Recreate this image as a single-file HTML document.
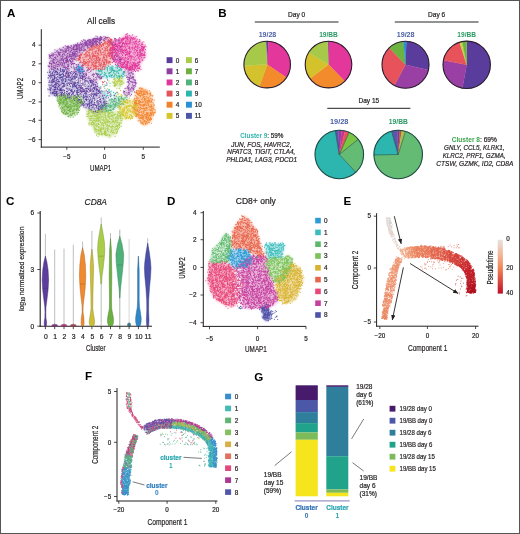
<!DOCTYPE html><html><head><meta charset="utf-8"><style>html,body{margin:0;padding:0;background:#fff;}svg{display:block;}text{font-family:"Liberation Sans", sans-serif;}svg{will-change:transform;}</style></head><body>
<svg width="520" height="534" viewBox="0 0 520 534">
<rect x="0" y="0" width="520" height="534" fill="#fff"/>
<defs><filter id="bl" x="-20%" y="-20%" width="140%" height="140%"><feGaussianBlur stdDeviation="1.3"/></filter></defs>
<text x="7.1" y="16.7" font-size="11.6" text-anchor="start" fill="#000" font-weight="bold" font-style="normal" >A</text>
<text x="218.3" y="16.7" font-size="11.6" text-anchor="start" fill="#000" font-weight="bold" font-style="normal" >B</text>
<text x="6" y="204.9" font-size="11.6" text-anchor="start" fill="#000" font-weight="bold" font-style="normal" >C</text>
<text x="166.9" y="204.9" font-size="11.6" text-anchor="start" fill="#000" font-weight="bold" font-style="normal" >D</text>
<text x="343.6" y="204.8" font-size="11.6" text-anchor="start" fill="#000" font-weight="bold" font-style="normal" >E</text>
<text x="84.9" y="380.4" font-size="11.6" text-anchor="start" fill="#000" font-weight="bold" font-style="normal" >F</text>
<text x="254.2" y="380.7" font-size="11.6" text-anchor="start" fill="#000" font-weight="bold" font-style="normal" >G</text>
<text x="87.1" y="23.7" font-size="8.5" text-anchor="start" fill="#231f20" font-weight="normal" font-style="normal" stroke="#231f20" stroke-width="0.2" textLength="27.9" lengthAdjust="spacingAndGlyphs" >All cells</text>
<line x1="41.3" y1="29.2" x2="41.3" y2="147.6" stroke="#231f20" stroke-width="1" />
<line x1="40.8" y1="147.1" x2="159.8" y2="147.1" stroke="#231f20" stroke-width="1" />
<line x1="38.5" y1="45.2" x2="41.3" y2="45.2" stroke="#231f20" stroke-width="0.8" />
<text x="35.6" y="47.400000000000006" font-size="6.3" text-anchor="end" fill="#231f20" font-weight="normal" font-style="normal" stroke="#231f20" stroke-width="0.2" >4</text>
<line x1="38.5" y1="63.8" x2="41.3" y2="63.8" stroke="#231f20" stroke-width="0.8" />
<text x="35.6" y="66.0" font-size="6.3" text-anchor="end" fill="#231f20" font-weight="normal" font-style="normal" stroke="#231f20" stroke-width="0.2" >2</text>
<line x1="38.5" y1="82.7" x2="41.3" y2="82.7" stroke="#231f20" stroke-width="0.8" />
<text x="35.6" y="84.9" font-size="6.3" text-anchor="end" fill="#231f20" font-weight="normal" font-style="normal" stroke="#231f20" stroke-width="0.2" >0</text>
<line x1="38.5" y1="101.9" x2="41.3" y2="101.9" stroke="#231f20" stroke-width="0.8" />
<text x="35.6" y="104.10000000000001" font-size="6.3" text-anchor="end" fill="#231f20" font-weight="normal" font-style="normal" stroke="#231f20" stroke-width="0.2" >−2</text>
<line x1="38.5" y1="120.3" x2="41.3" y2="120.3" stroke="#231f20" stroke-width="0.8" />
<text x="35.6" y="122.5" font-size="6.3" text-anchor="end" fill="#231f20" font-weight="normal" font-style="normal" stroke="#231f20" stroke-width="0.2" >−4</text>
<line x1="38.5" y1="139.6" x2="41.3" y2="139.6" stroke="#231f20" stroke-width="0.8" />
<text x="35.6" y="141.79999999999998" font-size="6.3" text-anchor="end" fill="#231f20" font-weight="normal" font-style="normal" stroke="#231f20" stroke-width="0.2" >−6</text>
<line x1="66.8" y1="147.1" x2="66.8" y2="149.9" stroke="#231f20" stroke-width="0.8" />
<text x="66.8" y="159.2" font-size="6.3" text-anchor="middle" fill="#231f20" font-weight="normal" font-style="normal" stroke="#231f20" stroke-width="0.2" >−5</text>
<line x1="104.6" y1="147.1" x2="104.6" y2="149.9" stroke="#231f20" stroke-width="0.8" />
<text x="104.6" y="159.2" font-size="6.3" text-anchor="middle" fill="#231f20" font-weight="normal" font-style="normal" stroke="#231f20" stroke-width="0.2" >0</text>
<line x1="143.3" y1="147.1" x2="143.3" y2="149.9" stroke="#231f20" stroke-width="0.8" />
<text x="143.3" y="159.2" font-size="6.3" text-anchor="middle" fill="#231f20" font-weight="normal" font-style="normal" stroke="#231f20" stroke-width="0.2" >5</text>
<text x="90" y="171.1" font-size="8.8" text-anchor="start" fill="#231f20" font-weight="normal" font-style="normal" stroke="#231f20" stroke-width="0.2" textLength="21.2" lengthAdjust="spacingAndGlyphs" >UMAP1</text>
<text x="0" y="0" font-size="8.8" text-anchor="middle" fill="#231f20" stroke="#231f20" stroke-width="0.2" textLength="21.1" lengthAdjust="spacingAndGlyphs" transform="translate(23.4,88.5) rotate(-90)">UMAP2</text>
<rect x="166.6" y="57.20" width="5.9" height="5.9" fill="#5a3c9c"/>
<text x="175.79999999999998" y="62.5" font-size="6.4" text-anchor="start" fill="#231f20" font-weight="normal" font-style="normal" stroke="#231f20" stroke-width="0.2" >0</text>
<rect x="166.6" y="68.34" width="5.9" height="5.9" fill="#8e3fa2"/>
<text x="175.79999999999998" y="73.64" font-size="6.4" text-anchor="start" fill="#231f20" font-weight="normal" font-style="normal" stroke="#231f20" stroke-width="0.2" >1</text>
<rect x="166.6" y="79.48" width="5.9" height="5.9" fill="#e2379a"/>
<text x="175.79999999999998" y="84.78" font-size="6.4" text-anchor="start" fill="#231f20" font-weight="normal" font-style="normal" stroke="#231f20" stroke-width="0.2" >2</text>
<rect x="166.6" y="90.62" width="5.9" height="5.9" fill="#e4525a"/>
<text x="175.79999999999998" y="95.92" font-size="6.4" text-anchor="start" fill="#231f20" font-weight="normal" font-style="normal" stroke="#231f20" stroke-width="0.2" >3</text>
<rect x="166.6" y="101.76" width="5.9" height="5.9" fill="#f38129"/>
<text x="175.79999999999998" y="107.06" font-size="6.4" text-anchor="start" fill="#231f20" font-weight="normal" font-style="normal" stroke="#231f20" stroke-width="0.2" >4</text>
<rect x="166.6" y="112.90" width="5.9" height="5.9" fill="#d4c62a"/>
<text x="175.79999999999998" y="118.2" font-size="6.4" text-anchor="start" fill="#231f20" font-weight="normal" font-style="normal" stroke="#231f20" stroke-width="0.2" >5</text>
<rect x="186" y="57.20" width="5.9" height="5.9" fill="#a8cd4b"/>
<text x="194.7" y="62.5" font-size="6.4" text-anchor="start" fill="#231f20" font-weight="normal" font-style="normal" stroke="#231f20" stroke-width="0.2" >6</text>
<rect x="186" y="68.34" width="5.9" height="5.9" fill="#6cb13f"/>
<text x="194.7" y="73.64" font-size="6.4" text-anchor="start" fill="#231f20" font-weight="normal" font-style="normal" stroke="#231f20" stroke-width="0.2" >7</text>
<rect x="186" y="79.48" width="5.9" height="5.9" fill="#4fb47a"/>
<text x="194.7" y="84.78" font-size="6.4" text-anchor="start" fill="#231f20" font-weight="normal" font-style="normal" stroke="#231f20" stroke-width="0.2" >8</text>
<rect x="186" y="90.62" width="5.9" height="5.9" fill="#2db5b0"/>
<text x="194.7" y="95.92" font-size="6.4" text-anchor="start" fill="#231f20" font-weight="normal" font-style="normal" stroke="#231f20" stroke-width="0.2" >9</text>
<rect x="186" y="101.76" width="5.9" height="5.9" fill="#2a8fd3"/>
<text x="194.7" y="107.06" font-size="6.4" text-anchor="start" fill="#231f20" font-weight="normal" font-style="normal" stroke="#231f20" stroke-width="0.2" >10</text>
<rect x="186" y="112.90" width="5.9" height="5.9" fill="#4a57a8"/>
<text x="194.7" y="118.2" font-size="6.4" text-anchor="start" fill="#231f20" font-weight="normal" font-style="normal" stroke="#231f20" stroke-width="0.2" >11</text>
<g filter="url(#bl)">
<path d="M49.0 54.0L51.0 53.5L52.8 52.5L54.4 51.2L56.0 50.0L58.2 49.1L60.4 48.2L62.5 47.1L64.8 46.2L67.1 46.2L69.6 46.4L71.9 46.2L74.0 45.3L76.1 44.2L78.0 43.3L80.0 42.6L81.9 41.7L83.8 40.8L85.8 40.2L88.0 40.0L90.1 40.0L92.1 39.6L94.0 38.6L95.9 37.6L97.9 36.9L100.0 36.7L102.3 36.9L104.7 37.0L106.8 36.9L104.9 38.5L103.6 40.2L101.9 41.7L100.2 43.5L98.4 44.8L96.3 45.6L94.1 46.2L92.1 47.1L90.0 48.0L87.8 48.7L85.7 49.7L83.8 51.2L82.2 53.0L80.5 54.4L78.8 56.1L77.0 57.8L75.5 59.8L74.7 61.9L73.9 63.8L71.9 64.9L70.1 66.2L68.4 67.7L66.2 69.1L64.1 69.0L62.0 68.6L59.9 68.4L58.0 68.8L55.7 69.2L53.5 69.5L51.2 69.7L48.9 70.0L48.5 68.0L48.4 66.0L48.7 64.0L49.3 62.0L49.7 60.0L49.4 58.0L48.9 56.0Z" fill="#8e3fa2" fill-opacity="0.38"/>
<path d="M66.0 68.0L68.4 67.7L70.4 66.8L72.3 65.5L74.1 64.2L76.0 63.1L78.1 61.9L80.4 62.8L82.5 64.0L84.1 65.8L85.8 67.4L87.7 68.6L89.9 69.2L92.1 69.8L94.1 70.7L96.1 71.9L98.1 72.9L100.1 74.0L100.5 76.0L100.7 78.2L101.7 79.1L99.8 80.1L98.1 81.5L95.6 82.7L93.6 81.7L91.8 80.4L89.9 79.3L87.9 78.2L86.1 76.8L84.3 75.3L82.4 74.3L80.1 73.8L77.9 73.9L75.9 73.6L73.9 72.7L72.1 71.8L70.2 70.4L68.1 69.2Z" fill="#8e3fa2" fill-opacity="0.21"/>
<path d="M75.7 59.8L77.3 58.0L78.7 56.0L80.1 54.1L82.3 53.2L84.4 52.2L86.2 50.6L87.8 48.6L89.5 47.1L91.6 46.2L93.9 45.7L96.0 45.0L98.1 44.1L100.2 43.3L102.3 42.6L104.4 41.5L106.0 39.5L108.2 37.4L110.6 38.6L112.7 40.0L112.9 42.4L113.5 44.7L114.0 47.0L113.7 49.2L113.7 51.5L114.0 53.8L113.9 56.1L113.1 58.0L112.1 59.9L111.3 61.9L111.5 63.3L109.8 65.0L107.9 66.5L106.0 68.0L104.1 69.0L102.2 70.0L100.0 70.7L98.0 70.2L96.0 69.6L94.0 69.4L92.1 69.7L89.9 69.2L87.8 68.4L85.9 67.2L83.9 66.1L82.3 64.9L80.8 63.6L79.5 62.1L78.2 60.5Z" fill="#e4525a" fill-opacity="0.38"/>
<path d="M66.1 47.2L68.0 46.3L70.0 45.6L72.0 45.1L73.9 44.3L75.8 43.5L77.9 43.0L80.1 43.0L82.3 42.9L84.3 42.3L86.1 41.1L87.9 39.8L89.9 39.0L91.9 38.5L93.9 38.0L95.8 37.4L97.9 37.0L100.0 37.1L102.1 37.4L104.1 37.3L106.0 36.6L108.2 35.9L110.1 39.3L108.0 39.6L106.0 40.1L104.0 40.7L101.9 41.2L99.9 41.5L97.8 42.0L96.0 43.1L94.2 44.4L92.3 45.4L90.3 45.8L88.1 46.0L85.9 46.4L83.9 47.1L81.8 47.8L79.8 48.4L77.8 48.9L75.9 49.9L74.1 51.2L72.2 52.1L69.6 52.3L68.7 50.3L67.7 48.4Z" fill="#8e3fa2" fill-opacity="0.17"/>
<path d="M145.8 52.5L146.1 54.7L146.0 57.1L144.7 59.0L143.3 60.7L141.7 62.3L140.7 64.3L139.1 66.0L137.4 67.5L135.3 68.4L133.1 69.5L130.9 70.0L128.5 69.8L126.3 68.7L124.4 67.9L122.2 67.3L119.8 67.1L117.8 66.0L116.0 64.7L114.5 62.9L112.9 61.2L112.1 59.1L111.7 56.9L111.9 54.6L111.4 52.6L111.1 50.3L110.9 47.8L111.9 45.8L113.2 43.9L114.8 42.3L116.3 40.7L118.2 39.5L120.1 38.6L122.1 37.6L124.0 36.1L126.1 35.0L128.6 34.5L130.8 35.3L133.0 36.0L135.1 37.0L137.2 37.9L138.8 39.4L140.5 40.8L142.2 42.3L144.1 43.8L145.1 45.8L145.5 48.1L145.1 50.4Z" fill="#e2379a" fill-opacity="0.42"/>
<path d="M120.0 65.9L121.9 65.0L123.9 64.5L125.9 64.7L128.0 64.9L130.0 64.9L132.0 64.6L134.0 64.4L135.8 64.3L137.8 65.6L140.1 66.5L142.5 68.5L140.2 70.2L138.1 71.4L136.1 71.0L134.1 71.1L132.0 71.2L130.0 71.2L127.9 71.1L125.7 70.2L123.5 69.3L121.6 67.9Z" fill="#e2379a" fill-opacity="0.30"/>
<path d="M96.6 70.2L98.3 69.3L100.3 68.7L102.3 68.0L104.0 67.1L106.0 66.8L108.0 66.6L110.1 66.4L112.0 66.0L114.0 65.3L116.2 65.4L118.1 66.0L120.0 67.1L121.5 68.0L122.7 69.5L124.3 70.8L125.8 71.9L125.0 74.5L124.0 77.4L122.1 78.0L120.1 78.3L118.1 78.2L116.0 77.8L113.9 77.5L111.9 77.8L110.0 78.6L108.0 78.8L106.0 78.8L104.0 78.6L101.9 78.6L99.3 77.6L97.0 76.0L97.6 73.5Z" fill="#2db5b0" fill-opacity="0.26"/>
<path d="M124.7 81.9L123.6 84.3L121.6 86.6L118.6 87.5L115.2 87.1L112.2 85.1L111.8 81.9L113.3 79.5L115.3 77.2L118.6 75.8L122.0 76.7L124.4 79.0Z" fill="#a8cd4b" fill-opacity="0.30"/>
<path d="M121.8 82.4L120.9 84.0L119.2 85.1L116.6 84.7L115.4 82.3L116.7 80.0L119.0 79.6L120.9 80.5Z" fill="#d4c62a" fill-opacity="0.17"/>
<path d="M124.1 72.2L125.8 70.9L127.8 70.0L130.3 69.7L131.7 71.3L133.4 72.6L135.0 74.0L135.1 76.0L135.1 78.0L135.4 80.0L136.2 82.0L136.4 84.1L136.2 86.1L135.5 88.0L134.6 89.8L133.0 91.6L131.9 93.7L130.9 95.6L128.4 96.2L125.8 97.1L124.4 94.9L123.7 92.6L123.8 89.9L125.7 88.3L127.1 86.3L128.2 84.0L127.7 81.7L127.4 79.3L126.9 77.1L125.1 74.7Z" fill="#8e3fa2" fill-opacity="0.26"/>
<path d="M49.0 70.1L51.3 70.2L53.5 70.1L55.7 69.4L57.9 68.7L59.9 68.4L62.0 68.6L64.1 68.8L65.6 68.6L67.7 69.8L69.7 71.0L71.9 72.4L74.0 72.5L76.2 72.4L78.3 72.5L80.4 73.2L82.1 74.9L83.8 76.4L85.8 77.4L87.9 78.2L90.0 79.1L91.9 80.1L94.0 80.9L96.3 81.8L97.6 83.8L98.4 86.2L99.2 88.4L100.4 90.3L102.0 92.0L103.5 93.8L104.5 95.8L105.3 97.8L106.1 99.8L106.7 101.8L107.0 104.0L106.0 105.9L105.3 107.8L105.7 109.3L104.0 111.0L102.2 112.4L100.0 113.3L97.7 113.1L95.3 113.1L93.0 113.1L91.1 111.8L89.2 110.5L87.2 109.8L84.9 108.4L83.0 106.6L81.8 104.3L80.3 102.8L78.7 101.6L77.0 100.6L75.2 99.4L73.0 98.7L70.6 98.3L68.2 98.4L65.9 98.4L63.7 98.1L61.5 97.2L59.3 96.5L57.0 96.3L54.7 96.1L52.4 95.7L50.1 95.5L49.4 93.2L48.6 91.0L48.5 88.7L48.9 86.2L48.9 84.1L48.9 82.1L48.5 80.0L48.3 78.0L48.3 76.0L48.3 74.0L48.1 71.9Z" fill="#5a3c9c" fill-opacity="0.32"/>
<path d="M96.8 107.6L98.5 106.5L100.6 105.8L102.6 105.2L104.4 104.2L106.1 102.8L107.9 101.2L109.8 100.0L111.8 99.0L113.8 98.1L115.7 97.2L117.9 96.6L120.0 96.5L122.1 96.9L124.1 96.7L126.0 96.0L128.2 95.6L127.7 97.8L126.9 99.9L126.1 102.2L124.4 103.5L122.6 104.6L120.5 105.5L118.8 106.5L116.9 107.7L115.2 109.2L113.3 110.4L111.1 111.0L108.7 110.8L106.4 110.9L104.2 111.2L102.4 111.5L100.8 110.0L99.0 108.9Z" fill="#4fb47a" fill-opacity="0.34"/>
<path d="M137.9 109.0L137.4 111.0L136.8 113.0L134.3 115.7L131.6 118.4L127.9 120.1L124.3 118.7L121.3 116.3L119.3 113.0L119.0 111.0L118.4 109.0L118.3 106.9L118.3 104.5L121.2 101.5L124.5 100.1L127.9 99.0L131.5 99.5L135.3 101.3L137.6 104.8L137.3 107.0Z" fill="#d4c62a" fill-opacity="0.36"/>
<path d="M153.8 105.4L154.9 107.9L155.5 110.5L154.8 112.8L154.0 115.1L153.1 117.0L152.5 119.0L150.5 122.0L148.4 124.1L145.9 125.7L142.9 125.6L140.7 123.3L138.7 120.3L137.4 118.6L136.1 116.9L135.3 114.7L134.3 112.5L133.4 110.1L132.9 107.6L133.6 105.1L134.4 102.7L134.8 100.4L134.6 98.1L134.8 96.0L135.4 93.9L137.0 90.5L139.2 88.0L142.0 87.6L144.4 88.5L147.2 89.7L150.4 92.1L151.3 94.0L152.1 96.0L152.7 98.3L153.3 100.6L153.3 103.1Z" fill="#f38129" fill-opacity="0.42"/>
<path d="M86.9 110.5L89.1 110.0L91.4 109.9L93.8 110.4L95.9 110.6L97.9 110.5L100.0 110.1L102.0 109.8L104.0 109.7L106.0 109.9L108.1 110.0L110.1 110.0L112.0 110.5L114.0 111.2L116.0 111.9L118.0 112.1L119.8 111.6L121.2 113.9L122.0 116.4L122.5 119.0L121.9 121.2L121.4 123.5L120.5 125.6L119.8 127.5L118.7 129.7L117.9 132.3L116.4 135.0L114.3 135.6L112.1 136.0L110.0 136.6L108.0 137.4L106.1 136.7L104.1 136.1L102.1 135.7L100.2 135.8L97.7 134.7L95.6 133.1L94.1 130.9L93.2 129.0L92.0 127.3L90.7 125.7L89.5 124.0L88.8 121.7L87.8 119.4L86.6 117.1L86.5 115.1L87.0 113.0Z" fill="#a8cd4b" fill-opacity="0.38"/>
<path d="M57.0 95.3L59.2 95.1L61.3 94.8L63.5 94.4L65.6 94.4L67.8 94.9L69.9 95.6L71.9 96.2L73.9 96.1L76.0 95.8L78.0 95.8L80.0 96.1L82.1 96.5L83.2 98.7L84.1 101.1L82.6 102.9L81.1 104.7L80.2 106.8L79.5 109.2L78.6 111.5L76.9 113.5L74.8 114.6L72.8 115.9L71.1 117.2L68.5 116.0L66.2 115.5L64.3 113.9L62.3 112.4L60.8 110.3L60.2 107.8L59.3 105.3L58.1 103.0L57.8 100.5L57.6 98.0Z" fill="#6cb13f" fill-opacity="0.47"/>
<path d="M83.0 68.5L83.7 71.0L83.6 73.3L82.3 74.6L80.5 74.4L78.7 73.0L77.1 70.7L76.8 67.9L77.8 66.1L78.6 65.5L79.8 65.4L81.9 66.3Z" fill="#2a8fd3" fill-opacity="0.51"/>
<path d="M118.2 95.1L116.7 98.5L114.6 99.0L112.5 99.5L110.0 99.5L107.6 99.7L105.6 98.7L103.6 97.9L101.5 94.7L103.2 91.3L105.5 91.0L107.5 90.9L110.0 91.2L112.2 90.8L114.4 91.4L116.3 92.1Z" fill="#2db5b0" fill-opacity="0.09"/>
</g>
<path d="M109.2 73.3h0M109.8 72.4h0M111.9 70.1h0M113.4 70.5h0M112.4 69.7h0M111.1 71.9h0" stroke="#4fb47a" stroke-width="1.1" stroke-linecap="round" fill="none"/>
<path d="M128.3 74.7h0M124.9 71.8h0M132.3 74.0h0M126.1 75.6h0M129.5 79.1h0M127.8 79.4h0M133.3 73.9h0M130.1 75.1h0M131.2 72.6h0M128.9 92.0h0M132.9 74.0h0M128.4 81.6h0M123.7 92.7h0M124.6 91.6h0M130.1 69.2h0M128.9 87.4h0M124.2 93.7h0M128.1 71.9h0M131.3 70.2h0M135.5 82.7h0M130.0 72.9h0M132.7 77.4h0M131.2 78.2h0M135.4 84.7h0M129.1 79.1h0M129.4 80.4h0M126.8 68.5h0M133.4 90.0h0M132.7 73.8h0M125.1 88.4h0M127.2 81.9h0M125.2 94.5h0M133.3 79.0h0M133.0 82.4h0M133.9 89.2h0M131.0 88.5h0M134.1 87.6h0M127.5 95.0h0M135.3 83.3h0M127.0 88.1h0M129.2 83.2h0M134.9 79.9h0M130.0 76.1h0M135.3 81.9h0M131.2 77.7h0M124.1 92.1h0M128.4 85.7h0M124.2 91.5h0M129.8 73.5h0M133.2 88.2h0M130.7 78.4h0M134.5 91.9h0M126.3 95.9h0M128.6 85.8h0M128.5 77.6h0M130.5 75.3h0M130.3 95.7h0M132.0 91.1h0" stroke="#8e3fa2" stroke-width="1.1" stroke-linecap="round" fill="none"/>
<path d="M104.9 108.2h0M121.6 97.6h0M103.5 106.9h0M116.0 104.8h0M115.1 106.4h0M122.4 103.4h0M118.9 99.6h0M108.4 106.1h0M123.1 98.4h0M113.5 104.8h0M115.8 104.2h0M99.4 109.9h0M115.2 104.9h0M116.7 102.3h0M111.2 106.4h0M104.4 108.2h0M122.9 98.5h0M105.8 111.0h0M101.5 107.0h0M122.0 104.1h0M125.6 102.1h0M118.6 99.5h0M117.5 105.8h0M109.8 105.8h0M107.0 110.6h0M110.6 109.7h0M119.2 96.4h0M110.6 105.6h0M102.0 111.6h0M112.3 109.2h0M114.9 96.8h0M107.3 105.5h0M119.4 99.0h0M99.0 108.9h0M125.8 95.0h0M114.1 104.8h0M107.1 105.4h0M123.6 104.3h0M116.2 103.9h0M109.1 100.4h0M113.5 108.8h0M108.7 110.1h0M110.4 107.6h0M124.7 101.3h0M105.8 107.7h0M121.5 97.2h0M115.8 104.2h0M124.6 99.0h0M115.3 103.1h0M114.8 105.0h0M120.9 101.5h0M127.1 97.3h0M126.8 99.5h0M102.3 109.4h0M119.2 103.0h0M105.4 111.1h0M106.6 110.4h0M115.4 104.3h0M123.0 99.2h0M103.0 109.2h0M120.5 104.2h0M106.2 105.6h0M101.6 108.2h0M115.7 98.7h0M101.5 108.1h0M111.6 98.9h0M116.3 100.0h0M111.7 101.1h0M114.0 100.4h0M105.5 104.1h0M114.9 107.3h0M109.7 106.2h0M112.2 104.7h0M109.7 110.5h0M106.4 105.9h0M118.9 104.9h0M113.7 100.0h0" stroke="#4fb47a" stroke-width="1.1" stroke-linecap="round" fill="none"/>
<path d="M123.9 83.0h0M114.9 79.5h0M114.7 85.6h0M117.4 77.7h0M113.7 79.2h0M119.6 78.4h0M114.0 83.3h0M114.9 85.5h0M118.1 75.5h0M112.3 81.8h0M120.1 84.8h0M120.3 86.0h0M114.7 81.5h0M118.5 80.9h0M122.1 83.3h0M117.8 77.5h0M116.2 85.0h0M122.0 80.9h0M113.9 85.7h0M122.2 78.3h0M120.9 82.3h0M117.2 83.1h0M113.9 85.7h0M122.3 81.8h0M115.0 83.6h0M119.6 79.9h0M117.6 78.5h0M121.4 78.6h0M121.1 78.0h0M120.6 82.0h0M116.8 81.6h0M116.8 88.2h0M113.9 85.7h0M120.2 77.5h0" stroke="#a8cd4b" stroke-width="1.1" stroke-linecap="round" fill="none"/>
<path d="M114.8 98.4h0M110.7 94.0h0M109.7 92.4h0M110.4 96.6h0M106.6 96.7h0M114.6 95.4h0M107.2 93.7h0" stroke="#8e3fa2" stroke-width="1.1" stroke-linecap="round" fill="none"/>
<path d="M129.4 116.4h0M133.3 108.2h0M120.3 108.6h0M124.4 109.6h0M131.8 111.6h0M122.6 111.4h0M126.6 106.3h0M126.4 117.0h0M120.3 107.8h0M132.8 101.0h0M120.7 107.3h0M125.6 119.0h0M134.4 114.9h0M131.2 115.3h0M135.1 113.2h0M128.0 110.4h0M135.9 112.2h0M131.6 115.3h0M124.4 110.6h0M132.6 103.2h0M132.1 116.6h0M137.9 113.1h0M121.3 111.6h0M126.2 113.7h0M122.4 108.9h0M134.4 99.2h0M126.5 118.0h0M125.8 115.4h0M135.5 102.1h0M128.5 111.8h0M121.1 112.5h0M134.1 104.2h0M133.4 107.0h0M123.9 108.4h0M128.1 102.5h0M124.8 108.1h0M132.4 118.4h0M129.3 100.2h0M132.7 112.4h0M133.6 104.7h0M123.3 100.3h0M129.4 98.1h0M125.9 102.6h0M130.6 119.0h0M125.3 101.4h0M119.3 105.2h0M133.5 113.7h0M132.5 118.3h0M128.3 117.6h0M118.5 105.8h0M131.0 115.2h0M125.0 113.9h0M124.9 105.0h0M124.6 101.0h0M130.1 118.0h0M136.1 103.8h0M122.2 112.8h0M127.4 100.0h0M127.1 100.6h0M131.3 106.4h0M135.8 102.6h0M131.1 118.4h0M133.2 106.3h0M130.5 111.1h0M126.7 106.7h0M123.7 115.5h0M133.0 101.3h0M124.2 108.3h0M130.0 114.6h0M133.3 108.4h0M124.0 111.1h0M137.0 104.8h0M126.5 106.7h0M122.1 109.7h0M130.8 115.0h0M131.6 106.4h0M134.4 104.3h0M122.8 113.4h0M119.0 111.6h0M124.4 101.2h0M131.3 115.6h0M127.3 102.7h0M135.2 112.5h0M129.0 101.0h0M125.8 114.7h0M120.4 115.5h0M128.5 105.6h0M124.0 116.7h0M123.6 109.7h0M134.8 104.3h0M128.4 106.4h0M133.2 116.8h0M131.5 111.8h0M130.7 101.0h0M126.5 117.5h0M129.4 106.1h0M133.1 102.0h0M127.6 113.2h0M126.5 107.8h0M128.2 117.3h0M127.1 112.8h0M126.8 113.4h0" stroke="#d4c62a" stroke-width="1.1" stroke-linecap="round" fill="none"/>
<path d="M143.8 121.6h0M145.8 110.5h0M150.2 119.0h0M144.6 120.7h0M138.0 93.3h0M142.3 113.7h0M149.3 122.7h0M152.2 99.0h0M141.7 116.2h0M144.4 100.2h0M143.1 102.0h0M136.6 101.1h0M139.8 114.7h0M151.5 110.3h0M147.1 114.0h0M136.9 100.3h0M135.7 106.0h0M143.2 123.1h0M145.7 104.6h0M139.4 110.4h0M142.3 101.1h0M143.3 119.6h0M146.5 107.5h0M138.7 107.9h0M150.5 94.2h0M151.2 104.9h0M136.2 98.7h0M150.3 94.3h0M149.7 119.9h0M147.5 117.3h0M144.6 108.4h0M143.6 93.5h0M145.4 94.2h0M140.5 95.8h0M145.6 114.7h0M136.7 103.4h0M140.3 107.6h0M139.4 88.5h0M146.1 121.5h0M147.4 122.7h0M153.3 103.9h0M136.4 111.0h0M149.7 109.0h0M144.4 93.4h0M146.8 114.8h0M151.9 95.4h0M141.5 92.2h0M149.7 100.3h0M141.0 104.9h0M144.2 105.2h0M136.3 91.3h0M149.7 100.6h0M135.4 110.6h0M135.4 100.4h0M153.0 107.7h0M145.2 118.3h0M147.5 94.0h0M144.2 96.5h0M153.8 109.1h0M143.7 117.3h0M142.5 95.8h0M139.3 100.9h0M149.7 96.8h0M141.0 93.6h0M138.9 116.6h0M138.7 95.0h0M149.1 101.9h0M150.3 112.2h0M143.3 101.6h0M154.4 100.0h0M149.0 99.4h0M141.9 115.2h0M144.3 120.7h0M153.6 113.0h0M151.6 106.4h0M138.6 103.6h0M148.6 101.3h0M147.5 114.1h0M136.8 116.5h0M143.4 124.2h0M140.2 90.3h0M145.8 103.1h0M143.8 104.2h0M150.1 113.9h0M147.6 115.1h0M144.0 90.0h0M151.3 114.0h0M137.1 113.4h0M154.4 112.2h0M150.0 120.8h0M150.3 119.7h0M151.3 106.2h0M134.7 103.1h0M138.4 111.5h0M148.1 100.6h0M155.6 112.0h0M143.5 111.8h0M138.1 93.2h0M141.0 121.9h0M150.3 110.2h0M150.8 113.4h0M153.1 108.0h0M146.5 116.6h0M153.0 102.2h0M144.5 104.3h0M146.7 115.9h0M147.0 112.7h0M144.0 94.0h0M137.8 109.6h0M147.5 93.6h0M147.7 113.1h0M135.2 102.6h0M151.2 112.0h0M136.7 115.1h0M138.3 100.2h0M139.5 112.4h0M140.6 97.0h0M145.8 116.5h0M152.6 112.9h0M138.3 94.5h0M140.8 102.8h0M141.6 92.0h0M145.8 94.1h0M136.2 102.5h0M135.6 103.9h0M147.2 115.4h0M139.9 105.1h0M142.0 104.9h0M147.5 120.6h0M144.2 91.7h0M150.7 112.0h0M137.5 92.9h0M145.6 123.3h0M141.0 123.1h0M140.9 109.0h0M142.6 108.7h0M148.5 103.9h0M140.6 101.8h0M140.7 107.0h0M151.5 101.0h0M146.9 119.2h0M138.6 91.0h0M134.2 111.3h0M143.0 111.0h0M142.8 118.3h0M137.4 111.0h0M138.8 94.4h0M150.3 106.5h0M134.5 103.3h0M147.3 92.4h0M145.6 91.2h0M143.2 119.7h0M141.5 112.6h0M151.8 108.0h0M151.1 115.2h0M140.2 118.0h0M137.5 94.3h0M150.6 110.3h0M146.4 108.9h0M152.4 99.8h0M140.8 111.9h0M147.8 102.9h0M141.2 111.5h0M146.0 107.3h0M148.1 119.1h0M145.8 92.5h0M143.6 116.5h0M141.4 118.1h0M142.1 99.2h0M138.6 112.0h0M153.0 112.8h0M139.1 115.4h0M139.6 93.4h0M144.0 109.9h0M138.4 117.0h0M136.8 109.4h0M138.5 101.9h0M136.5 96.8h0M151.3 102.2h0M139.7 102.4h0M150.8 115.9h0M135.1 109.3h0M149.2 119.1h0M144.4 110.5h0M147.6 115.1h0M144.7 112.0h0M144.4 94.0h0M145.8 108.3h0M144.2 91.5h0M133.9 99.9h0M135.7 116.1h0M146.5 105.6h0M150.8 98.5h0M136.2 92.3h0M142.5 94.8h0M135.2 95.6h0M138.6 98.1h0M139.7 91.1h0M138.5 90.9h0M147.8 112.9h0M140.5 91.9h0M139.4 120.2h0M142.9 88.9h0M142.8 117.6h0M148.8 109.7h0M146.9 123.7h0M134.2 109.4h0M147.3 94.1h0M139.5 108.0h0M141.4 102.5h0M144.9 114.2h0M146.3 102.9h0M138.8 103.5h0M141.6 108.3h0M148.6 97.9h0M147.7 102.0h0M138.0 91.1h0M134.2 112.6h0M140.8 104.7h0M145.4 123.8h0M143.3 117.1h0M146.5 117.7h0M142.1 114.2h0M143.0 116.6h0" stroke="#f38129" stroke-width="1.1" stroke-linecap="round" fill="none"/>
<path d="M86.1 88.4h0M71.0 80.3h0M71.1 74.3h0M71.6 78.6h0M78.2 80.8h0M101.8 90.7h0M71.9 85.9h0M63.5 79.1h0M78.9 76.7h0M78.5 87.7h0M80.5 87.3h0M69.9 74.7h0M73.8 73.5h0M92.4 80.9h0M88.4 95.9h0M76.6 73.2h0M74.7 81.6h0M66.3 77.0h0M65.0 75.8h0M94.1 89.6h0M86.2 83.2h0M92.1 84.0h0M85.2 80.4h0M82.4 78.7h0M88.8 92.9h0M77.8 80.9h0M74.2 83.4h0M82.6 90.7h0M88.7 89.2h0M82.5 79.9h0M94.2 89.7h0M90.3 82.1h0M91.4 85.4h0M66.0 79.0h0M70.1 75.4h0M91.0 93.0h0M89.7 91.1h0M99.5 91.9h0M83.9 84.7h0M85.2 76.8h0M65.5 73.8h0M80.4 80.8h0M70.1 83.5h0" stroke="#8e3fa2" stroke-width="1.1" stroke-linecap="round" fill="none"/>
<path d="M87.7 46.5h0M73.1 55.7h0M65.3 45.9h0M80.3 44.4h0M76.5 46.4h0M66.4 51.2h0M86.3 45.3h0M51.7 67.8h0M77.7 52.2h0M79.3 52.5h0M79.5 47.3h0M64.7 63.1h0M53.5 59.5h0M69.6 59.4h0M63.8 59.5h0M61.7 62.2h0M81.7 46.8h0M70.2 54.2h0M77.8 44.1h0M51.7 67.8h0M73.2 55.8h0M101.3 37.4h0M73.5 46.3h0M52.7 60.0h0M66.1 57.3h0M64.6 62.6h0M51.1 68.3h0M88.2 40.9h0M99.7 43.5h0M66.6 56.6h0M69.5 55.3h0M71.5 62.8h0M52.0 54.9h0M68.6 61.2h0M60.1 52.6h0M50.4 57.2h0M51.9 60.7h0M61.3 58.9h0M52.2 54.6h0M66.6 58.8h0M92.2 43.8h0M72.8 54.2h0M77.5 56.0h0M93.6 39.1h0M56.7 54.9h0M96.1 38.5h0M92.0 43.8h0M97.6 38.4h0M67.5 48.2h0M72.6 58.6h0M96.6 44.5h0M50.5 61.0h0M79.2 57.8h0M63.8 53.5h0M101.6 39.0h0M77.1 45.5h0M82.3 43.8h0M77.7 49.1h0M64.5 63.9h0M52.8 63.0h0M75.4 44.8h0M77.3 51.1h0M80.3 54.7h0M84.3 40.1h0M50.0 58.0h0M57.1 50.2h0M63.9 51.7h0M53.2 69.1h0M68.6 50.5h0M82.4 41.4h0M84.2 45.5h0M66.9 59.5h0M67.6 66.2h0M67.3 46.9h0M70.7 63.2h0M68.0 69.1h0M52.9 55.2h0M93.8 39.7h0M72.8 49.5h0M87.4 45.5h0M73.7 49.2h0M85.5 42.9h0M64.0 65.4h0M84.2 46.7h0M77.0 49.6h0M75.0 49.4h0M66.3 67.6h0M76.4 47.8h0M83.1 47.1h0M63.3 60.4h0M99.5 42.8h0M59.8 53.9h0M50.2 55.5h0M63.9 53.6h0M88.9 43.8h0M100.3 43.1h0M59.9 62.4h0M51.3 55.4h0M63.3 47.4h0M89.1 40.1h0M66.2 57.8h0M54.9 49.8h0M79.0 45.1h0M50.2 56.5h0M65.2 50.3h0M65.1 52.2h0M79.6 49.7h0M88.8 43.1h0M74.1 58.1h0M73.1 47.8h0M73.2 54.9h0M75.8 49.1h0M66.2 61.2h0M60.9 63.1h0M65.9 60.2h0M57.5 68.6h0M66.9 56.4h0M88.9 45.0h0M100.3 37.9h0M55.0 54.5h0M93.2 45.7h0M58.4 54.6h0M93.3 43.6h0M74.3 59.2h0M72.4 63.7h0M72.9 53.3h0M86.0 45.3h0M74.6 54.3h0M62.0 56.1h0M83.8 50.9h0M87.6 47.9h0M93.3 40.2h0M90.9 46.6h0M54.5 67.5h0M81.8 44.3h0M60.9 56.2h0M95.8 41.3h0M65.3 58.2h0M53.6 53.9h0M53.6 66.8h0M55.1 57.3h0M59.6 52.8h0M76.8 49.4h0M83.4 39.9h0M79.9 48.2h0M69.0 53.3h0M85.4 40.2h0M73.7 48.3h0M66.3 58.7h0M72.8 54.9h0M62.9 58.0h0M100.2 40.2h0M49.7 56.5h0M65.5 51.2h0M69.6 56.6h0M66.5 60.9h0M85.6 49.6h0M84.2 42.5h0M58.4 61.9h0M94.0 44.6h0M72.8 58.9h0M71.8 59.1h0M85.2 49.7h0M64.9 49.1h0M79.7 50.7h0M49.8 63.4h0M49.6 56.5h0M58.6 52.2h0M57.9 56.7h0M67.4 61.3h0M84.7 49.9h0M92.1 46.2h0M66.9 54.2h0M80.0 57.2h0M53.4 62.5h0M70.1 54.7h0M69.5 54.6h0M58.1 52.3h0M82.2 52.9h0M97.5 36.8h0M81.0 50.4h0M52.0 53.1h0M85.3 50.3h0M64.4 58.2h0M86.3 41.5h0M68.1 64.5h0M65.1 55.5h0M76.8 47.8h0M57.1 59.5h0M91.2 45.4h0M76.8 51.1h0M59.1 63.7h0M75.3 52.7h0M55.7 66.9h0M78.9 49.0h0M64.4 54.1h0M96.7 40.0h0M64.1 67.2h0M71.3 58.7h0M50.4 63.5h0M56.8 51.6h0M62.6 63.9h0M69.0 47.3h0M66.0 50.9h0M85.9 43.9h0M71.4 56.6h0M66.4 49.6h0M70.5 56.3h0M68.2 45.9h0M93.6 40.7h0M53.9 65.2h0M67.2 57.1h0M92.8 42.9h0M63.5 61.4h0M95.2 40.6h0M53.1 55.2h0M100.5 39.8h0M56.1 58.7h0M71.5 58.7h0M68.2 66.9h0M55.6 58.2h0M78.4 47.7h0M59.4 55.0h0M62.3 58.0h0M75.4 49.5h0M54.2 63.4h0M70.8 52.1h0M81.4 50.3h0M48.9 66.7h0M76.6 56.3h0M53.8 62.5h0M100.0 40.8h0M81.3 48.5h0M88.3 47.6h0M68.7 57.5h0M87.1 45.6h0M74.0 55.8h0M74.3 53.6h0M76.5 49.1h0M67.5 53.5h0M68.6 66.5h0M81.9 44.0h0M55.8 57.1h0M62.8 58.2h0M82.2 43.6h0M57.5 56.1h0M61.4 65.7h0M70.3 60.7h0M68.3 62.7h0M57.9 60.5h0M70.5 61.4h0M55.7 68.7h0M61.7 59.4h0M70.3 61.3h0M65.8 62.1h0M65.4 66.9h0M79.9 48.4h0M92.5 44.9h0M60.8 50.5h0M71.9 56.1h0" stroke="#8e3fa2" stroke-width="1.1" stroke-linecap="round" fill="none"/>
<path d="M110.1 83.2h0M107.0 84.1h0M109.2 89.3h0M106.8 85.4h0M100.9 86.5h0M110.3 91.7h0M105.2 94.1h0" stroke="#2db5b0" stroke-width="1.1" stroke-linecap="round" fill="none"/>
<path d="M69.7 109.1h0M74.5 106.0h0M74.7 98.4h0M77.3 112.9h0M59.4 97.4h0M75.7 98.2h0M73.6 97.1h0M72.0 101.7h0M70.5 106.1h0M75.1 105.5h0M67.1 108.8h0M68.5 106.4h0M81.6 103.1h0M61.4 100.9h0M70.5 101.6h0M74.0 109.5h0M81.2 99.6h0M66.4 102.2h0M63.5 99.7h0M64.0 93.0h0M72.0 99.9h0M58.0 96.1h0M62.4 110.3h0M72.9 101.0h0M69.1 100.1h0M80.7 103.4h0M57.1 100.6h0M80.4 102.6h0M76.0 104.1h0M71.0 106.1h0M65.2 105.9h0M74.6 106.8h0M74.2 106.8h0M77.2 106.0h0M70.3 117.0h0M73.5 98.8h0M66.5 100.6h0M67.0 98.2h0M67.9 103.1h0M61.4 103.0h0M76.5 110.6h0M73.3 111.7h0M62.9 101.5h0M70.2 112.0h0M76.5 102.3h0M64.2 107.8h0M73.2 117.1h0M72.6 105.2h0M64.9 106.4h0M63.9 103.5h0M70.9 99.7h0M66.1 104.5h0M69.3 98.5h0M61.1 103.2h0M66.0 113.5h0M66.2 99.5h0M60.7 108.1h0M59.4 102.2h0M72.6 98.8h0M77.5 99.8h0M65.7 113.6h0M79.2 110.5h0M75.1 115.8h0M63.3 113.7h0M64.4 111.3h0M76.7 109.3h0M69.4 107.7h0M63.1 103.5h0M70.3 97.6h0M70.8 111.2h0M73.8 101.8h0M63.6 100.8h0M76.2 109.5h0M77.7 107.0h0M65.0 110.3h0M60.6 98.2h0M73.0 110.1h0M64.4 100.1h0M72.8 106.5h0M71.1 108.4h0M57.9 98.0h0M74.9 100.1h0M67.4 107.3h0M73.9 110.4h0M65.6 105.8h0M70.6 109.5h0M70.3 106.3h0M77.2 108.3h0M66.3 109.3h0M74.4 98.4h0M77.9 108.5h0M59.0 106.8h0M63.8 113.4h0M59.6 102.8h0M80.0 96.4h0M76.0 99.3h0M68.4 113.2h0M74.8 112.8h0M61.1 101.0h0M75.3 95.8h0M69.2 104.8h0M76.7 104.3h0M78.2 103.6h0M65.3 100.6h0M76.8 97.1h0M69.3 98.0h0M79.2 106.3h0M66.8 105.0h0M64.6 109.3h0M69.4 109.4h0M66.0 98.4h0M64.7 95.9h0M64.4 97.5h0M82.9 102.8h0M60.0 102.3h0M71.1 100.7h0M76.8 109.3h0M74.3 113.1h0M64.8 97.7h0M61.7 95.6h0M64.2 96.5h0M67.3 107.6h0M68.0 103.5h0M75.3 104.8h0M59.3 105.2h0M77.0 98.6h0M69.7 95.1h0M73.7 96.5h0M70.8 106.4h0M61.1 99.2h0M71.7 108.7h0M66.6 112.9h0M64.0 95.6h0M77.0 101.3h0M73.9 108.6h0M72.7 111.6h0M59.2 99.1h0M68.6 116.6h0M69.6 104.8h0M70.9 111.4h0M70.9 114.8h0M60.2 103.2h0M63.6 95.4h0M60.6 98.1h0M74.1 113.3h0M60.1 102.6h0M73.2 113.0h0M71.2 105.7h0M61.7 106.8h0M64.1 101.8h0M80.8 100.6h0M74.1 98.0h0M74.9 109.2h0M66.6 111.9h0M77.9 100.6h0M69.5 111.2h0M61.1 101.1h0M68.2 107.4h0M65.4 113.6h0M62.6 107.6h0M58.1 99.8h0M62.3 104.7h0M72.4 100.3h0M68.1 116.4h0M77.1 101.1h0M74.6 103.4h0M68.0 105.6h0M77.1 114.5h0M76.2 106.4h0M80.4 100.9h0M70.2 115.2h0M63.6 94.7h0M60.7 102.6h0M66.0 114.4h0M67.6 106.8h0M82.2 102.7h0" stroke="#6cb13f" stroke-width="1.1" stroke-linecap="round" fill="none"/>
<path d="M111.4 91.0h0M114.3 99.3h0M105.6 97.6h0M103.5 97.7h0M110.7 93.8h0M108.9 89.7h0M107.8 95.4h0M115.6 93.4h0M103.6 97.9h0M107.1 91.6h0M105.7 96.0h0M108.1 95.9h0M114.9 94.1h0" stroke="#2db5b0" stroke-width="1.1" stroke-linecap="round" fill="none"/>
<path d="M83.0 71.0h0M82.3 71.6h0M79.3 67.2h0M81.4 75.5h0M78.5 70.9h0M80.0 71.4h0M78.1 66.3h0M82.2 73.7h0M76.8 66.9h0M79.7 68.9h0M79.2 67.3h0M80.1 67.2h0M78.9 69.8h0M77.2 69.2h0M80.8 71.4h0M78.1 66.1h0M79.7 71.0h0M76.4 68.7h0M78.1 68.1h0M82.5 69.4h0M80.4 67.3h0M78.6 64.4h0M79.8 67.9h0" stroke="#2a8fd3" stroke-width="1.1" stroke-linecap="round" fill="none"/>
<path d="M108.6 97.8h0M114.9 101.4h0M106.9 98.0h0M117.0 92.4h0M109.9 95.1h0" stroke="#8e3fa2" stroke-width="1.1" stroke-linecap="round" fill="none"/>
<path d="M94.4 104.3h0M66.2 91.9h0M57.1 93.7h0M54.6 81.7h0M73.6 78.9h0M54.8 78.0h0M94.7 102.9h0M70.5 73.1h0M102.4 105.8h0M83.9 97.6h0M69.0 97.2h0M68.7 82.3h0M72.7 78.1h0M89.0 101.7h0M60.4 69.1h0M86.1 81.4h0M74.8 86.0h0M87.0 88.2h0M94.9 89.7h0M95.6 105.2h0M68.1 90.8h0M87.8 97.0h0M85.2 85.1h0M72.3 92.7h0M101.0 108.5h0M62.4 86.5h0M64.3 85.1h0M99.1 106.5h0M100.2 108.2h0M83.4 91.3h0M100.8 104.1h0M67.7 95.3h0M71.5 77.4h0M60.6 69.3h0M59.0 85.0h0M66.9 88.9h0M93.8 111.9h0M99.2 107.0h0M98.3 100.2h0M81.6 87.9h0M88.3 104.2h0M66.9 91.3h0M76.1 96.7h0M62.1 83.8h0M100.8 111.6h0M66.0 72.9h0M70.6 72.6h0M67.5 98.0h0M100.5 99.4h0M55.0 77.9h0M82.1 77.8h0M63.0 71.2h0M72.3 78.9h0M59.1 92.7h0M99.7 101.6h0M91.5 105.4h0M90.9 102.3h0M74.4 72.4h0M88.4 99.0h0M73.5 77.4h0M91.9 80.8h0M52.5 82.5h0M75.0 74.3h0M98.8 104.5h0M78.3 78.9h0M62.7 76.8h0M51.0 88.5h0M80.2 87.4h0M93.8 107.0h0M93.2 93.2h0M99.0 103.4h0M76.7 88.5h0M61.6 79.7h0M69.6 75.9h0M68.6 77.0h0M84.2 96.2h0M61.7 74.5h0M104.6 105.3h0M49.8 76.0h0M66.5 80.6h0M67.6 96.1h0M64.0 90.3h0M83.6 100.5h0M88.5 89.4h0M96.7 95.7h0M91.6 80.7h0M70.4 81.4h0M93.2 81.4h0M104.9 100.1h0M72.5 93.8h0M64.2 92.4h0M59.9 88.8h0M90.2 99.1h0M60.6 71.6h0M80.6 77.2h0M71.3 90.2h0M78.3 85.8h0M84.1 76.9h0M93.7 96.4h0M60.2 79.0h0M58.0 81.1h0M54.4 78.3h0M92.3 89.8h0M70.8 84.9h0M64.4 84.2h0M100.8 107.8h0M56.3 80.9h0M94.2 98.6h0M77.9 82.4h0M92.9 100.7h0M86.7 93.4h0M55.8 71.7h0M63.3 83.0h0M71.6 89.8h0M53.5 81.1h0M54.8 70.5h0M71.1 94.7h0M53.8 82.1h0M75.3 76.3h0M60.9 92.4h0M62.3 79.9h0M89.2 84.8h0M102.8 107.8h0M49.7 76.4h0M76.7 77.4h0M63.4 72.2h0M96.3 90.7h0M66.6 70.0h0M49.4 80.9h0M62.8 87.2h0M80.1 75.8h0M53.8 69.6h0M95.3 86.8h0M90.6 82.1h0M90.5 80.2h0M97.4 83.8h0M71.2 90.3h0M59.9 85.5h0M86.8 91.8h0M91.2 86.2h0M83.6 105.1h0M63.2 76.0h0M59.0 77.5h0M64.1 86.3h0M85.3 96.6h0M85.0 89.6h0M89.9 110.5h0M95.1 104.5h0M85.9 80.9h0M76.2 76.3h0M97.0 102.0h0M58.6 86.8h0M70.4 77.4h0M102.9 98.6h0M96.6 89.9h0M60.7 89.3h0M74.2 84.7h0M90.0 99.8h0M71.5 73.2h0M87.8 91.5h0M64.1 69.8h0M82.5 75.9h0M92.4 83.7h0M62.3 70.5h0M90.1 80.8h0M94.3 87.4h0M89.7 93.3h0M89.6 80.1h0M86.9 96.2h0M79.7 97.4h0M52.2 73.5h0M53.0 74.5h0M56.8 85.7h0M89.7 101.7h0M88.8 96.8h0M91.1 83.7h0M73.5 86.2h0M58.2 89.7h0M80.8 90.4h0M98.0 97.5h0M55.5 87.9h0M58.6 79.7h0M61.0 92.0h0M75.7 83.2h0M93.2 85.5h0M65.7 87.0h0M90.6 81.0h0M57.4 83.5h0M50.9 85.4h0M89.4 106.1h0M101.1 100.7h0M61.3 90.5h0M77.2 93.3h0M60.3 75.2h0M76.5 97.5h0M85.5 78.4h0M53.3 75.7h0M52.5 72.3h0M89.6 90.2h0M55.7 96.0h0M80.9 94.7h0M80.4 90.6h0M84.3 91.2h0M78.7 95.5h0M105.7 109.1h0M93.8 83.8h0M51.7 82.6h0M85.0 91.8h0M78.0 88.6h0M60.2 90.4h0M85.7 92.0h0M68.0 74.9h0M100.1 106.3h0M83.8 95.0h0M55.2 72.7h0M89.5 85.1h0M86.8 90.3h0M89.6 100.4h0M79.3 102.5h0M51.4 80.8h0M61.2 87.9h0M77.0 94.8h0M65.9 79.4h0M56.7 92.4h0M66.0 98.6h0M103.1 105.1h0M85.1 101.1h0M68.1 88.6h0M93.1 97.0h0M51.1 87.0h0M59.3 75.7h0M61.1 96.0h0M66.4 91.8h0M83.8 90.1h0M49.2 89.1h0M66.5 73.4h0M101.8 102.9h0M58.7 83.8h0M86.0 93.4h0M95.9 89.2h0M101.9 106.8h0M74.0 76.5h0M73.1 93.8h0M57.4 96.0h0M86.5 100.6h0M74.7 100.4h0M88.9 108.9h0M56.5 78.7h0M95.9 93.2h0M97.0 86.6h0M104.5 105.3h0M69.4 76.0h0M60.8 77.4h0M77.5 93.1h0M48.8 75.4h0M49.0 89.6h0M96.5 101.7h0M80.9 78.4h0M95.6 111.3h0M89.9 90.3h0M82.4 87.3h0M96.4 105.9h0M91.2 103.6h0M96.6 107.0h0M81.6 101.2h0M83.7 95.5h0M80.4 93.5h0M89.6 94.7h0M86.3 98.4h0M86.5 99.1h0M83.1 76.6h0M100.4 100.2h0M102.2 112.0h0M77.8 91.0h0M78.6 90.5h0M75.8 74.1h0M81.2 86.2h0M71.2 96.0h0M100.4 101.8h0M98.6 109.9h0M105.0 101.5h0M102.8 96.1h0M55.5 68.3h0M54.8 89.4h0M72.0 81.6h0M69.8 94.4h0M102.9 101.6h0M52.4 93.5h0M82.1 98.9h0M50.5 77.9h0M78.5 95.9h0M98.4 91.2h0M93.1 88.0h0M49.7 72.5h0M61.7 79.9h0M63.7 74.6h0M80.0 99.0h0M97.7 100.1h0M50.0 82.3h0M94.8 94.0h0M55.5 87.1h0M93.6 91.4h0M53.8 91.0h0M83.0 89.4h0M74.8 73.2h0M61.3 76.6h0M53.5 79.5h0M86.0 89.7h0M62.4 84.7h0M91.6 105.2h0M49.8 71.7h0M62.1 76.4h0M67.7 92.1h0M58.1 69.7h0M89.5 108.0h0M70.8 82.9h0M65.0 96.1h0M82.8 103.1h0M53.9 92.2h0M106.7 103.5h0M68.0 73.2h0M77.7 94.4h0M62.7 84.4h0M64.2 71.4h0M69.0 72.6h0M94.0 89.8h0M81.8 92.3h0M64.9 76.1h0M98.2 105.8h0M52.7 81.2h0M102.0 105.0h0M59.5 81.7h0M67.8 95.7h0M71.8 73.9h0M50.8 87.9h0M62.1 90.5h0M89.8 103.1h0M62.3 69.7h0M49.1 95.9h0M82.5 77.0h0M50.7 71.7h0M56.1 94.2h0M93.2 91.4h0M106.1 103.5h0M59.2 87.3h0M59.1 91.3h0M54.9 80.3h0M104.2 103.3h0M83.9 107.0h0M90.8 97.8h0M84.9 90.0h0M84.6 93.3h0M63.6 71.3h0M100.9 93.6h0M61.0 89.5h0M89.9 99.8h0M50.0 76.3h0M103.6 98.3h0M105.0 104.4h0M56.1 82.5h0M84.6 102.0h0M98.9 104.0h0M73.8 78.9h0M59.6 74.7h0M53.9 79.4h0M90.8 95.2h0M76.6 95.5h0M60.9 95.0h0M62.7 84.0h0M99.5 92.3h0M86.0 107.6h0M103.7 101.6h0M55.8 87.2h0M57.7 79.6h0M89.4 103.2h0M63.6 86.5h0M59.1 89.7h0M63.5 83.6h0M98.2 97.9h0M66.5 77.1h0M51.4 75.6h0M60.5 90.1h0M82.4 77.2h0M82.7 91.5h0M57.4 74.0h0M47.7 72.2h0M62.6 83.6h0M74.3 85.8h0M99.3 90.5h0M100.1 102.2h0M61.5 77.4h0M84.1 75.1h0M103.9 105.3h0M57.1 83.5h0M97.7 112.4h0M74.6 90.6h0M55.9 84.7h0M70.0 80.6h0M78.2 81.4h0M93.5 87.7h0M74.9 74.5h0M72.0 77.6h0M98.5 110.8h0M64.2 70.5h0M79.7 86.1h0M71.6 79.6h0M66.6 71.7h0M83.3 105.6h0M69.5 76.0h0M102.8 95.3h0M54.3 93.7h0M67.8 84.8h0M64.6 84.8h0M88.1 92.3h0M83.1 105.6h0M94.1 111.5h0M54.7 87.1h0M52.4 86.0h0M81.8 98.0h0M54.7 84.5h0M61.5 90.4h0M53.8 92.4h0M78.4 80.6h0M54.1 89.6h0M67.3 85.6h0M102.6 108.0h0M53.5 71.1h0M85.9 96.6h0M50.8 93.3h0M48.9 82.2h0M97.7 99.0h0M101.8 109.6h0M63.3 92.4h0M78.6 99.3h0M77.3 90.0h0M53.4 71.2h0M92.4 88.7h0M59.7 78.1h0M75.4 86.5h0M57.1 79.3h0M94.2 106.3h0M84.6 79.3h0M106.8 103.6h0M97.9 101.1h0M75.5 77.9h0M74.2 87.5h0M68.6 75.9h0M58.3 86.3h0M70.3 90.4h0M79.3 99.6h0M69.0 88.4h0M52.1 69.1h0M85.3 86.6h0M66.9 72.6h0M62.8 74.3h0M71.5 94.5h0M79.9 88.7h0M96.8 92.5h0M56.8 84.1h0M100.3 108.2h0M60.0 89.1h0M77.3 88.7h0M56.5 71.4h0M62.5 92.5h0M88.5 96.1h0M57.1 80.3h0M59.0 81.6h0M69.9 97.1h0M69.3 89.2h0M54.2 87.7h0" stroke="#5a3c9c" stroke-width="1.1" stroke-linecap="round" fill="none"/>
<path d="M119.1 69.6h0M102.3 73.1h0M112.6 69.5h0M119.4 76.4h0M112.7 68.3h0M109.8 68.9h0M98.2 74.7h0M116.9 71.6h0M100.1 71.1h0M106.0 73.0h0M124.3 71.6h0M112.5 70.5h0M120.6 68.3h0M111.6 71.2h0M115.7 67.7h0M111.5 69.2h0M119.3 67.4h0M109.7 68.7h0M119.8 76.2h0M99.8 71.0h0M111.3 76.1h0M111.6 75.6h0M101.8 77.8h0M119.9 70.8h0M98.3 73.7h0M104.4 69.2h0M100.9 70.9h0M112.2 74.2h0M110.0 76.1h0M122.4 74.7h0M115.7 73.7h0M123.7 73.8h0M117.1 70.2h0M123.0 76.5h0M101.1 77.0h0M111.0 67.7h0M118.3 76.0h0M108.6 66.5h0M124.1 72.6h0M103.3 76.6h0M109.5 76.4h0M114.7 70.9h0M116.3 77.0h0M98.9 74.0h0M112.8 68.5h0M121.2 75.4h0M97.1 73.4h0M114.4 76.9h0M111.5 68.7h0M101.1 69.3h0M108.9 75.3h0M110.8 74.9h0M97.4 74.0h0M118.3 73.5h0M112.8 68.0h0M98.4 70.4h0M122.2 73.3h0M124.4 75.8h0M106.5 75.5h0M105.2 73.6h0M108.3 65.2h0M98.5 71.0h0M116.7 72.7h0M98.6 69.0h0M118.8 70.0h0M107.5 67.3h0M99.8 70.3h0M112.1 70.8h0M119.1 70.2h0M107.3 69.4h0M105.7 68.0h0M105.1 74.9h0" stroke="#2db5b0" stroke-width="1.1" stroke-linecap="round" fill="none"/>
<path d="M123.4 71.2h0M117.3 71.2h0M121.3 70.6h0M117.1 65.6h0M113.6 76.2h0M118.6 70.7h0M118.1 72.6h0M98.1 70.7h0M112.9 77.2h0M119.2 75.2h0M101.3 74.2h0M117.3 68.4h0M111.3 77.2h0M121.3 69.5h0M99.6 71.6h0M113.0 66.2h0M117.3 66.9h0M107.3 68.6h0M100.4 74.8h0M119.3 78.7h0M122.7 76.9h0M112.0 65.9h0M118.8 73.5h0M114.9 74.5h0M106.2 78.0h0M120.2 69.0h0M111.8 75.5h0M119.5 77.3h0M112.3 68.1h0M119.9 69.9h0M105.1 75.1h0M104.1 75.7h0M114.4 70.3h0M104.2 74.2h0M116.1 65.5h0M123.6 74.5h0M119.8 76.3h0M111.9 67.2h0M122.0 69.0h0M118.0 76.9h0M117.0 66.8h0M107.5 77.8h0M107.7 76.5h0M116.4 75.4h0M110.0 66.9h0M120.3 68.2h0M114.0 71.6h0M107.3 71.0h0M103.5 66.1h0M109.2 72.7h0M106.5 76.6h0M113.6 70.1h0M107.5 70.0h0M101.8 70.4h0M121.6 76.0h0M118.6 73.6h0M123.2 72.1h0M114.9 70.6h0M101.1 73.9h0M109.0 73.5h0M113.5 72.5h0M102.0 72.0h0M117.0 67.2h0M110.6 72.6h0M101.5 71.6h0M111.0 67.9h0M123.8 73.1h0M111.2 70.8h0M110.3 69.9h0M113.9 71.5h0M120.9 76.2h0M96.1 70.9h0M109.3 73.6h0M107.0 67.2h0" stroke="#2db5b0" stroke-width="1.1" stroke-linecap="round" fill="none"/>
<path d="M123.4 43.0h0M125.4 41.7h0M126.7 46.0h0M118.9 57.9h0M112.1 52.6h0M134.5 48.5h0M130.1 67.2h0M120.5 64.1h0M131.8 38.2h0M144.6 55.4h0M113.1 47.3h0M136.4 50.9h0M139.1 64.7h0M143.0 50.2h0M129.4 69.0h0M127.9 38.6h0M137.6 52.4h0M117.6 64.4h0M124.8 62.7h0M133.5 63.8h0M139.5 39.8h0M115.8 54.7h0M124.6 62.7h0M138.0 62.6h0M136.7 43.7h0M134.0 42.5h0M115.1 52.3h0M125.3 47.4h0M135.3 53.0h0M117.6 50.5h0M115.2 55.5h0M144.3 47.2h0M115.6 44.2h0M114.3 52.5h0M122.6 38.2h0M120.0 57.3h0M119.4 46.7h0M123.7 59.0h0M140.0 41.0h0M127.5 55.0h0M132.7 62.3h0M115.4 62.5h0M142.4 50.8h0M118.2 49.6h0M117.8 51.9h0M129.5 51.3h0M122.4 39.3h0M130.0 52.9h0M138.2 65.0h0M127.4 64.6h0M119.8 59.8h0M122.5 50.2h0M122.1 44.4h0M127.3 64.0h0M130.9 55.7h0M145.3 49.6h0M123.3 52.8h0M121.9 38.7h0M134.3 65.8h0M138.7 65.1h0M141.2 54.7h0M116.2 45.0h0M123.0 46.7h0M126.1 43.5h0M134.9 63.1h0M139.8 56.2h0M128.2 53.3h0M113.4 59.9h0M139.4 44.1h0M134.7 47.4h0M127.0 38.8h0M112.2 53.0h0M115.0 48.8h0M116.9 39.4h0M123.0 43.2h0M119.4 43.4h0M116.4 52.9h0M121.9 67.5h0M142.6 49.4h0M126.4 64.3h0M116.0 46.3h0M119.1 61.3h0M144.7 57.6h0M129.4 43.8h0M144.8 46.5h0M139.8 51.3h0M117.5 54.0h0M131.0 69.5h0M122.8 42.4h0M119.1 60.0h0M137.9 55.8h0M122.8 41.8h0M134.8 67.8h0M134.2 62.4h0M121.8 49.0h0M132.8 69.1h0M127.9 61.5h0M126.3 66.4h0M119.9 50.5h0M122.3 65.4h0M123.7 52.7h0M117.8 63.4h0M123.9 66.4h0M112.4 50.1h0M125.3 51.2h0M130.0 61.0h0M119.4 58.8h0M141.7 43.7h0M127.8 43.5h0M126.8 49.3h0M142.0 53.0h0M143.4 47.1h0M135.4 41.3h0M139.5 49.9h0M129.0 52.0h0M136.8 58.7h0M126.9 62.0h0M143.5 48.9h0M135.2 52.5h0M130.9 36.9h0M127.4 54.5h0M130.7 66.4h0M135.1 64.6h0M137.5 44.7h0M136.8 50.4h0M141.4 57.4h0M123.3 46.9h0M112.2 47.8h0M131.7 51.7h0M121.3 56.9h0M144.4 55.5h0M126.4 53.3h0M134.1 43.2h0M131.8 67.0h0M124.3 60.0h0M130.3 56.8h0M118.9 65.5h0M139.0 54.2h0M142.2 59.2h0M118.7 47.7h0M118.2 65.1h0M128.4 44.1h0M134.7 38.9h0M129.9 38.9h0M135.1 60.3h0M122.0 51.5h0M120.7 65.8h0M127.7 51.0h0M144.8 51.7h0M125.8 48.0h0M136.1 65.9h0M119.6 42.0h0M137.6 63.0h0M115.2 50.0h0M120.6 42.0h0M132.9 47.1h0M127.5 39.5h0M120.2 47.8h0M125.0 58.4h0M114.4 60.9h0M139.7 50.6h0M125.1 61.3h0M118.6 51.2h0M140.5 49.5h0M138.1 57.1h0M139.6 59.6h0M129.3 54.2h0M137.8 63.0h0M124.2 63.6h0M115.3 55.3h0M117.1 43.6h0M135.0 39.1h0M121.3 46.0h0M119.6 59.4h0M112.2 47.8h0M138.6 44.8h0M127.5 45.9h0M132.0 65.3h0M129.8 65.9h0M124.3 62.4h0M111.5 47.8h0M118.2 52.5h0M138.8 62.9h0M140.1 53.7h0M117.8 46.1h0M132.9 45.8h0M120.7 47.7h0M142.3 53.9h0M119.4 46.7h0M132.9 42.1h0M129.1 42.9h0M132.2 40.0h0M130.6 62.3h0M144.9 52.5h0M125.3 50.8h0M137.9 54.5h0M121.6 39.2h0M126.6 54.3h0M130.2 38.8h0M122.4 55.5h0M141.0 45.5h0M115.7 48.4h0M117.9 59.7h0M121.7 39.2h0M134.9 49.7h0M144.8 55.4h0M126.6 43.2h0M130.2 49.7h0M121.9 49.5h0M118.5 39.8h0M137.8 68.7h0M113.9 49.4h0M114.0 48.6h0M114.5 48.4h0M141.1 55.1h0M133.3 63.0h0M131.6 57.1h0M110.7 47.9h0M130.4 68.0h0M140.1 66.2h0M115.8 57.5h0M126.6 34.7h0M124.6 63.4h0M122.0 49.7h0M126.1 54.8h0M139.5 68.1h0M124.6 62.8h0M131.2 47.2h0M118.9 60.9h0M113.6 44.1h0M120.4 46.8h0M144.7 57.2h0M138.0 53.0h0M130.3 51.8h0M119.8 56.7h0M132.4 49.2h0M117.9 44.7h0M123.1 39.6h0M129.0 69.4h0M141.2 49.7h0M118.1 49.7h0M109.9 56.4h0M129.5 48.2h0M139.8 61.3h0M121.9 67.8h0M119.9 42.8h0M132.8 48.0h0M130.2 42.3h0M129.7 55.7h0M122.6 67.2h0M142.1 44.1h0M120.4 63.3h0M140.2 55.9h0M129.3 46.2h0M142.2 42.3h0M115.4 64.4h0M135.5 49.5h0M122.6 51.7h0M126.5 38.1h0M114.6 49.6h0M127.5 62.7h0M126.1 37.8h0M117.9 60.4h0M138.0 46.1h0M125.8 60.0h0M114.2 57.7h0M143.2 57.8h0M127.3 66.1h0M124.4 46.4h0M122.4 55.1h0M137.0 55.2h0M128.0 39.2h0M139.3 55.9h0M123.3 38.4h0M139.3 62.2h0M134.6 64.9h0M129.3 41.5h0M132.3 66.5h0M127.9 44.1h0M134.0 41.9h0M114.4 47.9h0M144.5 46.8h0M139.7 39.7h0M136.9 65.4h0M120.3 65.9h0M117.7 48.0h0M122.4 46.2h0M122.0 59.1h0M142.0 47.9h0M121.0 40.2h0M135.1 65.0h0M140.0 58.5h0M112.8 49.7h0M121.6 41.0h0M120.8 47.8h0M113.4 52.5h0M120.0 43.4h0M135.8 60.1h0M112.2 50.0h0M112.6 62.6h0M133.2 38.4h0M124.8 38.8h0M120.8 50.1h0M114.2 49.3h0M141.2 57.1h0M135.9 43.1h0M124.3 49.0h0M119.0 40.2h0M125.5 66.3h0M119.0 61.1h0M131.8 37.6h0M116.8 44.7h0M138.8 62.4h0M119.0 66.6h0M127.4 36.0h0M116.6 52.4h0M127.6 59.4h0M114.4 47.4h0M136.7 36.2h0M126.3 52.4h0M117.5 47.8h0M117.3 46.8h0M143.4 50.5h0M125.0 58.4h0M137.1 39.2h0M134.4 59.0h0M139.7 61.7h0M124.6 60.1h0M120.8 47.5h0M126.0 50.4h0M117.0 53.5h0M112.2 56.2h0M129.7 35.8h0M123.9 38.4h0M119.3 45.5h0M135.5 45.8h0M123.8 62.2h0M137.6 66.0h0M145.4 49.6h0" stroke="#e2379a" stroke-width="1.1" stroke-linecap="round" fill="none"/>
<path d="M101.7 78.2h0M102.6 82.8h0" stroke="#e4525a" stroke-width="1.1" stroke-linecap="round" fill="none"/>
<path d="M93.0 41.3h0M100.5 40.6h0M88.9 39.3h0M104.1 40.3h0M87.0 42.5h0M87.0 43.1h0M79.2 50.9h0M73.7 44.8h0M99.3 40.8h0M78.1 46.3h0M77.1 48.9h0M91.0 41.8h0M97.6 41.5h0M95.5 38.8h0M66.8 46.5h0M73.4 46.9h0M77.8 47.8h0M93.2 41.0h0M74.9 46.1h0M89.4 45.1h0M105.5 37.0h0M89.7 39.9h0M100.6 36.6h0M100.4 40.8h0M99.7 39.7h0M104.6 40.2h0M101.2 39.4h0M68.8 46.8h0M77.6 46.3h0M79.4 45.7h0M73.5 49.7h0M68.0 46.5h0M90.1 42.4h0M106.3 37.6h0M93.2 39.8h0M92.2 39.1h0M89.0 41.4h0M71.5 50.4h0M67.1 46.9h0M75.7 49.8h0M71.2 46.5h0M101.2 37.9h0M94.8 38.3h0M79.3 46.1h0M76.1 45.1h0M74.6 46.9h0M92.8 43.7h0M86.6 42.9h0M93.1 42.5h0M76.9 45.2h0M79.0 44.6h0M85.4 44.1h0M108.6 40.1h0M69.1 47.1h0M98.5 39.5h0" stroke="#8e3fa2" stroke-width="1.1" stroke-linecap="round" fill="none"/>
<path d="M86.3 77.8h0M57.2 91.6h0M50.2 89.5h0M98.1 109.5h0M105.9 107.0h0M98.6 93.4h0M80.5 102.3h0M92.3 82.1h0M99.6 99.7h0M94.3 108.9h0M57.4 72.4h0M67.4 71.7h0M74.8 78.1h0M80.8 88.0h0M94.2 94.4h0M64.4 86.1h0M65.7 81.4h0M98.5 111.7h0M87.0 99.4h0M72.1 88.9h0M106.1 106.2h0M52.4 80.7h0M66.6 91.6h0M105.1 107.2h0M95.7 85.3h0M61.9 83.0h0M52.2 82.8h0M54.8 85.1h0M97.1 108.5h0M68.5 93.6h0M59.4 95.5h0M54.3 72.8h0M89.6 89.7h0M54.5 76.9h0M62.3 77.9h0M65.6 84.7h0M93.0 95.1h0M67.9 77.5h0M84.8 104.9h0M74.0 76.4h0M65.8 82.6h0M67.3 68.9h0M82.4 78.5h0M54.4 91.2h0M60.2 89.7h0M58.8 73.9h0M96.9 86.8h0M94.9 89.9h0M90.7 96.4h0M70.0 98.0h0M64.9 83.4h0M50.5 74.8h0M53.1 85.6h0M56.7 93.5h0M55.0 77.1h0M50.4 90.4h0M52.7 92.4h0M73.3 84.1h0M99.9 99.3h0M71.3 77.6h0M93.4 91.2h0M97.6 86.1h0M78.9 89.2h0M56.1 71.6h0M84.5 101.5h0M75.7 85.2h0M67.5 94.5h0M52.6 75.4h0M57.7 76.5h0M74.7 83.4h0M102.9 109.3h0M79.0 72.4h0M93.2 91.3h0M91.0 90.8h0M56.4 95.2h0M60.2 77.8h0M52.8 78.1h0M100.7 107.9h0M93.6 84.5h0M82.7 88.7h0M68.5 73.5h0M91.7 82.2h0M95.5 111.1h0M65.0 75.8h0M97.2 93.5h0M70.3 86.5h0M98.4 90.5h0M70.0 88.7h0M61.4 80.8h0M65.6 81.4h0M57.0 95.8h0M69.9 92.3h0M60.7 88.5h0M72.3 72.2h0M85.4 93.0h0M80.8 105.9h0M50.8 75.7h0M75.1 83.2h0M65.7 74.6h0M64.2 93.8h0M91.2 99.4h0M72.9 85.2h0M77.1 100.7h0M97.3 111.0h0M89.6 105.2h0M68.3 79.4h0M77.9 81.9h0M79.7 94.8h0M90.8 81.9h0M56.5 94.1h0M56.8 77.5h0M68.3 75.8h0M100.7 105.6h0M79.3 75.3h0M77.7 103.3h0M101.4 107.8h0M57.1 74.2h0M51.2 81.5h0M70.1 83.9h0M97.7 89.2h0M69.2 77.7h0M56.2 87.9h0M52.4 79.5h0M69.1 94.7h0M84.1 97.3h0M47.7 89.0h0M81.7 101.3h0M71.1 78.8h0M83.3 103.6h0M48.2 78.1h0M97.8 103.9h0M82.1 84.7h0M57.1 72.8h0M74.0 83.9h0M84.6 82.0h0M77.6 92.4h0M88.1 86.8h0M62.8 73.3h0M72.9 90.7h0M86.9 80.5h0M94.0 95.3h0M81.7 101.9h0M55.0 86.9h0M63.9 93.5h0M80.0 90.8h0M90.9 105.5h0M87.8 93.3h0M96.7 105.5h0M81.1 95.0h0M92.8 99.8h0M95.8 84.8h0M95.2 94.4h0M80.3 85.2h0M76.6 86.9h0M53.5 81.3h0M83.9 91.5h0M105.0 102.9h0M81.8 85.4h0M62.0 94.1h0M56.2 71.4h0M80.2 88.3h0M71.9 76.2h0M71.6 98.2h0M104.3 99.2h0M79.1 92.0h0M94.1 88.6h0M77.1 75.8h0M51.7 84.7h0M74.2 91.4h0M70.9 74.2h0M55.7 83.4h0M63.7 93.4h0M49.5 87.0h0M97.7 90.0h0M88.8 107.3h0M78.0 100.7h0M58.5 80.4h0M55.6 89.4h0M93.5 111.6h0M77.8 84.5h0M98.1 102.2h0M94.4 93.8h0M99.7 89.1h0M65.7 84.6h0M87.5 104.4h0M84.2 85.1h0M85.1 89.4h0M91.8 102.3h0M55.9 82.3h0M59.5 72.8h0M79.1 100.3h0M74.2 95.2h0M62.1 89.4h0M71.9 88.6h0M74.1 77.5h0M73.0 92.1h0M79.1 78.1h0M57.6 79.6h0M67.5 82.9h0M84.1 76.9h0M103.4 101.6h0M76.9 87.8h0M87.0 104.1h0M65.1 84.1h0M81.6 96.5h0M56.5 92.8h0M55.4 84.2h0M69.3 93.5h0M89.6 92.8h0M55.1 93.6h0M64.5 90.5h0M82.8 104.4h0M84.3 102.0h0M106.7 101.3h0M81.1 83.1h0M49.0 85.2h0M72.9 76.5h0M49.0 84.9h0M99.3 97.4h0M74.7 75.4h0M53.4 93.2h0M67.7 97.8h0M86.0 88.2h0M73.9 92.3h0M69.4 84.5h0M93.0 91.2h0M73.4 73.1h0M52.7 93.6h0M70.1 79.2h0M62.0 82.3h0M65.8 98.3h0M69.7 73.7h0M103.8 99.4h0M71.4 71.6h0M75.9 95.4h0M54.8 95.6h0M72.6 74.1h0M93.0 100.0h0M57.1 72.0h0M73.7 87.8h0M66.8 93.6h0M71.9 91.5h0M74.9 87.0h0M69.5 79.4h0M75.2 82.2h0M76.5 92.6h0M72.3 80.1h0M83.5 98.1h0M73.3 93.3h0M68.6 83.6h0M66.3 88.9h0M54.8 78.2h0M70.8 91.3h0M99.0 87.3h0M62.1 91.0h0M91.8 101.2h0M66.7 81.0h0M67.0 76.3h0M83.2 100.4h0M60.5 68.3h0M97.9 99.5h0M85.7 88.7h0M84.8 81.9h0M74.6 85.4h0M96.0 107.3h0M80.2 73.4h0M58.0 93.6h0M103.6 101.5h0M95.9 95.5h0M92.6 107.0h0M63.6 76.3h0M83.0 99.8h0M93.8 99.9h0M93.4 88.5h0M56.3 83.8h0M54.2 94.9h0M94.2 88.0h0M89.7 104.2h0M75.1 78.7h0M87.1 97.0h0M53.9 75.6h0M69.8 80.4h0M96.5 82.3h0M91.5 110.1h0M53.0 89.7h0M77.9 83.0h0M92.0 107.8h0M94.8 88.7h0M84.6 102.6h0M80.9 91.4h0M54.3 78.7h0M57.2 74.4h0M63.3 95.1h0M96.3 88.6h0M56.3 74.2h0M55.6 93.3h0M62.0 71.5h0M94.4 102.8h0M99.9 109.2h0M53.5 85.8h0M94.8 100.0h0M54.5 90.7h0M87.9 94.6h0M86.7 99.7h0M98.6 108.6h0M83.3 95.3h0M63.3 75.3h0M74.6 82.0h0M100.2 99.0h0M52.3 73.2h0M80.8 91.4h0M98.8 108.2h0M50.8 75.0h0M57.2 94.6h0M93.7 104.4h0M81.8 88.5h0M71.5 83.4h0M60.1 90.5h0M79.3 85.6h0M101.2 104.3h0M91.1 109.3h0M103.9 101.4h0M55.0 76.0h0M70.9 76.0h0M91.2 98.9h0M72.3 73.7h0M94.6 96.8h0M84.0 81.8h0M56.5 91.4h0M81.2 91.5h0M74.5 84.3h0M92.4 104.3h0M60.8 84.3h0M93.2 105.1h0M87.1 103.4h0M65.0 74.7h0M96.9 105.5h0M77.4 94.8h0M53.1 86.4h0M72.7 84.1h0M99.5 103.8h0M87.6 105.5h0M92.0 89.6h0M89.4 106.4h0M55.7 71.0h0M62.8 73.9h0M61.1 94.4h0M61.2 93.4h0M57.5 89.0h0M75.5 82.1h0M50.8 88.8h0M60.2 70.4h0M93.0 87.9h0M93.9 90.4h0M72.9 94.0h0M63.0 69.6h0M61.8 95.6h0M103.9 102.6h0M64.9 92.1h0M55.1 71.8h0M65.5 69.0h0M92.4 98.0h0M69.0 72.1h0M61.2 88.8h0M57.5 81.3h0M69.2 80.5h0M86.7 91.8h0M55.2 91.1h0M71.6 91.4h0M54.5 78.1h0M89.0 103.0h0M59.2 85.5h0M54.3 81.2h0M72.7 82.0h0M50.9 73.8h0M98.9 106.9h0M85.5 103.7h0M98.5 112.3h0M60.3 90.5h0M58.9 84.8h0M78.0 96.3h0M55.6 93.3h0M89.4 96.5h0M93.2 88.8h0M70.9 75.5h0M86.8 97.7h0M104.5 95.3h0M100.3 92.1h0M82.3 78.4h0M89.1 86.3h0M97.9 99.8h0M97.4 110.9h0M97.3 94.9h0M63.2 89.4h0M96.7 93.9h0M57.6 72.7h0M86.1 94.8h0M98.9 110.1h0M65.1 81.8h0M57.5 87.9h0M73.8 98.9h0M54.7 74.5h0M103.8 101.8h0M59.9 75.0h0M75.6 73.2h0M52.4 92.0h0M88.5 103.7h0M58.3 81.4h0M90.8 94.3h0M86.3 85.3h0M57.7 81.0h0M83.4 91.4h0M72.7 85.5h0M61.0 74.4h0M50.9 92.2h0M55.7 86.0h0M72.9 87.3h0M62.4 84.2h0M89.5 93.0h0M73.7 78.2h0M81.7 101.3h0M67.9 77.4h0M103.0 101.3h0M63.3 89.8h0M94.3 90.1h0M90.3 109.5h0M100.8 107.8h0M101.1 102.5h0M57.2 69.0h0M54.0 75.5h0M65.7 98.2h0M75.0 87.3h0M68.0 68.8h0M77.2 74.5h0M61.5 92.9h0M82.8 79.9h0M54.2 93.3h0M98.7 110.3h0M71.4 90.1h0M85.6 99.4h0M58.1 81.9h0M63.6 85.3h0M89.3 103.1h0M96.1 112.2h0M100.0 95.7h0M77.7 91.0h0M53.3 80.0h0M92.0 95.1h0M92.2 94.5h0M96.6 95.1h0M64.2 70.7h0M100.9 101.6h0M95.0 84.6h0M67.9 82.2h0M55.3 91.9h0M85.7 93.2h0M83.9 80.0h0M57.1 89.6h0M101.4 111.4h0M103.1 106.3h0M64.8 95.0h0M81.7 104.9h0M92.2 94.5h0M70.3 91.3h0M97.1 93.6h0M82.8 75.7h0M73.7 94.4h0M66.6 77.3h0M48.2 77.6h0M98.3 91.4h0M87.2 105.9h0M51.7 76.9h0" stroke="#5a3c9c" stroke-width="1.1" stroke-linecap="round" fill="none"/>
<path d="M117.7 82.1h0M115.4 80.5h0M115.5 84.0h0M118.1 81.3h0M119.3 81.5h0M117.9 80.7h0" stroke="#d4c62a" stroke-width="1.1" stroke-linecap="round" fill="none"/>
<path d="M114.8 75.4h0M104.5 69.2h0M114.1 73.4h0M115.9 71.2h0M112.5 75.0h0M104.5 72.4h0M114.7 71.0h0M108.7 73.1h0" stroke="#4fb47a" stroke-width="1.1" stroke-linecap="round" fill="none"/>
<path d="M105.1 59.9h0M94.0 65.1h0M110.8 45.0h0M105.2 65.6h0M89.2 61.3h0M95.0 68.8h0M77.9 60.3h0M103.4 66.1h0M83.0 63.9h0M109.1 42.2h0M84.1 54.6h0M95.7 67.9h0M105.6 55.1h0M101.9 61.3h0M99.8 65.7h0M90.7 67.3h0M103.7 56.1h0M83.9 61.4h0M95.8 45.4h0M88.3 68.9h0M85.7 62.3h0M96.8 46.6h0M96.3 67.3h0M90.9 61.2h0M106.8 38.9h0M90.5 68.1h0M109.4 61.6h0M94.9 68.9h0M101.3 45.5h0M88.1 63.9h0M91.8 50.1h0M98.4 68.6h0M100.5 66.7h0M96.6 58.8h0M88.2 52.3h0M78.5 60.2h0M112.7 58.8h0M91.9 62.1h0M103.9 54.9h0M110.3 51.8h0M104.1 63.8h0M92.3 57.5h0M97.4 48.2h0M109.0 53.5h0M112.2 53.1h0M77.0 58.4h0M104.7 48.0h0M113.1 57.6h0M110.3 58.2h0M97.9 48.5h0M106.6 61.2h0M104.5 62.4h0M94.0 53.2h0M101.9 52.2h0M112.2 43.5h0M110.5 39.7h0M104.6 62.9h0M106.4 46.4h0M98.4 66.4h0M107.5 50.5h0M103.1 43.4h0M98.5 51.3h0M111.9 43.4h0M95.0 61.3h0M89.9 48.9h0M110.4 49.6h0M110.3 41.1h0M107.9 43.8h0M109.6 50.7h0M96.9 50.3h0M89.3 55.4h0M95.9 47.8h0M92.7 56.0h0M80.8 61.5h0M111.5 55.8h0M89.4 50.8h0M108.5 39.7h0M105.0 53.8h0M92.6 50.0h0M104.2 43.2h0M90.1 55.1h0M100.5 69.6h0M86.5 55.0h0M98.2 47.7h0M99.4 59.4h0M98.9 64.6h0M106.2 62.7h0M87.8 61.3h0M111.5 42.8h0M84.6 54.2h0M112.0 42.1h0M89.7 58.2h0M90.1 57.1h0M84.7 64.6h0M104.5 64.5h0M99.9 44.4h0M99.8 62.4h0M88.5 53.0h0M104.1 56.8h0M105.7 49.0h0M112.0 55.2h0M85.4 56.8h0M106.8 38.9h0M97.9 57.2h0M89.9 58.6h0M91.8 53.9h0M105.3 50.0h0M98.3 53.9h0M87.5 51.7h0M107.7 47.5h0M80.6 55.2h0M109.4 49.8h0M84.9 63.5h0M83.7 61.4h0M82.8 66.5h0M100.5 64.3h0M90.4 49.4h0M107.6 47.1h0M105.9 64.6h0M105.2 51.5h0M98.0 56.3h0M109.9 53.3h0M102.5 58.9h0M108.0 56.1h0M112.1 39.9h0M108.2 45.4h0M105.4 53.0h0M94.3 55.9h0M93.4 61.7h0M101.7 45.8h0M103.4 62.1h0M96.7 62.4h0M91.1 46.5h0M112.0 53.2h0M103.7 64.4h0M92.1 58.8h0M103.1 60.2h0M97.5 53.6h0M91.9 69.4h0M95.1 64.2h0M92.1 49.9h0M105.9 41.6h0M94.6 46.6h0M93.2 63.0h0M91.1 65.4h0M87.4 55.6h0M98.6 57.9h0M96.6 59.4h0M80.1 58.5h0M110.1 44.1h0M111.5 56.9h0M110.2 49.0h0M83.7 62.3h0M85.1 64.4h0M86.9 57.2h0M110.6 40.7h0M78.4 55.9h0M112.0 55.9h0M102.9 64.8h0M105.9 41.9h0M94.4 66.0h0M111.9 53.4h0M99.0 55.3h0M112.2 56.6h0M99.9 62.1h0M78.2 59.9h0M93.2 62.2h0M93.0 48.7h0M110.8 41.8h0M91.8 62.7h0M93.9 55.6h0M107.0 48.4h0M96.2 45.4h0M86.0 52.6h0M101.7 65.1h0M88.1 56.1h0M106.2 55.7h0M110.9 52.5h0M80.2 57.4h0M107.1 57.5h0M110.2 52.1h0M102.1 44.6h0M104.4 66.8h0M102.2 44.4h0M98.7 50.4h0M107.4 43.6h0M88.9 50.4h0M92.3 46.9h0M94.8 56.4h0M94.8 48.0h0M94.3 51.7h0M105.1 42.7h0M99.2 63.9h0M98.1 53.9h0M108.6 42.6h0M93.7 69.4h0M111.3 50.6h0M87.8 63.8h0M110.2 50.2h0M95.1 55.2h0M86.8 59.6h0M108.6 63.1h0M109.2 54.8h0M105.1 66.8h0M89.6 52.9h0M96.7 51.1h0M85.3 55.7h0M113.0 57.6h0M93.4 62.6h0M102.4 48.7h0M98.2 61.1h0M99.8 45.3h0M112.4 50.1h0M98.5 69.2h0M109.7 62.7h0M108.1 40.9h0M89.8 54.9h0M90.3 49.7h0M96.2 61.0h0M99.7 48.2h0M99.0 49.7h0M109.2 41.6h0M98.4 61.7h0M96.9 58.4h0M108.6 55.7h0M102.0 68.8h0M86.7 62.4h0M91.1 48.9h0M106.5 62.2h0M106.9 59.6h0M111.2 43.6h0M111.5 42.2h0M107.9 42.5h0M96.6 65.2h0M107.3 50.0h0M93.3 56.8h0M113.7 48.8h0M95.9 52.1h0M92.5 53.9h0M95.3 62.8h0M114.3 56.4h0M93.7 65.8h0M100.6 44.6h0M82.6 57.8h0M102.9 44.7h0M111.3 47.6h0M86.2 63.3h0M92.2 56.9h0M107.1 61.2h0M98.7 49.5h0M104.6 42.1h0M107.6 53.6h0M95.5 60.2h0M106.1 60.0h0M111.3 53.1h0M91.7 67.0h0M94.8 60.5h0M103.3 43.8h0M96.6 55.9h0M85.7 63.5h0M110.9 58.5h0M97.0 55.4h0M110.5 39.4h0M83.2 63.9h0M96.9 44.1h0M88.0 64.9h0M98.8 54.1h0M93.8 59.0h0M92.2 63.2h0M112.8 53.1h0M109.4 43.5h0" stroke="#e4525a" stroke-width="1.1" stroke-linecap="round" fill="none"/>
<path d="M85.7 43.2h0M105.2 38.1h0M93.5 38.6h0M91.5 43.1h0M95.3 41.8h0M91.9 41.6h0M75.8 45.3h0M105.7 37.2h0M87.4 40.9h0M91.9 40.6h0M104.0 40.3h0M83.7 44.5h0M107.7 37.6h0M99.3 40.1h0M99.6 42.1h0M81.0 47.5h0M86.6 45.2h0M87.9 40.3h0M101.4 42.5h0M77.0 44.4h0M72.7 52.3h0M92.2 44.2h0M96.4 38.7h0M105.2 38.2h0M105.8 39.8h0M68.9 52.1h0M97.4 44.4h0M109.2 40.4h0M84.1 43.7h0M73.5 47.6h0M94.6 38.2h0M86.9 44.3h0M107.0 37.2h0M68.7 48.7h0M84.4 43.1h0M71.0 45.2h0M71.4 45.7h0M74.6 51.1h0M83.0 45.8h0M94.2 42.5h0M79.0 45.2h0M104.5 38.7h0M85.6 44.2h0M97.1 39.3h0M90.8 39.6h0M81.5 44.4h0M73.0 52.1h0M70.4 47.7h0M92.4 39.9h0M94.0 39.5h0M91.1 45.2h0M99.7 38.1h0M96.0 36.1h0M90.6 44.0h0" stroke="#8e3fa2" stroke-width="1.1" stroke-linecap="round" fill="none"/>
<path d="M109.9 86.1h0M100.2 88.3h0M107.7 88.6h0M105.0 90.7h0" stroke="#a8cd4b" stroke-width="1.1" stroke-linecap="round" fill="none"/>
<path d="M137.6 114.5h0M134.8 98.9h0M136.2 116.3h0M153.2 108.7h0M140.5 115.6h0M143.9 104.9h0M144.8 99.7h0M152.1 99.6h0M146.4 96.8h0M141.4 88.2h0M144.8 98.7h0M144.6 110.3h0M151.1 118.6h0M136.0 103.0h0M135.4 109.3h0M151.3 114.1h0M143.7 96.7h0M146.1 100.6h0M140.7 88.8h0M141.3 117.5h0M141.1 122.2h0M136.0 114.1h0M146.4 92.9h0M143.3 112.2h0M140.4 120.9h0M147.0 107.7h0M148.9 112.8h0M143.1 108.4h0M147.7 119.7h0M154.0 113.7h0M135.4 101.9h0M138.9 114.4h0M143.1 118.8h0M140.0 93.3h0M144.8 103.9h0M153.3 115.4h0M137.6 110.6h0M148.0 98.7h0M136.7 100.3h0M144.0 97.1h0M141.7 123.8h0M145.1 102.1h0M151.2 100.9h0M137.4 98.7h0M143.2 104.5h0M144.0 115.2h0M147.2 104.0h0M142.2 117.5h0M149.4 100.9h0M146.2 121.7h0M140.0 87.6h0M143.3 112.1h0M153.2 113.6h0M151.1 114.2h0M144.1 115.9h0M136.8 98.1h0M150.7 110.3h0M137.8 103.6h0M132.9 107.5h0M138.4 114.1h0M149.5 115.2h0M146.6 118.3h0M147.7 101.6h0M139.0 117.8h0M148.7 121.1h0M143.2 94.2h0M135.0 105.1h0M141.3 95.1h0M136.8 92.5h0M135.8 100.5h0M144.3 94.2h0M137.1 98.1h0M144.4 91.1h0M149.2 93.5h0M137.0 103.8h0M146.0 122.1h0M134.7 105.3h0M146.5 121.9h0M134.7 98.3h0M151.4 119.4h0M154.0 105.5h0M134.9 101.2h0M135.1 92.6h0M138.1 120.9h0M150.7 92.9h0M151.5 109.1h0M152.8 96.3h0M136.2 104.7h0M150.6 93.8h0M141.9 88.3h0M137.3 110.2h0M142.9 91.2h0M137.0 90.5h0M152.8 95.6h0M148.9 120.8h0M140.5 117.6h0M150.2 94.3h0M141.4 99.2h0M145.0 120.2h0M137.2 97.7h0M146.3 91.6h0M146.2 117.6h0M143.1 105.2h0M136.3 115.2h0M149.1 107.0h0M140.3 95.9h0M141.3 91.4h0M154.1 104.9h0M148.8 114.0h0M146.5 113.7h0M145.9 98.4h0M148.8 116.4h0M151.6 115.0h0M134.0 107.4h0M150.1 118.4h0M153.1 108.6h0M143.1 97.5h0M140.2 109.3h0M149.8 106.5h0M148.1 114.9h0M141.4 93.9h0M139.7 95.2h0M148.4 117.4h0M140.7 105.3h0M148.4 118.2h0M151.4 123.3h0M146.8 112.9h0M141.8 89.2h0M143.2 93.0h0M138.1 107.0h0M137.5 114.9h0M142.1 106.0h0M132.9 111.0h0M136.5 90.9h0M140.4 101.5h0M145.9 96.8h0M144.7 105.7h0M155.0 112.2h0M152.2 110.4h0M145.8 116.9h0M142.7 119.9h0M152.9 106.3h0M150.4 95.2h0M153.7 113.7h0M140.4 118.0h0M138.9 101.9h0M141.7 91.5h0M139.8 118.6h0M144.9 122.0h0M147.3 118.8h0M143.4 91.1h0M141.7 115.1h0M151.8 113.0h0M143.1 92.2h0M147.0 108.6h0M151.3 113.5h0M135.5 113.0h0M135.3 108.0h0M135.9 105.0h0M145.4 101.4h0M147.0 110.0h0M142.5 115.5h0M147.0 105.3h0M148.9 106.9h0M150.9 105.0h0M139.7 93.6h0M139.0 104.9h0M150.8 100.7h0M144.5 98.3h0M155.0 109.9h0M142.6 117.9h0M139.3 92.1h0M143.5 105.6h0M136.5 92.2h0M150.5 117.8h0M147.5 97.5h0M145.0 108.9h0M145.6 124.1h0M136.2 114.6h0M149.6 115.8h0M144.1 105.1h0M149.2 101.9h0M150.8 107.6h0M139.5 100.4h0M151.2 107.8h0M148.7 105.5h0M143.5 113.6h0M148.1 122.5h0M143.7 108.2h0M136.8 93.4h0M138.9 95.0h0M133.1 108.0h0M144.8 114.8h0M151.4 118.9h0M142.7 102.2h0M145.8 89.7h0M152.6 111.8h0M134.4 101.8h0M145.5 116.7h0M152.8 108.7h0M134.9 102.9h0M144.1 99.5h0M148.4 104.7h0M140.7 91.7h0M138.8 93.3h0M146.4 113.0h0M149.7 90.9h0M143.2 106.7h0M141.9 90.9h0M144.8 121.1h0M150.8 114.7h0M149.1 116.8h0M139.4 104.0h0M146.0 99.2h0M135.0 108.9h0M132.6 107.7h0M142.5 122.2h0M142.6 123.7h0M153.0 114.7h0M146.0 101.7h0M147.6 100.6h0M143.5 94.9h0M151.2 101.9h0M142.8 98.7h0M147.3 90.7h0" stroke="#f38129" stroke-width="1.1" stroke-linecap="round" fill="none"/>
<path d="M120.7 96.4h0M125.0 95.4h0M117.1 94.2h0M117.4 92.1h0M120.9 96.0h0" stroke="#d4c62a" stroke-width="1.1" stroke-linecap="round" fill="none"/>
<path d="M105.7 103.5h0M117.9 104.0h0M101.2 105.1h0M109.7 105.1h0M107.3 111.9h0M112.5 102.3h0M102.3 107.9h0M110.8 100.1h0M117.7 103.0h0M115.5 103.8h0M111.0 110.2h0M118.8 103.2h0M123.2 98.8h0M107.9 110.0h0M109.8 107.6h0M103.8 107.6h0M111.1 99.4h0M110.3 110.4h0M113.4 101.8h0M115.6 106.1h0M119.4 106.4h0M101.5 108.1h0M112.4 99.4h0M113.5 103.6h0M109.0 104.8h0M110.5 103.8h0M120.7 98.3h0M111.9 105.6h0M114.0 109.1h0M118.0 107.6h0M113.5 108.7h0M108.3 106.0h0M105.7 105.3h0M113.1 108.9h0M121.6 103.6h0M106.0 108.1h0M113.0 101.1h0M122.2 95.8h0M116.4 102.4h0M120.5 101.3h0M106.5 111.1h0M111.3 110.6h0M119.5 100.3h0M106.3 110.0h0M112.0 105.9h0M118.5 98.4h0M104.1 109.6h0M123.4 99.9h0M114.7 105.1h0M103.2 105.1h0M116.6 96.5h0M116.0 105.9h0M107.8 106.8h0M111.0 102.3h0M110.4 106.2h0M118.6 101.1h0M120.1 101.3h0M118.6 100.4h0M121.4 96.9h0M108.5 111.1h0M119.7 102.2h0M113.3 106.9h0M115.9 105.8h0M125.2 97.6h0M107.1 108.2h0M104.0 111.1h0M121.3 99.1h0M118.2 97.3h0M111.0 107.2h0M123.1 103.9h0M105.4 107.5h0M122.2 98.8h0M114.5 107.2h0M108.3 103.8h0M102.4 108.2h0M101.4 106.4h0M115.8 98.7h0M123.4 99.1h0" stroke="#4fb47a" stroke-width="1.1" stroke-linecap="round" fill="none"/>
<path d="M104.3 86.4h0M107.6 93.1h0M105.0 92.1h0M104.8 88.3h0M109.1 90.2h0M101.2 90.9h0" stroke="#2db5b0" stroke-width="1.1" stroke-linecap="round" fill="none"/>
<path d="M127.1 115.8h0M119.7 109.7h0M135.4 114.6h0M136.0 109.4h0M121.6 101.0h0M135.8 108.9h0M129.8 108.9h0M130.0 111.3h0M132.1 108.3h0M128.2 108.8h0M127.5 106.8h0M127.7 115.3h0M123.5 110.9h0M130.0 106.3h0M127.3 101.7h0M122.1 103.4h0M133.4 113.5h0M126.6 108.0h0M124.6 117.3h0M128.3 118.3h0M123.0 109.9h0M134.2 112.3h0M131.5 116.5h0M129.5 110.2h0M129.8 117.0h0M128.6 109.0h0M127.1 105.6h0M120.7 110.0h0M127.2 110.4h0M124.0 102.3h0M122.5 114.6h0M124.1 112.7h0M126.3 118.3h0M121.1 110.3h0M131.1 112.1h0M127.1 112.1h0M137.5 105.4h0M122.6 118.8h0M121.9 113.4h0M123.5 114.4h0M137.1 105.7h0M127.7 103.4h0M126.3 102.7h0M120.9 107.3h0M137.2 108.7h0M131.8 116.1h0M124.3 107.1h0M132.9 106.9h0M130.4 111.7h0M135.2 105.5h0M121.7 114.2h0M136.6 106.9h0M124.0 111.5h0M123.6 101.5h0M125.0 107.2h0M126.1 107.8h0M125.0 116.4h0M120.9 106.2h0M127.2 109.3h0M119.9 108.5h0M120.0 103.0h0M137.2 104.9h0M123.8 115.4h0M119.0 106.6h0M130.2 104.0h0M132.2 117.7h0M126.2 111.8h0M136.5 106.2h0M129.6 105.3h0M135.1 101.5h0M131.7 105.8h0M135.6 108.7h0M133.7 111.1h0M123.1 109.6h0M135.2 112.3h0M129.7 117.6h0M137.2 105.5h0M130.2 105.2h0M124.9 102.1h0M125.7 118.0h0M134.5 106.5h0M131.5 116.8h0M126.5 118.1h0M129.8 101.9h0M123.2 115.4h0M127.5 100.2h0M119.0 107.0h0M125.2 107.1h0M122.5 103.1h0M123.6 112.3h0M125.0 102.5h0M122.4 115.3h0M127.3 117.4h0M125.7 112.4h0M131.5 106.2h0M120.2 112.6h0M122.2 112.9h0M133.9 105.8h0M136.4 107.3h0M130.3 110.8h0M127.0 107.2h0M119.1 108.0h0M132.2 109.1h0" stroke="#d4c62a" stroke-width="1.1" stroke-linecap="round" fill="none"/>
<path d="M105.9 135.5h0M106.6 120.7h0M118.3 112.4h0M119.0 115.9h0M99.9 130.8h0M93.7 123.0h0M109.7 118.8h0M91.8 112.1h0M104.9 117.5h0M117.7 117.8h0M119.3 122.8h0M101.1 125.6h0M110.0 117.1h0M100.4 112.5h0M91.2 112.1h0M90.9 119.9h0M119.2 125.4h0M99.5 114.3h0M98.8 134.3h0M114.4 114.9h0M103.1 112.9h0M114.8 122.8h0M100.0 117.2h0M119.8 125.7h0M109.6 125.3h0M90.8 116.3h0M92.9 113.7h0M90.9 115.9h0M104.3 133.8h0M96.1 129.2h0M89.0 117.9h0M99.0 117.8h0M105.0 113.4h0M97.8 114.6h0M109.2 121.3h0M102.6 128.0h0M117.4 129.0h0M104.5 133.3h0M93.3 115.9h0M92.0 124.3h0M108.8 129.3h0M95.2 115.9h0M115.4 120.4h0M96.4 118.6h0M119.6 115.8h0M111.7 112.4h0M104.7 131.1h0M103.4 118.9h0M108.9 115.7h0M118.5 119.0h0M92.2 112.2h0M117.6 130.9h0M96.2 116.9h0M116.6 118.1h0M91.8 116.9h0M109.4 117.0h0M97.0 129.9h0M112.4 125.8h0M95.7 116.1h0M115.0 129.3h0M88.3 111.4h0M120.5 114.3h0M112.6 132.4h0M113.1 132.3h0M93.8 126.0h0M104.3 133.8h0M106.0 121.3h0M108.9 117.5h0M111.1 131.8h0M92.8 113.3h0M101.0 129.5h0M101.1 113.2h0M114.5 123.2h0M88.9 113.8h0M117.9 116.0h0M93.1 120.4h0M112.3 132.9h0M93.8 126.3h0M110.0 113.0h0M119.5 127.4h0M106.4 121.1h0M119.9 111.9h0M91.9 122.2h0M98.5 120.5h0M112.5 122.2h0M109.4 113.5h0M111.3 126.8h0M96.7 114.3h0M101.4 134.7h0M103.0 114.6h0M90.8 120.3h0M113.3 120.8h0M90.6 110.0h0M109.4 135.8h0M101.6 134.7h0M105.1 127.7h0M115.7 114.3h0M108.5 114.4h0M117.9 122.9h0M100.7 129.5h0M112.3 128.2h0M118.8 124.8h0M100.0 120.5h0M97.4 111.3h0M102.7 109.9h0M95.7 121.5h0M96.0 129.8h0M108.6 112.9h0M114.0 115.5h0M121.5 123.1h0M94.0 118.2h0M98.3 117.6h0M119.0 117.1h0M95.2 131.0h0M97.7 118.4h0M107.5 127.9h0M97.7 118.9h0M111.1 121.2h0M117.4 114.8h0M93.1 124.2h0M118.4 129.3h0M98.2 126.5h0M106.7 122.8h0M105.2 128.2h0M111.5 115.8h0M91.7 118.4h0M112.9 115.2h0M97.8 111.7h0M114.2 126.9h0M111.7 114.7h0M108.3 117.0h0M115.2 130.7h0M103.0 112.7h0M117.5 114.1h0M92.4 118.2h0M98.9 112.2h0M92.4 122.5h0M96.2 124.3h0M105.4 132.5h0M109.5 134.8h0M94.4 127.8h0M110.0 113.8h0M89.8 122.5h0M116.7 125.4h0M102.4 112.9h0M87.7 116.5h0M118.8 128.5h0M98.8 132.7h0M97.4 133.2h0M96.6 125.2h0M91.9 109.9h0M92.4 115.4h0M104.7 134.3h0M117.8 125.6h0M94.2 128.6h0M105.1 114.9h0M107.5 130.8h0M108.3 122.0h0M111.7 116.2h0M95.8 114.2h0M96.0 131.2h0M88.8 115.1h0M95.2 121.7h0M101.6 128.7h0M94.5 120.4h0M107.4 120.8h0M97.7 113.7h0M107.3 125.8h0M106.9 135.6h0M97.8 117.3h0M94.2 127.1h0M102.4 133.3h0M121.3 126.4h0M111.2 118.7h0M96.5 110.9h0M99.2 121.0h0M91.2 111.4h0M98.7 132.8h0M93.6 120.7h0M98.2 130.1h0M107.8 121.7h0M116.6 133.4h0M115.3 118.3h0M109.9 113.3h0M109.7 109.8h0M94.7 124.4h0M100.4 122.8h0M117.5 126.3h0M94.7 115.2h0M103.9 123.3h0M107.7 114.0h0M113.7 129.9h0M94.8 120.5h0M100.2 131.5h0M98.9 129.4h0M119.0 123.9h0M117.3 125.6h0M93.5 113.7h0M88.9 115.1h0M112.8 121.4h0M118.0 115.2h0M121.0 118.4h0M112.1 112.0h0M121.8 120.7h0M104.5 120.0h0M108.5 116.4h0M108.4 113.6h0M94.7 116.4h0M120.5 120.1h0M104.5 121.9h0M112.8 120.3h0M95.0 129.2h0M110.5 132.2h0M96.8 131.7h0M101.3 127.5h0M103.5 125.0h0M91.2 123.5h0M112.9 119.8h0M103.7 128.8h0M108.4 131.2h0M117.7 122.4h0M116.2 132.3h0M117.8 115.7h0M105.8 121.6h0M104.9 132.1h0M87.4 114.4h0M103.3 125.6h0M102.8 122.9h0M97.8 115.7h0M96.4 120.7h0M104.8 110.2h0M90.2 118.5h0M104.9 114.3h0M106.3 128.8h0M101.5 111.8h0M122.0 120.2h0M113.3 126.5h0M99.0 130.6h0M117.7 120.0h0M116.7 126.4h0M113.9 121.4h0M86.7 116.1h0M100.5 130.8h0M94.9 132.6h0M110.1 112.4h0M115.0 119.7h0M121.1 114.1h0M109.5 122.0h0M107.3 130.4h0M93.7 122.2h0M120.2 118.1h0M101.6 133.9h0M120.8 122.9h0M98.0 136.4h0M89.7 120.1h0M116.6 129.2h0M113.8 132.8h0M110.3 112.1h0M96.5 116.7h0M100.6 128.2h0M101.2 119.2h0M95.9 116.3h0M102.9 119.8h0M96.6 115.2h0M99.3 113.3h0M108.1 113.9h0M118.0 126.2h0" stroke="#a8cd4b" stroke-width="1.1" stroke-linecap="round" fill="none"/>
<path d="M88.7 82.1h0M95.5 94.3h0M74.9 95.7h0M78.7 83.1h0M84.0 96.2h0M87.5 81.8h0M61.0 77.1h0M64.9 78.8h0M60.8 75.4h0M87.6 88.3h0M69.1 93.9h0M73.2 78.5h0M70.2 81.0h0M65.7 80.6h0M76.3 91.2h0M68.2 80.2h0M86.3 94.8h0M76.7 90.1h0M79.3 89.8h0M78.4 95.1h0M63.4 79.9h0M67.5 89.7h0M94.1 97.9h0M91.1 89.8h0M69.8 82.1h0M76.6 82.3h0M67.8 80.9h0M93.7 98.7h0M81.7 99.7h0" stroke="#4a57a8" stroke-width="1.1" stroke-linecap="round" fill="none"/>
<path d="M134.6 82.0h0M135.3 86.3h0M133.4 77.7h0M134.8 82.5h0M131.7 72.0h0M133.1 79.7h0M128.1 77.7h0M127.5 86.6h0M129.1 84.2h0M131.8 77.9h0M133.9 85.5h0M136.1 83.5h0M128.4 88.4h0M133.1 77.9h0M134.4 80.0h0M132.5 84.9h0M124.2 72.0h0M130.3 81.5h0M128.0 77.5h0M133.5 76.7h0M129.0 90.1h0M134.9 85.5h0M128.9 94.5h0M133.4 88.8h0M129.4 93.1h0M127.9 87.6h0M131.8 72.9h0M127.9 93.0h0M128.5 90.0h0M128.5 92.5h0M136.1 82.7h0M123.5 91.1h0M129.1 88.9h0M129.1 93.2h0M135.6 80.2h0M131.5 81.9h0M129.5 78.1h0M131.5 87.2h0M128.4 82.7h0M132.3 87.8h0M129.5 77.5h0M130.7 89.5h0M127.9 88.2h0M132.1 88.7h0M127.4 76.8h0M132.9 81.8h0M132.8 82.7h0M133.2 86.4h0M129.0 79.9h0M132.5 76.9h0M131.0 81.9h0M126.2 92.8h0M130.8 76.7h0M128.2 82.0h0M130.2 90.9h0M131.5 94.6h0M126.5 77.2h0M128.9 73.4h0M129.4 70.0h0" stroke="#8e3fa2" stroke-width="1.1" stroke-linecap="round" fill="none"/>
<path d="M110.8 39.6h0M113.3 59.0h0M115.7 43.5h0M112.0 44.2h0M112.0 48.7h0M113.3 46.4h0M111.0 42.6h0M112.1 41.2h0M115.5 46.6h0M111.0 50.5h0M112.3 53.8h0M111.9 43.6h0M112.9 44.5h0M115.3 59.8h0M112.7 52.2h0M112.2 47.2h0M112.6 46.3h0M114.1 40.4h0M116.0 46.8h0M114.5 57.0h0M110.3 47.8h0M115.1 38.9h0M114.2 59.9h0M114.4 39.0h0M113.5 47.0h0" stroke="#e2379a" stroke-width="1.1" stroke-linecap="round" fill="none"/>
<path d="M81.9 66.0h0M98.5 77.1h0M86.4 74.7h0M76.1 64.5h0M85.0 74.8h0M82.2 69.0h0M82.8 67.6h0M94.9 80.1h0M93.3 73.9h0M82.7 72.5h0M99.9 76.9h0M89.5 69.5h0M99.3 77.9h0M97.9 76.2h0M93.3 69.6h0M73.3 71.5h0M95.9 79.7h0M94.0 74.4h0M86.5 73.2h0M101.5 77.4h0M96.8 73.4h0M76.3 71.0h0M96.1 82.0h0M87.6 69.9h0M75.0 70.2h0M101.2 78.7h0M91.2 70.7h0M74.3 69.2h0M77.8 69.2h0M83.0 69.1h0M93.6 76.1h0M76.7 67.2h0M86.3 75.0h0M65.7 68.5h0M88.9 76.2h0M96.9 77.1h0M86.0 72.8h0M75.1 69.6h0M74.9 67.4h0M90.3 78.6h0M100.0 75.2h0M71.3 67.6h0M77.7 66.3h0M82.8 64.9h0M69.2 70.1h0M73.6 66.1h0M86.9 70.8h0M78.2 64.5h0M92.1 75.5h0M84.5 71.1h0M82.4 72.8h0M75.9 73.1h0M90.6 71.3h0M91.5 79.9h0M80.8 62.4h0M73.2 67.7h0M86.9 71.1h0M69.1 68.5h0" stroke="#8e3fa2" stroke-width="1.1" stroke-linecap="round" fill="none"/>
<path d="M108.4 92.9h0M104.8 81.4h0M107.5 79.9h0M103.9 91.2h0M102.8 84.8h0M105.7 85.2h0" stroke="#8e3fa2" stroke-width="1.1" stroke-linecap="round" fill="none"/>
<path d="M78.4 70.3h0M80.6 73.7h0M79.0 70.2h0M78.9 70.9h0M78.6 65.8h0M82.1 67.6h0M77.4 70.4h0M80.1 68.7h0M79.4 68.7h0M78.8 70.0h0M78.9 70.3h0M83.4 71.5h0M80.9 71.5h0M79.1 70.1h0M81.9 69.6h0M77.1 71.7h0M79.1 75.3h0M76.1 68.4h0M76.7 69.5h0M81.7 68.2h0M81.9 70.1h0M78.6 66.7h0" stroke="#2a8fd3" stroke-width="1.1" stroke-linecap="round" fill="none"/>
<path d="M75.1 71.4h0M97.6 75.5h0M68.0 70.7h0M84.7 76.2h0M86.9 67.5h0M89.2 78.1h0M79.6 75.0h0M79.7 70.0h0M98.7 74.5h0M85.9 73.8h0M88.5 68.3h0M84.0 73.6h0M95.7 77.5h0M81.7 66.1h0M83.3 73.8h0M74.3 68.2h0M83.5 74.6h0M93.7 82.0h0M79.4 62.7h0M79.8 71.6h0M93.5 76.6h0M82.4 65.3h0M100.0 79.0h0M88.3 70.0h0M85.9 74.6h0M74.7 63.5h0M96.7 79.1h0M83.3 74.1h0M76.1 71.7h0M102.1 76.6h0M96.7 78.9h0M86.0 75.8h0M78.5 69.1h0M80.8 73.1h0M86.7 75.1h0M89.0 72.5h0M100.0 76.9h0M79.8 69.5h0M94.3 74.6h0M88.1 77.5h0M101.4 77.8h0M81.7 69.3h0M92.6 74.5h0M93.6 79.9h0M78.7 69.9h0M83.8 71.2h0M100.7 78.5h0M97.3 75.1h0M76.7 64.9h0M67.1 67.7h0M76.4 67.3h0M95.7 73.1h0M97.3 74.8h0M96.5 74.3h0M93.9 78.9h0M80.1 73.4h0" stroke="#8e3fa2" stroke-width="1.1" stroke-linecap="round" fill="none"/>
<path d="M88.2 78.4h0M91.4 89.1h0M90.7 93.7h0M89.0 93.2h0M91.4 83.7h0M67.1 73.9h0M91.8 93.3h0M76.5 85.1h0M89.1 88.5h0M82.2 83.3h0M76.5 80.5h0M90.6 89.1h0M96.9 88.8h0M66.5 72.0h0M81.0 76.4h0M87.1 88.5h0M95.7 82.0h0M82.8 78.9h0M90.5 91.8h0M84.5 91.1h0M80.5 87.5h0M75.9 74.0h0M89.0 94.4h0M85.6 93.3h0M81.5 92.4h0M65.1 75.4h0M81.2 78.4h0M100.2 91.6h0M65.7 76.1h0M68.8 74.4h0M92.1 82.9h0M96.7 90.1h0M89.6 88.8h0M79.0 87.5h0M93.7 88.0h0M81.0 91.0h0M88.7 86.1h0M84.9 83.7h0M67.3 75.8h0M82.8 77.1h0M93.6 91.0h0M95.8 87.2h0M72.3 74.9h0M80.8 89.9h0M81.8 83.3h0" stroke="#8e3fa2" stroke-width="1.1" stroke-linecap="round" fill="none"/>
<path d="M100.8 87.9h0M107.2 91.6h0M106.3 90.1h0M106.8 82.9h0" stroke="#8e3fa2" stroke-width="1.1" stroke-linecap="round" fill="none"/>
<path d="M136.2 69.1h0M126.4 66.6h0M126.7 65.7h0M130.7 69.0h0M126.2 68.7h0M121.6 64.2h0M123.3 67.4h0M135.3 64.6h0M133.5 69.2h0M130.8 68.8h0M129.2 69.5h0M129.5 69.6h0M138.7 68.1h0M132.7 67.2h0M137.6 68.1h0M139.4 68.6h0M138.2 68.2h0M123.0 67.4h0M129.5 68.2h0M138.0 70.3h0M136.5 65.2h0M126.3 69.3h0M123.4 67.6h0M125.6 68.1h0M125.6 64.7h0M132.2 67.8h0M134.6 65.7h0M134.3 69.4h0M132.4 65.1h0M140.8 69.2h0M126.0 67.3h0M135.6 67.4h0M132.8 68.9h0M135.5 71.4h0" stroke="#e2379a" stroke-width="1.1" stroke-linecap="round" fill="none"/>
<path d="M121.8 81.7h0M120.7 80.3h0M117.2 82.5h0M115.7 80.8h0" stroke="#d4c62a" stroke-width="1.1" stroke-linecap="round" fill="none"/>
<path d="M76.3 60.7h0M56.4 62.2h0M74.3 54.0h0M72.8 61.1h0M93.6 44.7h0M76.5 48.8h0M52.0 66.7h0M103.5 39.8h0M80.6 42.9h0M77.8 54.1h0M85.2 42.3h0M57.3 61.5h0M62.3 63.7h0M68.4 47.7h0M97.0 38.4h0M53.8 61.3h0M59.8 54.4h0M66.7 61.6h0M76.7 51.4h0M75.4 56.0h0M63.2 56.7h0M64.1 54.7h0M82.9 50.1h0M51.8 58.4h0M55.1 60.2h0M67.4 59.8h0M60.7 52.4h0M51.4 63.2h0M52.3 61.5h0M58.6 52.3h0M75.1 55.4h0M95.7 43.9h0M96.7 41.8h0M93.7 44.3h0M89.5 42.4h0M92.2 42.4h0M63.7 66.9h0M59.9 55.3h0M53.4 67.4h0M69.4 56.2h0M91.4 47.3h0M66.0 48.6h0M95.9 38.5h0M90.0 44.2h0M90.4 42.5h0M54.5 57.6h0M90.4 40.7h0M63.3 50.7h0M50.4 55.7h0M99.2 38.7h0M74.5 63.3h0M63.2 51.7h0M49.1 54.8h0M60.6 64.0h0M74.2 45.4h0M65.7 60.4h0M66.8 60.4h0M81.8 47.2h0M79.2 50.1h0M48.2 65.8h0M54.3 62.6h0M96.2 40.8h0M85.8 45.4h0M86.1 43.2h0M70.0 51.8h0M81.8 49.5h0M49.6 63.8h0M51.6 69.5h0M66.9 61.7h0M62.3 65.5h0M63.1 62.5h0M73.8 58.1h0M66.3 58.2h0M49.7 66.1h0M71.8 57.6h0M62.2 64.6h0M79.5 55.4h0M89.8 41.8h0M58.4 64.4h0M55.1 65.6h0M63.7 60.0h0M73.3 49.3h0M54.2 59.5h0M67.0 50.5h0M54.6 68.8h0M98.9 38.9h0M71.9 61.7h0M68.8 65.1h0M56.5 62.7h0M60.3 49.6h0M86.3 43.2h0M82.2 46.1h0M49.7 62.7h0M72.1 48.0h0M48.6 66.2h0M91.2 45.3h0M59.1 54.7h0M69.3 54.7h0M91.4 46.8h0M57.6 66.4h0M86.8 44.2h0M97.2 41.4h0M71.6 64.4h0M77.0 55.4h0M86.7 43.2h0M86.2 43.1h0M94.3 41.7h0M66.0 51.5h0M71.0 66.2h0M96.4 43.1h0M62.6 59.7h0M74.2 54.0h0M70.7 51.0h0M55.7 63.9h0M75.8 59.7h0M53.7 58.7h0M71.4 64.7h0M61.3 60.3h0M82.1 45.0h0M77.6 43.1h0M62.4 56.8h0M101.9 37.4h0M60.0 61.1h0M68.9 49.5h0M49.6 62.3h0M60.6 60.0h0M64.8 67.4h0M63.0 67.0h0M60.2 58.0h0M71.3 48.7h0M84.7 49.2h0M66.0 52.2h0M70.4 55.9h0M49.5 55.3h0M72.6 63.4h0M52.8 56.3h0M100.6 38.5h0M73.0 56.6h0M67.9 55.8h0M59.2 65.4h0M53.9 62.9h0M74.2 54.8h0M62.4 55.2h0M72.9 53.6h0M49.4 55.0h0M58.4 64.4h0M76.4 46.4h0M67.6 55.8h0M79.6 45.3h0M76.3 45.1h0M76.5 53.9h0M51.4 64.2h0M74.4 54.0h0M73.8 51.8h0M70.1 47.6h0M67.4 59.3h0M62.5 60.1h0M57.9 52.1h0M75.6 57.1h0M68.0 66.1h0M80.2 50.8h0M67.6 46.2h0M67.6 60.6h0M49.5 70.0h0M49.2 58.0h0M90.8 41.3h0M57.0 64.2h0M53.5 59.7h0M90.7 40.8h0M62.2 52.0h0M83.7 48.6h0M75.3 56.9h0M74.6 55.0h0M56.3 66.0h0M67.5 47.8h0M96.3 42.9h0M66.8 62.8h0M67.5 61.2h0M57.9 64.4h0M73.7 64.1h0M73.6 53.3h0M62.4 54.4h0M58.6 53.6h0M88.9 44.2h0M80.8 49.0h0M62.3 49.9h0M97.4 39.3h0M95.0 41.0h0M87.8 40.8h0M75.8 51.7h0M53.3 59.7h0M76.0 51.0h0M70.3 60.9h0M53.4 61.0h0M71.5 54.9h0M59.6 60.0h0M70.6 56.5h0M72.5 60.8h0M84.0 50.7h0M69.1 60.4h0M95.0 42.2h0M52.0 65.0h0M67.1 50.4h0M53.4 67.3h0M67.1 58.2h0M53.3 62.5h0M60.2 64.5h0M74.8 56.8h0M61.8 49.9h0M79.3 56.8h0M68.0 56.3h0M57.4 69.5h0M89.9 43.6h0M73.6 63.6h0M81.3 40.8h0M98.3 42.8h0M59.7 48.7h0M95.4 43.0h0M64.5 67.0h0M73.3 48.8h0M53.3 55.2h0M72.3 53.8h0M62.0 58.2h0M77.8 49.0h0M99.9 40.4h0M49.7 66.7h0M95.2 39.5h0M67.8 64.8h0M66.3 62.8h0M61.5 50.0h0M74.1 59.3h0M55.1 52.5h0M100.1 38.3h0M70.7 58.4h0M64.6 51.7h0M75.2 54.3h0M59.0 54.0h0M85.3 41.5h0M71.3 61.9h0M51.5 66.1h0M75.8 53.3h0M59.0 66.0h0M75.0 49.6h0M63.1 63.1h0M104.0 36.6h0M70.4 60.6h0M74.7 59.1h0M96.8 45.2h0M86.7 44.2h0M87.9 45.1h0M74.4 52.9h0M72.8 54.8h0M95.0 41.6h0M72.0 58.7h0M72.2 52.8h0M101.3 39.5h0M100.3 38.2h0M87.1 43.4h0" stroke="#8e3fa2" stroke-width="1.1" stroke-linecap="round" fill="none"/>
<path d="M74.0 104.0h0M59.2 101.5h0M76.4 109.0h0M65.5 104.5h0M76.8 95.4h0M61.9 109.8h0M77.0 102.0h0M66.7 107.1h0M78.2 101.3h0M59.5 104.6h0M77.5 97.4h0M69.3 101.2h0M59.4 95.8h0M73.1 103.4h0M62.9 107.7h0M66.3 103.7h0M67.7 114.0h0M73.1 102.6h0M73.9 103.6h0M71.1 102.6h0M73.9 105.3h0M61.5 111.2h0M62.3 111.9h0M58.7 103.4h0M68.7 110.4h0M75.1 98.0h0M57.6 96.0h0M62.0 99.8h0M71.0 107.8h0M64.6 96.0h0M63.4 109.8h0M69.7 110.8h0M62.1 101.0h0M77.4 105.3h0M77.2 104.5h0M77.6 98.3h0M78.7 105.6h0M78.6 109.2h0M65.3 105.4h0M78.6 105.3h0M81.6 102.8h0M70.5 114.0h0M57.2 97.3h0M83.2 100.9h0M60.0 99.6h0M78.0 102.6h0M66.5 98.8h0M69.1 115.7h0M79.6 107.5h0M78.5 97.8h0M66.5 106.2h0M84.0 101.0h0M72.8 113.4h0M71.8 102.9h0M67.7 101.3h0M77.0 100.3h0M71.3 115.2h0M62.0 98.6h0M64.1 96.6h0M67.5 98.5h0M65.2 97.3h0M66.4 103.6h0M75.6 103.0h0M65.3 99.3h0M66.7 99.1h0M80.3 101.4h0M70.2 110.8h0M61.0 99.5h0M79.8 104.3h0M78.5 101.8h0M68.1 107.8h0M74.8 114.2h0M63.2 102.2h0M61.3 108.7h0M62.4 107.9h0M63.4 112.5h0M74.1 104.3h0M68.1 98.7h0M78.5 112.5h0M63.7 106.2h0M76.7 102.2h0M81.9 101.6h0M65.2 95.0h0M64.9 106.7h0M71.3 108.5h0M74.3 106.6h0M65.0 102.8h0M81.8 97.4h0M78.4 96.9h0M70.7 101.1h0M68.5 107.3h0M69.0 106.0h0M77.1 107.0h0M76.7 109.4h0M63.6 97.5h0M69.4 106.6h0M77.4 103.3h0M75.8 96.9h0M61.8 97.0h0M68.2 107.9h0M64.7 110.5h0M77.1 100.5h0M69.7 99.1h0M70.7 107.5h0M81.1 103.8h0M60.3 96.2h0M63.9 102.8h0M57.2 98.9h0M71.9 106.9h0M67.9 110.4h0M66.2 101.9h0M64.0 104.5h0M60.6 100.7h0M62.2 107.5h0M64.9 114.1h0M60.2 94.1h0M81.0 98.2h0M63.4 97.6h0M73.2 99.6h0M62.9 97.9h0M80.1 103.8h0M57.8 101.2h0M57.2 93.9h0M71.3 105.0h0M64.3 99.8h0M67.6 104.0h0M79.3 106.8h0M61.3 108.8h0M60.2 96.1h0M67.2 113.1h0M80.8 98.4h0M79.0 107.6h0M81.4 98.4h0M77.4 102.7h0M67.8 98.7h0M78.8 95.7h0M73.7 99.0h0M68.4 98.8h0M76.2 108.7h0M72.1 114.2h0M64.9 111.9h0M59.1 102.1h0M80.4 100.1h0M77.1 100.8h0M72.0 114.7h0M72.3 110.6h0M64.9 110.5h0M80.6 98.3h0M67.5 96.0h0M65.8 104.0h0M63.1 102.5h0M59.6 104.3h0M67.7 102.8h0M62.6 112.5h0M72.0 114.6h0M75.8 95.2h0M65.9 100.5h0M71.0 98.0h0M70.5 104.3h0M72.2 114.3h0M65.6 99.7h0M77.7 109.8h0M76.9 112.8h0M60.1 100.4h0M60.1 104.3h0M65.1 96.2h0M59.6 102.4h0M63.3 108.1h0M59.4 99.4h0M78.8 97.8h0M74.3 105.9h0M62.4 102.6h0M78.8 110.5h0M58.8 100.9h0M64.1 101.5h0M75.9 101.4h0M65.9 105.8h0M76.5 105.8h0" stroke="#6cb13f" stroke-width="1.1" stroke-linecap="round" fill="none"/>
<path d="M119.4 37.7h0M120.5 60.9h0M119.9 63.2h0M116.3 39.7h0M112.5 45.8h0M112.3 48.8h0M118.1 56.3h0M119.8 59.6h0M121.1 49.4h0M115.6 59.6h0M112.5 44.8h0M116.0 54.2h0M118.1 40.6h0M117.7 50.3h0M120.7 46.3h0M115.4 53.9h0M122.0 52.3h0M116.6 46.6h0M120.1 59.4h0M119.0 57.7h0M120.2 46.5h0M121.3 59.2h0M112.8 58.3h0M120.7 59.7h0M122.6 43.9h0M114.7 38.3h0" stroke="#8e3fa2" stroke-width="1.1" stroke-linecap="round" fill="none"/>
<path d="M113.4 95.3h0M109.7 99.3h0M102.1 92.3h0M102.4 91.2h0M104.0 93.7h0M117.6 92.7h0M113.7 92.4h0M111.3 95.0h0M108.8 91.3h0M110.9 95.9h0M107.0 95.4h0" stroke="#2db5b0" stroke-width="1.1" stroke-linecap="round" fill="none"/>
<path d="M109.5 45.7h0M107.9 50.1h0M84.0 63.3h0M106.2 62.1h0M106.9 63.2h0M88.0 48.8h0M105.9 50.5h0M96.5 62.1h0M102.0 69.1h0M110.9 62.5h0M85.5 62.1h0M110.7 48.4h0M111.7 57.0h0M90.7 58.6h0M93.0 65.7h0M93.8 49.1h0M93.6 65.2h0M83.1 65.6h0M112.4 43.7h0M114.3 50.2h0M109.7 43.9h0M100.2 51.9h0M110.3 64.2h0M89.5 47.8h0M93.0 46.9h0M88.9 65.3h0M101.6 63.8h0M110.3 58.0h0M79.3 56.4h0M111.4 40.6h0M111.7 44.1h0M88.9 55.3h0M89.8 49.8h0M104.1 41.1h0M103.9 58.4h0M113.0 47.1h0M92.0 64.3h0M95.1 66.6h0M111.2 43.4h0M99.7 49.8h0M97.3 66.5h0M79.1 59.4h0M90.0 49.7h0M108.7 46.6h0M95.5 65.4h0M85.2 61.7h0M108.4 62.1h0M98.5 57.2h0M108.7 61.7h0M81.6 54.6h0M109.4 38.1h0M107.3 62.0h0M92.9 52.8h0M92.9 64.4h0M88.0 65.3h0M100.6 50.6h0M101.6 46.5h0M107.2 54.9h0M93.0 46.7h0M108.8 37.3h0M105.4 43.9h0M98.7 59.4h0M94.1 65.9h0M96.0 63.0h0M98.9 50.1h0M110.7 39.1h0M109.3 55.4h0M103.3 45.5h0M95.0 47.0h0M107.3 44.6h0M86.2 62.9h0M95.6 47.1h0M100.7 52.8h0M99.8 50.0h0M79.7 58.6h0M109.0 44.3h0M80.9 54.3h0M97.5 46.1h0M85.9 53.6h0M98.0 53.0h0M95.3 68.4h0M84.0 60.3h0M97.3 52.8h0M78.0 59.1h0M86.8 51.5h0M97.0 56.7h0M98.6 57.5h0M107.2 37.9h0M89.8 56.9h0M108.4 53.8h0M111.9 48.1h0M96.2 63.3h0M99.8 49.5h0M106.0 59.7h0M112.4 44.6h0M101.0 46.2h0M93.7 46.8h0M109.1 62.4h0M80.3 60.3h0M96.6 57.6h0M106.5 56.7h0M99.4 62.8h0M109.1 41.5h0M105.3 48.0h0M87.3 54.6h0M90.7 56.9h0M83.6 59.3h0M95.6 51.0h0M84.6 61.7h0M95.7 66.7h0M104.9 61.3h0M93.9 45.3h0M100.7 65.8h0M88.0 66.7h0M99.5 65.0h0M100.0 68.4h0M102.9 52.7h0M97.1 60.7h0M82.0 62.2h0M104.5 68.0h0M99.8 57.8h0M97.9 53.8h0M103.8 63.1h0M100.6 64.1h0M96.2 62.4h0M93.1 55.4h0M86.4 56.2h0M81.2 55.5h0M108.9 44.9h0M80.6 53.8h0M106.4 43.1h0M91.2 59.8h0M94.1 66.8h0M93.4 54.2h0M107.9 51.3h0M103.9 47.0h0M99.4 46.3h0M85.9 54.3h0M113.7 45.6h0M89.6 61.1h0M100.0 58.7h0M96.0 58.1h0M106.0 47.7h0M103.4 62.1h0M106.9 60.4h0M94.3 56.0h0M103.9 52.5h0M110.0 41.3h0M100.9 55.1h0M102.2 69.5h0M103.0 54.5h0M84.8 63.9h0M96.9 62.7h0M89.9 62.0h0M87.4 61.6h0M86.2 65.3h0M81.7 54.2h0M86.1 52.8h0M103.7 56.7h0M109.3 52.3h0M97.7 60.2h0M100.5 51.5h0M99.9 44.6h0M103.5 44.8h0M96.1 68.7h0M88.3 62.8h0M92.4 55.7h0M94.1 49.1h0M83.7 65.5h0M101.8 46.6h0M102.7 66.9h0M99.1 46.9h0M96.3 66.8h0M98.6 62.7h0M101.5 54.5h0M111.5 47.5h0M98.1 48.1h0M105.0 59.9h0M100.4 58.9h0M112.4 48.2h0M109.2 54.3h0M104.6 54.8h0M96.2 59.7h0M92.2 60.4h0M83.0 62.5h0M95.4 56.4h0M113.0 44.6h0M101.0 53.3h0M85.5 54.0h0M104.5 50.2h0M108.1 51.1h0M104.1 69.4h0M80.3 57.7h0M104.0 43.8h0M100.7 65.4h0M92.1 48.0h0M95.2 63.4h0M92.9 55.7h0M108.5 55.6h0M104.4 64.4h0M106.3 57.7h0M79.2 59.8h0M110.3 52.0h0M98.5 45.6h0M112.8 52.0h0M96.2 58.1h0M102.6 60.6h0M89.7 68.1h0M96.9 48.0h0M108.7 41.7h0M106.9 49.7h0M107.6 41.4h0M80.1 56.5h0M96.5 68.9h0M89.6 55.0h0M100.3 47.5h0M114.0 45.7h0M79.2 56.2h0M110.5 41.5h0M99.4 60.1h0M103.3 57.5h0M110.7 53.1h0M96.8 58.9h0M104.8 59.4h0M111.1 40.3h0M98.0 68.9h0M109.3 45.1h0M90.3 49.7h0M79.8 59.7h0M88.1 67.8h0M95.0 55.0h0M84.1 57.7h0M92.7 51.8h0M86.9 50.8h0M88.8 61.0h0M84.9 61.2h0M104.6 57.6h0M109.1 55.7h0M95.0 47.3h0M106.0 48.3h0M106.7 56.1h0M103.7 58.0h0M112.1 52.0h0M91.7 59.2h0M95.7 53.4h0M89.1 62.7h0M100.0 60.4h0M88.5 69.7h0M78.9 58.7h0M84.3 59.5h0M95.6 52.0h0M102.3 66.8h0M101.6 63.1h0M94.9 58.0h0M88.4 59.4h0M97.0 57.8h0M93.6 68.0h0M110.0 61.4h0M96.3 67.0h0M103.8 51.0h0M94.0 58.9h0M109.4 56.1h0M102.1 48.8h0M94.4 62.7h0M102.4 67.4h0M99.3 60.6h0M108.4 52.5h0M79.8 58.6h0M102.2 49.4h0" stroke="#e4525a" stroke-width="1.1" stroke-linecap="round" fill="none"/>
<path d="M118.9 93.2h0M121.4 94.4h0M121.1 94.8h0M123.6 98.9h0M120.5 90.4h0M116.1 95.6h0M118.3 94.2h0" stroke="#d4c62a" stroke-width="1.1" stroke-linecap="round" fill="none"/>
<path d="M128.1 67.9h0M133.1 71.4h0M138.2 71.1h0M139.4 68.3h0M122.5 67.3h0M136.7 66.2h0M134.7 66.2h0M129.4 67.4h0M133.7 69.7h0M129.0 69.9h0M129.8 70.3h0M127.0 68.0h0M136.0 63.8h0M134.4 70.4h0M130.8 67.9h0M126.3 64.5h0M132.7 66.0h0M125.7 67.5h0M121.3 67.6h0M124.2 65.7h0M129.2 67.7h0M139.3 67.7h0M136.9 65.6h0M131.4 68.4h0M131.1 66.6h0M137.0 70.6h0M122.3 64.1h0M122.3 65.5h0M124.6 67.3h0M121.7 64.4h0M125.0 70.0h0M128.0 70.0h0M133.7 69.2h0" stroke="#e2379a" stroke-width="1.1" stroke-linecap="round" fill="none"/>
<path d="M63.3 80.8h0M66.8 83.6h0M86.8 91.0h0M91.0 86.2h0M63.6 75.8h0M83.3 96.7h0M85.4 95.1h0M73.5 82.1h0M83.1 83.8h0M76.6 90.0h0M66.9 87.3h0M91.4 96.0h0M76.4 85.5h0M91.7 101.2h0M63.1 76.9h0M90.2 87.9h0M72.8 86.6h0M90.6 90.7h0M91.6 99.8h0M89.9 85.5h0M69.1 84.4h0M62.6 77.9h0M72.0 87.4h0M73.5 86.3h0M78.4 92.4h0M62.4 81.1h0M88.6 83.5h0M65.2 78.4h0M76.0 87.0h0M76.7 87.9h0M91.5 102.4h0" stroke="#4a57a8" stroke-width="1.1" stroke-linecap="round" fill="none"/>
<path d="M118.6 79.4h0M121.4 84.3h0M122.0 84.6h0M121.7 81.3h0M115.6 85.6h0M123.3 82.7h0M118.7 79.7h0M114.8 86.5h0M119.2 79.1h0M119.8 84.7h0M114.2 82.5h0M115.8 84.2h0M117.0 84.8h0M119.2 88.7h0M113.4 82.5h0M114.7 83.2h0M120.0 83.4h0M114.9 86.3h0M115.0 78.6h0M115.0 84.5h0M115.8 83.1h0M114.6 81.2h0M120.5 76.1h0M114.0 78.9h0M121.4 81.4h0M113.4 82.5h0M119.4 88.0h0M113.5 82.4h0M119.6 80.5h0M117.7 81.3h0M121.7 81.2h0M120.2 80.9h0" stroke="#a8cd4b" stroke-width="1.1" stroke-linecap="round" fill="none"/>
<path d="M124.9 49.8h0M141.9 53.9h0M125.2 54.2h0M130.8 60.1h0M115.8 50.7h0M137.1 55.5h0M118.7 42.3h0M122.3 46.6h0M118.4 42.3h0M122.0 67.3h0M117.9 54.8h0M115.4 51.0h0M134.2 50.2h0M125.8 41.4h0M132.0 66.8h0M119.4 48.9h0M127.2 41.3h0M114.7 52.1h0M124.4 44.6h0M127.9 67.6h0M136.4 40.8h0M116.6 55.7h0M136.3 66.1h0M125.9 50.0h0M130.9 63.2h0M122.2 62.9h0M139.7 52.8h0M136.0 44.8h0M122.2 45.3h0M127.5 33.7h0M131.2 64.3h0M127.6 53.0h0M137.2 63.5h0M134.2 64.0h0M121.7 59.1h0M134.3 52.1h0M116.7 45.7h0M125.7 61.9h0M129.9 51.0h0M124.0 38.8h0M140.0 61.0h0M121.4 42.1h0M111.8 57.3h0M122.5 40.2h0M143.5 48.0h0M126.4 49.4h0M111.7 55.3h0M134.2 54.7h0M129.0 35.8h0M139.4 47.2h0M121.4 46.5h0M125.8 41.2h0M125.8 37.2h0M126.7 58.2h0M127.1 51.6h0M121.2 62.4h0M124.3 38.0h0M124.3 61.0h0M137.3 50.6h0M113.9 60.1h0M132.8 48.0h0M140.1 55.7h0M122.3 48.8h0M129.5 63.8h0M138.4 42.3h0M112.3 56.8h0M143.1 55.2h0M125.6 36.5h0M137.2 63.6h0M125.8 38.0h0M142.8 46.6h0M130.0 67.7h0M114.9 42.4h0M143.8 41.8h0M122.2 46.2h0M118.4 45.7h0M133.0 48.3h0M119.6 48.3h0M142.9 47.1h0M140.8 51.1h0M119.0 56.0h0M132.1 56.4h0M141.2 48.2h0M121.1 53.5h0M133.1 39.4h0M126.7 44.1h0M132.5 66.0h0M129.1 53.1h0M122.9 59.8h0M126.9 63.9h0M136.9 49.8h0M127.8 51.7h0M123.7 38.3h0M136.4 51.0h0M122.0 39.6h0M128.5 61.5h0M124.1 50.1h0M124.4 51.1h0M138.9 52.8h0M127.9 52.0h0M122.5 62.5h0M138.2 47.9h0M111.4 55.4h0M117.8 45.0h0M141.4 53.6h0M126.1 50.4h0M123.6 50.5h0M139.9 62.3h0M131.1 48.1h0M119.8 49.3h0M122.4 52.6h0M123.6 52.1h0M128.2 59.4h0M128.3 40.8h0M127.5 66.0h0M139.7 56.3h0M125.6 34.7h0M134.6 57.7h0M120.8 52.1h0M125.1 45.9h0M132.7 34.9h0M125.5 57.3h0M130.1 40.4h0M127.9 61.4h0M130.1 43.8h0M112.1 43.6h0M133.7 65.4h0M112.3 45.0h0M142.4 46.5h0M129.0 53.5h0M118.2 51.2h0M130.0 52.7h0M129.3 48.6h0M119.7 61.4h0M135.6 63.3h0M141.2 53.6h0M127.5 57.2h0M132.7 69.8h0M141.4 46.7h0M129.0 54.8h0M137.6 48.4h0M131.9 42.8h0M123.6 50.3h0M119.3 53.6h0M133.4 37.5h0M116.3 61.1h0M139.5 41.2h0M122.7 43.4h0M113.8 47.6h0M129.0 54.2h0M144.8 54.6h0M142.7 60.3h0M129.6 47.4h0M123.5 38.9h0M130.8 69.9h0M135.4 42.0h0M140.2 49.6h0M140.7 51.6h0M133.5 57.1h0M144.3 47.9h0M125.1 57.6h0M122.2 50.6h0M142.8 44.2h0M135.6 56.2h0M134.9 43.2h0M117.2 56.8h0M120.8 58.3h0M112.5 51.7h0M127.0 37.0h0M121.6 45.9h0M139.1 64.7h0M114.3 57.6h0M134.2 44.5h0M134.0 65.3h0M128.7 58.2h0M120.3 46.3h0M136.8 41.6h0M131.2 58.5h0M113.6 59.5h0M131.4 57.8h0M114.5 44.4h0M127.2 64.9h0M140.3 51.1h0M133.1 59.6h0M121.7 66.2h0M129.7 49.0h0M125.5 55.4h0M122.1 54.3h0M127.1 36.4h0M133.2 53.0h0M118.6 43.6h0M125.3 43.6h0M134.9 66.2h0M122.9 64.5h0M135.7 64.9h0M128.5 59.3h0M129.7 56.5h0M126.1 44.8h0M117.0 41.3h0M142.3 60.1h0M130.0 37.9h0M143.3 55.4h0M117.7 58.8h0M135.1 37.1h0M134.8 67.9h0M143.7 54.2h0M112.7 51.8h0M137.0 47.1h0M127.0 61.7h0M145.1 45.0h0M113.0 58.4h0M141.4 55.3h0M110.6 54.9h0M128.2 53.3h0M132.4 56.7h0M120.2 49.2h0M128.2 48.1h0M120.6 46.9h0M142.7 44.3h0M120.2 43.2h0M114.1 45.9h0M121.3 66.5h0M121.1 39.9h0M138.7 57.8h0M132.6 69.2h0M130.4 41.1h0M128.7 62.8h0M127.4 62.1h0M136.9 46.5h0M120.4 61.4h0M140.3 52.9h0M125.6 52.5h0M117.1 54.0h0M127.6 67.4h0M138.0 62.4h0M120.8 42.0h0M137.4 46.5h0M130.7 40.9h0M144.4 53.8h0M123.8 53.2h0M118.8 55.1h0M128.6 56.2h0M115.6 55.2h0M135.5 68.0h0M143.4 49.1h0M123.0 57.4h0M123.8 42.7h0M137.3 53.9h0M123.6 63.1h0M146.0 46.6h0M118.0 66.7h0M126.9 40.1h0M124.3 43.6h0M112.5 54.5h0M127.6 63.1h0M118.3 50.7h0M121.1 51.6h0M139.2 41.5h0M117.8 48.1h0M120.6 47.8h0M132.4 38.7h0M132.7 64.9h0M126.9 33.9h0M130.1 56.0h0M137.2 55.3h0M141.9 46.4h0M139.2 62.0h0M137.0 55.4h0M134.8 38.5h0M119.1 53.6h0M125.8 40.8h0M142.5 55.5h0M125.7 42.2h0M141.9 48.4h0M117.6 47.7h0M130.3 43.7h0M115.0 58.9h0M140.0 52.0h0M113.3 52.7h0M135.0 66.0h0M128.2 68.5h0M117.1 60.9h0M140.5 54.5h0M118.9 38.9h0M138.0 62.5h0M128.3 53.3h0M127.7 37.2h0M120.2 38.2h0M110.2 53.4h0M125.7 38.6h0M113.6 50.0h0M138.6 64.8h0M137.5 66.5h0M129.7 53.5h0M123.6 64.4h0M115.0 45.2h0M121.5 49.4h0M130.0 42.5h0M111.3 50.4h0M143.6 47.3h0M121.0 49.9h0M142.7 50.9h0M126.1 60.7h0M122.3 58.2h0M141.9 50.5h0M135.4 46.7h0M135.7 41.3h0M128.4 62.6h0M123.3 39.9h0M114.8 43.1h0M115.4 50.7h0M133.6 63.5h0M135.5 64.9h0M123.3 43.6h0M142.0 48.1h0M141.8 44.5h0M135.8 47.2h0M123.2 66.8h0M119.1 62.4h0M131.0 59.0h0M129.8 57.7h0M138.9 58.3h0M135.6 46.3h0M138.4 57.7h0M115.2 59.1h0M131.4 38.7h0M116.8 50.1h0M134.8 67.5h0M112.1 45.0h0M125.4 55.6h0M122.0 49.8h0M114.4 61.6h0M127.1 42.9h0M111.7 52.4h0M115.6 59.6h0M125.9 54.6h0M130.4 39.5h0M129.0 46.7h0M128.1 37.5h0M132.1 44.3h0M131.1 55.9h0" stroke="#e2379a" stroke-width="1.1" stroke-linecap="round" fill="none"/>
<path d="M108.9 80.7h0M104.8 81.5h0M103.9 86.9h0M108.9 82.0h0M104.8 84.8h0" stroke="#a8cd4b" stroke-width="1.1" stroke-linecap="round" fill="none"/>
<path d="M103.7 82.5h0M102.2 81.7h0M102.9 81.7h0" stroke="#e4525a" stroke-width="1.1" stroke-linecap="round" fill="none"/>
<path d="M115.4 40.4h0M112.4 52.7h0M114.6 55.4h0M112.8 44.8h0M115.9 49.8h0M110.8 48.9h0M110.8 53.8h0M110.0 53.8h0M115.7 42.9h0M112.5 48.4h0M110.0 48.8h0M111.8 54.3h0M110.4 42.6h0M110.8 43.2h0M114.7 45.7h0M116.5 49.3h0M112.8 49.5h0M116.1 45.7h0M112.9 42.2h0M111.4 39.4h0M115.8 60.1h0M115.1 39.6h0M111.4 44.8h0M109.5 41.9h0M115.0 41.5h0M115.6 41.1h0M110.5 50.1h0" stroke="#e2379a" stroke-width="1.1" stroke-linecap="round" fill="none"/>
<path d="M120.1 51.6h0M116.5 56.5h0M121.0 46.9h0M117.6 55.9h0M116.7 62.0h0M110.6 42.0h0M116.5 49.3h0M114.2 56.5h0M119.5 45.0h0M113.6 42.5h0M116.8 40.7h0M112.7 44.2h0M115.4 44.5h0M115.3 38.6h0M113.2 41.9h0M115.6 59.1h0M120.2 61.7h0M118.6 62.8h0M113.4 61.5h0M120.8 57.9h0M116.9 59.5h0M115.3 51.5h0M119.1 40.9h0M113.0 55.3h0M113.1 59.4h0M119.2 39.7h0M120.8 59.8h0M114.0 49.8h0" stroke="#8e3fa2" stroke-width="1.1" stroke-linecap="round" fill="none"/>
<path d="M107.0 121.7h0M96.3 126.0h0M115.6 117.8h0M99.2 118.1h0M99.4 112.3h0M89.0 109.4h0M112.9 122.0h0M108.7 126.6h0M103.3 126.3h0M116.6 132.0h0M93.3 112.9h0M100.4 114.7h0M108.3 128.0h0M114.9 114.0h0M93.3 118.9h0M117.4 127.2h0M106.1 134.5h0M105.8 116.1h0M91.8 124.4h0M108.0 125.3h0M101.7 124.2h0M101.3 111.1h0M105.9 131.1h0M96.5 135.3h0M109.7 126.0h0M89.2 112.6h0M117.5 131.4h0M103.9 121.0h0M102.5 133.9h0M106.1 117.9h0M112.4 115.9h0M104.4 133.1h0M101.2 116.0h0M121.2 117.7h0M99.8 117.1h0M100.9 110.5h0M104.8 122.4h0M98.4 114.2h0M101.8 124.1h0M96.1 120.8h0M95.3 125.5h0M116.7 120.1h0M111.2 115.7h0M101.3 132.2h0M102.6 133.5h0M86.9 113.3h0M92.7 112.5h0M101.6 129.9h0M115.9 117.8h0M96.1 116.7h0M96.9 118.9h0M113.8 121.7h0M92.5 121.6h0M115.5 122.0h0M97.7 115.4h0M95.9 129.4h0M104.4 108.1h0M116.8 128.6h0M107.8 121.7h0M89.1 116.3h0M99.8 128.2h0M104.8 112.5h0M105.8 117.1h0M103.4 127.7h0M92.3 125.0h0M88.7 123.9h0M94.1 113.7h0M103.5 128.6h0M108.9 135.9h0M94.2 130.0h0M108.6 120.3h0M99.9 134.0h0M96.0 119.8h0M111.8 129.1h0M99.6 111.7h0M119.7 113.5h0M90.5 116.4h0M97.9 116.6h0M94.6 123.3h0M118.8 113.8h0M97.4 125.6h0M114.7 133.0h0M101.0 122.0h0M105.7 123.3h0M101.6 131.8h0M101.3 131.7h0M91.1 123.2h0M96.6 110.9h0M117.1 126.6h0M110.6 126.7h0M105.8 118.5h0M107.6 110.2h0M89.7 113.1h0M91.1 111.2h0M98.4 127.4h0M103.8 117.5h0M115.5 126.2h0M112.1 126.9h0M115.1 136.4h0M99.0 130.7h0M116.9 132.3h0M93.6 123.9h0M113.5 132.0h0M100.3 118.2h0M106.0 132.3h0M98.5 123.3h0M95.0 113.4h0M112.9 113.3h0M101.8 134.3h0M105.3 129.6h0M113.1 114.8h0M112.9 112.4h0M106.4 133.7h0M111.0 130.3h0M100.7 129.6h0M98.5 110.7h0M96.7 134.2h0M121.8 116.1h0M111.4 127.2h0M111.0 136.0h0M103.0 116.1h0M98.4 119.1h0M98.9 120.1h0M113.1 117.9h0M105.8 115.5h0M100.1 111.0h0M97.6 111.8h0M116.2 124.3h0M109.9 137.7h0M111.5 131.1h0M99.5 112.1h0M113.3 122.0h0M106.6 126.2h0M89.3 110.0h0M107.3 119.3h0M99.0 124.4h0M107.9 128.1h0M98.2 124.1h0M100.0 126.7h0M116.7 122.1h0M116.7 126.3h0M105.3 119.9h0M111.6 119.5h0M116.8 116.6h0M94.9 122.7h0M107.7 116.2h0M98.8 115.9h0M100.0 120.0h0M120.8 114.9h0M101.3 111.1h0M109.3 134.7h0M86.7 111.7h0M107.6 134.6h0M122.9 118.9h0M96.5 120.9h0M109.6 118.7h0M90.2 110.3h0M97.0 123.4h0M112.2 130.6h0M98.7 118.5h0M99.1 133.4h0M91.3 116.8h0M101.2 122.7h0M94.8 118.7h0M112.9 118.2h0M109.0 116.0h0M104.6 132.4h0M109.2 121.6h0M98.5 112.0h0M110.1 112.5h0M104.4 134.2h0M105.4 110.6h0M90.5 118.8h0M99.7 130.7h0M107.7 128.8h0M108.7 116.8h0M100.3 121.7h0M95.7 128.2h0M89.2 122.9h0M100.5 111.6h0M97.4 120.8h0M107.5 122.7h0M106.4 119.3h0M109.2 135.5h0M115.7 117.8h0M102.7 119.7h0M116.0 129.2h0M105.3 135.1h0M116.6 121.8h0M120.2 115.9h0M105.6 124.0h0M105.0 122.7h0M110.0 123.5h0M105.6 131.6h0M105.7 110.0h0M119.5 123.3h0M88.4 113.6h0M106.0 124.1h0M100.7 115.9h0M103.0 129.5h0M98.5 124.2h0M103.9 109.2h0M95.4 118.7h0M103.7 133.2h0M92.7 111.5h0M119.3 124.5h0M93.8 124.2h0M103.5 123.2h0M98.3 124.5h0M117.3 120.8h0M111.0 122.9h0M107.0 125.6h0M109.1 125.7h0M104.2 112.0h0M90.9 120.4h0M98.4 130.5h0M99.3 134.7h0M111.1 122.8h0M113.0 126.8h0M88.7 112.1h0M101.3 128.7h0M105.8 112.9h0M104.9 131.1h0M98.7 127.3h0M88.4 111.0h0M117.3 126.6h0M117.2 111.6h0M105.2 131.7h0M120.3 114.7h0M94.2 115.8h0M91.0 124.6h0M103.9 125.2h0M115.5 117.9h0M99.9 113.8h0M101.9 134.7h0M91.2 124.2h0M101.4 116.6h0M96.2 126.7h0M105.0 115.6h0M118.1 118.1h0M107.9 129.4h0M89.3 125.1h0M113.0 124.3h0M94.3 111.7h0M114.9 121.6h0M115.1 127.9h0M109.8 112.7h0M107.1 124.6h0M102.5 122.9h0M92.9 111.0h0M117.1 118.3h0M92.0 111.6h0M101.9 117.3h0M94.8 118.8h0M102.7 125.1h0M105.4 133.6h0M116.5 129.0h0M112.7 116.8h0M103.1 120.4h0M110.9 115.1h0M98.2 121.4h0M102.6 116.3h0M108.1 115.2h0M120.5 117.0h0M100.4 131.8h0" stroke="#a8cd4b" stroke-width="1.1" stroke-linecap="round" fill="none"/>
<path d="M57.5 80.7h0M75.6 92.9h0M82.7 100.3h0M58.8 80.0h0M95.6 106.8h0M70.3 75.9h0M76.7 81.0h0M64.1 77.1h0M80.1 98.1h0M69.8 91.5h0M97.8 97.5h0M87.1 98.4h0M88.3 96.8h0M71.4 87.1h0M69.8 79.1h0M69.2 87.8h0M95.8 100.9h0M84.9 95.9h0M83.4 81.0h0M97.9 94.8h0M85.2 89.5h0M67.2 90.4h0M94.4 96.7h0M70.2 81.9h0M88.0 103.0h0M70.5 75.1h0M98.3 99.1h0M65.3 87.1h0M79.8 98.4h0M86.7 83.6h0M64.7 88.1h0M89.6 89.1h0M97.5 99.4h0M90.5 96.4h0M84.1 85.2h0M93.4 100.6h0M64.9 74.3h0M76.5 89.3h0M77.0 78.6h0M75.2 81.1h0M93.5 99.6h0M89.5 93.6h0M82.9 80.4h0M62.5 84.5h0M79.8 95.8h0M97.8 99.5h0M63.8 88.8h0M99.0 98.2h0M62.3 75.3h0M81.6 81.7h0M93.5 89.3h0M70.5 94.5h0M74.0 81.4h0M81.7 97.2h0M82.4 86.4h0M101.9 102.8h0M70.0 91.3h0M65.4 83.5h0M66.8 89.5h0M100.4 104.1h0M68.8 81.7h0M71.5 85.4h0M86.7 82.3h0M64.8 74.8h0M63.6 92.3h0M67.3 86.7h0M88.6 95.9h0M65.9 90.8h0M100.2 100.4h0M65.6 91.9h0M81.5 79.9h0M72.2 98.7h0M104.1 99.7h0M68.7 91.6h0M98.8 99.4h0M87.4 93.8h0M94.2 90.4h0M94.5 106.7h0M95.2 103.3h0M89.8 92.7h0M101.3 99.9h0M71.3 77.8h0M90.0 92.9h0M85.6 101.0h0M85.5 85.7h0M91.8 97.8h0M73.2 94.2h0M76.3 95.6h0M66.0 87.3h0M74.9 87.6h0M102.9 101.4h0M78.0 80.6h0M86.1 102.2h0M56.2 76.3h0M73.3 87.8h0M78.3 93.7h0M102.5 101.2h0M74.0 75.1h0M95.2 89.9h0M87.9 92.5h0M99.9 108.1h0M65.3 89.6h0M83.0 86.5h0M78.4 75.8h0M72.9 80.4h0M91.0 83.6h0M76.6 81.9h0M68.5 84.5h0M82.2 98.8h0M67.2 80.2h0M72.1 73.2h0M90.1 84.5h0M68.3 88.2h0M88.5 91.0h0M88.5 84.3h0M84.3 87.5h0M85.9 87.6h0M82.9 99.9h0M72.1 76.7h0M89.9 95.2h0M65.1 84.6h0M80.3 94.9h0M88.7 94.0h0M67.9 82.6h0M90.3 93.8h0M99.9 104.1h0M66.8 81.1h0M66.0 82.5h0M89.8 98.3h0M58.9 91.8h0M79.1 88.6h0M83.7 81.6h0M90.8 92.5h0M69.1 80.8h0M78.4 97.7h0M66.9 92.5h0M71.0 88.2h0M91.3 99.2h0M63.7 92.5h0M83.9 100.9h0M85.0 102.9h0M91.9 89.1h0M71.7 74.4h0M87.0 83.3h0M70.4 84.6h0M84.9 83.3h0M86.9 94.2h0M76.4 79.3h0M73.5 90.8h0M82.1 95.6h0M71.1 85.1h0M81.6 84.7h0M73.6 78.0h0M95.7 101.6h0M61.9 76.2h0M81.6 82.7h0M77.8 81.5h0M92.3 87.9h0M74.9 94.4h0M62.8 89.1h0M72.0 88.6h0M89.5 85.8h0M72.0 72.8h0M74.5 73.8h0M86.5 85.1h0M100.8 95.1h0M74.7 93.1h0M78.9 90.9h0M97.1 109.7h0M81.7 98.3h0M99.4 102.7h0M92.5 95.4h0M98.5 99.9h0M69.8 73.9h0M88.3 93.5h0" stroke="#ffffff" stroke-width="1.0" stroke-linecap="round" fill="none"/>
<text x="288.1" y="16.5" font-size="6.4" text-anchor="start" fill="#231f20" font-weight="normal" font-style="normal" stroke="#231f20" stroke-width="0.2" textLength="17.1" lengthAdjust="spacingAndGlyphs" >Day 0</text>
<line x1="254.8" y1="21.9" x2="338.5" y2="21.9" stroke="#6d6e70" stroke-width="1.5" />
<text x="428.1" y="16.5" font-size="6.4" text-anchor="start" fill="#231f20" font-weight="normal" font-style="normal" stroke="#231f20" stroke-width="0.2" textLength="17.1" lengthAdjust="spacingAndGlyphs" >Day 6</text>
<line x1="394.8" y1="21.9" x2="478.5" y2="21.9" stroke="#6d6e70" stroke-width="1.5" />
<text x="258.7" y="36.7" font-size="6.5" fill="#4a60a6" font-weight="bold" textLength="17.6" lengthAdjust="spacingAndGlyphs">19/28</text>
<text x="319.2" y="36.7" font-size="6.5" fill="#2a9862" font-weight="bold" textLength="18.7" lengthAdjust="spacingAndGlyphs">19/BB</text>
<text x="396.7" y="36.7" font-size="6.5" fill="#4a60a6" font-weight="bold" textLength="17.9" lengthAdjust="spacingAndGlyphs">19/28</text>
<text x="457.3" y="36.7" font-size="6.5" fill="#2a9862" font-weight="bold" textLength="18.7" lengthAdjust="spacingAndGlyphs">19/BB</text>
<path d="M267.20 64.60L265.98 41.33A23.3 23.3 0 0 1 268.42 41.33Z" fill="#5a3c9c" stroke="#5a3c9c" stroke-width="0.3"/>
<path d="M267.20 64.60L268.42 41.33A23.3 23.3 0 0 1 286.52 77.63Z" fill="#e4379b" stroke="#e4379b" stroke-width="0.3"/>
<path d="M267.20 64.60L286.52 77.63A23.3 23.3 0 0 1 259.23 86.49Z" fill="#f38a2c" stroke="#f38a2c" stroke-width="0.3"/>
<path d="M267.20 64.60L259.23 86.49A23.3 23.3 0 0 1 243.91 65.41Z" fill="#d4c22c" stroke="#d4c22c" stroke-width="0.3"/>
<path d="M267.20 64.60L243.91 65.41A23.3 23.3 0 0 1 265.98 41.33Z" fill="#a6c94a" stroke="#a6c94a" stroke-width="0.3"/>
<circle cx="267.2" cy="64.6" r="23.3" fill="none" stroke="#2b1d2e" stroke-width="1.1"/>
<path d="M328.50 64.60L327.69 41.31A23.3 23.3 0 0 1 328.91 41.30Z" fill="#5a3c9c" stroke="#5a3c9c" stroke-width="0.3"/>
<path d="M328.50 64.60L328.91 41.30A23.3 23.3 0 0 1 344.69 81.36Z" fill="#e4379b" stroke="#e4379b" stroke-width="0.3"/>
<path d="M328.50 64.60L344.69 81.36A23.3 23.3 0 0 1 309.89 78.62Z" fill="#f38a2c" stroke="#f38a2c" stroke-width="0.3"/>
<path d="M328.50 64.60L309.89 78.62A23.3 23.3 0 0 1 308.53 52.60Z" fill="#d4c22c" stroke="#d4c22c" stroke-width="0.3"/>
<path d="M328.50 64.60L308.53 52.60A23.3 23.3 0 0 1 327.69 41.31Z" fill="#a6c94a" stroke="#a6c94a" stroke-width="0.3"/>
<circle cx="328.5" cy="64.6" r="23.3" fill="none" stroke="#2b1d2e" stroke-width="1.1"/>
<path d="M405.50 64.80L406.32 41.31A23.5 23.5 0 0 1 428.43 69.93Z" fill="#5a3c9c" stroke="#5a3c9c" stroke-width="0.3"/>
<path d="M405.50 64.80L428.43 69.93A23.5 23.5 0 0 1 394.29 85.45Z" fill="#9a3fa3" stroke="#9a3fa3" stroke-width="0.3"/>
<path d="M405.50 64.80L394.29 85.45A23.5 23.5 0 0 1 389.38 47.70Z" fill="#e8525a" stroke="#e8525a" stroke-width="0.3"/>
<path d="M405.50 64.80L389.38 47.70A23.5 23.5 0 0 1 403.45 41.39Z" fill="#6db33f" stroke="#6db33f" stroke-width="0.3"/>
<path d="M405.50 64.80L403.45 41.39A23.5 23.5 0 0 1 406.32 41.31Z" fill="#2a8fd3" stroke="#2a8fd3" stroke-width="0.3"/>
<circle cx="405.5" cy="64.8" r="23.5" fill="none" stroke="#2b1d2e" stroke-width="1.1"/>
<path d="M466.70 64.80L466.70 41.10A23.7 23.7 0 1 1 462.38 88.10Z" fill="#5a3c9c" stroke="#5a3c9c" stroke-width="0.3"/>
<path d="M466.70 64.80L462.38 88.10A23.7 23.7 0 0 1 443.44 60.28Z" fill="#9a3fa3" stroke="#9a3fa3" stroke-width="0.3"/>
<path d="M466.70 64.80L443.44 60.28A23.7 23.7 0 0 1 459.57 42.20Z" fill="#e8525a" stroke="#e8525a" stroke-width="0.3"/>
<path d="M466.70 64.80L459.57 42.20A23.7 23.7 0 0 1 462.18 41.54Z" fill="#c8d24a" stroke="#c8d24a" stroke-width="0.3"/>
<path d="M466.70 64.80L462.18 41.54A23.7 23.7 0 0 1 466.70 41.10Z" fill="#6db33f" stroke="#6db33f" stroke-width="0.3"/>
<circle cx="466.7" cy="64.8" r="23.7" fill="none" stroke="#2b1d2e" stroke-width="1.1"/>
<text x="358.5" y="103.3" font-size="6.4" text-anchor="start" fill="#231f20" font-weight="normal" font-style="normal" stroke="#231f20" stroke-width="0.2" textLength="20.7" lengthAdjust="spacingAndGlyphs" >Day 15</text>
<line x1="327.3" y1="108.3" x2="410.4" y2="108.3" stroke="#231f20" stroke-width="1.0" />
<text x="330" y="123.7" font-size="6.5" fill="#4a60a6" font-weight="bold" textLength="18.5" lengthAdjust="spacingAndGlyphs">19/28</text>
<text x="388.8" y="123.7" font-size="6.5" fill="#2a9862" font-weight="bold" textLength="19.1" lengthAdjust="spacingAndGlyphs">19/BB</text>
<path d="M339.30 154.50L355.87 172.27A24.3 24.3 0 1 1 335.33 130.53Z" fill="#2db5b0" stroke="#2db5b0" stroke-width="0.3"/>
<path d="M339.30 154.50L335.33 130.53A24.3 24.3 0 0 1 338.62 130.21Z" fill="#5a55ad" stroke="#5a55ad" stroke-width="0.3"/>
<path d="M339.30 154.50L338.62 130.21A24.3 24.3 0 0 1 341.63 130.31Z" fill="#8f3fa4" stroke="#8f3fa4" stroke-width="0.3"/>
<path d="M339.30 154.50L341.63 130.31A24.3 24.3 0 0 1 345.10 130.90Z" fill="#c8348f" stroke="#c8348f" stroke-width="0.3"/>
<path d="M339.30 154.50L345.10 130.90A24.3 24.3 0 0 1 349.14 132.28Z" fill="#e8525a" stroke="#e8525a" stroke-width="0.3"/>
<path d="M339.30 154.50L349.14 132.28A24.3 24.3 0 0 1 358.21 139.24Z" fill="#7cc443" stroke="#7cc443" stroke-width="0.3"/>
<path d="M339.30 154.50L358.21 139.24A24.3 24.3 0 0 1 355.87 172.27Z" fill="#64bc74" stroke="#64bc74" stroke-width="0.3"/>
<line x1="339.3" y1="154.5" x2="355.87" y2="172.27" stroke="#1d4b43" stroke-width="0.6"/>
<line x1="339.3" y1="154.5" x2="358.21" y2="139.24" stroke="#1d4b43" stroke-width="0.6"/>
<line x1="339.3" y1="154.5" x2="349.14" y2="132.28" stroke="#1d4b43" stroke-width="0.6"/>
<line x1="339.3" y1="154.5" x2="335.33" y2="130.53" stroke="#1d4b43" stroke-width="0.6"/>
<circle cx="339.3" cy="154.5" r="24.3" fill="none" stroke="#1d4b43" stroke-width="1.1"/>
<path d="M398.20 154.50L405.43 131.30A24.3 24.3 0 1 1 373.90 154.92Z" fill="#64bc74" stroke="#64bc74" stroke-width="0.3"/>
<path d="M398.20 154.50L373.90 154.92A24.3 24.3 0 0 1 391.58 131.12Z" fill="#2db5b0" stroke="#2db5b0" stroke-width="0.3"/>
<path d="M398.20 154.50L391.58 131.12A24.3 24.3 0 0 1 397.35 130.21Z" fill="#5a55ad" stroke="#5a55ad" stroke-width="0.3"/>
<path d="M398.20 154.50L397.35 130.21A24.3 24.3 0 0 1 399.77 130.25Z" fill="#7b3a9a" stroke="#7b3a9a" stroke-width="0.3"/>
<path d="M398.20 154.50L399.77 130.25A24.3 24.3 0 0 1 401.83 130.47Z" fill="#b8532e" stroke="#b8532e" stroke-width="0.3"/>
<path d="M398.20 154.50L401.83 130.47A24.3 24.3 0 0 1 405.43 131.30Z" fill="#a7c050" stroke="#a7c050" stroke-width="0.3"/>
<line x1="398.2" y1="154.5" x2="373.90" y2="154.92" stroke="#1d4b43" stroke-width="0.6"/>
<line x1="398.2" y1="154.5" x2="391.58" y2="131.12" stroke="#1d4b43" stroke-width="0.6"/>
<line x1="398.2" y1="154.5" x2="405.43" y2="131.30" stroke="#1d4b43" stroke-width="0.6"/>
<circle cx="398.2" cy="154.5" r="24.3" fill="none" stroke="#1d4b43" stroke-width="1.1"/>
<text x="240.2" y="138.2" font-size="6.5" fill="#231f20" stroke="#231f20" stroke-width="0.2" textLength="43.3" lengthAdjust="spacingAndGlyphs"><tspan fill="#2db5b0" stroke="none" font-weight="bold">Cluster 9</tspan>: 59%</text>
<text x="231.2" y="146.6" font-size="7.1" text-anchor="start" fill="#231f20" font-weight="normal" font-style="italic" stroke="#231f20" stroke-width="0.2" textLength="60.3" lengthAdjust="spacingAndGlyphs" >JUN, FOS, HAVRC2,</text>
<text x="227.3" y="154.4" font-size="7.1" text-anchor="start" fill="#231f20" font-weight="normal" font-style="italic" stroke="#231f20" stroke-width="0.2" textLength="68.1" lengthAdjust="spacingAndGlyphs" >NFATC3, TIGIT, CTLA4,</text>
<text x="226.2" y="162.3" font-size="7.1" text-anchor="start" fill="#231f20" font-weight="normal" font-style="italic" stroke="#231f20" stroke-width="0.2" textLength="70.8" lengthAdjust="spacingAndGlyphs" >PHLDA1, LAG3, PDCD1</text>
<text x="451.7" y="141.5" font-size="6.5" fill="#231f20" stroke="#231f20" stroke-width="0.2" textLength="45.2" lengthAdjust="spacingAndGlyphs"><tspan fill="#3aa54a" stroke="none" font-weight="bold">Cluster 8</tspan>: 69%</text>
<text x="444" y="150.2" font-size="7.1" text-anchor="start" fill="#231f20" font-weight="normal" font-style="italic" stroke="#231f20" stroke-width="0.2" textLength="60.6" lengthAdjust="spacingAndGlyphs" >GNLY, CCL5, KLRK1,</text>
<text x="442.7" y="157.9" font-size="7.1" text-anchor="start" fill="#231f20" font-weight="normal" font-style="italic" stroke="#231f20" stroke-width="0.2" textLength="62.9" lengthAdjust="spacingAndGlyphs" >KLRC2, PRF1, GZMA,</text>
<text x="436.3" y="165.6" font-size="7.1" text-anchor="start" fill="#231f20" font-weight="normal" font-style="italic" stroke="#231f20" stroke-width="0.2" textLength="77.0" lengthAdjust="spacingAndGlyphs" >CTSW, GZMK, ID2, CD8A</text>
<text x="84.6" y="204.7" font-size="8.9" text-anchor="start" fill="#231f20" font-weight="normal" font-style="italic" stroke="#231f20" stroke-width="0.2" textLength="22.3" lengthAdjust="spacingAndGlyphs" >CD8A</text>
<line x1="40.2" y1="211" x2="40.2" y2="326.7" stroke="#231f20" stroke-width="1.1" />
<line x1="39.7" y1="326.2" x2="152" y2="326.2" stroke="#231f20" stroke-width="1.1" />
<line x1="37.3" y1="213" x2="40.2" y2="213" stroke="#231f20" stroke-width="0.8" />
<text x="34.2" y="215.3" font-size="6.5" text-anchor="end" fill="#231f20" font-weight="normal" font-style="normal" stroke="#231f20" stroke-width="0.2" >6</text>
<line x1="37.3" y1="269.5" x2="40.2" y2="269.5" stroke="#231f20" stroke-width="0.8" />
<text x="34.2" y="271.8" font-size="6.5" text-anchor="end" fill="#231f20" font-weight="normal" font-style="normal" stroke="#231f20" stroke-width="0.2" >3</text>
<line x1="37.3" y1="326.2" x2="40.2" y2="326.2" stroke="#231f20" stroke-width="0.8" />
<text x="34.2" y="328.5" font-size="6.5" text-anchor="end" fill="#231f20" font-weight="normal" font-style="normal" stroke="#231f20" stroke-width="0.2" >0</text>
<line x1="45.4" y1="326.2" x2="45.4" y2="329.2" stroke="#231f20" stroke-width="0.8" />
<text x="45.8" y="339" font-size="6.8" text-anchor="middle" fill="#231f20" font-weight="normal" font-style="normal" stroke="#231f20" stroke-width="0.2" >0</text>
<line x1="54.7" y1="326.2" x2="54.7" y2="329.2" stroke="#231f20" stroke-width="0.8" />
<text x="55.1" y="339" font-size="6.8" text-anchor="middle" fill="#231f20" font-weight="normal" font-style="normal" stroke="#231f20" stroke-width="0.2" >1</text>
<line x1="64.0" y1="326.2" x2="64.0" y2="329.2" stroke="#231f20" stroke-width="0.8" />
<text x="64.4" y="339" font-size="6.8" text-anchor="middle" fill="#231f20" font-weight="normal" font-style="normal" stroke="#231f20" stroke-width="0.2" >2</text>
<line x1="73.3" y1="326.2" x2="73.3" y2="329.2" stroke="#231f20" stroke-width="0.8" />
<text x="73.7" y="339" font-size="6.8" text-anchor="middle" fill="#231f20" font-weight="normal" font-style="normal" stroke="#231f20" stroke-width="0.2" >3</text>
<line x1="82.6" y1="326.2" x2="82.6" y2="329.2" stroke="#231f20" stroke-width="0.8" />
<text x="83.0" y="339" font-size="6.8" text-anchor="middle" fill="#231f20" font-weight="normal" font-style="normal" stroke="#231f20" stroke-width="0.2" >4</text>
<line x1="91.9" y1="326.2" x2="91.9" y2="329.2" stroke="#231f20" stroke-width="0.8" />
<text x="92.30000000000001" y="339" font-size="6.8" text-anchor="middle" fill="#231f20" font-weight="normal" font-style="normal" stroke="#231f20" stroke-width="0.2" >5</text>
<line x1="101.2" y1="326.2" x2="101.2" y2="329.2" stroke="#231f20" stroke-width="0.8" />
<text x="101.60000000000001" y="339" font-size="6.8" text-anchor="middle" fill="#231f20" font-weight="normal" font-style="normal" stroke="#231f20" stroke-width="0.2" >6</text>
<line x1="110.5" y1="326.2" x2="110.5" y2="329.2" stroke="#231f20" stroke-width="0.8" />
<text x="110.9" y="339" font-size="6.8" text-anchor="middle" fill="#231f20" font-weight="normal" font-style="normal" stroke="#231f20" stroke-width="0.2" >7</text>
<line x1="119.80000000000001" y1="326.2" x2="119.80000000000001" y2="329.2" stroke="#231f20" stroke-width="0.8" />
<text x="120.20000000000002" y="339" font-size="6.8" text-anchor="middle" fill="#231f20" font-weight="normal" font-style="normal" stroke="#231f20" stroke-width="0.2" >8</text>
<line x1="129.1" y1="326.2" x2="129.1" y2="329.2" stroke="#231f20" stroke-width="0.8" />
<text x="129.5" y="339" font-size="6.8" text-anchor="middle" fill="#231f20" font-weight="normal" font-style="normal" stroke="#231f20" stroke-width="0.2" >9</text>
<line x1="138.4" y1="326.2" x2="138.4" y2="329.2" stroke="#231f20" stroke-width="0.8" />
<text x="138.8" y="339" font-size="6.8" text-anchor="middle" fill="#231f20" font-weight="normal" font-style="normal" stroke="#231f20" stroke-width="0.2" >10</text>
<line x1="147.70000000000002" y1="326.2" x2="147.70000000000002" y2="329.2" stroke="#231f20" stroke-width="0.8" />
<text x="148.10000000000002" y="339" font-size="6.8" text-anchor="middle" fill="#231f20" font-weight="normal" font-style="normal" stroke="#231f20" stroke-width="0.2" >11</text>
<text x="86" y="351.1" font-size="8.8" text-anchor="start" fill="#231f20" font-weight="normal" font-style="normal" stroke="#231f20" stroke-width="0.2" textLength="19.6" lengthAdjust="spacingAndGlyphs" >Cluster</text>
<text font-size="7.3" text-anchor="middle" fill="#231f20" stroke="#231f20" stroke-width="0.2" textLength="84.5" lengthAdjust="spacingAndGlyphs" transform="translate(23.6,268.8) rotate(-90)">log<tspan font-size="4.5" dy="1.6">10</tspan><tspan dy="-1.6"> normalized expression</tspan></text>
<line x1="45.4" y1="233.8" x2="45.4" y2="326" stroke="#a7a9ac" stroke-width="0.75" />
<path d="M45.40 256.00 L45.40 256.00 L46.90 262.00 L48.10 270.00 L48.65 280.00 L48.10 290.00 L46.90 300.00 L46.00 307.00 L45.80 312.00 L45.90 318.00 L46.50 321.00 L46.60 324.00 L46.20 326.00 L44.60 326.00 L44.20 324.00 L44.30 321.00 L44.90 318.00 L45.00 312.00 L44.80 307.00 L43.90 300.00 L42.70 290.00 L42.15 280.00 L42.70 270.00 L43.90 262.00 L45.40 256.00 Z" fill="#5d3d9d" stroke="#422b71" stroke-width="0.45"/>
<line x1="42.8" y1="288.2" x2="48.0" y2="288.2" stroke="#000" stroke-opacity="0.3" stroke-width="0.5"/>
<line x1="54.7" y1="249.6" x2="54.7" y2="326" stroke="#a7a9ac" stroke-width="0.75" />
<path d="M54.70 324.20 L54.70 324.20 L57.10 324.80 L57.60 325.70 L56.90 326.20 L52.50 326.20 L51.80 325.70 L52.30 324.80 L54.70 324.20 Z" fill="#8a3a8c" stroke="#632964" stroke-width="0.45"/>
<line x1="64.0" y1="248.6" x2="64.0" y2="326" stroke="#a7a9ac" stroke-width="0.75" />
<path d="M64.00 324.20 L64.00 324.20 L66.40 324.80 L66.90 325.70 L66.20 326.20 L61.80 326.20 L61.10 325.70 L61.60 324.80 L64.00 324.20 Z" fill="#b23c82" stroke="#802b5d" stroke-width="0.45"/>
<line x1="73.3" y1="244.7" x2="73.3" y2="326" stroke="#a7a9ac" stroke-width="0.75" />
<path d="M73.30 324.20 L73.30 324.20 L75.70 324.80 L76.20 325.70 L75.50 326.20 L71.10 326.20 L70.40 325.70 L70.90 324.80 L73.30 324.20 Z" fill="#a84a62" stroke="#783546" stroke-width="0.45"/>
<line x1="82.6" y1="241.7" x2="82.6" y2="326" stroke="#a7a9ac" stroke-width="0.75" />
<path d="M82.60 247.60 L82.60 247.60 L84.30 255.00 L85.40 265.00 L85.80 276.00 L85.20 288.00 L84.10 298.00 L83.10 306.00 L83.00 312.00 L83.90 318.00 L84.10 323.00 L83.60 326.00 L81.60 326.00 L81.10 323.00 L81.30 318.00 L82.20 312.00 L82.10 306.00 L81.10 298.00 L80.00 288.00 L79.40 276.00 L79.80 265.00 L80.90 255.00 L82.60 247.60 Z" fill="#f18a2e" stroke="#ad6321" stroke-width="0.45"/>
<line x1="80.0" y1="284" x2="85.19999999999999" y2="284" stroke="#000" stroke-opacity="0.3" stroke-width="0.5"/>
<line x1="91.9" y1="230.8" x2="91.9" y2="326" stroke="#a7a9ac" stroke-width="0.75" />
<path d="M91.90 249.00 L91.90 249.00 L93.00 258.00 L93.60 267.00 L93.30 280.00 L92.90 295.00 L92.80 309.00 L93.50 314.00 L94.30 319.00 L94.60 322.00 L94.30 324.50 L93.50 326.00 L90.30 326.00 L89.50 324.50 L89.20 322.00 L89.50 319.00 L90.30 314.00 L91.00 309.00 L90.90 295.00 L90.50 280.00 L90.20 267.00 L90.80 258.00 L91.90 249.00 Z" fill="#cbbf38" stroke="#928928" stroke-width="0.45"/>
<line x1="101.2" y1="217.5" x2="101.2" y2="326" stroke="#a0a8a0" stroke-width="0.75" />
<path d="M101.20 224.00 L101.20 224.00 L102.80 232.00 L104.40 242.00 L104.80 250.00 L104.30 258.00 L103.20 268.00 L102.10 276.00 L101.50 284.00 L100.90 284.00 L100.30 276.00 L99.20 268.00 L98.10 258.00 L97.60 250.00 L98.00 242.00 L99.60 232.00 L101.20 224.00 Z" fill="#a9cd48" stroke="#799333" stroke-width="0.45"/>
<line x1="98.60000000000001" y1="256.2" x2="103.8" y2="256.2" stroke="#000" stroke-opacity="0.3" stroke-width="0.5"/>
<line x1="110.5" y1="233" x2="110.5" y2="326" stroke="#a7a9ac" stroke-width="0.75" />
<path d="M110.50 238.50 L110.50 238.50 L111.40 250.00 L111.80 275.00 L111.50 300.00 L111.70 309.00 L112.70 314.00 L113.40 318.00 L113.50 322.00 L113.00 324.50 L112.10 326.00 L108.90 326.00 L108.00 324.50 L107.50 322.00 L107.60 318.00 L108.30 314.00 L109.30 309.00 L109.50 300.00 L109.20 275.00 L109.60 250.00 L110.50 238.50 Z" fill="#6bb040" stroke="#4d7e2e" stroke-width="0.45"/>
<line x1="119.80000000000001" y1="229.7" x2="119.80000000000001" y2="326" stroke="#909a94" stroke-width="0.75" />
<path d="M119.80 236.30 L119.80 236.30 L122.00 244.00 L123.70 254.00 L123.40 262.00 L122.40 272.00 L121.20 283.00 L120.30 291.00 L120.00 298.00 L119.60 298.00 L119.30 291.00 L118.40 283.00 L117.20 272.00 L116.20 262.00 L115.90 254.00 L117.60 244.00 L119.80 236.30 Z" fill="#4fb27a" stroke="#388057" stroke-width="0.45"/>
<line x1="117.20000000000002" y1="265" x2="122.4" y2="265" stroke="#000" stroke-opacity="0.3" stroke-width="0.5"/>
<line x1="129.1" y1="239" x2="129.1" y2="326" stroke="#c8c9cb" stroke-width="0.75" />
<path d="M129.10 322.80 L129.10 322.80 L130.60 323.80 L130.70 325.00 L130.30 326.00 L127.90 326.00 L127.50 325.00 L127.60 323.80 L129.10 322.80 Z" fill="#3b7f86" stroke="#2a5b60" stroke-width="0.45"/>
<line x1="138.4" y1="256.2" x2="138.4" y2="326" stroke="#a7a9ac" stroke-width="0.75" />
<path d="M138.40 256.20 L138.40 256.20 L139.20 270.00 L139.20 300.00 L139.50 307.00 L140.50 313.00 L141.20 318.00 L141.10 322.00 L140.50 325.00 L140.00 326.00 L136.80 326.00 L136.30 325.00 L135.70 322.00 L135.60 318.00 L136.30 313.00 L137.30 307.00 L137.60 300.00 L137.60 270.00 L138.40 256.20 Z" fill="#2e88c8" stroke="#216190" stroke-width="0.45"/>
<line x1="147.70000000000002" y1="238.3" x2="147.70000000000002" y2="326" stroke="#a7a9ac" stroke-width="0.75" />
<path d="M147.70 243.00 L147.70 243.00 L149.30 252.00 L150.60 262.00 L151.00 268.00 L150.60 276.00 L149.50 288.00 L148.70 300.00 L148.60 310.00 L149.00 320.00 L148.70 326.00 L146.70 326.00 L146.40 320.00 L146.80 310.00 L146.70 300.00 L145.90 288.00 L144.80 276.00 L144.40 268.00 L144.80 262.00 L146.10 252.00 L147.70 243.00 Z" fill="#4b50aa" stroke="#36397a" stroke-width="0.45"/>
<text x="235.8" y="204.3" font-size="8.3" text-anchor="start" fill="#231f20" font-weight="normal" font-style="normal" stroke="#231f20" stroke-width="0.2" textLength="40" lengthAdjust="spacingAndGlyphs" >CD8+ only</text>
<line x1="203.3" y1="211" x2="203.3" y2="326.9" stroke="#231f20" stroke-width="1" />
<line x1="202.8" y1="326.4" x2="306" y2="326.4" stroke="#231f20" stroke-width="1" />
<line x1="200.5" y1="212.7" x2="203.3" y2="212.7" stroke="#231f20" stroke-width="0.8" />
<text x="196.6" y="215.0" font-size="6.4" text-anchor="end" fill="#231f20" font-weight="normal" font-style="normal" stroke="#231f20" stroke-width="0.2" >4</text>
<line x1="200.5" y1="239.7" x2="203.3" y2="239.7" stroke="#231f20" stroke-width="0.8" />
<text x="196.6" y="242.0" font-size="6.4" text-anchor="end" fill="#231f20" font-weight="normal" font-style="normal" stroke="#231f20" stroke-width="0.2" >2</text>
<line x1="200.5" y1="267.4" x2="203.3" y2="267.4" stroke="#231f20" stroke-width="0.8" />
<text x="196.6" y="269.7" font-size="6.4" text-anchor="end" fill="#231f20" font-weight="normal" font-style="normal" stroke="#231f20" stroke-width="0.2" >0</text>
<line x1="200.5" y1="295" x2="203.3" y2="295" stroke="#231f20" stroke-width="0.8" />
<text x="196.6" y="297.3" font-size="6.4" text-anchor="end" fill="#231f20" font-weight="normal" font-style="normal" stroke="#231f20" stroke-width="0.2" >−2</text>
<line x1="200.5" y1="322.7" x2="203.3" y2="322.7" stroke="#231f20" stroke-width="0.8" />
<text x="196.6" y="325.0" font-size="6.4" text-anchor="end" fill="#231f20" font-weight="normal" font-style="normal" stroke="#231f20" stroke-width="0.2" >−4</text>
<line x1="209.5" y1="326.4" x2="209.5" y2="329.2" stroke="#231f20" stroke-width="0.8" />
<text x="209.5" y="340.6" font-size="6.3" text-anchor="middle" fill="#231f20" font-weight="normal" font-style="normal" stroke="#231f20" stroke-width="0.2" >−5</text>
<line x1="257.6" y1="326.4" x2="257.6" y2="329.2" stroke="#231f20" stroke-width="0.8" />
<text x="257.6" y="340.6" font-size="6.3" text-anchor="middle" fill="#231f20" font-weight="normal" font-style="normal" stroke="#231f20" stroke-width="0.2" >0</text>
<line x1="306" y1="326.4" x2="306" y2="329.2" stroke="#231f20" stroke-width="0.8" />
<text x="306" y="340.6" font-size="6.3" text-anchor="middle" fill="#231f20" font-weight="normal" font-style="normal" stroke="#231f20" stroke-width="0.2" >5</text>
<text x="245" y="352.1" font-size="8.8" text-anchor="start" fill="#231f20" font-weight="normal" font-style="normal" stroke="#231f20" stroke-width="0.2" textLength="21.9" lengthAdjust="spacingAndGlyphs" >UMAP1</text>
<text x="0" y="0" font-size="9" text-anchor="middle" fill="#231f20" stroke="#231f20" stroke-width="0.2" textLength="21.4" lengthAdjust="spacingAndGlyphs" transform="translate(185.3,268) rotate(-90)">UMAP2</text>
<rect x="315.2" y="217.80" width="5.6" height="5.6" fill="#2f9bd6"/>
<text x="324.1" y="223.0" font-size="6.4" text-anchor="start" fill="#231f20" font-weight="normal" font-style="normal" stroke="#231f20" stroke-width="0.2" >0</text>
<rect x="315.2" y="229.60" width="5.6" height="5.6" fill="#3cbdbd"/>
<text x="324.1" y="234.8" font-size="6.4" text-anchor="start" fill="#231f20" font-weight="normal" font-style="normal" stroke="#231f20" stroke-width="0.2" >1</text>
<rect x="315.2" y="241.40" width="5.6" height="5.6" fill="#5cb96c"/>
<text x="324.1" y="246.6" font-size="6.4" text-anchor="start" fill="#231f20" font-weight="normal" font-style="normal" stroke="#231f20" stroke-width="0.2" >2</text>
<rect x="315.2" y="253.20" width="5.6" height="5.6" fill="#7bc25a"/>
<text x="324.1" y="258.40000000000003" font-size="6.4" text-anchor="start" fill="#231f20" font-weight="normal" font-style="normal" stroke="#231f20" stroke-width="0.2" >3</text>
<rect x="315.2" y="265.00" width="5.6" height="5.6" fill="#d9b22f"/>
<text x="324.1" y="270.2" font-size="6.4" text-anchor="start" fill="#231f20" font-weight="normal" font-style="normal" stroke="#231f20" stroke-width="0.2" >4</text>
<rect x="315.2" y="276.80" width="5.6" height="5.6" fill="#e8654a"/>
<text x="324.1" y="282.0" font-size="6.4" text-anchor="start" fill="#231f20" font-weight="normal" font-style="normal" stroke="#231f20" stroke-width="0.2" >5</text>
<rect x="315.2" y="288.60" width="5.6" height="5.6" fill="#e8477a"/>
<text x="324.1" y="293.8" font-size="6.4" text-anchor="start" fill="#231f20" font-weight="normal" font-style="normal" stroke="#231f20" stroke-width="0.2" >6</text>
<rect x="315.2" y="300.40" width="5.6" height="5.6" fill="#c6409f"/>
<text x="324.1" y="305.6" font-size="6.4" text-anchor="start" fill="#231f20" font-weight="normal" font-style="normal" stroke="#231f20" stroke-width="0.2" >7</text>
<rect x="315.2" y="312.20" width="5.6" height="5.6" fill="#4f52a8"/>
<text x="324.1" y="317.40000000000003" font-size="6.4" text-anchor="start" fill="#231f20" font-weight="normal" font-style="normal" stroke="#231f20" stroke-width="0.2" >8</text>
<g filter="url(#bl)">
<path d="M243.2 215.7L245.7 216.7L248.1 217.9L249.3 219.5L250.6 221.1L251.7 222.7L252.7 224.7L253.9 226.4L255.5 228.0L256.8 229.8L257.6 231.8L258.0 234.0L258.4 236.4L259.1 238.7L259.9 241.0L260.4 243.3L261.0 245.7L262.0 247.9L262.5 249.9L262.6 251.9L262.3 254.0L262.3 255.5L259.9 256.3L258.3 257.7L256.6 256.4L255.1 254.9L253.4 253.6L251.9 252.4L249.8 251.9L247.9 251.1L246.0 249.9L244.1 249.2L242.1 248.9L240.0 249.0L237.6 249.0L235.3 248.6L232.9 248.0L232.2 246.0L231.6 244.0L231.2 242.0L231.9 240.1L232.3 238.1L232.2 236.1L231.8 233.9L232.2 231.8L232.9 229.8L233.9 227.9L234.8 225.9L236.0 223.9L237.5 222.1L238.8 220.4L241.0 218.6Z" fill="#e8654a" fill-opacity="0.44"/>
<path d="M226.0 232.5L227.7 234.1L229.1 235.9L230.3 238.5L231.6 241.0L231.6 243.3L231.4 245.7L231.6 247.9L231.6 250.0L231.6 252.1L231.2 254.2L230.5 256.1L229.4 258.2L228.5 260.3L228.0 262.2L226.0 262.1L224.0 262.0L222.0 262.2L220.0 262.8L217.9 263.5L215.9 263.4L213.9 262.9L212.0 262.3L210.2 262.0L210.3 260.0L210.4 258.0L210.6 256.0L211.5 254.1L212.1 252.0L212.6 249.7L214.1 247.7L216.1 246.1L217.9 244.4L219.2 242.4L220.2 240.2L221.5 238.0L222.9 235.9L224.2 234.0Z" fill="#5cb96c" fill-opacity="0.40"/>
<path d="M228.9 249.5L231.4 249.7L233.8 249.5L236.0 248.8L238.0 248.6L240.0 248.7L242.0 248.8L244.0 249.0L246.1 249.8L248.1 250.8L249.8 252.1L250.1 254.2L250.7 256.2L251.9 258.0L251.8 260.5L251.3 262.8L250.2 265.4L248.1 266.4L246.1 267.5L244.0 268.3L242.0 267.7L240.1 267.4L238.0 267.6L236.0 268.1L233.7 267.1L231.8 265.6L230.0 264.0L229.4 261.7L228.7 259.3L228.2 257.0L228.6 254.7L228.6 252.3Z" fill="#2f9bd6" fill-opacity="0.44"/>
<path d="M209.0 262.1L211.2 262.2L213.5 262.4L215.7 262.7L218.0 262.7L220.0 262.4L222.0 262.0L224.0 262.0L226.0 262.5L228.0 263.1L229.8 264.4L231.8 265.4L233.6 266.2L234.9 268.3L236.5 270.1L238.3 271.9L239.1 273.9L239.4 275.9L239.3 278.0L239.3 280.1L239.7 282.0L239.9 284.2L240.1 286.3L240.1 288.5L240.1 290.7L240.3 292.8L240.4 295.1L239.6 297.3L238.4 299.4L237.7 301.6L237.8 303.6L235.6 305.4L232.9 306.9L230.6 306.6L228.3 306.4L225.8 305.9L224.0 304.6L222.2 303.3L220.3 302.3L218.2 301.8L216.3 300.4L214.8 298.7L213.5 296.8L212.1 295.0L211.2 292.7L210.4 290.4L209.8 288.1L208.9 286.0L208.2 283.8L207.5 281.6L207.4 279.4L207.7 277.2L208.1 275.0L208.3 272.8L208.5 270.5L208.8 268.3L208.9 266.1L208.9 264.1Z" fill="#e8477a" fill-opacity="0.44"/>
<path d="M240.3 262.6L242.2 261.4L244.1 260.2L246.1 259.1L248.0 257.9L249.9 256.9L251.8 256.2L253.9 256.0L256.0 256.1L258.1 256.1L260.1 255.7L262.0 255.1L264.0 255.4L266.1 256.0L266.7 258.0L267.5 259.9L268.2 262.0L268.1 264.0L267.8 266.0L267.6 268.0L267.9 270.2L269.2 272.0L270.4 273.8L271.2 275.8L271.7 277.8L272.3 279.9L273.1 281.9L273.7 284.0L274.1 286.2L274.6 288.3L275.6 290.2L277.0 292.0L277.6 294.0L277.8 296.0L277.7 298.0L277.7 300.0L278.0 301.9L275.9 303.6L273.8 305.1L272.0 306.8L270.0 307.5L268.1 308.3L266.1 308.7L264.1 308.6L262.0 308.3L260.0 308.1L258.0 308.2L256.0 308.3L254.0 308.4L252.0 308.5L250.0 308.9L247.8 308.7L245.7 308.2L243.8 307.2L242.0 306.0L241.3 303.8L240.2 301.9L239.0 300.0L237.9 298.0L238.0 295.8L237.8 293.7L237.6 291.5L237.7 289.3L238.3 287.2L238.8 284.9L238.4 282.7L237.6 280.6L236.8 278.5L236.3 276.4L235.9 274.2L235.5 271.8L236.3 269.8L237.4 267.9L238.7 266.1L239.8 264.3Z" fill="#c6409f" fill-opacity="0.40"/>
<path d="M265.4 243.4L267.6 243.3L269.8 243.3L272.0 243.1L274.0 243.2L276.0 243.4L278.0 243.7L280.0 243.2L282.1 242.4L283.5 244.0L284.7 245.9L284.4 248.0L284.0 250.0L283.9 251.7L282.8 254.0L281.9 256.2L280.0 256.8L278.0 257.5L276.0 258.3L274.1 258.9L272.1 259.1L269.8 258.8L268.2 257.0L266.5 255.9L265.9 254.0L265.3 252.0L264.9 250.0L265.1 248.0L265.2 246.0Z" fill="#3cbdbd" fill-opacity="0.40"/>
<path d="M268.0 256.1L269.9 256.8L271.9 257.4L273.9 257.5L276.0 257.4L278.3 256.7L280.6 256.6L283.1 256.7L285.1 256.1L287.1 255.4L288.9 254.6L290.4 256.4L292.0 258.0L292.4 260.0L292.8 262.0L292.8 264.0L292.3 266.1L290.7 267.8L289.4 269.7L288.6 271.8L287.7 273.8L286.4 275.8L285.3 278.0L284.2 280.4L282.3 281.9L280.1 282.8L278.2 283.7L276.2 282.3L274.0 281.3L271.8 280.1L270.9 278.1L270.1 276.1L269.1 274.1L268.3 272.1L268.1 270.0L268.1 267.8L267.9 265.8L267.1 264.1L266.9 262.0L266.8 259.9L267.1 257.9Z" fill="#7bc25a" fill-opacity="0.40"/>
<path d="M284.2 268.5L286.3 267.8L288.2 266.7L289.9 265.2L292.2 263.8L294.2 264.3L296.1 265.1L298.2 265.9L299.6 267.9L300.8 270.1L301.9 272.0L302.0 274.0L302.5 276.0L303.2 278.0L303.5 280.1L302.6 282.1L301.7 284.0L301.0 285.9L300.4 288.0L299.9 289.9L298.8 291.9L297.9 294.0L297.3 296.2L296.5 298.6L295.0 299.9L293.1 300.9L291.2 301.8L289.9 302.9L288.0 303.1L286.0 303.5L284.2 303.8L282.7 302.3L280.9 301.1L279.1 299.9L277.4 298.2L277.1 296.1L277.0 293.9L276.6 291.9L275.7 290.0L275.5 288.0L275.5 286.0L275.6 284.0L275.7 282.0L275.8 279.8L277.1 277.9L278.9 276.2L280.7 274.5L281.9 272.4L282.7 270.0Z" fill="#d9b22f" fill-opacity="0.44"/>
<path d="M261.5 306.0L263.7 306.0L265.9 305.9L268.3 306.3L268.8 308.4L269.4 310.5L270.2 311.9L270.4 314.0L270.7 316.0L270.7 318.2L269.0 319.7L266.7 321.4L264.8 320.0L263.1 318.1L262.9 315.6L262.5 313.1L261.4 311.0L261.1 308.5Z" fill="#4f52a8" fill-opacity="0.68"/>
</g>
<path d="M238.5 279.2h0M241.6 276.7h0M246.8 285.0h0M242.4 275.9h0M242.1 275.8h0M237.9 285.4h0M239.0 291.4h0M240.6 283.3h0M243.1 292.4h0M240.6 284.4h0M238.0 283.0h0M242.7 290.4h0M241.6 288.9h0M240.7 283.1h0M243.9 282.7h0M239.0 293.0h0M242.2 279.4h0M240.8 295.6h0M244.7 291.4h0M241.0 275.4h0M244.8 295.0h0M241.1 290.5h0M245.8 296.6h0M242.2 285.7h0" stroke="#e8477a" stroke-width="1.1" stroke-linecap="round" fill="none"/>
<path d="M238.8 277.9h0M236.0 282.6h0M235.3 291.5h0M233.5 299.6h0M239.2 300.0h0M231.8 298.5h0M234.7 283.6h0M232.7 295.1h0M235.7 281.4h0M237.2 285.0h0M236.6 288.4h0M238.5 286.8h0M238.5 286.3h0M231.7 292.2h0M233.1 285.6h0M235.7 288.0h0M231.3 295.9h0M240.5 279.4h0M232.7 285.9h0M239.5 276.7h0M231.9 284.5h0" stroke="#c6409f" stroke-width="1.1" stroke-linecap="round" fill="none"/>
<path d="M260.9 253.7h0M259.4 258.0h0M259.2 251.7h0M261.5 257.9h0M263.9 253.9h0" stroke="#e8654a" stroke-width="1.1" stroke-linecap="round" fill="none"/>
<path d="M296.1 287.1h0M283.7 282.1h0M296.2 282.5h0M288.2 297.8h0M281.2 293.2h0M285.1 288.9h0M282.5 274.7h0M292.6 281.8h0M285.8 294.1h0M291.7 264.0h0M284.5 284.4h0M299.4 285.4h0M283.3 271.6h0M283.6 292.9h0M291.4 263.6h0M299.5 284.3h0M291.7 298.3h0M296.6 281.8h0M293.9 265.2h0M285.5 280.4h0M280.1 292.9h0M297.3 285.8h0M301.1 279.2h0M286.1 286.9h0M294.0 278.4h0M283.9 297.7h0M292.4 270.4h0M294.2 274.2h0M294.3 282.0h0M292.8 291.4h0M283.2 284.9h0M281.5 279.7h0M292.2 271.1h0M279.6 282.3h0M294.2 278.3h0M285.1 298.5h0M290.8 292.2h0M284.6 293.5h0M296.3 266.1h0M287.7 279.4h0M284.3 278.5h0M300.0 270.1h0M291.1 272.2h0M292.3 281.6h0M291.9 279.6h0M299.5 285.5h0M295.6 275.8h0M303.1 275.3h0M285.6 270.4h0M289.3 265.6h0M299.1 274.9h0M290.0 291.6h0M286.4 270.0h0M298.6 284.8h0M287.4 273.6h0M287.2 293.7h0M295.6 290.1h0M288.6 285.4h0M294.0 288.6h0M295.5 272.9h0M292.7 266.4h0M295.4 270.6h0M290.6 266.6h0M294.1 268.0h0M296.1 293.5h0M290.7 272.5h0M281.4 285.0h0M288.4 274.5h0M284.7 275.9h0M285.0 269.9h0M293.8 294.1h0M282.1 277.0h0M297.1 296.6h0M296.9 269.1h0M287.7 286.9h0M280.0 278.7h0M299.6 275.8h0M286.1 301.3h0M293.2 265.7h0M280.3 284.1h0M281.6 295.0h0M287.0 289.1h0M290.5 275.7h0M289.3 297.3h0M294.3 275.2h0M294.2 293.7h0M296.8 271.2h0M286.7 277.5h0M285.7 272.1h0M291.8 264.8h0M299.0 285.8h0M289.0 295.5h0M275.7 284.7h0M293.7 294.5h0M293.9 290.3h0M300.7 275.0h0M296.4 279.8h0M293.6 284.0h0M290.3 288.2h0M281.5 280.3h0M281.3 280.9h0M296.0 274.3h0M299.4 283.5h0M284.0 285.3h0M283.5 280.1h0M297.9 269.8h0M295.2 285.9h0M294.6 284.9h0M295.8 291.0h0M295.7 265.6h0M290.4 290.2h0M285.7 297.3h0M280.5 300.5h0M288.0 295.0h0M302.1 270.6h0M285.1 296.0h0M292.4 282.3h0M283.5 284.9h0M290.5 276.4h0M286.9 288.1h0M278.6 282.8h0M284.1 276.8h0M285.3 298.4h0M302.5 283.4h0M288.1 283.1h0M279.7 285.7h0M285.8 276.0h0M296.6 265.9h0M288.3 300.6h0M298.2 285.7h0M285.1 289.9h0M296.9 295.5h0M288.1 289.0h0M275.9 284.9h0M299.4 283.7h0M278.7 295.4h0M290.0 289.4h0M298.3 273.1h0M298.8 276.8h0M297.1 273.3h0M281.7 282.3h0M295.2 292.6h0M287.9 297.3h0M277.5 299.8h0M290.1 265.9h0M282.3 288.8h0M283.8 296.9h0M292.5 276.3h0M289.3 276.4h0M287.2 271.1h0M294.6 298.0h0M286.6 291.4h0M291.7 268.2h0M290.0 296.1h0M285.8 284.5h0M279.7 290.3h0M286.9 298.8h0M284.3 284.1h0M285.2 302.6h0M286.0 297.9h0M276.8 282.0h0M296.9 289.5h0M288.9 300.2h0M295.6 280.0h0M300.1 267.5h0M302.9 282.0h0M296.9 273.4h0M285.0 283.6h0M298.1 285.9h0M293.2 285.9h0M286.9 302.1h0M287.7 285.0h0M294.0 294.7h0M284.3 299.7h0M295.0 290.8h0M299.7 271.6h0M291.4 293.0h0M292.8 263.7h0M285.6 277.4h0M286.5 293.7h0M290.8 296.6h0M287.8 276.6h0M294.5 270.0h0M287.0 273.4h0M286.3 296.0h0M292.3 297.4h0M282.9 287.6h0M297.3 278.2h0M293.0 264.6h0M284.4 298.3h0M300.4 272.2h0M295.9 270.4h0M282.8 302.6h0M298.1 286.1h0M294.1 294.9h0M297.3 269.9h0M290.1 295.2h0M297.9 285.6h0M296.8 286.2h0M282.6 278.1h0M279.8 289.9h0M293.5 269.3h0M294.5 285.2h0M292.9 294.5h0M276.5 279.8h0M288.8 297.8h0M286.0 303.7h0M280.4 275.6h0M277.1 292.0h0M290.7 278.0h0M286.7 295.6h0M297.4 276.5h0M297.2 291.9h0M301.4 272.2h0M292.6 294.1h0M282.2 297.5h0M296.9 279.4h0M277.8 291.2h0M279.7 280.8h0M282.4 288.4h0M290.9 300.1h0M293.9 271.5h0M291.2 278.1h0M299.8 289.1h0M289.4 275.9h0M297.3 282.7h0M290.6 279.4h0M286.1 275.6h0M300.4 272.0h0M278.4 290.0h0M298.6 285.3h0M284.9 295.2h0M295.0 271.6h0M289.4 272.9h0M280.9 276.8h0M290.6 278.3h0M292.4 292.4h0M289.0 278.3h0M294.1 290.3h0M300.0 271.3h0M276.4 290.2h0M291.4 291.9h0M284.2 286.7h0M287.0 290.8h0M288.0 282.2h0M296.2 288.7h0M301.7 276.9h0M296.9 272.6h0M285.3 275.6h0M292.5 289.0h0M299.9 288.7h0M292.7 271.4h0M282.0 291.3h0M285.0 289.8h0M286.6 285.5h0M282.5 286.3h0M291.8 274.5h0M292.0 293.7h0M274.9 289.8h0M286.0 291.9h0M285.5 291.2h0M291.7 296.4h0M276.2 278.7h0M279.7 278.6h0M289.2 295.7h0M281.3 300.8h0M282.3 271.6h0M278.7 288.9h0M290.7 266.5h0M286.7 298.7h0M294.3 269.7h0M286.2 290.8h0M288.8 269.4h0M285.0 296.1h0M277.1 294.0h0M293.5 265.7h0M277.2 286.5h0M292.0 270.1h0M285.0 286.9h0M291.7 289.2h0M297.4 276.7h0M287.7 287.8h0M283.8 295.0h0M285.7 302.2h0M291.1 264.3h0M297.4 287.8h0M285.4 287.0h0M282.5 303.9h0M278.8 284.1h0M279.2 297.7h0M282.4 295.8h0M277.1 298.2h0M296.5 272.6h0M285.5 295.1h0M287.4 270.9h0M280.3 285.0h0M288.8 279.7h0M300.9 288.3h0M285.8 270.9h0M290.5 279.0h0M287.0 271.9h0M300.7 275.6h0M290.4 286.8h0M294.4 282.0h0M299.5 279.5h0M276.6 284.6h0M294.4 281.7h0M300.5 275.4h0M294.4 270.3h0M289.2 267.5h0M279.8 289.3h0M276.2 279.4h0M284.2 297.9h0M280.9 295.2h0M278.7 292.6h0M286.9 273.3h0M285.5 286.6h0M299.2 276.1h0M303.9 277.3h0M290.6 285.3h0M278.6 276.4h0M293.3 299.3h0M284.4 275.6h0M291.2 270.1h0M297.1 273.6h0M286.7 276.3h0M300.1 276.8h0M283.3 279.5h0M288.2 298.4h0M285.4 280.5h0M284.8 270.8h0M296.1 287.1h0M281.6 296.8h0M285.7 280.0h0M297.4 292.6h0M297.2 272.0h0M297.9 288.4h0M287.5 301.8h0M282.6 287.9h0M292.5 275.8h0M299.7 276.1h0M283.1 292.5h0" stroke="#d9b22f" stroke-width="1.1" stroke-linecap="round" fill="none"/>
<path d="M238.6 286.0h0M238.1 297.5h0M235.5 284.3h0M233.7 282.0h0M238.9 289.6h0M234.6 284.9h0M234.0 295.6h0M237.9 298.9h0M233.2 281.6h0M237.4 288.0h0M234.3 285.0h0M237.2 289.6h0M232.4 287.2h0M237.7 295.1h0M230.1 290.5h0M237.3 286.0h0M238.7 277.8h0M234.9 280.7h0M232.7 294.4h0M235.4 300.1h0M233.1 295.4h0M239.6 297.9h0M239.1 296.3h0" stroke="#c6409f" stroke-width="1.1" stroke-linecap="round" fill="none"/>
<path d="M247.2 274.8h0M243.5 283.8h0M273.5 281.7h0M238.5 291.7h0M241.8 303.5h0M263.3 285.3h0M239.5 297.3h0M251.2 258.4h0M258.4 281.0h0M252.9 266.5h0M275.0 292.2h0M262.4 296.5h0M243.2 297.4h0M266.1 258.7h0M258.4 307.6h0M251.9 288.1h0M246.0 306.5h0M257.5 291.5h0M247.9 303.4h0M256.6 302.8h0M267.1 286.8h0M267.7 286.4h0M262.3 283.6h0M251.6 289.4h0M262.4 286.7h0M246.2 295.2h0M263.4 279.8h0M251.5 309.3h0M267.6 279.7h0M266.1 292.7h0M246.4 288.3h0M259.8 271.4h0M268.6 265.5h0M248.9 272.3h0M266.3 280.5h0M241.7 272.0h0M272.5 292.0h0M260.7 261.0h0M257.0 282.8h0M251.4 308.0h0M265.1 266.8h0M241.2 264.6h0M256.2 257.8h0M241.0 279.2h0M271.9 292.0h0M248.9 307.3h0M246.6 288.7h0M253.7 280.8h0M271.1 273.5h0M248.7 276.8h0M258.2 274.5h0M268.6 306.7h0M260.5 286.1h0M260.4 261.3h0M275.3 296.7h0M249.3 294.7h0M240.5 303.6h0M273.1 293.1h0M240.4 268.1h0M256.4 292.1h0M263.4 274.9h0M256.2 261.7h0M253.5 299.1h0M270.2 286.6h0M260.8 259.9h0M240.3 266.7h0M276.8 297.6h0M244.7 289.0h0M248.7 302.2h0M251.1 268.2h0M248.4 284.2h0M257.7 289.7h0M244.5 298.9h0M247.9 258.7h0M264.1 263.3h0M265.7 268.6h0M271.9 281.8h0M269.5 278.1h0M252.0 287.7h0M244.0 300.9h0M251.6 291.3h0M247.7 260.5h0M250.1 294.7h0M254.2 260.0h0M260.9 283.0h0M252.8 298.1h0M258.3 297.7h0M266.0 267.7h0M272.9 280.3h0M252.1 300.0h0M255.2 269.3h0M243.0 276.7h0M264.8 281.3h0M245.7 263.2h0M247.3 275.5h0M250.4 279.9h0M246.1 260.4h0M266.2 297.9h0M249.2 299.8h0M260.7 297.9h0M268.7 267.7h0M243.1 281.9h0M255.5 282.8h0M253.1 291.7h0M247.6 277.9h0M247.2 285.8h0M246.2 294.1h0M267.5 275.5h0M274.4 296.7h0M249.2 277.8h0M271.0 299.3h0M249.3 273.4h0M267.7 302.3h0M255.1 280.1h0M271.1 293.0h0M244.7 268.3h0M239.9 273.3h0M264.3 300.6h0M253.7 297.5h0M243.2 277.2h0M249.0 261.4h0M250.1 294.7h0M242.3 288.6h0M261.5 292.4h0M264.5 282.5h0M260.9 273.5h0M274.3 291.4h0M272.7 283.8h0M268.8 283.2h0M263.7 256.3h0M248.1 268.5h0M260.5 307.1h0M259.4 259.4h0M269.0 289.2h0M259.3 273.6h0M244.3 289.6h0M261.3 270.7h0M243.5 302.6h0M241.6 293.1h0M261.3 288.2h0M252.4 279.5h0M265.9 261.2h0M246.0 279.1h0M276.9 299.2h0M239.6 292.2h0M237.1 276.5h0M258.5 261.6h0M270.4 291.1h0M240.3 274.6h0M256.9 276.4h0M247.3 265.1h0M251.9 302.7h0M261.2 294.0h0M253.5 262.1h0M267.2 299.0h0M258.6 259.8h0M264.8 280.4h0M260.6 302.4h0M238.9 275.5h0M261.3 307.3h0M259.3 291.8h0M265.5 304.0h0M242.6 295.0h0M260.6 306.4h0M257.4 285.2h0M261.2 288.0h0M256.8 282.5h0M242.3 293.0h0M254.1 260.8h0M256.4 297.0h0M245.2 294.2h0M258.7 280.6h0M245.4 304.8h0M257.4 272.7h0M259.7 274.8h0M259.8 277.2h0M242.3 280.0h0M240.7 270.4h0M240.3 300.8h0M256.8 259.2h0M253.6 275.4h0M262.6 287.5h0M244.0 298.2h0M258.7 297.8h0M269.7 298.3h0M254.6 276.6h0M250.5 273.6h0M264.8 280.1h0M263.6 274.8h0M253.6 272.3h0M239.3 287.3h0M265.0 281.9h0M264.7 295.8h0M260.9 260.8h0M241.2 279.5h0M266.5 303.4h0M245.8 284.8h0M249.8 289.6h0M259.1 290.5h0M253.7 260.3h0M253.0 267.0h0M265.7 285.7h0M259.6 292.3h0M242.5 304.4h0M249.9 264.2h0M267.1 298.1h0M260.8 287.5h0M278.1 296.2h0M240.9 300.3h0M248.6 299.9h0M240.7 288.1h0M263.2 281.0h0M269.4 291.3h0M266.1 277.0h0M250.5 274.6h0M241.1 276.3h0M275.9 292.8h0M241.4 286.6h0M258.8 275.6h0M262.2 271.5h0M238.0 273.5h0M257.7 259.6h0M246.8 290.6h0M260.1 280.4h0M261.7 258.0h0M267.0 292.6h0M258.9 283.3h0M247.6 264.2h0M257.4 290.5h0M253.1 286.5h0M264.8 278.2h0M251.6 286.4h0M269.5 305.6h0M247.7 259.5h0M254.9 289.0h0M258.2 280.0h0M268.4 293.7h0M249.0 261.7h0M251.0 257.2h0M258.5 298.9h0M252.6 294.7h0M257.4 302.5h0M251.2 263.0h0M262.1 296.2h0M256.2 295.3h0M238.0 276.7h0M258.2 300.0h0M252.5 302.5h0M245.8 303.6h0M274.3 290.7h0M266.0 267.2h0M273.4 288.6h0M275.9 292.3h0M277.0 298.1h0M248.9 303.3h0M255.5 294.2h0M260.4 278.7h0M268.5 271.5h0M242.0 300.6h0M252.4 284.5h0M242.3 262.7h0M255.9 258.4h0M260.5 256.9h0M254.5 304.4h0M257.3 266.0h0M268.9 289.1h0M248.6 279.9h0M253.6 295.6h0M269.0 282.0h0M266.9 287.5h0M260.8 307.0h0M250.3 285.9h0M238.9 281.3h0M265.3 273.1h0M242.2 288.7h0M252.3 287.0h0M271.7 286.5h0M241.0 272.7h0M252.1 263.0h0M237.6 291.0h0M252.7 289.4h0M270.9 291.4h0M252.9 269.9h0M253.8 281.2h0M241.8 276.6h0M273.4 285.1h0M245.2 277.4h0M261.1 270.6h0M249.8 269.2h0M246.2 267.1h0M248.5 300.2h0M245.0 265.2h0M248.8 257.8h0M245.3 292.6h0M264.4 306.4h0M265.6 287.4h0M258.5 263.2h0M243.7 280.1h0M260.8 299.4h0M244.4 279.1h0M251.1 286.3h0M250.2 305.8h0M266.0 288.2h0M242.0 296.2h0M254.7 297.9h0M275.6 292.3h0M274.4 298.9h0M243.5 264.3h0M249.4 268.7h0M246.1 299.6h0M271.1 300.6h0M241.7 278.2h0M266.5 302.9h0M254.2 292.1h0M253.0 257.9h0M267.7 294.7h0M243.8 277.7h0M237.6 275.0h0M243.7 277.1h0M270.5 284.0h0M244.2 294.0h0M252.7 289.8h0M265.1 281.3h0M239.4 277.6h0M258.2 262.2h0M250.3 271.0h0M255.0 274.2h0M245.9 267.2h0M275.5 295.8h0M260.8 276.6h0M246.2 273.2h0M254.6 270.2h0M246.9 269.5h0M272.8 305.1h0M261.0 266.0h0M255.9 263.5h0M253.4 306.7h0M260.5 263.9h0M253.1 256.0h0M267.8 281.2h0M257.6 259.4h0M266.4 280.6h0M264.1 280.6h0M242.4 291.4h0M268.5 286.4h0M248.3 256.4h0M276.0 294.1h0M253.7 263.4h0M246.3 281.6h0M253.9 261.3h0M242.2 278.2h0M248.0 278.3h0M256.4 296.4h0M248.1 303.3h0M266.6 293.1h0M256.4 294.8h0M254.8 270.4h0M250.2 303.0h0M257.2 287.1h0M273.3 303.5h0M262.5 282.3h0M251.3 299.2h0M243.7 293.6h0M264.8 280.8h0M254.3 300.8h0M240.2 296.7h0M250.0 257.9h0M246.2 275.8h0M253.1 266.5h0M258.1 295.6h0M261.5 259.8h0M251.2 299.1h0M239.6 296.1h0M253.1 264.1h0M256.1 284.3h0M255.5 307.5h0M258.9 301.6h0M252.9 256.8h0M244.8 294.4h0M259.3 271.7h0M247.0 277.6h0M252.5 288.4h0M246.6 283.0h0M270.8 302.5h0M248.1 276.6h0M242.7 279.2h0M260.9 303.4h0M269.0 300.9h0M253.7 286.7h0M239.1 274.6h0M264.2 283.8h0M265.8 271.9h0M258.2 293.8h0M241.8 281.2h0M251.2 297.2h0M270.4 304.7h0M242.4 272.3h0M247.6 284.7h0M268.4 306.9h0M259.4 307.9h0M257.4 293.9h0M267.3 306.4h0M254.3 304.0h0M257.3 308.6h0M243.7 298.6h0M264.2 277.0h0M239.9 291.3h0M265.3 302.3h0M264.2 262.2h0M255.0 291.5h0M270.2 288.4h0M256.4 259.0h0M263.9 263.7h0M261.1 278.3h0M254.0 303.0h0M256.7 261.4h0M268.1 274.0h0M270.2 284.0h0M247.1 296.6h0M266.7 278.4h0M262.9 280.7h0M249.4 270.8h0M271.0 282.6h0M243.1 291.5h0M256.5 270.2h0M261.0 272.4h0M264.7 294.0h0M263.2 256.5h0M269.1 285.0h0M252.3 294.3h0M257.9 303.3h0M252.4 292.8h0M263.0 301.6h0M257.9 257.9h0M271.5 291.3h0M258.3 301.2h0M247.4 265.0h0M250.9 294.0h0M253.4 295.8h0M239.7 296.1h0M253.6 280.8h0M277.4 300.2h0M252.2 271.0h0M243.9 288.5h0M260.7 258.2h0M273.3 290.3h0M269.4 274.5h0M263.8 289.2h0M253.0 302.3h0M267.6 289.7h0M247.2 295.1h0M243.4 272.8h0M243.7 268.4h0M277.7 292.0h0M265.5 290.5h0M257.6 287.0h0M251.0 308.3h0M267.4 275.7h0M236.7 271.8h0M254.2 282.7h0M260.3 307.7h0M273.9 291.6h0M263.3 289.5h0M263.4 271.9h0M248.7 281.7h0M253.6 281.3h0M275.6 297.7h0M264.6 293.8h0M268.3 304.1h0M258.0 260.8h0M250.2 275.3h0M239.1 278.8h0M245.2 275.9h0M260.1 295.9h0M254.4 267.6h0M253.8 263.3h0M245.1 289.6h0M247.3 271.3h0M254.3 292.8h0M267.6 305.8h0M273.7 282.3h0M246.5 281.5h0M261.7 297.2h0M266.1 271.2h0M257.2 289.8h0M256.9 302.1h0M246.1 292.5h0M253.9 255.5h0M246.9 282.4h0M254.4 263.8h0M266.1 302.0h0M244.7 268.5h0M254.4 293.9h0M269.3 278.9h0M267.9 286.8h0M256.9 288.9h0M263.7 257.4h0M241.1 294.6h0M251.4 297.1h0M247.0 291.3h0M246.3 276.2h0M238.7 275.1h0M239.3 285.3h0M259.7 302.9h0M269.5 291.9h0M252.8 279.2h0M248.8 268.9h0M245.9 279.1h0M252.4 286.6h0M258.0 257.2h0M254.7 302.3h0M253.5 279.8h0M245.5 261.6h0M246.3 278.7h0M250.1 305.8h0M270.8 289.3h0M265.6 284.4h0M240.5 299.0h0M241.6 292.5h0M252.0 295.9h0M257.0 305.4h0M248.0 301.9h0M252.5 297.0h0M256.9 259.9h0M248.6 274.5h0M239.3 267.8h0M237.9 271.8h0M266.8 292.2h0M267.8 302.1h0M247.3 302.9h0M253.2 295.4h0M268.7 285.6h0M258.3 264.1h0M262.1 287.6h0M262.0 281.7h0M256.7 277.0h0M245.9 281.8h0M248.7 267.1h0M253.3 282.8h0M263.4 300.3h0M269.6 298.2h0M247.5 282.2h0M247.4 298.6h0M249.2 286.3h0M256.8 291.6h0M248.9 272.7h0M261.9 268.9h0M244.6 285.1h0M240.1 264.4h0M269.4 297.7h0M240.9 274.4h0M255.6 257.6h0M248.9 261.6h0M246.3 289.8h0M257.7 297.7h0M270.7 280.5h0M247.4 282.6h0M254.0 306.4h0M239.7 296.2h0M263.7 279.4h0M262.3 275.2h0M269.4 293.1h0M259.0 283.6h0M259.7 259.3h0M241.0 298.3h0M252.3 307.6h0M277.5 293.7h0M257.2 261.1h0M261.4 256.3h0M263.3 271.1h0M266.2 278.5h0M263.6 255.3h0M253.8 275.3h0M244.1 272.8h0M272.4 283.9h0M252.2 257.7h0M256.7 257.1h0M242.5 282.3h0M257.9 271.0h0M248.1 282.1h0M261.1 287.0h0M254.5 260.0h0M252.8 306.8h0M266.2 275.7h0M264.4 302.9h0M263.7 290.4h0M255.7 277.1h0M253.0 286.5h0M260.9 261.0h0M260.4 302.6h0M251.5 299.5h0M261.2 291.3h0M251.1 296.6h0M241.7 279.3h0M260.9 292.6h0M268.8 305.3h0M256.2 262.7h0M253.8 272.4h0M271.3 289.8h0M245.2 287.7h0M266.8 291.6h0M261.5 262.0h0M257.5 261.4h0M273.6 294.3h0M260.0 271.1h0M268.4 300.1h0M252.9 308.0h0M250.0 276.7h0M263.7 288.4h0M263.6 297.0h0M239.6 296.7h0M265.5 271.6h0M258.6 276.5h0M255.5 278.8h0M240.0 296.2h0M247.1 294.1h0M240.5 301.4h0M261.8 298.0h0M240.1 262.8h0M257.0 270.1h0M264.3 293.1h0M261.3 271.7h0M248.5 283.9h0M251.2 267.7h0M238.3 279.6h0M263.3 298.6h0M275.0 298.7h0M249.2 297.5h0M267.7 291.8h0M265.5 275.4h0M268.3 285.5h0M265.0 305.9h0M245.4 286.9h0M245.4 304.3h0M246.6 272.8h0M270.0 297.8h0M262.0 304.4h0M264.1 257.7h0M247.6 297.5h0M266.5 279.1h0M260.6 295.1h0M246.1 285.7h0M264.4 302.5h0M254.5 263.3h0M252.4 291.1h0M250.5 273.8h0M249.2 267.4h0M241.5 282.9h0M250.9 292.8h0M247.2 263.5h0M259.9 288.9h0M266.4 287.1h0M255.8 259.2h0M253.7 303.3h0M264.5 272.1h0M239.9 293.4h0M248.8 287.8h0M272.5 299.4h0M242.8 264.3h0M249.0 279.0h0M258.0 293.9h0M259.2 299.7h0M262.9 290.0h0M256.7 259.9h0M263.6 259.4h0M244.4 297.5h0M247.0 288.0h0M265.0 271.7h0M254.2 294.3h0M239.6 272.7h0M265.5 307.7h0M246.8 275.7h0M268.0 300.5h0M266.8 258.3h0M252.3 286.5h0M259.5 271.2h0M247.2 304.1h0M265.9 256.1h0M246.7 287.2h0M240.9 270.4h0M243.2 279.3h0M258.2 286.2h0M267.4 289.5h0M238.5 265.0h0M252.9 266.5h0M241.0 262.8h0" stroke="#c6409f" stroke-width="1.1" stroke-linecap="round" fill="none"/>
<path d="M259.6 309.6h0M264.1 310.4h0M263.3 317.5h0M264.3 313.2h0M267.2 314.3h0M267.3 317.1h0M261.3 308.9h0M263.7 310.1h0M264.0 315.8h0M267.1 310.0h0M267.5 315.2h0M266.5 317.5h0M270.8 312.3h0M265.7 318.3h0M263.9 318.5h0M261.8 312.0h0M269.5 315.5h0M264.9 317.7h0M264.6 313.9h0M271.9 318.4h0M268.6 310.4h0M266.6 310.0h0M264.5 308.1h0M268.0 317.6h0M266.6 308.1h0M264.4 310.9h0M268.3 311.0h0M264.0 315.5h0M267.5 314.8h0M264.2 309.7h0M265.8 315.4h0M261.4 311.0h0M262.4 307.7h0M264.5 314.7h0M267.6 316.9h0M268.0 314.7h0M265.1 315.1h0M268.8 314.1h0M264.1 311.1h0M267.9 309.6h0M266.6 306.2h0M266.8 310.9h0M268.5 307.7h0M270.7 311.4h0M265.2 317.5h0M265.1 314.1h0M271.3 318.0h0M263.5 312.1h0M266.7 317.7h0M267.5 307.3h0M264.2 307.4h0M265.1 308.8h0M264.2 319.6h0M268.2 320.7h0M266.8 314.9h0M264.6 307.6h0M264.2 310.9h0M268.4 305.1h0M262.6 309.4h0M264.7 317.6h0M267.3 309.7h0M268.7 314.1h0M267.1 309.6h0M266.2 310.3h0M264.5 314.4h0M266.1 317.7h0M262.4 306.2h0M268.8 309.2h0M267.3 312.6h0M267.6 313.5h0M267.3 306.9h0M265.1 310.6h0M264.1 309.7h0M265.2 313.2h0M268.0 320.8h0M267.8 310.3h0M265.8 319.2h0M263.7 315.3h0M271.0 313.7h0M265.6 306.5h0M261.4 308.3h0" stroke="#4f52a8" stroke-width="1.1" stroke-linecap="round" fill="none"/>
<path d="M278.5 257.6h0M272.9 258.1h0M272.3 246.0h0M268.5 253.9h0M275.6 255.1h0M283.4 250.2h0M275.9 257.1h0M278.9 246.3h0M283.3 244.2h0M280.6 251.6h0M267.6 246.4h0M268.9 247.9h0M276.1 247.2h0M279.1 251.2h0M274.5 242.9h0M277.5 253.1h0M279.4 251.6h0M273.1 255.7h0M268.3 246.1h0M278.3 249.1h0M282.6 247.1h0M269.1 257.1h0M282.8 256.5h0M281.8 245.6h0M281.8 245.5h0M274.3 256.0h0M278.0 252.1h0M273.4 245.4h0M266.7 248.3h0M271.0 247.0h0M273.1 248.5h0M275.3 257.5h0M281.2 256.6h0M271.3 255.4h0M274.4 250.9h0M269.7 242.9h0M277.9 255.2h0M279.4 253.4h0M279.4 244.3h0M271.4 253.7h0M284.2 245.8h0M271.0 244.4h0M274.6 248.5h0M269.9 244.8h0M276.5 257.8h0M269.0 255.7h0M277.1 250.2h0M269.9 248.9h0M280.2 255.9h0M275.1 253.6h0M274.9 251.4h0M270.5 254.5h0M272.2 250.8h0M274.1 248.5h0M277.0 251.2h0M279.8 247.9h0M273.6 255.2h0M271.8 248.2h0M281.1 244.4h0M279.0 249.8h0M278.2 243.9h0M274.0 244.9h0M269.4 247.2h0M269.4 248.4h0M277.1 250.0h0M280.5 251.1h0M276.2 253.9h0M269.8 252.2h0M274.5 258.9h0M270.2 250.0h0M282.4 244.3h0M273.8 257.5h0M267.6 245.7h0M278.8 245.7h0M275.8 253.0h0M272.0 253.2h0M276.1 257.8h0M267.7 252.3h0M283.5 243.2h0M272.7 243.3h0M275.4 256.7h0M276.7 253.3h0M272.4 246.1h0M281.1 254.3h0M278.7 250.2h0M282.3 242.8h0M280.9 252.0h0M271.0 251.0h0M264.6 247.6h0M270.6 250.5h0M272.2 249.0h0M281.4 249.4h0M273.5 253.9h0M266.7 244.4h0M283.4 246.1h0M273.6 247.3h0M277.7 247.5h0M275.3 243.7h0M273.2 250.2h0M265.4 245.1h0M269.3 250.1h0M270.8 245.0h0M278.1 250.6h0" stroke="#3cbdbd" stroke-width="1.1" stroke-linecap="round" fill="none"/>
<path d="M254.0 261.2h0M256.5 257.0h0M256.5 257.4h0M251.6 258.9h0M252.5 259.3h0M250.8 257.7h0" stroke="#2f9bd6" stroke-width="1.1" stroke-linecap="round" fill="none"/>
<path d="M264.1 252.9h0M262.6 251.6h0M265.0 256.4h0M263.1 255.0h0M266.1 253.5h0M258.7 251.8h0M263.2 257.4h0" stroke="#e8654a" stroke-width="1.1" stroke-linecap="round" fill="none"/>
<path d="M286.5 301.9h0M283.7 278.4h0M300.4 286.2h0M287.5 277.2h0M296.2 268.4h0M282.0 274.3h0M284.6 277.4h0M301.2 272.1h0M294.0 282.8h0M290.1 294.3h0M277.4 300.0h0M280.3 279.5h0M284.7 291.2h0M297.6 278.4h0M284.6 289.8h0M289.4 271.0h0M284.6 289.7h0M289.0 280.1h0M287.4 276.5h0M283.0 277.3h0M283.1 279.9h0M298.1 285.0h0M286.1 288.8h0M292.6 266.2h0M288.1 289.4h0M300.3 292.5h0M298.8 281.3h0M281.7 300.7h0M279.0 280.4h0M299.2 273.4h0M291.6 278.5h0M283.2 289.9h0M290.6 267.8h0M277.1 278.4h0M291.0 297.5h0M296.9 293.4h0M280.4 288.1h0M279.4 297.0h0M290.4 289.9h0M287.8 272.6h0M301.6 282.0h0M283.7 279.6h0M283.1 288.4h0M292.6 275.6h0M283.7 292.6h0M295.0 282.9h0M285.4 271.0h0M279.3 286.5h0M287.7 279.5h0M287.8 274.1h0M300.1 277.6h0M296.9 289.0h0M288.9 285.6h0M279.2 285.8h0M299.2 291.7h0M286.3 294.3h0M275.1 282.0h0M295.8 273.9h0M279.6 281.2h0M280.0 290.0h0M300.6 270.1h0M296.7 285.9h0M282.1 288.7h0M301.6 272.6h0M300.1 274.8h0M289.2 302.0h0M285.0 270.6h0M298.4 282.0h0M285.7 276.9h0M278.4 295.9h0M283.1 273.9h0M278.7 284.8h0M295.2 272.0h0M285.1 270.3h0M284.3 289.0h0M288.7 292.9h0M284.2 281.2h0M284.9 290.7h0M281.6 280.1h0M287.1 297.4h0M287.7 301.1h0M296.4 284.8h0M279.9 294.3h0M287.4 269.9h0M282.8 286.8h0M300.2 283.2h0M286.8 277.3h0M284.6 269.0h0M285.6 292.8h0M298.8 286.9h0M287.4 280.1h0M292.6 276.4h0M298.4 270.6h0M290.7 274.5h0M296.6 275.7h0M277.3 284.3h0M287.6 281.4h0M283.8 278.2h0M288.7 282.1h0M283.4 275.3h0M289.8 269.6h0M286.8 290.8h0M290.2 295.0h0M298.0 270.8h0M296.3 285.4h0M301.5 280.5h0M297.3 282.3h0M284.7 286.5h0M289.2 277.4h0M286.1 287.9h0M274.9 285.2h0M298.7 287.3h0M279.8 297.8h0M292.6 287.3h0M298.2 281.0h0M285.0 275.2h0M290.4 303.2h0M293.3 290.0h0M290.7 284.6h0M299.6 274.3h0M288.7 300.7h0M298.8 282.1h0M299.2 282.2h0M281.5 270.8h0M294.7 269.6h0M285.3 282.5h0M287.2 271.2h0M298.0 281.5h0M279.1 278.3h0M291.4 273.6h0M292.7 291.3h0M289.2 285.7h0M297.4 272.7h0M284.6 278.4h0M293.3 270.9h0M285.4 291.2h0M299.7 288.9h0M285.5 292.5h0M292.5 282.9h0M297.2 277.6h0M287.5 303.0h0M288.7 275.5h0M288.4 298.6h0M284.2 303.4h0M294.0 279.6h0M282.0 286.5h0M290.4 266.5h0M295.2 287.0h0M287.0 284.4h0M289.7 281.5h0M280.0 298.3h0M293.8 273.6h0M291.7 265.0h0M291.8 295.3h0M294.9 287.4h0M281.9 300.5h0M297.8 268.5h0M277.8 294.2h0M291.5 270.0h0M292.2 301.8h0M292.5 273.0h0M292.1 265.9h0M279.8 285.7h0M298.8 278.7h0M280.8 289.7h0M301.3 284.4h0M291.3 268.3h0M278.7 297.6h0M280.0 289.3h0M284.4 298.3h0M279.9 282.2h0M294.4 278.0h0M288.5 268.5h0M300.4 268.8h0M288.7 270.8h0M296.9 293.7h0M293.1 284.4h0M292.2 270.6h0M284.9 298.5h0M279.5 279.2h0M293.8 273.7h0M284.9 302.3h0M300.5 273.2h0M287.5 293.6h0M285.7 269.1h0M299.0 270.3h0M290.7 296.6h0M296.8 290.1h0M284.7 293.9h0M280.2 276.0h0M289.2 276.3h0M281.8 290.4h0M284.1 303.2h0M288.7 286.0h0M297.7 279.7h0M298.6 281.2h0M295.0 299.8h0M284.7 284.0h0M282.5 283.4h0M285.6 280.6h0M278.0 291.6h0M283.9 299.4h0M289.6 287.6h0M287.4 280.5h0M280.3 295.3h0M300.9 277.3h0M289.2 271.3h0M295.1 285.7h0M298.2 283.9h0M293.3 267.3h0M288.0 292.4h0M298.1 294.9h0M299.8 281.5h0M295.0 278.9h0M276.9 287.2h0M284.5 300.3h0M293.6 276.9h0M285.0 300.3h0M290.2 273.7h0M299.2 271.3h0M277.5 285.5h0M296.0 298.8h0M294.3 281.2h0M284.1 269.2h0M279.7 287.7h0M301.1 277.7h0M279.6 284.0h0M281.2 277.9h0M286.3 297.3h0M291.5 280.8h0M280.4 282.0h0M286.6 296.5h0M279.7 283.9h0M280.5 277.0h0M283.0 291.1h0M288.6 266.5h0M287.8 288.6h0M297.4 270.8h0M293.6 274.9h0M278.1 289.8h0M289.1 280.5h0M279.5 300.8h0M292.8 295.0h0M284.5 285.0h0M302.5 278.4h0M281.8 298.2h0M287.2 288.9h0M282.2 275.8h0M283.8 289.6h0M276.9 284.0h0M284.7 292.8h0M288.6 301.5h0M290.1 295.7h0M289.8 268.5h0M286.6 288.5h0M289.5 289.0h0M280.3 290.8h0M297.8 268.7h0M285.1 277.0h0M284.6 286.0h0M299.9 275.2h0M283.8 303.5h0M291.3 293.9h0M285.1 277.2h0M288.8 296.3h0M295.4 295.3h0M297.2 288.3h0M287.3 268.4h0M294.6 273.9h0M279.0 286.8h0M284.9 289.3h0M296.6 278.8h0M297.5 274.8h0M302.0 285.5h0M280.5 291.9h0M283.1 272.3h0M295.6 275.4h0M300.7 281.8h0M285.3 291.1h0M300.8 285.4h0M284.3 298.5h0M298.1 288.6h0M299.5 281.5h0M286.3 282.7h0M283.2 295.7h0M285.9 283.2h0M287.8 291.8h0M276.1 278.7h0M294.4 276.9h0M278.7 295.8h0M290.4 287.0h0M279.7 280.8h0M298.1 270.0h0M283.2 296.7h0M293.1 287.8h0M289.3 298.7h0M294.8 266.8h0M285.7 276.4h0M280.9 285.6h0M288.1 273.7h0M290.7 265.0h0M276.2 289.4h0M297.3 291.2h0M284.6 297.1h0M277.5 280.5h0M301.9 276.1h0M292.5 278.5h0M287.3 268.8h0M295.6 284.1h0M293.9 266.4h0M298.0 291.0h0M297.1 280.4h0M288.0 300.5h0M290.8 284.7h0M286.6 285.2h0M290.4 270.3h0M293.9 291.5h0M283.9 284.7h0M299.3 268.7h0M277.5 279.5h0M284.6 278.3h0M286.1 284.6h0M282.9 294.8h0M293.3 271.5h0M287.9 271.3h0M294.9 263.2h0M287.2 284.6h0M280.4 300.5h0M277.6 287.1h0M297.9 273.4h0M288.1 268.3h0M279.9 297.3h0M292.6 287.5h0M294.7 286.8h0M294.2 272.9h0M293.4 264.8h0M290.5 274.6h0M285.0 293.7h0M278.6 299.9h0M300.9 282.5h0M297.4 279.3h0" stroke="#d9b22f" stroke-width="1.1" stroke-linecap="round" fill="none"/>
<path d="M243.5 285.2h0M239.9 281.2h0M242.7 294.9h0M245.2 298.5h0M246.3 275.7h0M242.0 299.3h0M237.6 288.5h0M241.6 279.6h0M239.9 293.4h0M239.6 288.7h0M240.4 284.6h0M244.3 285.9h0M237.5 280.3h0M242.4 288.4h0M245.9 295.2h0M238.5 295.7h0M245.8 296.9h0M240.1 295.9h0M242.6 284.7h0M245.8 299.4h0M238.4 297.0h0M244.4 277.3h0M245.2 283.0h0M242.5 283.2h0M242.6 294.9h0M240.9 284.2h0" stroke="#e8477a" stroke-width="1.1" stroke-linecap="round" fill="none"/>
<path d="M271.6 276.1h0M270.2 265.8h0M275.7 258.4h0M275.2 275.9h0M269.9 268.0h0M281.5 274.3h0M270.1 275.1h0M278.0 265.6h0M282.1 279.6h0M275.1 280.4h0M287.0 265.9h0M271.1 262.1h0M268.0 272.5h0M288.7 269.5h0M284.3 262.0h0M290.7 264.8h0M286.7 263.2h0M286.9 263.7h0M274.8 257.8h0M282.6 268.9h0M286.7 271.9h0M280.7 274.3h0M278.5 269.2h0M288.6 259.6h0M282.5 259.7h0M286.2 265.5h0M288.4 266.9h0M276.7 263.9h0M271.4 273.3h0M270.1 260.7h0M275.6 259.2h0M278.2 257.0h0M283.2 278.7h0M271.7 263.4h0M286.6 262.1h0M292.4 262.5h0M280.9 276.1h0M276.7 268.0h0M288.9 266.5h0M272.3 272.2h0M289.5 257.2h0M279.4 281.6h0M270.1 272.2h0M283.6 276.2h0M291.0 262.3h0M277.7 269.0h0M279.6 262.0h0M283.3 274.7h0M286.9 260.7h0M268.2 261.8h0M273.7 272.3h0M287.0 262.8h0M287.9 259.4h0M268.7 263.0h0M286.8 261.4h0M280.8 261.9h0M276.9 275.9h0M278.3 281.0h0M279.3 259.0h0M280.3 280.2h0M279.6 262.7h0M283.6 267.6h0M270.8 275.6h0M283.2 265.9h0M272.4 269.4h0M278.3 266.5h0M268.3 269.8h0M284.7 270.8h0M283.7 272.1h0M285.5 262.5h0M273.8 267.9h0M273.8 281.3h0M270.3 265.4h0M280.7 272.7h0M282.4 262.5h0M290.1 257.9h0M277.6 264.7h0M275.0 260.5h0M274.2 258.6h0M282.3 262.3h0M285.6 257.4h0M269.4 267.2h0M281.3 259.4h0M274.7 265.5h0M274.9 262.5h0M275.3 276.3h0M275.3 272.4h0M292.3 259.6h0M275.7 281.1h0M282.4 259.0h0M269.5 274.6h0M287.2 259.9h0M272.0 276.6h0M275.6 273.1h0M289.9 270.5h0M287.7 260.1h0M284.8 263.7h0M286.7 269.3h0M274.7 267.3h0M277.5 276.4h0M275.6 257.4h0M279.6 270.4h0M289.0 256.5h0M288.8 260.0h0M280.8 262.4h0M287.1 264.5h0M283.6 279.8h0M271.8 258.1h0M282.4 268.9h0M280.4 260.3h0M273.6 280.3h0M268.7 268.1h0M289.0 264.1h0M277.4 273.8h0M270.4 262.7h0M270.3 270.8h0M278.5 270.9h0M279.9 270.4h0M286.7 256.6h0M274.0 276.7h0M277.7 262.9h0M268.0 258.6h0M288.8 255.9h0M281.4 275.0h0M286.1 271.7h0M284.3 264.8h0M278.5 261.3h0M276.9 273.6h0M283.4 279.0h0M285.3 268.9h0M267.6 264.2h0M274.6 264.7h0M288.7 271.8h0M274.7 277.9h0M278.0 261.7h0M283.0 275.9h0M273.0 280.3h0M280.7 258.5h0M277.1 269.0h0M279.6 271.3h0M269.2 265.3h0M267.9 269.8h0M284.8 257.8h0M284.3 276.3h0M282.3 270.1h0M284.8 258.2h0M279.0 275.5h0M290.1 268.2h0M290.9 263.1h0M284.0 275.0h0M284.3 278.4h0M292.1 260.9h0M282.1 266.4h0M290.3 258.1h0M268.2 261.6h0M270.9 268.1h0M270.1 270.6h0M290.3 271.6h0M272.0 263.4h0M283.6 258.8h0M273.5 261.1h0M293.0 258.8h0M282.1 263.8h0M278.0 259.7h0M287.3 270.6h0M275.1 278.0h0M276.1 259.6h0M287.8 261.6h0M280.7 266.9h0M274.6 262.3h0M284.9 272.9h0M278.1 282.8h0M275.9 279.8h0M267.5 258.6h0M289.6 268.3h0M282.6 278.1h0M286.3 260.8h0M277.5 274.2h0M284.5 273.6h0M277.4 263.5h0M268.9 260.7h0M283.7 269.3h0M270.0 261.8h0M280.8 270.3h0M293.6 264.8h0M281.6 259.4h0M283.1 277.6h0M275.8 271.9h0M272.5 258.6h0M278.3 278.0h0M268.0 263.2h0M284.2 259.0h0M284.5 259.7h0M269.3 263.7h0M276.9 278.7h0M290.9 259.8h0M288.2 260.3h0M290.7 268.0h0M279.5 283.3h0M287.6 256.7h0M284.5 267.7h0M286.9 267.7h0M287.2 265.1h0M284.7 261.1h0M286.4 259.6h0M277.9 276.0h0M280.1 267.3h0M278.2 269.8h0M267.4 268.8h0" stroke="#7bc25a" stroke-width="1.1" stroke-linecap="round" fill="none"/>
<path d="M269.0 263.6h0M268.6 265.6h0M266.5 261.4h0M270.2 264.6h0M264.7 263.3h0M266.4 265.4h0M266.9 265.9h0" stroke="#7bc25a" stroke-width="1.1" stroke-linecap="round" fill="none"/>
<path d="M271.0 314.6h0M276.5 316.7h0M270.7 319.1h0M277.7 319.5h0M268.7 313.1h0M272.3 313.3h0M275.3 317.2h0M276.9 316.1h0M274.4 319.3h0" stroke="#4f52a8" stroke-width="1.1" stroke-linecap="round" fill="none"/>
<path d="M229.7 291.7h0M209.4 272.4h0M225.4 295.3h0M226.4 294.9h0M224.8 278.0h0M225.9 297.8h0M217.8 290.6h0M224.8 284.2h0M211.2 275.7h0M239.8 283.4h0M234.5 303.3h0M216.1 286.3h0M213.2 294.1h0M205.8 280.8h0M232.4 272.8h0M229.9 266.2h0M224.0 301.8h0M209.1 274.2h0M208.7 264.1h0M224.8 298.4h0M216.4 267.4h0M226.4 262.3h0M233.6 294.4h0M235.0 298.1h0M208.7 265.7h0M232.4 289.9h0M225.8 274.8h0M222.6 286.5h0M224.9 304.0h0M218.4 274.2h0M227.7 282.9h0M213.6 288.8h0M220.9 264.8h0M220.1 296.6h0M221.6 302.7h0M232.0 274.7h0M238.3 287.2h0M212.9 286.6h0M224.9 289.6h0M213.7 265.5h0M219.1 274.0h0M228.2 267.8h0M239.8 292.3h0M221.9 300.8h0M220.4 276.3h0M235.1 278.0h0M223.1 303.2h0M231.3 284.8h0M220.5 300.2h0M216.1 273.1h0M232.5 269.5h0M213.9 283.2h0M214.4 263.0h0M224.1 278.1h0M211.3 278.8h0M226.7 302.5h0M214.5 293.0h0M219.4 280.6h0M226.6 287.1h0M227.7 279.7h0M229.6 276.2h0M225.4 285.5h0M222.5 298.3h0M211.3 285.8h0M225.0 297.2h0M228.5 264.2h0M219.1 269.7h0M228.8 280.7h0M223.9 267.1h0M216.4 269.7h0M217.2 295.2h0M227.9 271.4h0M237.0 279.1h0M209.0 263.3h0M225.5 276.4h0M211.4 287.2h0M231.9 284.2h0M216.6 295.4h0M223.7 296.9h0M222.3 284.5h0M230.1 285.3h0M231.2 296.6h0M230.6 292.4h0M229.2 294.5h0M222.5 274.1h0M219.7 269.7h0M235.6 286.6h0M237.8 296.1h0M234.0 288.5h0M212.7 282.8h0M212.2 291.4h0M223.1 286.4h0M215.0 288.2h0M210.7 291.4h0M239.8 291.6h0M213.5 263.4h0M216.4 270.7h0M237.5 306.0h0M216.8 285.0h0M229.8 303.3h0M213.3 290.5h0M216.7 279.2h0M211.1 269.1h0M234.5 279.4h0M207.9 277.8h0M223.2 285.7h0M222.3 298.7h0M219.9 289.2h0M228.4 290.9h0M210.1 275.3h0M219.5 270.9h0M211.6 274.1h0M215.6 269.1h0M213.9 292.6h0M232.6 269.5h0M216.5 287.5h0M212.6 265.3h0M233.2 288.0h0M216.5 299.1h0M222.5 290.2h0M210.3 286.3h0M228.7 292.7h0M223.1 278.0h0M210.8 275.7h0M211.9 280.8h0M229.9 271.5h0M229.8 277.2h0M221.0 269.8h0M232.2 274.5h0M219.9 293.7h0M210.1 288.5h0M227.3 281.0h0M212.7 276.0h0M237.6 283.4h0M234.7 294.8h0M215.6 284.7h0M212.5 280.7h0M211.6 273.2h0M233.5 291.4h0M229.9 283.1h0M239.0 291.7h0M238.5 293.3h0M226.9 304.8h0M234.1 301.4h0M214.7 295.6h0M216.5 263.3h0M225.8 267.4h0M214.6 268.9h0M214.4 289.4h0M238.0 300.2h0M233.0 285.6h0M223.0 271.0h0M236.8 284.3h0M220.6 291.6h0M220.9 295.8h0M220.5 291.1h0M226.0 297.8h0M215.0 264.8h0M231.1 284.8h0M215.7 285.4h0M228.4 274.5h0M212.5 283.1h0M219.7 287.4h0M233.8 294.7h0M210.7 279.5h0M213.4 279.1h0M229.5 264.8h0M220.3 287.4h0M235.3 275.8h0M223.0 285.4h0M232.5 272.7h0M215.8 271.6h0M227.2 295.6h0M214.8 268.7h0M221.9 300.6h0M234.3 279.8h0M212.9 277.1h0M233.5 293.7h0M233.2 280.1h0M223.2 285.0h0M234.4 276.4h0M212.8 280.6h0M223.6 280.1h0M230.6 293.7h0M234.8 299.5h0M210.8 269.0h0M235.0 270.9h0M227.0 296.0h0M223.1 269.4h0M223.0 300.5h0M224.8 302.2h0M235.0 301.4h0M230.8 278.3h0M225.8 302.9h0M221.6 291.7h0M230.3 269.5h0M213.5 287.2h0M232.5 287.9h0M231.5 274.2h0M216.2 265.7h0M234.4 279.1h0M212.5 270.3h0M216.1 279.4h0M231.5 268.0h0M211.3 278.9h0M238.2 272.8h0M230.4 292.1h0M228.0 268.0h0M234.9 300.0h0M238.4 297.3h0M237.5 279.9h0M230.5 287.4h0M223.1 293.2h0M236.1 271.1h0M210.3 276.8h0M221.6 275.4h0M216.0 274.7h0M209.5 271.4h0M210.0 279.9h0M216.1 265.5h0M220.9 275.8h0M211.1 282.0h0M210.2 272.4h0M215.5 287.3h0M232.5 281.9h0M213.5 295.6h0M224.1 291.6h0M223.0 299.3h0M221.4 301.5h0M236.9 288.3h0M220.9 261.1h0M228.2 269.5h0M212.7 281.4h0M234.0 298.3h0M236.8 291.9h0M217.7 286.0h0M213.9 267.2h0M214.4 275.0h0M210.9 270.8h0M237.4 279.7h0M222.5 288.0h0M224.8 293.7h0M237.1 283.2h0M228.3 265.8h0M228.0 288.9h0M237.3 293.1h0M238.2 274.7h0M217.4 287.5h0M227.3 304.6h0M233.1 276.3h0M217.0 272.2h0M220.8 281.9h0M221.9 276.3h0M215.5 287.7h0M226.6 275.3h0M219.3 281.4h0M228.6 304.9h0M234.3 281.2h0M230.7 301.8h0M229.7 284.7h0M225.7 270.0h0M210.8 283.0h0M211.9 280.9h0M223.4 302.6h0M223.1 283.0h0M224.7 277.2h0M233.0 296.4h0M221.6 283.7h0M214.6 288.9h0M218.9 270.3h0M233.5 266.6h0M208.7 280.2h0M215.7 273.4h0M234.0 286.6h0M213.4 297.2h0M233.7 284.3h0M224.4 292.4h0M225.3 277.5h0M236.7 298.0h0M211.5 289.0h0M222.6 280.2h0M215.2 279.8h0M236.3 300.4h0M230.1 279.9h0M229.4 269.8h0M211.3 271.9h0M224.5 265.5h0M221.7 281.0h0M232.4 273.8h0M217.6 277.9h0M232.2 289.9h0M218.9 290.6h0M210.0 274.2h0M215.6 278.7h0M209.4 278.9h0M229.9 290.0h0M234.7 287.3h0M229.5 303.8h0M215.3 267.5h0M226.1 274.4h0M240.5 277.0h0M215.0 272.7h0M211.0 289.5h0M225.1 281.4h0M233.6 269.8h0M216.0 279.9h0M230.8 267.5h0M213.7 298.0h0M231.1 288.4h0M232.0 285.4h0M228.0 265.0h0M218.6 296.7h0M221.8 270.0h0M211.6 273.7h0M215.9 292.9h0M234.2 272.0h0M224.5 285.5h0M221.2 269.3h0M222.1 292.1h0M216.5 281.4h0M220.0 281.6h0M211.0 272.8h0M229.0 272.1h0M226.3 292.5h0M235.3 280.1h0M226.3 302.7h0M232.0 304.8h0M231.4 292.0h0M222.4 262.2h0M229.3 302.2h0M236.1 293.1h0M223.1 293.4h0M226.7 268.1h0M231.6 275.8h0M219.7 278.5h0M231.3 292.0h0M235.5 291.7h0M221.6 277.5h0M238.0 288.1h0M240.6 291.6h0M219.3 276.8h0M228.7 287.2h0M220.2 270.4h0M225.7 294.4h0M235.4 288.9h0M234.3 277.6h0M220.9 281.1h0M212.3 277.3h0M217.6 288.4h0M210.1 276.9h0M227.5 282.1h0M226.3 276.3h0M228.1 299.2h0M219.1 276.8h0M209.9 267.4h0M220.7 292.4h0M240.0 280.2h0M238.2 290.7h0M220.5 275.9h0M236.8 294.5h0M209.8 268.8h0M213.9 272.3h0M229.8 280.7h0M226.4 303.7h0M222.8 292.2h0M218.5 296.1h0M237.0 295.5h0M229.7 301.2h0M228.3 279.1h0M213.9 287.7h0M233.2 269.5h0M233.0 288.5h0M229.2 270.7h0M233.7 289.6h0M212.4 286.8h0M230.1 272.1h0M220.5 275.3h0M221.6 282.4h0M233.6 288.1h0M224.4 286.6h0M231.3 282.4h0M221.2 272.2h0M217.4 289.1h0M220.7 267.1h0M223.5 267.1h0M212.4 280.6h0M212.4 280.3h0M234.5 275.3h0M231.1 272.9h0M220.0 300.9h0M232.1 294.1h0M217.3 283.2h0M219.7 276.9h0M225.1 279.2h0M213.3 288.0h0M225.6 296.7h0M215.8 291.6h0M236.4 299.8h0M230.1 291.7h0M229.8 280.6h0M226.3 293.7h0M237.4 284.2h0M224.2 292.1h0M231.4 269.2h0M220.2 297.8h0M213.5 283.0h0M231.4 278.6h0M232.9 302.1h0M232.1 293.4h0M227.9 290.7h0M220.4 292.1h0M217.3 280.2h0M233.4 290.2h0M224.4 269.0h0M215.6 292.7h0M219.5 299.5h0M211.1 278.6h0M217.1 286.2h0M227.9 279.6h0M215.1 278.7h0M225.0 271.0h0M220.6 261.9h0M208.6 275.2h0M234.9 300.3h0M215.7 297.8h0M218.7 270.3h0M233.0 283.3h0M220.2 274.8h0M238.4 281.7h0M236.8 301.2h0M219.5 287.6h0M237.9 286.9h0M226.2 302.3h0M218.2 291.4h0M217.0 290.3h0M216.1 263.4h0M235.0 271.6h0M232.1 296.6h0M219.1 290.0h0M223.7 287.0h0M230.4 291.0h0M223.5 298.8h0M214.2 290.0h0M224.5 280.8h0M224.9 298.7h0M221.9 297.0h0M221.8 261.3h0M216.6 274.5h0M208.1 280.5h0M215.4 290.0h0M223.2 270.7h0M222.4 284.5h0M231.8 291.9h0M231.7 296.7h0M220.7 267.8h0M237.3 278.3h0M233.8 290.6h0M218.5 266.1h0M217.1 280.9h0M221.7 276.0h0M228.5 299.6h0M209.6 263.1h0M216.9 287.5h0M222.1 272.0h0M218.1 284.2h0M222.1 300.5h0M222.7 287.0h0M229.3 280.3h0M222.2 283.0h0M222.3 299.8h0M231.1 297.9h0M231.5 303.5h0M239.3 280.6h0M228.9 274.5h0M220.7 289.1h0M237.2 272.5h0M221.0 288.3h0M223.8 275.1h0M213.9 266.9h0M229.4 292.2h0M219.2 278.9h0M211.3 282.9h0M238.2 279.9h0M226.5 279.6h0M232.7 299.2h0M218.7 282.2h0M235.3 288.0h0M226.0 288.9h0M213.0 267.5h0M214.6 271.1h0M214.3 275.8h0M224.5 281.6h0M226.6 272.6h0M226.9 268.2h0M225.1 287.4h0M208.9 269.0h0M223.3 285.1h0M227.9 287.2h0M223.9 278.0h0M214.6 268.5h0M231.8 290.5h0M212.9 271.3h0M226.4 270.3h0M230.0 266.0h0M234.5 275.8h0M234.7 289.8h0" stroke="#e8477a" stroke-width="1.1" stroke-linecap="round" fill="none"/>
<path d="M249.3 237.8h0M254.8 236.6h0M247.3 245.4h0M260.1 250.4h0M246.8 228.1h0M232.7 235.5h0M255.1 247.3h0M248.2 235.8h0M263.5 253.6h0M258.5 242.3h0M251.2 237.2h0M235.1 228.8h0M257.7 255.4h0M250.9 250.9h0M240.9 247.6h0M245.7 246.3h0M240.5 227.4h0M257.8 248.1h0M250.8 252.3h0M251.2 229.8h0M243.4 232.3h0M251.2 228.6h0M251.1 230.9h0M260.2 247.7h0M257.5 250.9h0M257.2 250.1h0M250.2 246.4h0M237.2 235.8h0M239.8 230.7h0M245.9 237.3h0M236.6 228.7h0M261.6 249.8h0M245.7 240.6h0M246.0 236.7h0M260.1 248.6h0M243.7 223.2h0M251.2 222.3h0M233.9 240.7h0M233.2 234.8h0M255.0 247.1h0M248.1 238.6h0M257.7 256.5h0M258.8 255.6h0M248.9 236.6h0M248.6 220.9h0M236.5 235.6h0M248.9 224.6h0M251.4 234.2h0M252.5 242.8h0M232.0 247.8h0M239.2 227.2h0M252.9 253.7h0M241.8 234.3h0M253.6 245.9h0M257.5 247.6h0M250.1 249.4h0M238.8 241.4h0M255.4 235.7h0M257.3 245.6h0M239.0 248.2h0M255.1 253.3h0M241.1 227.6h0M237.6 234.5h0M254.4 242.9h0M240.6 221.6h0M255.4 231.9h0M241.8 240.5h0M259.5 247.1h0M241.9 228.7h0M255.5 235.4h0M253.6 228.8h0M256.0 240.3h0M237.2 228.8h0M248.8 239.4h0M244.3 239.8h0M244.2 241.4h0M252.8 226.8h0M247.4 222.5h0M253.4 250.8h0M241.2 219.2h0M244.4 217.5h0M244.0 220.2h0M261.3 252.7h0M250.2 232.8h0M251.6 233.2h0M253.2 229.9h0M250.9 238.2h0M257.4 233.9h0M240.2 226.6h0M245.3 244.7h0M258.3 255.8h0M241.6 238.1h0M245.0 247.0h0M242.9 238.5h0M236.7 241.9h0M237.8 226.5h0M234.5 246.7h0M235.0 232.1h0M238.9 234.6h0M260.9 243.4h0M252.0 222.5h0M246.8 227.2h0M249.2 245.7h0M243.1 226.9h0M235.3 228.0h0M250.7 236.1h0M246.4 244.3h0M250.9 239.2h0M257.3 240.2h0M240.6 228.4h0M241.8 222.5h0M248.0 223.8h0M248.4 230.5h0M248.1 225.6h0M241.6 229.1h0M246.0 228.0h0M238.2 223.6h0M249.5 241.3h0M237.4 229.5h0M246.2 246.8h0M239.8 218.8h0M233.0 245.6h0M246.5 238.7h0M249.3 248.4h0M248.2 242.4h0M247.1 248.7h0M236.7 247.5h0M255.3 245.0h0M259.6 248.6h0M250.5 246.4h0M237.7 243.5h0M234.6 242.7h0M247.9 240.8h0M243.4 235.9h0M257.5 245.2h0M244.6 232.1h0M236.5 243.3h0M247.5 242.2h0M251.4 249.1h0M234.0 242.9h0M249.7 249.4h0M261.4 251.0h0M238.9 243.7h0M237.9 231.7h0M239.1 234.4h0M250.3 245.8h0M237.1 237.1h0M251.5 242.5h0M255.6 253.4h0M242.9 216.1h0M235.1 242.9h0M258.0 257.1h0M232.8 232.2h0M238.0 223.4h0M244.1 243.3h0M261.6 248.8h0M256.3 253.0h0M245.6 246.5h0M237.5 222.4h0M261.1 249.2h0M247.1 244.1h0M237.6 238.3h0M246.0 230.3h0M256.0 245.8h0M253.6 229.2h0M248.1 224.7h0M255.6 235.8h0M247.4 233.5h0M234.7 239.8h0M243.2 226.4h0M252.8 247.7h0M243.3 244.3h0M249.9 252.6h0M253.5 231.2h0M248.2 249.3h0M235.5 237.7h0M253.0 228.5h0M245.6 226.8h0M252.5 250.2h0M232.7 237.5h0M240.6 231.8h0M246.8 245.2h0M238.0 227.4h0M245.8 246.8h0M247.9 247.5h0M249.7 225.7h0M251.3 236.8h0M250.2 234.6h0M255.3 236.2h0M244.6 236.1h0M237.2 237.5h0M248.4 227.2h0M252.2 243.4h0M245.8 245.1h0M256.9 240.4h0M244.7 241.6h0M258.9 256.7h0M254.7 242.4h0M247.7 229.8h0M244.9 220.5h0M243.2 236.0h0M237.9 243.0h0M242.8 226.0h0M252.0 239.9h0M232.3 238.3h0M243.6 229.4h0M242.1 235.2h0M235.1 233.0h0M247.1 226.7h0M245.4 238.7h0M239.2 237.8h0M253.7 226.5h0M253.9 235.4h0M247.1 225.1h0M252.6 247.3h0M240.2 227.8h0M257.4 230.4h0M245.4 231.3h0M244.9 222.2h0M254.8 235.7h0M241.5 215.7h0M251.3 247.2h0M230.5 238.0h0M236.4 244.3h0M250.6 240.3h0M249.5 226.1h0M241.7 221.5h0M247.4 227.9h0M250.3 244.3h0M250.3 242.5h0M250.2 246.7h0M231.7 245.8h0M257.5 245.0h0M249.7 249.9h0M239.6 236.5h0M255.6 230.7h0M244.0 245.1h0M240.2 245.3h0M243.7 239.2h0M251.1 243.2h0M257.7 241.2h0M245.1 235.0h0M240.4 247.1h0M246.7 244.9h0M240.1 246.8h0M257.7 231.4h0M248.7 249.4h0M255.8 245.0h0M238.7 248.8h0M240.2 241.9h0M258.6 240.1h0M236.8 226.6h0M249.0 233.2h0M234.4 236.4h0M249.9 246.7h0M259.1 241.2h0M256.6 244.1h0M258.2 248.5h0M258.2 243.2h0M249.8 252.5h0M256.2 238.2h0M232.4 243.1h0M254.4 235.6h0M237.8 227.9h0M248.8 246.0h0M249.8 248.2h0M243.4 238.0h0M239.6 222.7h0M234.5 247.0h0M240.3 246.6h0M256.6 229.8h0M246.4 223.3h0M251.2 247.6h0M246.0 239.9h0M260.4 247.6h0M235.3 227.4h0M237.7 234.1h0M235.7 236.9h0M251.3 234.9h0M245.6 223.2h0M255.6 246.1h0M248.4 233.4h0M242.2 219.7h0M249.7 222.6h0M242.4 240.9h0M246.9 237.2h0M243.2 241.9h0M234.0 243.4h0M261.9 253.9h0M238.4 226.1h0M260.5 255.5h0M235.0 244.1h0M242.1 233.8h0M253.3 235.4h0M241.0 235.1h0M261.0 253.2h0M262.5 254.8h0M259.8 245.8h0M238.0 230.1h0M251.2 247.5h0M238.4 223.4h0M241.8 222.7h0M231.0 240.4h0M247.1 249.1h0M247.2 224.1h0M252.0 238.9h0M232.8 238.6h0M231.6 241.9h0M253.2 236.6h0M249.1 228.5h0M245.2 220.3h0M250.7 236.6h0M250.9 242.6h0M253.2 239.8h0M234.6 234.9h0M248.9 225.4h0M254.6 247.4h0M241.3 219.8h0M243.6 236.9h0M233.3 244.5h0M239.0 244.0h0M238.8 223.0h0M259.7 238.8h0M238.4 223.8h0M257.5 236.7h0M258.2 244.6h0M256.0 229.1h0M246.8 227.2h0M237.0 244.3h0M249.4 249.7h0M247.4 219.9h0M254.6 244.8h0M250.2 243.6h0" stroke="#e8654a" stroke-width="1.1" stroke-linecap="round" fill="none"/>
<path d="M231.0 242.1h0M229.9 248.6h0M230.8 253.7h0M227.9 262.1h0M228.9 258.4h0M227.7 253.2h0M226.5 262.0h0M225.3 250.7h0M225.6 257.5h0M214.3 260.6h0M229.3 255.7h0M213.2 252.6h0M230.4 253.9h0M228.4 248.9h0M223.8 251.8h0M228.3 252.5h0M226.9 256.9h0M226.0 261.2h0M224.2 246.4h0M218.3 262.4h0M217.2 253.3h0M221.6 244.9h0M228.5 260.5h0M217.3 254.7h0M227.4 249.1h0M225.4 240.2h0M221.4 241.9h0M231.2 249.9h0M224.4 255.1h0M225.5 259.0h0M229.6 241.5h0M215.3 260.1h0M225.2 259.3h0M224.6 238.6h0M223.9 258.9h0M230.6 249.9h0M221.8 252.0h0M213.3 249.6h0M228.6 252.1h0M225.2 239.8h0M218.2 247.4h0M225.3 242.3h0M228.7 254.8h0M219.2 258.6h0M230.0 237.7h0M222.3 253.7h0M221.4 240.3h0M224.9 242.5h0M215.8 255.7h0M226.2 246.3h0M225.3 236.3h0M228.9 237.3h0M228.0 256.9h0M223.5 253.1h0M217.8 256.2h0M220.8 244.2h0M220.3 256.0h0M230.2 255.0h0M219.9 255.4h0M221.7 260.5h0M224.3 250.6h0M223.6 242.8h0M230.8 237.3h0M215.9 260.1h0M217.6 258.5h0M220.8 249.2h0M228.0 246.4h0M228.7 237.0h0M228.4 246.2h0M220.6 254.6h0M226.3 251.2h0M213.7 253.1h0M229.0 248.0h0M223.4 240.6h0M228.7 236.1h0M224.7 239.0h0M225.9 244.4h0M218.8 243.8h0M218.9 249.7h0M215.8 250.4h0M229.8 255.3h0M220.2 244.4h0M213.1 260.7h0M226.5 236.0h0M223.8 237.2h0M220.8 246.7h0M226.4 236.8h0M219.8 251.3h0M226.6 242.3h0M219.6 261.7h0M226.7 248.4h0M223.9 259.8h0M226.4 234.1h0M216.8 254.8h0M220.6 254.7h0M227.1 258.3h0M225.0 245.3h0M225.6 238.3h0M228.4 255.6h0M226.6 240.2h0M218.9 258.6h0M220.2 262.3h0M221.9 251.7h0M218.7 257.1h0M218.6 247.0h0M226.9 250.5h0M225.4 234.1h0M217.7 257.0h0M231.1 246.5h0M229.4 243.1h0M225.1 243.9h0M225.9 248.2h0M229.9 244.6h0M220.4 244.2h0M225.8 246.3h0M220.2 252.3h0M227.2 257.5h0M221.6 243.1h0M223.7 243.7h0M223.8 253.7h0M228.4 255.7h0M219.9 250.8h0M214.4 248.0h0M216.4 261.5h0M228.8 248.5h0M222.7 258.3h0M213.2 252.2h0M224.0 240.4h0M221.7 251.7h0M222.5 249.6h0M222.4 242.4h0M218.7 256.9h0M216.3 256.7h0M229.9 240.1h0M210.8 259.5h0M226.7 245.0h0M221.5 256.7h0M216.9 251.8h0M228.3 240.5h0M222.1 238.4h0M225.6 246.1h0M221.1 258.8h0M220.2 256.9h0M218.1 261.6h0M226.9 241.8h0M227.1 258.6h0M229.7 247.2h0M217.6 245.5h0M225.1 248.3h0M220.8 246.8h0M229.4 247.3h0M216.8 259.1h0M217.6 249.4h0M214.4 257.0h0M228.8 247.8h0M229.7 241.0h0M229.5 247.7h0M229.6 245.5h0M223.7 238.0h0M218.1 256.2h0M230.2 251.8h0M216.3 256.1h0M228.2 237.7h0M225.7 256.1h0M222.9 253.4h0M216.3 250.7h0M229.1 245.6h0M224.9 239.4h0M222.8 248.1h0M226.6 245.6h0M229.8 238.9h0" stroke="#5cb96c" stroke-width="1.1" stroke-linecap="round" fill="none"/>
<path d="M268.6 312.3h0M268.2 308.0h0M265.6 306.9h0M262.9 318.1h0M264.3 317.5h0M267.7 310.5h0M268.7 313.0h0M262.4 308.8h0M262.4 310.7h0M270.8 312.7h0M265.7 316.8h0M263.9 308.7h0M267.2 307.7h0M268.6 312.1h0M270.0 314.1h0M263.2 308.0h0M264.2 309.4h0M265.2 308.5h0M266.1 314.1h0M266.5 308.6h0M262.7 311.1h0M265.3 306.7h0M266.7 304.4h0M268.2 315.4h0M269.4 318.9h0M264.9 318.0h0M264.6 310.6h0M266.8 308.8h0M265.7 312.5h0M264.3 314.3h0M269.8 317.0h0M266.2 314.6h0M267.6 314.4h0M263.8 313.8h0M270.1 313.4h0M265.8 312.2h0M264.3 309.7h0M267.9 318.6h0M267.6 315.8h0M266.3 311.9h0M269.0 312.6h0M262.9 312.7h0M262.4 310.4h0M263.1 317.2h0M267.0 316.1h0M267.2 307.5h0M265.1 310.0h0M266.1 320.5h0M268.2 318.7h0M263.1 309.1h0M264.0 307.2h0M262.1 316.7h0M268.6 312.7h0M265.6 317.0h0M265.4 314.5h0M265.2 314.7h0M268.7 314.1h0M265.2 316.1h0M264.4 307.8h0M264.7 315.9h0M263.7 316.4h0M269.1 314.0h0M269.2 319.0h0M269.0 315.7h0M267.3 306.8h0M269.2 315.1h0M266.2 304.5h0M262.8 307.8h0M269.4 312.3h0M267.2 314.8h0M262.4 307.9h0M264.1 309.6h0M268.6 315.8h0M268.1 320.4h0M268.7 313.8h0M268.4 315.0h0M260.6 307.3h0M267.9 306.1h0M265.6 305.8h0M263.2 318.1h0" stroke="#4f52a8" stroke-width="1.1" stroke-linecap="round" fill="none"/>
<path d="M217.6 289.9h0M233.5 273.5h0M212.2 274.4h0M226.1 261.3h0M216.8 278.2h0M209.6 281.4h0M209.2 267.0h0M216.1 293.9h0M216.2 275.9h0M224.3 290.9h0M217.4 290.9h0M214.7 270.1h0M212.1 264.0h0M227.4 283.7h0M236.5 302.8h0M217.8 271.9h0M217.6 274.5h0M212.6 283.2h0M235.7 289.8h0M222.0 283.3h0M227.2 295.4h0M216.6 264.2h0M218.4 266.9h0M220.7 292.5h0M221.9 266.7h0M224.0 269.3h0M229.5 267.3h0M232.7 299.1h0M208.3 269.7h0M234.6 268.7h0M232.8 288.1h0M238.5 286.7h0M223.9 268.5h0M222.8 294.5h0M210.1 290.3h0M231.3 304.5h0M238.2 291.1h0M218.0 295.1h0M233.2 302.3h0M228.2 290.3h0M230.4 277.5h0M226.3 288.3h0M233.6 305.0h0M219.9 300.9h0M221.3 272.6h0M208.7 277.1h0M233.5 296.3h0M234.3 302.8h0M223.3 278.9h0M225.8 304.0h0M242.0 286.3h0M235.2 285.7h0M218.8 275.7h0M216.0 267.7h0M211.2 286.5h0M231.3 270.9h0M231.9 301.3h0M236.7 292.1h0M221.4 266.5h0M220.8 296.0h0M225.0 295.4h0M213.6 283.5h0M223.6 279.2h0M211.7 284.5h0M222.5 263.3h0M213.2 265.2h0M220.3 284.2h0M220.7 288.5h0M232.4 286.4h0M215.0 295.5h0M212.6 278.8h0M225.2 301.7h0M222.4 276.7h0M214.4 266.2h0M227.2 280.8h0M215.0 267.1h0M234.6 274.1h0M223.4 269.1h0M222.9 280.2h0M213.8 287.2h0M234.9 301.2h0M227.3 277.2h0M236.2 299.4h0M226.9 295.4h0M218.9 267.6h0M220.0 270.1h0M230.2 286.3h0M211.6 292.2h0M233.4 282.3h0M222.2 292.3h0M231.1 306.9h0M212.6 266.3h0M224.5 296.4h0M229.5 285.3h0M219.4 271.1h0M228.4 274.4h0M218.2 266.1h0M229.9 268.1h0M218.9 300.4h0M223.8 302.0h0M227.1 280.1h0M232.6 291.4h0M228.6 290.2h0M233.1 284.7h0M225.1 268.4h0M214.4 287.5h0M218.1 289.8h0M229.2 277.7h0M232.2 284.5h0M217.6 283.3h0M214.8 275.3h0M218.1 285.3h0M208.2 283.7h0M231.9 275.9h0M217.6 281.7h0M224.3 277.1h0M236.6 284.9h0M213.8 296.4h0M215.0 296.9h0M222.7 280.1h0M214.9 272.4h0M213.1 282.8h0M220.9 280.3h0M225.3 267.5h0M238.7 277.1h0M221.4 277.0h0M226.6 279.6h0M220.3 268.1h0M227.7 292.9h0M207.8 272.1h0M226.4 276.0h0M238.2 278.9h0M217.1 279.6h0M228.4 296.5h0M230.2 277.4h0M212.3 269.1h0M215.3 275.3h0M209.5 274.4h0M236.1 271.8h0M221.6 283.2h0M226.8 267.1h0M225.9 306.3h0M219.5 283.2h0M216.7 282.9h0M223.7 265.1h0M220.4 268.5h0M234.0 294.1h0M212.1 283.6h0M237.7 293.7h0M207.7 278.6h0M222.5 284.5h0M215.2 282.4h0M213.9 292.9h0M220.4 267.9h0M224.9 274.9h0M219.4 298.5h0M224.9 304.2h0M212.8 270.4h0M226.4 281.2h0M222.6 275.6h0M211.7 266.1h0M231.3 304.9h0M213.0 272.8h0M223.4 282.8h0M216.8 269.4h0M209.3 281.3h0M232.0 277.7h0M228.5 279.0h0M229.6 288.1h0M221.6 299.6h0M221.0 270.6h0M219.7 292.9h0M226.6 276.1h0M225.4 269.1h0M210.2 286.3h0M222.7 261.7h0M230.7 282.9h0M235.7 287.5h0M213.2 280.4h0M215.5 264.4h0M233.6 293.8h0M215.3 268.2h0M216.5 263.1h0M226.9 273.4h0M230.6 271.1h0M238.3 279.5h0M239.4 282.8h0M212.4 265.0h0M236.6 301.4h0M211.8 292.1h0M221.4 293.7h0M225.4 263.4h0M236.0 285.4h0M213.6 289.1h0M211.7 281.1h0M227.5 283.2h0M230.1 278.3h0M226.6 293.0h0M214.2 266.1h0M208.7 275.1h0M212.0 284.7h0M212.3 280.1h0M218.2 275.0h0M224.0 299.9h0M221.1 300.5h0M233.0 276.7h0M214.5 288.3h0M222.4 281.1h0M238.0 290.0h0M221.2 286.0h0M218.6 294.6h0M208.4 277.3h0M226.7 266.4h0M218.1 294.0h0M223.6 284.4h0M226.7 278.2h0M228.6 302.8h0M224.4 272.2h0M232.6 266.5h0M225.7 279.8h0M231.3 299.4h0M214.3 264.3h0M210.1 267.1h0M219.9 262.6h0M218.4 268.8h0M210.2 280.0h0M227.3 283.7h0M231.8 299.9h0M231.2 279.9h0M218.6 284.6h0M232.0 303.9h0M236.8 303.4h0M225.5 278.9h0M216.1 292.9h0M233.9 279.6h0M230.5 291.2h0M230.9 277.8h0M237.5 298.7h0M233.1 277.4h0M218.9 272.1h0M238.5 292.7h0M230.7 289.1h0M220.4 291.6h0M217.9 271.1h0M215.0 269.4h0M232.8 291.0h0M233.0 275.1h0M234.9 286.9h0M210.3 285.0h0M210.5 274.1h0M237.3 273.6h0M229.7 283.0h0M229.7 299.9h0M217.1 274.3h0M226.5 275.7h0M236.7 287.1h0M216.1 286.2h0M235.3 276.3h0M220.7 299.3h0M228.6 266.0h0M217.2 291.3h0M228.0 277.6h0M219.6 296.1h0M225.4 294.3h0M234.5 277.6h0M233.1 274.3h0M232.9 281.2h0M221.9 267.2h0M216.9 295.0h0M216.7 266.1h0M225.0 273.0h0M230.9 270.0h0M222.9 292.2h0M226.4 300.2h0M213.1 285.4h0M219.6 274.3h0M228.4 296.5h0M216.8 268.6h0M214.7 291.4h0M225.1 271.9h0M220.8 285.8h0M219.5 272.8h0M213.8 280.4h0M239.4 287.7h0M216.5 290.7h0M218.4 285.4h0M222.3 268.3h0M213.8 296.4h0M228.9 267.8h0M235.4 284.0h0M225.9 289.8h0M219.6 297.3h0M234.9 293.1h0M226.5 294.2h0M233.0 286.1h0M228.4 266.4h0M218.1 287.1h0M215.1 289.0h0M216.7 264.7h0M213.9 285.3h0M223.4 273.8h0M225.1 262.1h0M223.9 283.9h0M233.2 305.9h0M233.9 275.9h0M235.7 298.6h0M228.4 274.2h0M224.6 263.4h0M226.5 277.2h0M236.0 284.0h0M233.1 278.2h0M215.8 285.5h0M238.3 273.7h0M222.5 283.7h0M213.3 263.9h0M238.5 301.9h0M226.0 295.0h0M213.6 263.9h0M217.2 298.8h0M220.7 265.8h0M233.2 278.1h0M226.0 274.0h0M226.5 270.9h0M230.8 299.8h0M227.9 308.2h0M215.2 280.4h0M223.6 267.6h0M226.8 304.5h0M218.7 286.3h0M228.1 268.0h0M221.5 294.3h0M221.3 263.9h0M223.5 275.3h0M213.8 289.0h0M230.5 269.5h0M229.4 303.7h0M208.7 269.8h0M228.6 273.7h0M216.4 293.8h0M237.9 301.3h0M229.1 305.1h0M212.9 284.2h0M223.7 303.8h0M239.4 295.4h0M222.4 298.1h0M222.0 264.9h0M223.2 266.6h0M237.8 282.2h0M229.0 276.5h0M217.4 281.6h0M218.0 263.3h0M217.0 269.8h0M223.5 301.1h0M216.8 299.8h0M229.3 271.0h0M232.8 283.0h0M224.7 296.6h0M221.1 273.7h0M215.6 277.0h0M217.8 296.2h0M236.4 298.3h0M230.0 275.4h0M225.0 297.5h0M221.6 302.6h0M235.1 267.0h0M214.9 272.8h0M229.1 302.4h0M224.7 269.7h0M227.9 283.5h0M232.1 287.5h0M233.6 273.3h0M216.0 277.5h0M215.2 289.8h0M223.6 287.3h0M219.9 268.8h0M234.2 290.0h0M234.5 289.1h0M226.9 297.3h0M213.9 282.7h0M232.7 276.7h0M231.4 302.9h0M231.4 303.2h0M211.2 276.8h0M225.5 281.0h0M237.2 293.6h0M215.5 269.5h0M224.7 287.2h0M222.1 286.3h0M220.8 278.1h0M218.7 299.4h0M216.0 294.8h0M228.7 291.4h0M236.0 302.0h0M216.0 272.3h0M208.3 279.0h0M220.0 299.5h0M231.0 293.0h0M213.0 264.9h0M219.2 292.7h0M227.3 278.4h0M228.6 288.7h0M224.4 276.4h0M231.8 283.0h0M232.5 279.8h0M232.4 300.9h0M235.1 279.4h0M228.3 296.4h0M237.8 275.3h0M227.8 293.1h0M231.3 296.8h0M210.3 267.4h0M227.5 286.9h0M234.7 299.3h0M220.7 269.2h0M230.6 267.9h0M226.2 273.3h0M221.9 293.5h0M234.1 290.1h0M233.9 289.5h0M236.3 266.8h0M229.1 296.2h0M211.1 275.2h0M219.7 277.2h0M209.0 275.7h0M234.3 274.8h0M236.1 276.0h0M216.6 274.7h0M217.7 268.6h0M216.8 279.9h0M234.2 296.9h0M230.6 279.8h0M218.0 265.5h0M224.8 268.0h0M238.6 286.0h0M209.8 278.1h0M233.4 280.3h0M214.9 290.6h0M212.5 289.0h0M228.2 268.8h0M227.0 280.0h0M220.0 289.8h0M211.1 287.1h0M228.3 266.3h0M236.5 286.6h0M213.3 287.6h0M235.9 290.5h0M231.0 288.1h0M228.7 299.9h0M213.4 265.7h0M220.6 289.0h0M231.1 279.6h0M224.2 301.6h0M219.4 269.8h0M227.4 285.0h0M216.1 270.2h0M218.2 298.8h0M235.7 282.0h0M220.9 295.1h0M239.2 291.7h0M229.2 285.7h0M227.9 284.4h0M219.4 272.2h0M225.9 296.4h0M229.5 279.6h0M230.1 268.5h0M237.4 299.9h0M233.8 295.2h0M225.6 269.5h0M218.1 299.9h0M229.1 284.5h0M236.5 303.4h0M212.0 270.2h0M225.5 267.2h0M224.5 301.9h0M229.8 273.7h0M237.0 272.9h0M226.1 268.9h0M228.3 298.1h0M229.0 274.9h0M230.0 287.6h0M233.0 304.3h0M233.8 284.4h0M213.7 262.2h0M228.8 293.0h0M227.3 294.2h0M219.3 265.1h0M216.4 293.1h0M223.8 284.1h0M218.4 273.8h0M224.8 294.7h0M227.4 284.1h0M217.1 280.0h0M220.0 270.4h0M226.9 269.5h0M212.8 270.9h0M214.8 264.6h0M209.2 263.6h0M238.5 294.2h0M222.4 285.0h0M226.3 278.2h0M209.1 266.6h0M240.9 285.6h0M209.1 261.5h0M211.9 281.9h0M226.0 276.3h0M216.9 276.1h0M237.5 275.0h0" stroke="#e8477a" stroke-width="1.1" stroke-linecap="round" fill="none"/>
<path d="M275.4 251.6h0M281.6 251.0h0M280.7 245.5h0M273.5 247.9h0M275.5 250.5h0M272.5 249.9h0M282.1 247.7h0M269.9 251.3h0M275.6 250.3h0M279.0 245.5h0M271.4 252.1h0M270.9 253.9h0M269.1 252.1h0M278.5 256.5h0M273.0 253.4h0M282.4 254.4h0M271.5 249.8h0M269.4 248.1h0M270.5 257.6h0M272.9 254.3h0M280.5 243.4h0M281.2 254.8h0M266.9 254.0h0M269.9 252.5h0M276.1 244.8h0M268.4 245.8h0M276.0 251.0h0M270.3 248.5h0M276.3 247.5h0M282.2 250.1h0M278.4 254.1h0M266.2 249.2h0M275.5 242.8h0M280.0 256.7h0M266.6 252.8h0M264.8 245.9h0M279.5 256.9h0M271.4 248.7h0M271.2 255.8h0M277.3 255.4h0M280.0 248.0h0M266.4 245.3h0M278.0 252.1h0M279.4 245.0h0M281.7 247.2h0M270.8 257.3h0M268.9 249.6h0M269.5 251.9h0M277.7 253.4h0M275.8 244.5h0M275.3 252.5h0M272.0 250.3h0M266.5 245.2h0M266.1 257.2h0M276.3 250.6h0M269.4 248.1h0M272.7 245.3h0M271.1 245.4h0M281.9 253.1h0M281.8 254.7h0M268.3 256.0h0M272.0 243.9h0M273.0 250.3h0M266.3 252.1h0M265.7 244.4h0M284.9 245.4h0M269.5 258.1h0M272.9 260.2h0M269.0 249.4h0M279.4 249.8h0M268.8 253.8h0M277.2 245.0h0M283.5 247.9h0M276.1 247.2h0M272.4 249.5h0M277.6 257.2h0M271.9 252.8h0M270.3 243.0h0M266.2 251.1h0M275.3 246.1h0M267.9 246.9h0M281.6 257.5h0M272.3 254.4h0M280.2 245.8h0M270.8 248.8h0M283.7 246.4h0M270.4 255.2h0M271.5 244.9h0M281.1 245.0h0M268.9 255.7h0M283.7 249.1h0M271.0 254.0h0M282.6 253.9h0M269.4 246.8h0M270.5 252.4h0M269.2 249.0h0M277.1 250.5h0M269.6 251.5h0M273.4 244.6h0M281.8 248.5h0M273.3 258.0h0M266.4 242.9h0M278.0 245.5h0M280.1 252.8h0" stroke="#3cbdbd" stroke-width="1.1" stroke-linecap="round" fill="none"/>
<path d="M243.7 252.8h0M246.2 263.9h0M246.1 254.2h0M245.5 252.7h0M233.4 260.2h0M234.2 267.6h0M236.8 264.2h0M226.6 253.9h0M243.9 258.9h0M229.7 253.4h0M241.3 249.1h0M245.6 264.6h0M245.0 253.8h0M244.7 261.7h0M244.5 256.7h0M238.9 250.9h0M242.6 262.6h0M234.3 261.8h0M236.4 261.4h0M237.4 256.4h0M241.8 255.4h0M241.3 258.8h0M231.8 264.6h0M237.7 252.7h0M245.0 259.5h0M248.5 250.9h0M244.1 256.5h0M226.9 256.9h0M241.4 262.5h0M228.0 255.4h0M236.4 253.7h0M243.4 261.9h0M228.2 258.0h0M240.9 250.3h0M243.1 258.1h0M244.6 258.9h0M252.1 264.2h0M248.4 264.2h0M236.4 267.1h0M231.1 251.7h0M242.3 256.1h0M240.0 250.6h0M249.3 251.8h0M230.7 249.2h0M229.1 259.5h0M238.2 256.5h0M246.7 257.8h0M232.0 255.8h0M234.6 261.6h0M234.7 258.9h0M244.1 262.2h0M248.7 261.4h0M236.9 253.7h0M249.1 252.1h0M249.5 256.3h0M240.5 250.4h0M238.1 253.1h0M234.1 251.7h0M246.4 253.0h0M244.4 252.2h0M232.6 257.9h0M236.7 265.4h0M240.0 261.1h0M242.4 258.0h0M238.5 249.8h0M231.0 252.6h0M244.4 261.1h0M231.2 260.0h0M242.6 265.8h0M241.0 252.4h0M241.7 262.5h0M248.4 253.0h0M240.8 253.2h0M244.2 255.5h0M244.7 264.6h0M228.5 256.7h0M235.6 265.1h0M231.1 260.0h0M230.3 255.0h0M236.7 262.1h0M249.7 262.6h0M239.3 256.9h0M248.3 256.5h0M244.0 261.6h0M244.8 253.3h0M247.8 258.9h0M244.9 256.2h0M237.8 264.0h0M233.7 256.3h0M238.9 254.3h0M237.7 253.6h0M240.3 267.1h0M238.0 248.9h0M241.5 257.2h0M246.7 252.7h0M239.8 261.9h0M230.3 260.3h0M241.1 256.1h0M232.9 256.3h0M231.2 259.2h0M240.1 265.3h0M244.3 258.6h0M238.9 251.3h0M234.5 258.8h0M250.7 261.7h0M235.1 268.5h0M238.6 264.3h0M238.6 251.1h0M243.2 265.7h0M234.3 253.2h0M247.2 256.4h0M235.9 250.0h0M244.1 253.9h0M238.5 266.7h0M238.8 254.5h0M240.1 252.8h0M245.8 265.7h0M232.9 255.0h0M236.1 259.7h0M229.3 257.9h0M237.7 266.9h0M246.4 260.5h0M246.2 266.8h0M247.2 254.9h0M245.3 261.0h0M240.5 255.2h0M232.8 254.7h0M248.2 252.3h0M247.5 265.8h0M241.8 257.5h0M251.6 262.0h0M248.3 259.6h0M234.6 253.7h0M237.6 262.9h0M231.4 252.7h0M233.1 262.9h0M246.1 259.0h0M232.7 254.5h0M243.6 259.6h0M229.8 255.2h0M234.9 262.8h0M240.6 250.0h0M235.1 257.9h0M245.9 255.5h0M249.9 258.9h0M249.3 260.1h0M241.3 262.1h0M247.5 249.9h0M238.9 256.4h0M244.7 258.7h0M244.0 252.6h0M246.5 251.9h0M251.0 258.4h0M249.3 263.4h0M248.9 254.4h0M241.3 257.6h0M250.1 255.1h0M249.2 259.6h0M231.5 262.4h0M235.9 265.2h0M249.3 261.7h0M247.5 263.5h0M242.6 264.1h0M250.0 254.2h0M236.0 266.3h0M232.1 250.3h0" stroke="#2f9bd6" stroke-width="1.1" stroke-linecap="round" fill="none"/>
<path d="M256.0 229.5h0M250.4 248.7h0M253.1 228.1h0M256.2 250.8h0M244.7 241.7h0M253.7 246.3h0M245.8 227.3h0M258.6 245.6h0M253.3 233.0h0M239.8 248.1h0M243.1 242.4h0M252.7 251.0h0M260.0 252.1h0M241.0 242.6h0M244.8 234.3h0M242.7 237.8h0M243.9 226.4h0M249.5 237.5h0M234.6 241.3h0M251.3 249.1h0M253.6 239.9h0M247.6 234.8h0M236.2 230.1h0M234.4 227.6h0M234.7 246.3h0M233.9 231.1h0M250.2 226.5h0M242.1 243.4h0M237.1 231.8h0M248.3 245.1h0M259.0 241.2h0M260.0 255.5h0M235.4 248.0h0M254.2 251.1h0M249.1 243.0h0M246.1 223.7h0M244.9 235.9h0M242.7 218.4h0M251.5 231.2h0M249.8 220.6h0M249.1 244.9h0M251.7 230.4h0M236.7 241.3h0M250.1 248.1h0M244.5 220.2h0M242.3 238.7h0M244.4 232.8h0M252.1 232.8h0M241.8 228.2h0M259.7 254.1h0M239.0 235.7h0M238.7 230.2h0M236.9 248.2h0M256.8 243.5h0M238.4 239.9h0M244.7 243.0h0M245.9 241.2h0M237.1 243.2h0M250.4 249.6h0M243.6 216.5h0M253.6 244.6h0M256.9 250.9h0M246.9 235.7h0M244.9 236.4h0M247.8 225.0h0M245.9 227.0h0M255.9 234.6h0M247.2 232.2h0M255.9 246.4h0M260.1 247.2h0M251.6 249.6h0M254.2 245.9h0M253.8 251.9h0M249.1 226.7h0M257.8 242.9h0M258.2 236.2h0M252.9 243.7h0M234.5 243.2h0M258.6 247.5h0M247.0 225.9h0M248.4 238.3h0M259.3 243.1h0M244.0 229.7h0M243.3 223.0h0M235.5 242.2h0M253.4 247.0h0M242.6 216.5h0M231.8 240.5h0M262.3 246.2h0M256.8 248.5h0M257.4 232.0h0M233.0 244.9h0M248.6 219.1h0M254.0 232.6h0M242.7 243.3h0M256.3 240.4h0M236.8 226.7h0M243.9 248.4h0M251.1 231.0h0M246.5 234.3h0M257.6 252.9h0M252.5 247.6h0M239.5 230.5h0M256.6 251.5h0M249.0 242.7h0M233.5 236.9h0M253.6 234.9h0M251.7 228.6h0M242.5 239.6h0M251.6 249.7h0M248.3 251.5h0M250.1 248.2h0M247.6 245.3h0M249.3 230.9h0M242.3 245.3h0M235.0 238.6h0M247.1 218.8h0M234.0 232.8h0M246.5 235.6h0M234.1 234.4h0M235.8 224.5h0M249.6 220.8h0M240.4 222.9h0M251.8 238.0h0M238.4 236.6h0M246.0 232.4h0M252.3 243.5h0M252.4 229.4h0M245.9 220.5h0M259.4 247.0h0M255.5 234.9h0M254.1 235.9h0M251.4 248.3h0M246.4 239.1h0M244.6 235.5h0M258.8 238.5h0M235.0 232.6h0M250.0 244.2h0M241.3 238.0h0M240.0 219.2h0M241.5 247.3h0M234.7 234.9h0M258.2 246.8h0M237.5 222.9h0M257.8 251.8h0M243.4 249.6h0M251.4 241.7h0M249.0 243.9h0M249.8 231.7h0M249.4 228.8h0M254.4 241.8h0M241.0 236.8h0M243.7 237.2h0M247.7 226.2h0M240.8 227.4h0M244.7 218.2h0M242.5 241.4h0M239.5 226.4h0M246.4 247.6h0M243.0 235.0h0M258.8 241.4h0M245.6 230.8h0M238.6 232.5h0M253.1 228.5h0M257.7 243.8h0M239.0 238.8h0M239.9 248.1h0M234.3 236.5h0M247.7 242.8h0M236.7 224.3h0M239.2 226.1h0M254.9 244.3h0M253.4 254.2h0M247.2 235.1h0M260.2 248.5h0M235.0 230.2h0M252.3 228.1h0M236.4 249.7h0M232.2 241.3h0M242.8 235.2h0M237.8 240.1h0M241.7 231.5h0M256.9 246.5h0M250.0 247.1h0M232.7 242.1h0M251.2 240.9h0M257.6 252.7h0M247.1 224.3h0M243.0 230.3h0M249.5 247.9h0M242.1 219.6h0M238.1 221.4h0M260.3 253.0h0M256.3 238.1h0M259.2 242.8h0M252.2 230.4h0M250.1 251.2h0M244.9 237.1h0M240.4 246.4h0M247.2 229.8h0M244.4 241.6h0M243.7 244.7h0M243.1 233.2h0M241.6 227.0h0M254.9 234.6h0M242.6 222.3h0M238.9 228.7h0M254.3 240.1h0M239.6 229.3h0M247.4 236.8h0M234.5 232.3h0M257.0 232.7h0M238.9 246.5h0M252.1 229.3h0M240.4 225.1h0M243.5 240.5h0M237.4 227.5h0M238.4 244.0h0M256.2 237.3h0M243.0 236.4h0M249.0 234.6h0M234.4 233.4h0M246.0 236.4h0M238.8 245.6h0M242.3 238.3h0M251.8 252.7h0M242.6 228.4h0M256.2 251.1h0M244.3 222.5h0M242.0 221.7h0M252.6 238.1h0M232.0 244.4h0M244.5 241.1h0M258.9 255.0h0M255.8 236.3h0M246.4 228.1h0M251.5 241.5h0M245.8 223.3h0M239.5 244.5h0M259.8 255.4h0M249.0 223.0h0M247.3 237.5h0M236.4 237.9h0M232.4 236.7h0M247.4 231.6h0M240.8 243.9h0M245.4 220.8h0M240.5 247.4h0M239.1 245.6h0M232.1 231.2h0M234.3 235.9h0M240.3 243.7h0M233.4 248.0h0M251.5 245.5h0M251.1 249.0h0M232.7 241.6h0M259.4 243.7h0M257.3 237.0h0M248.0 245.0h0M253.1 231.3h0M255.0 251.4h0M258.9 236.2h0M233.9 235.3h0M259.7 251.3h0M239.2 233.5h0M251.9 225.1h0M243.4 243.0h0M252.3 233.4h0M241.1 230.5h0M245.1 243.9h0M236.7 231.9h0M246.1 246.1h0M245.0 229.7h0M237.2 229.5h0M252.9 237.5h0M258.3 254.5h0M241.0 224.1h0M253.2 244.3h0M237.7 246.6h0M250.9 250.8h0M242.2 238.5h0M235.7 235.7h0M235.9 232.2h0M243.4 234.1h0M243.0 241.8h0M261.6 253.8h0M253.0 237.2h0M263.0 255.9h0M259.1 255.1h0M236.0 245.4h0M258.2 239.5h0M254.8 248.6h0M259.6 247.2h0M241.7 240.6h0M241.6 241.5h0M234.3 240.9h0M232.6 245.3h0M234.6 237.5h0M256.6 235.5h0M258.0 246.2h0M257.6 240.7h0M248.0 235.9h0M246.5 219.1h0M239.8 240.8h0M242.6 243.6h0M258.9 252.8h0M251.8 247.5h0M251.5 245.6h0M232.5 237.2h0M235.9 239.1h0M236.4 248.2h0M251.4 240.0h0M256.7 238.8h0M246.7 238.5h0M235.1 228.6h0M243.0 234.9h0M239.6 246.3h0M247.7 222.0h0M235.6 241.9h0M237.0 227.9h0M238.4 224.4h0M254.2 229.3h0M245.5 240.3h0M252.5 245.8h0M254.9 231.2h0M240.1 234.7h0M242.1 235.7h0M237.8 233.7h0M244.2 242.3h0M256.9 252.1h0M254.7 242.8h0" stroke="#e8654a" stroke-width="1.1" stroke-linecap="round" fill="none"/>
<path d="M250.1 256.0h0M256.2 257.6h0M257.0 257.3h0M252.0 259.3h0" stroke="#2f9bd6" stroke-width="1.1" stroke-linecap="round" fill="none"/>
<path d="M271.0 283.0h0M265.7 270.8h0M250.3 293.3h0M240.1 266.5h0M274.6 301.1h0M267.5 271.9h0M266.1 299.2h0M273.5 299.8h0M254.3 283.1h0M254.1 273.3h0M242.3 291.8h0M255.4 280.1h0M252.3 287.8h0M246.4 265.4h0M268.9 283.7h0M263.1 289.0h0M271.4 281.8h0M246.9 281.8h0M246.3 283.3h0M249.3 288.8h0M249.2 300.1h0M267.3 268.0h0M239.2 284.0h0M242.7 274.6h0M259.8 270.9h0M253.0 255.1h0M267.3 299.1h0M271.3 286.3h0M250.4 306.7h0M267.0 285.8h0M266.0 277.4h0M261.1 302.1h0M253.9 289.2h0M264.6 282.7h0M241.5 266.7h0M249.8 273.1h0M260.4 306.8h0M241.2 275.7h0M238.8 294.3h0M258.7 295.4h0M250.0 263.4h0M267.2 284.3h0M248.0 287.2h0M269.8 296.0h0M269.5 288.2h0M256.7 295.7h0M245.9 260.8h0M251.6 304.4h0M273.5 290.6h0M245.0 271.8h0M254.8 263.5h0M240.0 279.6h0M255.4 304.2h0M264.2 306.2h0M257.2 280.4h0M250.8 301.9h0M274.9 290.7h0M265.8 280.2h0M253.0 278.4h0M265.6 280.1h0M270.8 305.8h0M248.7 307.5h0M246.1 263.4h0M264.7 298.0h0M260.5 257.2h0M250.7 294.8h0M247.5 280.1h0M249.4 305.5h0M264.3 274.6h0M257.3 292.0h0M253.7 303.7h0M246.1 288.2h0M246.5 303.2h0M243.8 304.1h0M242.3 265.5h0M258.9 292.5h0M242.1 292.2h0M256.9 293.6h0M246.6 281.3h0M244.5 271.9h0M264.1 292.1h0M253.9 301.5h0M242.7 307.9h0M236.8 275.0h0M267.3 259.3h0M268.6 286.8h0M252.1 300.7h0M267.8 305.3h0M249.4 264.6h0M248.9 282.7h0M249.2 307.0h0M247.8 301.9h0M271.7 302.3h0M271.0 289.4h0M260.7 300.3h0M249.1 301.3h0M275.4 298.7h0M248.4 304.0h0M264.1 306.2h0M268.0 269.7h0M264.5 293.6h0M265.4 284.4h0M256.8 280.9h0M247.4 265.4h0M252.9 258.9h0M254.5 275.0h0M243.1 275.2h0M266.5 297.5h0M256.8 266.2h0M257.7 274.6h0M242.4 288.8h0M252.0 286.4h0M260.2 296.1h0M253.3 291.1h0M240.1 295.3h0M240.7 300.8h0M252.6 290.8h0M244.1 266.9h0M244.1 275.7h0M247.1 266.8h0M268.9 289.1h0M251.0 268.9h0M255.8 288.3h0M273.3 297.3h0M261.8 292.9h0M246.5 300.5h0M253.4 290.0h0M266.0 282.8h0M248.6 285.9h0M269.0 287.0h0M260.0 275.7h0M269.8 298.6h0M248.4 260.6h0M265.7 288.2h0M269.0 280.1h0M242.8 284.5h0M248.4 295.7h0M264.6 271.3h0M270.3 290.3h0M254.8 256.2h0M267.5 273.1h0M256.7 303.2h0M266.9 272.7h0M250.9 272.6h0M273.4 300.3h0M242.5 261.7h0M253.2 271.8h0M241.1 302.9h0M239.0 265.7h0M260.0 303.2h0M244.9 260.2h0M273.9 302.6h0M246.7 277.3h0M252.6 288.1h0M264.6 259.6h0M275.4 296.9h0M251.2 265.4h0M261.2 294.3h0M253.7 261.7h0M261.3 290.5h0M247.6 273.9h0M267.3 301.0h0M250.9 308.2h0M245.7 262.2h0M238.2 283.8h0M248.8 268.1h0M269.2 282.5h0M253.9 308.2h0M240.8 281.1h0M273.4 303.8h0M250.8 277.8h0M262.2 282.2h0M256.6 305.8h0M261.7 302.7h0M256.8 289.9h0M244.1 295.4h0M274.8 295.4h0M242.5 290.1h0M243.4 281.0h0M240.2 288.9h0M237.9 276.0h0M245.6 307.2h0M268.8 283.9h0M239.5 298.5h0M266.4 286.4h0M241.1 280.6h0M270.3 300.4h0M264.6 304.8h0M238.4 273.0h0M265.2 294.7h0M262.2 261.9h0M262.3 268.7h0M268.0 306.1h0M237.0 274.2h0M251.7 260.8h0M259.7 281.0h0M265.4 257.5h0M268.5 297.6h0M259.0 274.0h0M262.9 287.5h0M259.3 263.2h0M247.7 264.2h0M242.7 282.6h0M240.6 276.8h0M262.5 285.7h0M243.4 270.3h0M251.0 268.8h0M246.4 258.9h0M264.1 281.3h0M272.7 304.8h0M253.2 261.2h0M254.4 269.0h0M262.1 258.4h0M277.2 300.7h0M270.6 293.8h0M258.3 283.2h0M254.8 307.8h0M264.5 280.1h0M267.5 304.2h0M269.7 299.6h0M244.8 295.4h0M249.0 290.4h0M255.2 277.7h0M238.5 288.7h0M268.9 288.7h0M272.2 278.4h0M249.9 262.8h0M247.6 275.2h0M249.5 306.7h0M264.5 284.8h0M247.3 299.2h0M265.5 308.6h0M242.5 275.9h0M256.0 267.1h0M265.5 293.8h0M239.8 266.7h0M252.0 303.0h0M257.1 295.8h0M256.8 297.4h0M269.8 291.2h0M244.6 282.2h0M259.6 279.0h0M241.0 286.5h0M263.3 303.5h0M243.0 265.1h0M268.7 277.5h0M267.0 280.4h0M248.5 293.4h0M246.7 279.9h0M249.6 263.6h0M238.3 290.7h0M264.3 307.8h0M259.0 303.5h0M245.3 282.2h0M276.8 296.2h0M267.6 278.9h0M251.7 276.3h0M257.0 256.3h0M270.8 286.3h0M262.4 260.9h0M253.0 258.4h0M256.8 288.6h0M243.3 268.0h0M265.3 297.1h0M239.8 296.7h0M255.8 298.0h0M243.0 294.8h0M249.8 282.5h0M257.7 286.0h0M256.5 295.9h0M270.5 283.7h0M258.3 271.0h0M251.6 267.9h0M260.8 256.1h0M256.2 300.6h0M260.1 301.1h0M238.6 271.5h0M260.3 288.0h0M258.6 289.1h0M269.4 276.0h0M266.1 276.7h0M252.5 294.0h0M240.5 274.6h0M269.6 301.8h0M259.2 260.5h0M253.2 297.6h0M261.1 307.6h0M243.2 306.1h0M250.2 293.4h0M266.9 291.5h0M237.1 275.8h0M243.5 300.9h0M249.0 303.6h0M243.7 264.0h0M250.4 287.6h0M252.9 282.2h0M276.1 299.6h0M241.2 265.1h0M260.8 279.8h0M269.1 293.3h0M264.3 303.5h0M249.1 268.3h0M267.0 296.2h0M248.0 301.8h0M247.9 277.2h0M255.0 263.9h0M272.0 292.2h0M237.9 268.4h0M246.1 269.8h0M247.0 299.8h0M264.9 298.9h0M272.6 304.7h0M253.1 281.5h0M242.8 300.2h0M263.1 300.8h0M254.8 263.9h0M240.1 276.6h0M246.9 275.2h0M255.7 296.1h0M254.8 267.9h0M246.9 285.9h0M246.5 259.5h0M254.6 286.6h0M272.6 303.4h0M266.1 276.0h0M265.4 271.6h0M247.4 299.7h0M257.6 296.5h0M251.5 288.3h0M254.8 291.1h0M263.8 301.6h0M256.1 299.2h0M243.5 270.4h0M259.4 301.8h0M263.5 292.7h0M263.5 267.8h0M259.6 259.6h0M257.9 290.7h0M270.0 284.7h0M259.4 307.0h0M258.9 300.6h0M246.8 296.1h0M253.8 255.9h0M251.0 291.9h0M264.4 274.4h0M261.1 297.6h0M254.1 264.3h0M266.2 289.0h0M248.5 292.1h0M247.5 291.9h0M255.9 258.0h0M247.8 283.7h0M250.3 274.0h0M264.9 295.4h0M246.0 292.0h0M249.3 278.3h0M244.7 292.2h0M269.9 305.7h0M268.7 304.4h0M244.2 302.1h0M262.0 266.3h0M268.4 281.6h0M250.9 257.1h0M248.7 271.5h0M255.3 285.4h0M273.2 294.6h0M268.0 300.5h0M238.3 290.4h0M264.6 297.9h0M258.4 300.6h0M258.5 288.0h0M251.2 295.2h0M266.4 274.5h0M261.0 261.4h0M236.6 273.8h0M264.4 290.1h0M266.7 290.0h0M243.5 297.3h0M260.9 255.1h0M250.7 273.7h0M250.7 286.4h0M245.9 307.6h0M237.1 267.4h0M261.3 286.9h0M247.1 288.6h0M253.7 303.1h0M254.5 277.5h0M248.4 304.2h0M258.5 277.4h0M260.0 297.7h0M271.9 285.3h0M246.6 288.8h0M259.8 308.1h0M261.4 298.0h0M249.6 260.4h0M263.1 278.5h0M243.3 275.6h0M264.0 306.1h0M248.5 262.9h0M270.1 283.5h0M250.7 258.8h0M267.1 306.4h0M264.3 266.3h0M265.0 308.6h0M255.7 293.6h0M255.8 264.4h0M241.7 272.4h0M251.1 299.9h0M252.5 290.1h0M249.9 298.7h0M267.7 307.4h0M260.4 275.4h0M239.8 272.5h0M262.6 291.3h0M259.4 283.9h0M261.6 278.5h0M262.7 305.3h0M260.8 302.4h0M254.1 304.3h0M259.3 266.8h0M245.0 267.7h0M242.9 275.0h0M241.9 302.4h0M255.2 291.3h0M245.6 279.9h0M256.3 281.0h0M262.0 294.1h0M270.9 284.6h0M239.5 280.1h0M254.1 270.7h0M251.5 270.8h0M247.3 263.2h0M250.6 307.8h0M259.6 291.9h0M250.9 275.8h0M254.2 299.2h0M272.1 290.5h0M254.4 303.2h0M264.0 270.8h0M259.0 294.3h0M238.9 302.2h0M240.8 260.3h0M256.0 297.3h0M260.3 285.3h0M240.9 291.1h0M242.6 267.3h0M259.7 305.3h0M266.4 306.4h0M256.6 267.3h0M261.7 259.8h0M243.7 263.5h0M255.6 305.8h0M273.6 302.5h0M261.7 283.5h0M268.0 271.1h0M253.2 259.0h0M259.6 289.5h0M236.7 270.7h0M249.3 298.2h0M267.5 288.6h0M258.2 269.4h0M264.2 265.8h0M240.7 294.6h0M240.7 273.7h0M260.6 306.7h0M274.8 295.0h0M265.7 291.9h0M251.8 278.2h0M259.4 298.9h0M261.0 306.0h0M245.3 299.6h0M269.9 293.6h0M270.5 305.3h0M256.4 276.1h0M259.6 288.3h0M254.5 291.4h0M249.2 266.6h0M261.7 259.2h0M243.8 270.7h0M256.1 307.1h0M242.6 267.5h0M243.2 291.9h0M252.9 293.3h0M253.3 299.1h0M274.9 297.8h0M268.3 289.9h0M259.1 259.2h0M244.4 291.1h0M238.8 301.4h0M242.9 270.6h0M242.8 287.9h0M236.8 273.6h0M268.8 306.2h0M243.4 294.3h0M243.8 271.5h0M251.9 281.6h0M248.3 300.2h0M248.6 270.0h0M239.7 278.8h0M245.8 269.5h0M256.8 262.9h0M248.9 270.6h0M261.5 268.8h0M257.8 259.5h0M238.7 283.9h0M263.2 301.2h0M263.8 280.4h0M249.9 305.5h0M251.3 306.2h0M269.7 293.3h0M247.5 286.4h0M261.9 256.8h0M263.7 265.0h0M255.4 285.8h0M262.7 281.3h0M252.2 264.1h0M251.5 256.0h0M239.0 271.4h0M261.7 285.1h0M254.4 300.1h0M242.7 280.1h0M270.3 305.9h0M267.3 292.1h0M244.9 258.8h0M245.0 308.2h0M246.8 292.5h0M252.1 288.2h0M246.9 283.3h0M260.1 277.1h0M237.4 277.5h0M251.4 302.3h0M248.5 282.0h0M267.1 284.5h0M236.5 269.2h0M266.8 295.2h0M253.6 285.2h0M273.6 293.2h0M237.1 279.8h0M254.5 289.5h0M267.8 290.8h0M243.7 287.1h0M255.4 297.0h0M271.0 295.3h0M262.8 258.3h0M248.2 270.8h0M252.0 259.7h0M260.7 293.8h0M268.3 270.4h0M271.3 290.3h0M261.6 302.8h0M252.2 308.1h0M266.9 307.5h0M275.9 301.3h0M244.8 288.6h0M263.8 293.2h0M256.0 280.9h0M259.1 279.3h0M273.8 287.6h0M259.8 256.6h0M254.8 286.5h0M256.9 288.6h0M237.5 268.4h0M243.1 289.3h0M273.8 301.5h0M257.4 288.7h0M273.4 282.1h0M268.3 282.4h0M256.8 305.8h0M263.6 293.7h0M261.6 274.6h0M267.0 259.6h0M249.6 283.1h0M267.0 308.2h0M246.3 260.3h0M249.8 290.9h0M278.0 299.5h0M259.3 268.5h0M236.0 274.0h0M259.0 269.8h0M250.4 292.0h0M258.0 274.8h0M260.4 306.6h0M253.0 290.3h0M246.5 263.6h0M258.8 276.5h0M246.7 292.3h0M255.6 300.2h0M237.1 268.7h0M259.6 289.7h0M267.0 260.8h0M250.1 260.9h0M249.9 271.2h0M244.8 292.7h0M247.8 264.0h0M257.6 298.1h0M250.6 273.3h0M259.3 280.6h0M273.8 298.9h0M239.4 281.7h0M247.6 294.9h0M254.4 258.6h0M251.3 283.3h0M258.7 274.3h0M243.3 272.8h0M243.1 269.9h0M247.3 280.8h0M255.1 267.5h0M265.1 267.8h0M259.1 300.8h0M268.9 302.4h0M268.2 298.5h0M259.5 297.9h0M256.3 265.1h0M257.9 278.9h0M269.3 306.0h0M259.7 267.5h0M247.4 272.1h0M237.1 272.7h0M240.5 297.2h0M248.5 283.1h0M245.2 291.1h0M257.0 303.5h0M268.7 265.6h0M263.4 290.1h0M273.5 301.7h0M258.6 262.5h0M257.6 255.4h0M272.7 286.9h0M272.3 301.3h0M254.9 305.0h0M250.4 287.8h0M266.1 274.4h0M245.2 262.0h0M243.6 279.2h0M243.5 266.2h0M241.9 298.9h0M255.2 284.6h0M239.5 266.0h0M260.9 274.9h0M261.4 281.9h0M253.5 290.4h0M246.3 271.2h0M270.7 287.3h0M239.9 279.4h0M271.7 301.0h0M265.0 274.8h0M265.2 288.8h0M275.6 293.1h0M270.3 300.7h0M258.2 304.9h0M270.8 303.2h0M254.3 274.0h0M241.2 302.3h0M242.7 272.8h0M243.7 262.7h0M241.6 296.2h0M268.5 283.4h0M254.2 270.0h0M265.9 293.9h0M254.1 269.6h0M264.0 296.0h0M266.0 261.0h0M262.0 265.9h0M252.3 283.6h0M268.5 288.8h0M265.8 289.9h0M270.9 285.3h0M253.3 256.5h0M244.4 287.2h0M252.4 282.6h0M277.5 297.6h0M277.2 298.0h0M266.7 281.0h0M247.4 261.2h0M265.8 299.8h0M260.2 303.0h0M239.6 293.0h0M267.0 277.7h0M236.7 269.6h0M246.1 264.1h0M262.9 281.5h0M263.5 264.4h0M269.4 306.3h0M268.3 284.1h0M258.1 280.8h0M258.5 301.7h0M267.0 297.0h0" stroke="#c6409f" stroke-width="1.1" stroke-linecap="round" fill="none"/>
<path d="M239.1 307.4h0M240.9 306.5h0M240.9 308.8h0M239.1 308.3h0M240.4 308.5h0" stroke="#4f52a8" stroke-width="1.1" stroke-linecap="round" fill="none"/>
<path d="M239.6 307.7h0M241.6 308.0h0M240.4 306.4h0" stroke="#4f52a8" stroke-width="1.1" stroke-linecap="round" fill="none"/>
<path d="M275.3 310.8h0M275.0 312.3h0M271.4 310.9h0M271.3 315.9h0M273.8 313.3h0M272.2 314.2h0M272.8 311.4h0M271.3 314.7h0M276.5 311.3h0M276.9 316.3h0M267.9 318.4h0" stroke="#4f52a8" stroke-width="1.1" stroke-linecap="round" fill="none"/>
<path d="M236.0 249.7h0M232.7 266.4h0M245.3 264.9h0M244.4 260.9h0M249.6 259.2h0M246.2 256.0h0M231.5 256.6h0M250.1 251.8h0M245.2 265.6h0M240.8 254.2h0M237.0 264.4h0M241.0 261.5h0M242.8 253.2h0M241.9 265.9h0M245.4 250.9h0M236.8 258.0h0M243.2 250.4h0M240.3 249.7h0M234.7 263.6h0M229.5 263.3h0M239.9 252.6h0M240.6 255.2h0M241.9 256.4h0M233.8 257.9h0M243.8 262.4h0M233.0 251.5h0M241.6 262.2h0M244.8 252.7h0M240.4 255.7h0M245.6 251.9h0M242.5 253.2h0M243.3 259.5h0M243.1 253.1h0M237.1 266.3h0M235.7 254.1h0M238.7 266.5h0M238.8 260.3h0M241.8 265.6h0M236.9 256.7h0M240.2 262.0h0M236.8 263.4h0M232.0 251.5h0M244.1 250.9h0M229.2 255.9h0M241.9 257.5h0M250.0 256.2h0M238.6 261.3h0M242.4 256.5h0M240.0 258.8h0M241.0 252.4h0M244.5 249.7h0M248.9 255.7h0M248.2 263.3h0M238.6 250.2h0M239.7 259.6h0M242.7 257.1h0M248.0 262.8h0M235.2 261.7h0M241.6 259.3h0M243.1 265.7h0M236.4 264.9h0M238.4 258.8h0M236.9 269.1h0M240.9 261.5h0M231.6 256.1h0M233.8 267.3h0M232.6 263.6h0M241.0 252.0h0M241.5 257.8h0M238.9 255.3h0M236.9 256.6h0M232.2 254.4h0M250.2 257.5h0M245.1 267.0h0M247.4 256.1h0M244.6 251.4h0M243.5 256.0h0M241.3 256.0h0M243.1 262.1h0M247.5 267.0h0M233.0 259.9h0M232.8 264.5h0M233.7 249.6h0M231.8 257.7h0M240.0 249.9h0M239.5 262.2h0M227.9 256.2h0M242.8 253.2h0M232.9 255.2h0M243.3 258.1h0M238.8 250.5h0M239.2 250.6h0M246.7 253.5h0M229.5 258.7h0M247.5 257.1h0M250.5 263.6h0M247.3 260.9h0M231.6 253.5h0M228.4 251.0h0M232.9 260.7h0M229.1 254.2h0M232.2 265.7h0M246.0 253.2h0M246.0 261.2h0M247.2 258.3h0M231.1 264.0h0M246.3 262.9h0M233.4 258.6h0M241.5 266.2h0M229.6 258.7h0M234.4 260.7h0M248.3 262.1h0M230.5 256.3h0M243.9 265.4h0M248.4 260.4h0M244.0 264.8h0M245.4 250.4h0M231.8 251.6h0M239.7 260.0h0M237.5 255.4h0M241.6 263.2h0M240.2 261.3h0M245.5 267.1h0M245.4 259.4h0M237.9 261.2h0M238.0 264.1h0M240.7 250.6h0M241.6 258.8h0M231.8 259.8h0M228.9 258.7h0M239.0 248.8h0M233.1 257.1h0M240.0 249.0h0M250.2 264.1h0M246.4 250.0h0M243.5 253.8h0M237.9 267.0h0M247.9 267.5h0M232.2 261.1h0M246.9 254.3h0M250.4 259.5h0M246.5 266.3h0M245.9 256.2h0M234.5 255.8h0M242.9 264.8h0M232.4 259.9h0M231.3 253.3h0M251.1 260.8h0M244.0 253.1h0M241.4 254.9h0M242.5 258.9h0M238.7 252.1h0M250.5 259.4h0M247.0 261.6h0M230.5 250.7h0M241.0 264.9h0M230.3 255.2h0M236.2 257.9h0M244.5 251.1h0M236.0 258.2h0M230.7 259.4h0M239.2 262.1h0M248.6 254.9h0M238.1 251.8h0" stroke="#2f9bd6" stroke-width="1.1" stroke-linecap="round" fill="none"/>
<path d="M285.8 258.8h0M274.0 267.2h0M275.3 257.2h0M269.9 273.6h0M286.6 274.7h0M284.6 268.4h0M286.6 268.3h0M277.7 276.6h0M290.5 268.3h0M280.4 267.5h0M270.4 273.0h0M274.2 280.2h0M271.5 260.8h0M274.9 276.9h0M273.1 263.6h0M291.1 258.1h0M280.5 270.7h0M288.0 256.5h0M288.4 268.5h0M279.2 262.5h0M283.7 269.4h0M281.8 274.9h0M275.8 281.7h0M282.2 263.1h0M269.9 266.8h0M275.2 277.9h0M288.2 262.2h0M274.0 257.9h0M274.4 257.6h0M273.8 268.3h0M288.5 263.6h0M285.2 265.8h0M286.3 258.3h0M289.8 262.3h0M273.1 269.4h0M286.8 258.5h0M272.7 258.0h0M288.2 263.8h0M285.7 263.1h0M277.3 264.9h0M279.3 262.6h0M284.4 278.9h0M274.0 268.3h0M282.0 280.6h0M272.1 269.3h0M285.8 268.9h0M267.3 264.6h0M273.9 266.3h0M292.4 262.4h0M278.0 272.6h0M277.0 267.2h0M284.6 277.1h0M271.1 273.0h0M276.0 272.3h0M282.5 265.9h0M281.0 277.9h0M283.2 272.8h0M276.8 263.8h0M270.4 272.1h0M289.1 258.1h0M274.8 258.1h0M274.1 261.7h0M286.9 255.7h0M284.4 281.0h0M268.6 269.3h0M282.1 259.3h0M276.8 280.5h0M274.5 262.0h0M285.0 262.6h0M281.6 269.7h0M289.6 267.5h0M285.8 270.0h0M276.2 261.0h0M284.7 263.3h0M290.4 262.8h0M282.2 258.8h0M268.4 261.3h0M283.0 273.8h0M274.5 271.6h0M272.3 275.0h0M280.1 262.5h0M278.3 281.3h0M278.1 264.5h0M287.5 275.4h0M273.2 268.0h0M286.8 273.5h0M287.7 256.0h0M285.2 272.7h0M274.9 279.2h0M285.5 257.0h0M279.2 263.5h0M283.9 277.2h0M275.9 258.9h0M277.2 259.6h0M287.1 270.5h0M284.3 260.8h0M272.9 272.3h0M284.4 264.6h0M291.9 262.5h0M285.7 277.2h0M278.2 277.8h0M278.6 277.9h0M291.0 261.6h0M275.5 272.8h0M272.6 260.5h0M286.3 278.4h0M284.9 271.7h0M287.5 262.1h0M286.5 259.7h0M285.9 272.3h0M278.3 263.1h0M289.7 266.3h0M287.7 270.0h0M291.4 259.6h0M269.7 260.9h0M280.9 276.0h0M278.6 265.2h0M278.3 280.1h0M289.9 264.2h0M287.4 262.9h0M282.5 275.3h0M283.0 263.7h0M272.5 265.1h0M284.1 262.8h0M271.7 260.7h0M279.6 282.1h0M276.2 269.6h0M275.7 271.3h0M275.0 273.5h0M278.0 276.6h0M280.0 263.0h0M292.0 258.1h0M275.8 266.1h0M267.9 259.7h0M271.8 274.8h0M280.6 276.0h0M270.1 273.5h0M283.3 267.9h0M284.3 264.4h0M277.3 267.6h0M286.0 267.2h0M274.4 261.6h0M282.0 275.0h0M282.3 280.3h0M274.4 258.3h0M273.8 271.5h0M271.5 269.0h0M275.4 275.9h0M284.0 271.7h0M284.3 277.4h0M273.7 271.5h0M277.3 271.5h0M267.7 262.6h0M274.3 267.6h0M267.8 274.5h0M269.4 260.8h0M277.2 260.1h0M274.7 269.2h0M271.7 263.9h0M270.6 259.4h0M274.3 263.0h0M272.3 261.2h0M284.4 258.4h0M274.5 259.0h0M274.9 257.5h0M277.9 260.5h0M278.6 273.7h0M271.9 274.3h0M283.5 268.8h0M275.3 259.3h0M274.1 259.7h0M279.7 283.0h0M273.4 261.8h0M288.2 273.7h0M287.1 268.6h0M270.0 270.8h0M289.1 269.0h0M284.9 270.4h0M278.4 280.3h0M277.5 276.3h0M286.1 273.3h0M276.5 261.1h0M274.0 281.4h0M281.1 278.1h0M270.4 270.3h0M286.8 269.3h0M282.5 267.4h0M269.2 260.7h0M283.4 264.8h0M276.5 277.1h0M280.6 272.1h0M268.1 267.9h0M285.9 269.0h0M266.2 263.9h0M270.3 274.0h0M285.1 262.9h0M286.4 261.9h0M291.4 267.0h0M282.1 260.3h0M283.8 266.4h0M271.8 259.4h0M280.7 257.3h0M275.7 266.1h0M271.9 265.3h0M290.2 263.0h0M277.5 259.8h0M271.6 261.6h0M282.4 267.1h0" stroke="#7bc25a" stroke-width="1.1" stroke-linecap="round" fill="none"/>
<path d="M268.9 265.6h0M263.5 269.5h0M265.9 260.0h0M266.7 263.0h0M265.0 266.7h0M263.3 264.9h0M269.4 268.9h0M265.0 268.7h0" stroke="#7bc25a" stroke-width="1.1" stroke-linecap="round" fill="none"/>
<path d="M225.5 250.4h0M213.0 253.8h0M213.2 252.5h0M212.0 250.9h0M229.7 245.6h0M215.7 257.6h0M216.7 260.8h0M227.6 261.4h0M220.2 251.8h0M228.7 254.3h0M218.7 254.0h0M225.1 254.8h0M223.0 250.1h0M215.0 248.9h0M221.6 260.3h0M230.5 252.9h0M229.7 243.6h0M216.7 257.5h0M224.7 237.6h0M216.4 259.4h0M226.2 252.9h0M221.6 244.1h0M214.3 251.8h0M217.2 246.1h0M221.3 255.8h0M223.1 243.9h0M227.3 251.4h0M222.5 239.3h0M215.1 260.6h0M226.5 233.6h0M226.8 260.5h0M230.4 240.9h0M230.1 236.4h0M215.6 263.1h0M218.1 246.8h0M217.5 254.3h0M210.0 259.9h0M217.3 256.7h0M227.0 236.1h0M217.2 262.2h0M228.9 260.3h0M220.9 255.6h0M224.6 235.2h0M211.9 258.3h0M227.6 257.2h0M221.4 251.6h0M223.7 255.6h0M217.8 253.3h0M227.2 237.7h0M219.3 262.5h0M216.3 249.4h0M231.4 246.4h0M223.7 237.1h0M223.0 252.8h0M227.6 257.8h0M224.7 261.1h0M215.2 255.8h0M225.7 248.7h0M229.8 244.4h0M223.1 253.9h0M228.0 256.5h0M223.9 237.0h0M224.7 257.1h0M220.8 243.6h0M226.3 254.2h0M223.3 255.9h0M217.3 262.4h0M228.7 248.3h0M224.6 259.7h0M213.6 262.2h0M225.6 249.0h0M222.6 254.4h0M214.2 257.3h0M225.6 251.7h0M226.1 258.6h0M211.2 262.3h0M212.4 248.3h0M213.3 257.1h0M218.8 248.3h0M221.1 245.4h0M226.2 250.5h0M230.5 251.0h0M229.4 246.4h0M218.4 251.1h0M227.2 248.7h0M222.7 254.4h0M227.2 249.9h0M212.7 263.8h0M222.2 243.1h0M214.7 253.4h0M216.3 245.8h0M221.3 243.3h0M228.3 238.5h0M226.2 241.9h0M216.0 254.1h0M224.1 249.2h0M225.3 235.8h0M221.8 255.7h0M227.4 246.2h0M228.3 242.1h0M230.9 244.8h0M228.5 255.6h0M230.0 240.8h0M219.1 242.8h0M222.6 238.1h0M221.8 252.3h0M222.8 239.9h0M220.0 252.6h0M211.1 261.4h0M220.9 261.4h0M219.4 260.8h0M212.3 261.9h0M221.6 245.9h0M225.7 256.5h0M224.5 239.2h0M216.9 245.0h0M226.3 245.5h0M229.0 251.2h0M228.2 249.3h0M229.7 250.8h0M220.5 247.7h0M226.4 235.6h0M216.8 251.5h0M218.6 250.7h0M219.2 246.5h0M219.9 242.3h0M212.8 252.4h0M228.3 250.8h0M213.4 253.3h0M213.1 259.6h0M225.1 257.0h0M227.8 244.5h0M215.9 249.2h0M221.4 260.0h0M225.3 246.2h0M228.5 239.3h0M214.3 251.9h0M223.8 244.7h0M224.3 245.1h0M221.6 239.7h0M224.2 261.7h0M228.0 238.9h0M215.9 253.0h0M228.1 234.4h0M227.1 246.6h0M227.5 256.9h0M214.3 250.0h0M226.3 256.3h0M221.6 260.9h0M220.6 253.1h0M212.0 254.4h0M226.2 239.7h0M226.9 260.0h0M224.8 261.9h0M217.7 245.9h0M217.0 262.3h0M221.0 260.1h0M218.5 248.6h0M222.0 247.9h0M229.8 254.7h0M220.8 262.9h0M223.0 254.8h0M223.7 251.4h0M216.1 260.9h0M221.4 258.1h0M219.5 246.6h0M227.8 247.7h0M222.5 260.6h0M229.5 255.7h0M223.2 255.4h0M212.0 260.7h0M212.3 250.5h0M213.7 257.0h0" stroke="#5cb96c" stroke-width="1.1" stroke-linecap="round" fill="none"/>
<path d="M240.3 287.4h0M235.1 285.6h0M240.1 301.7h0M239.1 289.7h0M239.0 269.6h0M240.1 289.7h0M234.6 273.3h0M237.0 273.4h0M237.2 279.3h0M244.8 288.4h0M234.7 291.4h0M236.9 299.0h0M238.2 301.7h0M239.4 279.6h0M235.7 273.3h0M240.7 298.0h0M237.3 283.3h0M241.6 299.5h0M241.2 292.4h0M237.7 275.3h0M233.7 282.5h0M242.2 296.5h0M236.5 285.1h0M237.4 273.4h0M242.1 298.9h0M238.6 277.9h0M236.3 272.7h0M235.7 289.5h0M235.3 286.9h0M236.1 272.1h0M242.9 302.5h0M237.4 287.7h0M240.9 301.6h0M237.9 274.0h0M237.5 281.8h0M241.5 301.0h0M240.8 276.1h0M241.2 300.7h0M237.9 287.6h0M239.2 283.0h0M238.3 287.8h0M238.2 304.5h0M240.5 292.3h0M239.7 281.5h0M238.3 281.8h0M241.8 298.4h0M239.6 278.6h0M238.1 269.5h0M238.9 287.5h0M240.8 294.7h0M244.2 285.4h0M240.0 269.6h0M241.9 284.2h0M238.7 277.0h0M240.3 279.2h0M238.6 290.2h0M239.0 294.5h0M236.4 291.8h0M238.4 303.3h0M237.3 277.4h0M238.4 293.6h0M238.6 300.8h0M239.1 282.9h0M239.1 283.2h0M234.8 272.3h0M240.7 276.6h0M238.3 287.7h0M238.8 301.4h0M237.7 302.2h0M240.2 274.5h0M236.0 291.9h0M235.8 295.9h0M238.5 295.9h0M239.6 284.2h0M236.0 296.4h0M239.8 281.5h0M237.3 297.0h0M240.2 291.4h0M236.0 272.3h0M241.2 286.0h0M236.7 276.7h0M240.1 278.3h0M237.9 278.9h0M241.3 277.0h0M234.2 280.0h0M235.0 280.1h0M243.2 289.2h0M237.8 291.7h0M239.0 272.1h0M240.3 269.3h0M236.3 274.7h0M241.3 285.2h0M240.2 270.2h0M234.9 275.7h0M235.1 289.8h0M241.9 278.8h0M239.7 287.3h0M235.0 282.2h0M237.5 278.6h0M240.4 279.7h0M240.2 291.3h0M236.1 300.8h0" stroke="#ffffff" stroke-width="1.0" stroke-linecap="round" fill="none"/>
<path d="M214.6 252.0h0M225.2 246.0h0M225.8 247.7h0M214.7 239.2h0M226.5 251.4h0M225.9 244.5h0M222.9 251.8h0M216.5 252.5h0M228.9 254.3h0M219.1 252.5h0M223.6 239.0h0M221.2 239.2h0M220.8 245.9h0M223.5 249.4h0M217.4 256.7h0M221.0 249.5h0M219.1 239.6h0M217.0 246.0h0M225.6 242.4h0M216.5 251.1h0M224.9 249.2h0M222.6 249.0h0M225.3 245.8h0M218.6 246.6h0M214.9 249.3h0M217.7 248.2h0M220.4 252.5h0M222.7 253.1h0M220.3 246.6h0M217.4 257.3h0M219.1 252.4h0M219.4 254.9h0M223.8 250.8h0M223.9 237.4h0M220.9 238.6h0M218.7 242.5h0M223.4 251.6h0M214.6 254.7h0M223.8 256.6h0M219.7 249.4h0M217.6 253.3h0M217.0 246.7h0M220.9 255.2h0" stroke="#ffffff" stroke-width="1.0" stroke-linecap="round" fill="none"/>
<line x1="376.6" y1="213.2" x2="376.6" y2="326.7" stroke="#231f20" stroke-width="1" />
<line x1="376.1" y1="326.2" x2="478.5" y2="326.2" stroke="#231f20" stroke-width="1" />
<line x1="373.8" y1="216.2" x2="376.6" y2="216.2" stroke="#231f20" stroke-width="0.8" />
<text x="371" y="218.39999999999998" font-size="6.3" text-anchor="end" fill="#231f20" font-weight="normal" font-style="normal" stroke="#231f20" stroke-width="0.2" >5</text>
<line x1="373.8" y1="268" x2="376.6" y2="268" stroke="#231f20" stroke-width="0.8" />
<text x="371" y="270.2" font-size="6.3" text-anchor="end" fill="#231f20" font-weight="normal" font-style="normal" stroke="#231f20" stroke-width="0.2" >0</text>
<line x1="373.8" y1="322" x2="376.6" y2="322" stroke="#231f20" stroke-width="0.8" />
<text x="371" y="324.2" font-size="6.3" text-anchor="end" fill="#231f20" font-weight="normal" font-style="normal" stroke="#231f20" stroke-width="0.2" >−5</text>
<line x1="379.8" y1="326.2" x2="379.8" y2="329" stroke="#231f20" stroke-width="0.8" />
<text x="379.8" y="338.4" font-size="6.3" text-anchor="middle" fill="#231f20" font-weight="normal" font-style="normal" stroke="#231f20" stroke-width="0.2" >−20</text>
<line x1="427.4" y1="326.2" x2="427.4" y2="329" stroke="#231f20" stroke-width="0.8" />
<text x="427.4" y="338.4" font-size="6.3" text-anchor="middle" fill="#231f20" font-weight="normal" font-style="normal" stroke="#231f20" stroke-width="0.2" >0</text>
<line x1="475.6" y1="326.2" x2="475.6" y2="329" stroke="#231f20" stroke-width="0.8" />
<text x="475.6" y="338.4" font-size="6.3" text-anchor="middle" fill="#231f20" font-weight="normal" font-style="normal" stroke="#231f20" stroke-width="0.2" >20</text>
<text x="408" y="350.6" font-size="8.8" text-anchor="start" fill="#231f20" font-weight="normal" font-style="normal" stroke="#231f20" stroke-width="0.2" textLength="39.3" lengthAdjust="spacingAndGlyphs" >Component 1</text>
<text x="0" y="0" font-size="8.8" text-anchor="middle" fill="#231f20" stroke="#231f20" stroke-width="0.2" textLength="38.6" lengthAdjust="spacingAndGlyphs" transform="translate(357.8,269.9) rotate(-90)">Component 2</text>
<defs><linearGradient id="pt" x1="0" y1="0" x2="0" y2="1"><stop offset="0" stop-color="#e8e2e0"/><stop offset="0.3" stop-color="#f4b292"/><stop offset="0.55" stop-color="#f08052"/><stop offset="0.8" stop-color="#d8403c"/><stop offset="1" stop-color="#bc1028"/></linearGradient></defs>
<rect x="497.7" y="239.8" width="5.2" height="53.8" fill="url(#pt)"/>
<text x="506.2" y="241.4" font-size="6.3" text-anchor="start" fill="#231f20" font-weight="normal" font-style="normal" stroke="#231f20" stroke-width="0.2" >0</text>
<text x="506.2" y="269.6" font-size="6.3" text-anchor="start" fill="#231f20" font-weight="normal" font-style="normal" stroke="#231f20" stroke-width="0.2" >20</text>
<text x="506.2" y="295.2" font-size="6.3" text-anchor="start" fill="#231f20" font-weight="normal" font-style="normal" stroke="#231f20" stroke-width="0.2" >40</text>
<text x="0" y="0" font-size="8.8" text-anchor="middle" fill="#231f20" stroke="#231f20" stroke-width="0.2" textLength="34.1" lengthAdjust="spacingAndGlyphs" transform="translate(493.3,267.4) rotate(-90)">Pseudotime</text>
<path d="M390.7 222.5h0M391.1 223.0h0M387.9 217.7h0M388.5 223.0h0M389.9 222.5h0M386.2 219.3h0M386.9 223.0h0M387.6 221.3h0M388.7 218.7h0M389.5 221.4h0M389.2 226.0h0M392.0 225.4h0M390.8 221.6h0M390.3 222.6h0M389.6 219.1h0M391.1 225.6h0M388.2 218.5h0M391.5 226.7h0M387.2 225.0h0M387.2 220.1h0M390.5 223.0h0M390.5 223.1h0M391.5 222.9h0M389.4 226.1h0M386.6 220.9h0M390.3 224.1h0M390.8 222.6h0M389.4 224.3h0M392.3 225.0h0M390.5 220.1h0M387.8 222.2h0M389.7 218.4h0M388.0 218.0h0M390.3 223.4h0M387.5 226.7h0M387.5 221.1h0M390.2 220.4h0M388.7 226.9h0M389.4 223.2h0M388.1 225.7h0M391.3 222.4h0M389.1 224.8h0M390.6 226.2h0M389.1 218.0h0M388.6 220.2h0M389.5 223.2h0M386.9 222.2h0M390.3 220.2h0M389.5 220.0h0M390.5 223.7h0M387.9 223.7h0M389.8 227.3h0M388.0 226.7h0M389.5 223.0h0M386.5 218.9h0M386.7 223.0h0M389.1 220.5h0M389.6 224.9h0M387.9 223.9h0M388.1 221.1h0M387.1 224.6h0M386.5 217.8h0M387.0 220.3h0M389.3 218.5h0M389.8 218.2h0M389.7 218.3h0M390.3 218.7h0M390.3 221.5h0M390.7 222.9h0M387.8 224.6h0M389.5 225.8h0M389.8 222.1h0M388.3 223.3h0M390.8 226.6h0M390.2 224.3h0M391.3 223.3h0M388.5 221.4h0M389.3 220.2h0M390.2 220.7h0M389.9 226.1h0M387.6 218.6h0M386.9 218.7h0" stroke="#d8d2d0" stroke-width="0.95" stroke-linecap="round" fill="none"/>
<path d="M391.7 234.7h0M389.8 231.5h0M389.2 229.8h0M391.1 233.7h0M392.2 232.8h0M397.1 244.2h0M390.9 232.5h0M391.2 234.8h0M391.7 227.7h0M389.1 233.2h0M393.0 234.3h0M396.3 242.2h0M390.2 233.8h0M392.3 231.1h0M396.5 244.6h0M397.0 244.0h0M394.1 243.2h0M391.0 236.2h0M392.7 233.7h0M392.0 228.2h0M391.8 231.8h0M395.2 242.8h0M394.9 238.6h0M391.1 230.8h0M391.7 226.7h0M388.3 229.0h0M394.1 235.6h0M394.3 238.3h0M395.4 240.1h0M389.9 233.4h0M389.4 231.6h0M390.0 228.3h0M392.1 233.6h0M392.4 236.1h0M390.5 233.9h0M395.1 241.3h0M388.8 228.0h0M388.8 231.1h0M397.3 245.0h0M391.0 230.1h0M393.5 239.2h0M389.6 232.6h0M391.7 236.6h0M395.4 241.6h0M393.4 239.4h0M389.7 229.8h0M391.4 233.8h0M391.2 231.5h0M396.1 244.3h0M391.1 234.8h0M393.6 234.9h0M391.6 226.9h0M392.1 236.3h0M390.0 228.0h0M395.1 238.5h0M395.9 244.4h0M388.6 227.9h0M392.7 234.5h0M391.7 228.0h0M395.9 242.6h0M396.3 241.6h0M390.5 234.3h0M388.9 229.9h0M389.1 230.8h0M392.2 237.5h0M392.3 232.5h0M392.1 234.1h0M397.3 245.2h0M392.5 240.0h0M391.8 232.2h0M390.9 232.1h0M393.8 235.1h0M390.5 229.6h0M390.1 229.3h0M391.3 232.4h0M393.0 236.5h0M392.9 240.0h0M394.7 237.2h0M390.5 229.2h0M395.0 239.7h0M393.6 234.2h0M392.1 230.9h0M394.7 240.2h0M390.8 229.9h0M392.9 232.1h0M391.4 230.6h0M393.4 241.8h0M389.1 228.5h0M391.5 235.0h0M389.4 233.4h0M392.7 233.0h0M389.8 230.2h0" stroke="#decdc4" stroke-width="0.95" stroke-linecap="round" fill="none"/>
<path d="M401.4 250.0h0M400.5 251.7h0M403.1 251.4h0M402.1 250.9h0M399.1 247.1h0M400.0 246.7h0M400.0 250.6h0M397.8 245.7h0M396.5 246.3h0M402.0 251.7h0M401.6 250.1h0M398.1 248.5h0M398.0 248.2h0M400.6 253.1h0M399.4 246.8h0M397.2 247.2h0M397.9 245.3h0M401.7 250.2h0M399.0 249.0h0M396.8 246.0h0M401.3 251.4h0M397.9 248.5h0M399.9 250.4h0M400.5 251.3h0M401.6 251.6h0M400.6 250.4h0M400.2 249.8h0M400.7 250.6h0M398.2 249.0h0M400.3 249.5h0" stroke="#e5c8b9" stroke-width="0.95" stroke-linecap="round" fill="none"/>
<path d="M400.4 249.2h0M402.1 252.4h0M401.8 253.4h0M400.7 251.2h0M402.3 257.3h0M401.8 251.8h0M402.3 253.2h0M401.5 254.6h0M400.7 251.2h0M400.8 250.0h0M401.6 254.0h0M400.9 250.7h0M401.7 258.0h0M402.4 252.4h0M400.8 248.9h0" stroke="#f1ad8a" stroke-width="0.95" stroke-linecap="round" fill="none"/>
<path d="M402.0 250.5h0M405.3 251.9h0M403.5 249.5h0M401.8 249.7h0M402.9 250.0h0M404.8 256.1h0M402.8 251.7h0M405.1 251.1h0M405.5 252.8h0M403.2 254.7h0M403.3 253.5h0M404.0 250.2h0M404.1 255.7h0M404.1 256.7h0M405.4 256.1h0M405.3 255.9h0M404.8 258.3h0M405.7 256.3h0M403.3 253.8h0M402.5 249.4h0M405.6 257.3h0M403.1 249.2h0M404.9 255.9h0M402.2 253.1h0M404.3 256.3h0M404.0 249.0h0M403.8 254.7h0M402.9 254.7h0M404.4 255.2h0M403.2 253.3h0M404.3 248.4h0M405.3 257.3h0M402.7 251.6h0M403.0 254.6h0M403.6 254.8h0M403.7 253.0h0" stroke="#f1a57e" stroke-width="0.95" stroke-linecap="round" fill="none"/>
<path d="M406.4 255.9h0M408.0 257.7h0M405.7 251.4h0M408.3 253.1h0M408.7 258.0h0M405.9 248.2h0M407.8 254.1h0M406.1 252.9h0M408.4 255.7h0M408.1 253.8h0M406.2 251.8h0M408.1 255.1h0M407.1 250.0h0M407.3 249.4h0M408.2 255.2h0M408.9 250.2h0M407.0 255.5h0M407.2 249.9h0M405.4 253.3h0M407.6 249.6h0M407.7 256.3h0M409.0 253.1h0M405.8 249.3h0M408.5 257.0h0M406.9 253.2h0M406.3 257.2h0M406.9 248.2h0M406.7 251.3h0M408.4 251.9h0M408.9 253.9h0M405.4 250.6h0M407.2 257.8h0M406.6 254.1h0M407.5 247.2h0M407.9 252.0h0M407.9 256.5h0M407.5 253.0h0M408.4 251.3h0M406.3 255.2h0M408.4 258.1h0M408.3 256.7h0M404.7 250.3h0M405.4 251.2h0M405.3 253.5h0M408.4 256.9h0M406.5 248.7h0M406.5 249.6h0M408.1 254.2h0M408.1 255.0h0M406.2 249.5h0M406.8 249.0h0M405.5 254.1h0M408.9 252.8h0M408.2 249.2h0M407.7 252.9h0M407.8 249.2h0M407.2 254.6h0M407.2 254.3h0M408.0 251.0h0M408.5 250.8h0M404.8 247.4h0M407.7 253.4h0M408.4 253.1h0M406.3 253.9h0M407.7 248.1h0M406.4 248.0h0M407.5 254.1h0M406.7 249.2h0M407.9 248.9h0M407.4 248.2h0M406.1 248.2h0M405.9 249.1h0M405.1 249.5h0M408.5 256.8h0M405.0 250.4h0M408.3 255.8h0" stroke="#f09d75" stroke-width="0.95" stroke-linecap="round" fill="none"/>
<path d="M395.7 273.2h0M397.0 264.9h0M391.4 283.6h0M395.7 265.5h0M394.0 265.0h0M396.6 262.9h0M392.9 266.0h0M389.2 282.5h0M395.8 274.6h0M394.5 278.9h0M397.6 267.5h0M396.2 267.9h0M396.8 276.8h0M395.9 275.2h0M396.0 271.0h0M390.4 276.3h0M393.4 275.8h0M393.9 264.9h0M390.4 269.8h0M394.0 284.5h0M401.4 260.8h0M391.9 279.0h0M394.8 273.9h0M397.8 267.1h0M396.5 264.9h0M391.3 270.9h0M398.5 267.6h0M396.3 259.6h0M392.8 276.6h0M389.8 284.5h0M394.0 268.8h0M392.8 277.1h0M396.6 275.4h0M396.1 276.2h0M396.0 280.4h0M398.0 265.2h0M398.2 265.0h0M402.0 259.4h0M398.8 266.5h0M395.4 269.7h0M395.9 262.8h0M393.2 270.6h0M397.0 264.6h0M397.9 268.3h0M388.1 280.2h0M389.4 281.6h0M387.2 280.9h0M395.4 266.2h0M398.6 261.4h0M397.6 270.0h0M397.9 257.5h0M399.4 258.9h0M389.0 273.4h0M392.0 274.9h0M396.0 267.2h0M392.7 271.4h0M396.7 269.9h0M393.2 283.8h0M398.5 258.9h0M394.5 284.3h0M391.7 278.2h0M397.3 269.1h0M397.6 267.6h0M393.5 271.9h0M388.1 278.3h0M392.1 273.7h0M397.9 270.2h0M392.5 266.8h0M395.8 259.2h0M393.4 265.9h0M391.4 277.4h0M393.2 278.3h0M396.1 266.7h0M390.2 284.6h0M391.5 281.0h0M394.7 275.7h0M398.2 264.8h0M394.7 265.0h0M393.6 282.7h0M395.0 263.8h0M399.4 262.0h0M396.8 271.6h0M396.2 260.9h0M397.4 265.4h0M397.8 265.8h0M395.2 280.2h0M391.5 279.1h0M393.7 267.4h0M396.0 262.3h0M392.3 268.9h0M396.3 275.4h0M389.9 276.8h0M394.7 265.5h0M396.7 276.6h0M397.1 262.3h0M401.4 261.8h0M388.1 279.7h0M396.7 260.4h0M392.3 271.8h0M394.7 281.4h0M392.1 278.2h0M397.5 269.8h0M389.3 281.9h0M398.8 264.3h0M394.9 265.7h0M394.7 269.5h0M397.1 259.0h0M397.0 273.6h0M388.2 279.1h0M390.5 281.8h0M395.9 260.4h0M396.3 273.9h0M395.3 266.5h0M395.6 266.9h0M396.6 266.2h0M391.3 281.9h0M394.7 270.6h0M393.6 273.7h0M394.3 265.2h0M395.5 279.5h0M395.1 277.4h0M390.4 284.2h0M394.3 266.2h0M394.4 280.5h0M395.9 280.7h0M395.2 284.7h0M390.9 278.5h0M392.1 277.8h0M391.5 272.8h0M389.9 280.2h0M396.6 270.0h0M397.4 265.6h0M398.1 261.0h0M391.1 278.0h0M393.4 280.0h0M394.1 283.5h0M397.4 260.5h0M397.4 271.8h0M392.1 269.0h0M397.8 264.3h0M401.0 258.8h0M396.8 260.1h0M392.0 278.3h0M398.3 266.4h0M388.7 275.5h0M388.7 281.7h0M397.9 261.1h0M394.8 273.0h0M396.0 258.6h0M395.5 271.2h0M395.2 268.3h0M396.1 280.2h0M396.3 267.6h0M400.4 262.9h0M395.7 279.2h0M397.1 273.0h0M395.8 266.4h0M394.9 274.1h0M393.6 278.0h0M393.2 281.6h0M397.7 269.6h0M389.8 275.7h0M390.2 268.8h0M395.7 267.0h0M389.9 269.4h0M395.2 281.5h0M387.8 282.1h0M395.6 261.0h0M395.4 262.1h0M390.4 278.2h0M386.9 283.8h0M395.5 269.9h0M390.8 279.3h0M392.9 265.4h0M390.2 280.3h0M397.7 258.6h0M391.7 277.9h0M395.5 282.7h0M392.0 268.0h0M391.6 275.4h0M394.5 281.2h0M398.0 269.0h0M396.3 275.5h0M394.5 277.5h0M393.9 281.2h0M391.0 278.0h0M397.6 270.0h0M399.1 257.9h0M393.0 268.9h0M391.1 273.1h0M392.3 267.4h0M391.9 270.6h0M390.6 275.6h0M400.3 262.6h0M391.6 272.2h0M398.1 268.2h0M397.9 267.6h0M396.9 266.1h0M397.8 261.8h0M400.8 262.0h0M395.8 279.1h0M392.7 283.9h0M389.6 280.9h0M397.4 264.3h0M400.8 261.7h0M389.2 278.1h0M395.1 267.0h0M395.6 271.2h0M396.1 270.2h0M397.9 257.2h0M393.7 277.3h0M391.3 280.1h0M400.1 264.9h0M392.7 275.7h0M388.2 280.2h0M398.3 264.8h0M392.1 269.7h0M394.4 280.8h0M392.5 281.6h0M390.7 272.5h0M392.5 269.0h0M395.0 266.7h0M393.7 276.0h0M396.2 259.5h0M397.8 265.8h0M397.3 264.2h0M395.6 263.2h0M394.7 265.3h0M387.8 281.7h0M386.6 283.7h0M396.8 267.5h0M395.3 272.0h0M396.3 256.9h0M393.7 262.7h0M398.6 261.4h0M388.3 279.0h0M396.9 260.2h0M395.7 270.3h0M391.3 277.8h0M398.6 259.8h0M392.7 280.8h0M397.1 269.5h0M395.3 267.2h0M389.0 277.6h0M392.4 277.5h0M392.1 269.6h0M391.4 268.7h0M399.0 262.8h0M393.4 272.7h0M398.8 267.3h0M399.2 259.8h0M392.2 283.2h0M393.6 276.3h0M395.3 275.3h0M395.1 271.8h0M391.1 279.9h0M388.0 284.4h0M395.6 282.1h0M396.7 271.1h0M392.2 283.1h0M399.7 258.8h0M393.9 269.7h0M395.2 277.3h0M388.4 281.1h0M395.5 267.7h0M398.0 262.3h0M388.5 281.9h0M396.1 270.7h0M393.5 273.3h0M393.7 277.6h0M396.6 276.6h0M397.3 263.6h0M388.4 283.8h0M395.3 265.7h0M394.0 284.7h0M401.4 261.6h0M392.3 277.2h0M388.3 281.7h0M394.8 268.7h0M396.5 262.8h0M397.0 266.1h0M394.3 275.0h0M395.7 284.5h0M392.6 272.6h0M392.3 281.6h0M391.4 275.5h0M396.3 272.4h0M397.0 261.3h0M400.4 261.0h0M391.8 275.0h0M390.9 273.0h0M394.5 272.2h0M392.6 268.6h0M391.0 281.5h0M388.3 283.2h0M393.5 282.5h0M393.7 268.9h0M393.7 282.6h0M396.4 279.8h0M394.5 265.9h0M397.5 267.2h0M390.7 279.7h0M389.6 283.8h0M392.8 269.5h0M395.2 260.7h0M399.0 261.4h0M396.5 268.5h0M393.5 276.9h0M395.9 260.7h0M391.2 268.5h0M394.9 274.6h0M395.8 267.6h0M398.7 257.9h0M396.7 262.8h0M399.1 265.0h0M396.3 269.6h0M401.0 262.4h0M397.4 264.6h0M399.2 265.1h0M389.6 280.2h0M394.3 270.0h0M397.3 267.9h0M392.7 280.0h0M399.4 263.3h0M398.3 265.9h0M395.9 277.5h0M394.0 269.0h0M393.0 267.2h0M397.3 271.8h0M399.0 258.7h0M386.9 281.6h0M398.9 261.3h0M400.0 262.3h0M394.4 277.5h0M392.4 280.9h0M398.9 260.4h0M397.5 261.3h0M397.0 265.3h0M398.8 260.7h0M400.1 258.8h0M394.6 284.5h0M397.3 265.5h0M395.6 269.0h0M389.7 273.6h0M393.3 268.7h0M391.1 278.1h0M388.8 274.2h0M392.0 272.5h0M399.1 260.6h0M393.2 265.1h0M390.7 279.7h0M394.2 275.1h0M396.1 274.7h0M395.8 259.7h0M398.5 262.6h0M396.2 267.6h0M392.3 271.9h0M392.5 280.7h0M390.3 281.4h0M401.2 259.8h0M391.0 279.0h0M391.7 281.7h0M393.0 278.4h0M391.8 271.2h0M394.7 269.6h0M392.2 279.2h0M389.7 277.0h0M396.6 266.7h0M394.2 281.9h0M395.0 263.1h0M391.5 273.0h0M393.6 281.6h0M400.7 261.4h0M394.6 278.1h0M389.3 273.3h0M390.0 283.1h0M395.8 274.1h0M394.7 265.6h0M397.7 268.5h0M392.6 273.5h0M396.3 276.8h0M397.6 260.1h0M394.1 284.2h0M396.7 271.7h0M395.3 261.3h0M392.1 276.2h0M393.5 268.3h0M390.8 272.3h0M394.6 275.9h0M391.7 279.4h0M396.1 260.8h0M393.0 268.3h0M398.0 261.7h0M394.1 275.8h0M399.9 263.0h0M395.0 271.7h0M391.6 282.8h0M394.2 283.6h0M392.7 266.8h0M389.3 275.6h0M392.5 280.0h0M392.6 275.1h0M389.3 274.9h0M395.7 268.5h0M392.4 275.7h0M398.4 258.8h0M394.7 283.3h0M395.3 268.5h0M394.9 261.6h0M395.0 269.8h0M398.4 257.8h0M389.4 272.4h0M387.4 283.2h0M388.7 279.9h0M393.5 281.8h0M396.8 260.0h0M395.6 275.5h0M399.7 262.1h0M398.6 263.8h0M392.6 268.7h0M397.6 266.1h0M393.1 270.3h0M397.1 260.0h0M396.0 263.1h0M393.8 284.7h0M396.1 283.5h0M395.7 265.3h0M397.1 258.7h0M395.1 271.9h0M397.6 270.2h0M399.8 259.2h0M396.0 265.8h0M390.8 282.8h0M396.3 263.0h0M393.9 275.8h0M388.4 280.0h0M391.7 281.0h0M398.0 266.4h0M394.2 267.4h0M394.7 284.9h0M394.9 278.7h0M398.8 262.2h0M401.2 259.4h0M397.1 264.9h0M395.6 279.7h0M387.4 278.7h0M395.1 271.9h0M392.7 277.7h0M388.6 280.1h0M392.8 283.1h0M391.3 275.3h0M399.2 264.5h0M396.9 264.6h0M397.1 263.4h0M411.2 249.7h0M409.3 248.6h0M409.4 252.3h0M410.2 246.7h0M409.5 247.1h0M411.2 250.9h0M411.2 252.1h0M412.3 251.4h0M412.2 247.4h0M412.1 255.9h0M411.6 257.3h0M409.5 257.8h0M410.4 253.8h0M411.6 257.0h0M408.5 248.0h0M411.0 248.6h0M410.4 253.7h0M412.3 249.1h0M411.5 252.6h0M411.3 255.4h0M411.1 249.9h0M411.3 253.6h0M411.9 251.2h0M409.9 249.7h0M412.8 252.8h0M410.1 254.8h0M410.4 249.6h0M410.3 255.5h0M411.1 248.4h0M409.0 255.3h0M411.0 254.2h0M412.1 255.3h0M411.7 247.2h0M412.8 257.9h0M409.8 251.6h0M408.6 254.1h0M410.0 256.8h0M412.3 251.9h0M411.2 258.1h0M409.3 248.4h0M411.6 252.5h0M410.6 247.5h0M410.5 253.5h0M409.8 253.9h0M410.8 247.3h0M411.2 252.3h0M412.5 257.2h0M408.7 254.3h0M412.5 255.8h0M412.7 256.2h0M409.5 256.2h0M411.7 249.9h0M410.8 254.5h0M410.9 256.3h0M410.7 253.0h0M411.3 251.1h0M409.3 248.2h0M409.8 247.6h0M411.6 249.0h0M411.6 254.4h0M412.6 255.0h0M412.9 257.4h0M410.2 254.6h0M408.8 247.6h0M409.7 251.9h0M410.1 251.1h0M409.3 253.0h0M409.5 248.5h0M412.9 257.1h0M410.9 247.5h0M409.5 252.6h0M411.0 247.7h0M410.7 253.0h0M409.3 248.9h0M410.4 253.6h0M412.2 255.8h0M412.2 254.0h0M409.5 252.5h0M409.6 251.1h0M410.1 257.6h0M412.5 252.6h0M408.8 248.3h0M411.8 251.9h0M411.0 255.3h0M409.6 252.7h0M409.4 252.6h0M410.8 250.1h0M409.6 251.5h0M410.1 251.6h0M411.2 252.9h0M412.3 251.6h0M411.5 248.0h0M410.3 251.8h0M412.1 255.5h0M412.4 252.0h0M410.3 247.5h0M410.3 255.8h0M411.4 255.8h0M411.6 250.8h0M408.3 247.8h0M412.2 251.6h0M409.4 249.7h0M411.4 250.3h0M411.8 254.9h0M412.2 250.7h0" stroke="#ef946d" stroke-width="0.95" stroke-linecap="round" fill="none"/>
<path d="M387.5 295.9h0M387.2 289.8h0M386.0 298.6h0M386.8 310.8h0M386.2 310.5h0M384.4 308.6h0M392.2 292.3h0M385.7 300.7h0M388.6 295.2h0M389.7 286.8h0M386.7 295.3h0M386.2 301.5h0M387.0 305.5h0M388.3 310.3h0M383.5 310.3h0M387.8 311.6h0M391.4 290.1h0M383.9 304.8h0M384.5 313.3h0M391.5 301.6h0M388.8 285.4h0M387.9 289.0h0M392.3 286.1h0M388.3 294.5h0M391.7 294.7h0M392.0 296.8h0M388.5 290.0h0M385.8 300.6h0M388.7 302.1h0M391.5 297.7h0M383.0 311.9h0M385.4 314.4h0M390.6 293.7h0M386.1 311.5h0M382.9 316.5h0M391.3 295.2h0M387.5 289.4h0M389.4 292.5h0M391.4 286.1h0M386.8 297.1h0M387.1 312.6h0M384.2 314.1h0M384.4 298.9h0M385.7 294.0h0M384.6 315.5h0M388.6 289.5h0M388.2 309.1h0M386.8 301.1h0M388.8 284.4h0M393.5 286.1h0M383.4 309.0h0M387.3 292.1h0M385.5 304.5h0M387.0 292.0h0M385.7 294.7h0M386.3 309.3h0M385.0 308.6h0M387.1 298.8h0M392.4 285.5h0M389.7 297.0h0M387.0 308.0h0M383.1 306.7h0M385.9 302.1h0M384.6 311.7h0M385.1 314.6h0M390.3 295.9h0M394.2 290.1h0M388.4 286.4h0M385.3 298.8h0M387.1 305.6h0M385.2 296.3h0M390.1 295.2h0M383.9 313.7h0M389.9 301.2h0M387.9 307.5h0M383.4 311.9h0M389.2 300.8h0M388.3 305.9h0M384.1 305.7h0M387.3 288.4h0M384.3 304.2h0M391.0 294.2h0M384.8 309.8h0M384.3 315.8h0M385.0 310.3h0M384.9 315.1h0M385.0 313.9h0M393.8 294.2h0M387.9 301.7h0M384.5 305.7h0M386.4 300.1h0M387.4 317.1h0M389.1 286.6h0M391.2 290.3h0M394.0 289.6h0M384.2 310.2h0M387.5 301.6h0M385.4 305.5h0M387.8 309.0h0M383.2 312.8h0M389.6 295.7h0M389.9 295.2h0M384.8 298.8h0M388.6 307.0h0M388.3 304.5h0M389.1 286.4h0M385.9 307.9h0M384.3 313.4h0M386.6 314.3h0M386.4 299.2h0M388.0 313.9h0M391.1 302.8h0M389.2 284.5h0M386.5 287.8h0M390.7 301.7h0M383.4 312.8h0M391.0 290.8h0M392.3 296.4h0M387.1 306.8h0M389.6 305.7h0M387.9 312.3h0M390.2 294.8h0M387.3 298.4h0M383.8 316.6h0M383.1 304.7h0M386.9 311.0h0M390.8 290.8h0M391.0 300.0h0M384.9 305.0h0M383.7 316.5h0M391.4 286.2h0M384.9 295.8h0M385.8 298.9h0M382.3 314.5h0M390.1 294.0h0M384.4 315.3h0M387.4 294.6h0M386.0 305.6h0M385.9 294.4h0M385.3 314.1h0M387.9 308.5h0M387.1 308.8h0M385.2 295.5h0M390.2 302.3h0M390.9 295.6h0M386.0 297.8h0M384.9 303.5h0M382.5 305.0h0M389.5 302.1h0M388.9 299.5h0M385.3 312.2h0M388.8 303.4h0M387.8 289.8h0M386.2 313.0h0M386.1 303.0h0M387.4 313.6h0M387.5 303.3h0M387.2 317.5h0M390.0 300.4h0M385.3 308.2h0M383.5 300.2h0M385.5 303.3h0M387.3 295.1h0M386.2 308.6h0M387.7 285.2h0M384.5 296.9h0M387.4 301.3h0M389.7 292.9h0M386.7 316.3h0M384.5 313.2h0M385.3 314.8h0M390.2 291.2h0M386.8 303.3h0M386.3 307.3h0M387.9 288.6h0M387.3 304.0h0M391.3 287.4h0M387.0 300.1h0M385.3 301.8h0M390.7 286.7h0M385.1 316.2h0M391.1 293.8h0M383.8 308.2h0M388.3 304.6h0M385.0 300.8h0M383.6 316.8h0M386.7 307.4h0M385.4 316.5h0M387.5 315.7h0M383.6 302.0h0M387.5 300.3h0M390.9 300.0h0M390.6 288.1h0M391.0 300.8h0M385.9 302.8h0M392.2 298.1h0M391.4 302.3h0M386.7 301.8h0M388.9 290.5h0M385.7 299.5h0M387.2 287.5h0M386.9 307.1h0M385.7 316.8h0M386.0 300.3h0M384.2 310.3h0M385.6 296.7h0M390.8 297.4h0M385.3 290.8h0M384.2 296.1h0M383.7 310.4h0M384.6 309.7h0M390.0 289.0h0M394.9 287.1h0M386.6 286.9h0M388.3 287.2h0M387.3 313.5h0M391.5 298.1h0M383.6 305.6h0M390.7 298.9h0M390.9 295.9h0M391.2 286.0h0M388.4 302.1h0M386.7 310.5h0M384.3 304.7h0M393.3 289.0h0M389.5 303.7h0M384.9 300.3h0M385.8 299.2h0M389.8 296.5h0M388.3 300.5h0M384.2 316.8h0M390.6 302.4h0M384.8 310.5h0M394.9 286.0h0M394.3 285.9h0M382.4 312.5h0M387.8 295.1h0M393.9 291.9h0M385.8 317.3h0M387.5 311.2h0M385.3 313.5h0M390.9 288.5h0M386.5 314.7h0M388.2 295.7h0M386.5 293.3h0M386.3 288.6h0M392.1 295.9h0M385.9 311.5h0M387.2 296.3h0M391.4 298.6h0M393.1 290.0h0M388.5 305.4h0M385.6 311.3h0M390.5 296.7h0M385.8 288.5h0M385.3 315.4h0M385.5 290.0h0M387.8 287.0h0M390.3 287.4h0M387.0 310.1h0M386.8 285.3h0M384.8 311.9h0M390.6 285.5h0M392.3 296.9h0M384.7 311.4h0M386.6 315.7h0M390.8 288.6h0M393.6 286.5h0M385.9 294.8h0M388.1 292.2h0M391.9 298.5h0M383.8 315.9h0M389.2 299.9h0M386.6 308.2h0M391.6 290.7h0M391.4 294.6h0M384.6 313.8h0M384.3 311.2h0M389.3 299.6h0M385.9 295.3h0M386.5 295.7h0M382.4 304.6h0M394.0 290.6h0M386.2 289.4h0M388.3 300.9h0M390.3 296.4h0M390.1 286.3h0M386.1 315.5h0M393.0 288.1h0M386.4 297.0h0M382.5 312.4h0M385.8 300.7h0M384.6 301.6h0M387.2 311.6h0M386.7 311.7h0M386.5 310.2h0M387.3 288.8h0M393.6 290.3h0M388.8 293.5h0M387.5 305.0h0M383.2 302.2h0M387.9 284.3h0M387.8 299.6h0M388.0 307.4h0M385.2 313.1h0M387.0 293.1h0M384.0 316.0h0M384.8 296.7h0M384.9 315.5h0M385.0 314.6h0M382.8 305.4h0M385.1 294.2h0M385.9 295.8h0M392.3 291.3h0M383.6 313.2h0M389.5 298.1h0M387.3 298.0h0M388.5 289.4h0M386.0 293.7h0M383.8 303.1h0M385.4 292.9h0M387.1 294.1h0M383.6 313.7h0M386.1 288.9h0M390.8 286.3h0M386.5 316.8h0M389.6 296.3h0M388.9 299.7h0M387.4 309.6h0M386.9 312.7h0M384.1 309.2h0M387.3 307.0h0M384.0 314.7h0M386.6 288.9h0M389.9 285.2h0M387.4 313.3h0M386.7 295.4h0M389.6 300.8h0M384.5 301.8h0M385.5 309.2h0M383.3 311.9h0M389.8 299.8h0M385.7 317.0h0M384.0 316.3h0M390.5 288.6h0M386.3 286.8h0M384.9 293.2h0M388.5 293.4h0M390.1 307.0h0M384.7 307.3h0M383.1 315.9h0M392.9 285.8h0M386.8 310.6h0M390.5 289.1h0M384.7 316.3h0M385.0 299.7h0M384.5 309.1h0M385.1 298.2h0M385.0 310.1h0M388.5 289.8h0M392.0 289.9h0M385.0 299.7h0M384.7 305.0h0M385.1 312.7h0M387.0 307.6h0M386.9 299.3h0M386.5 296.1h0M388.7 290.0h0M388.6 295.1h0M392.9 285.5h0M384.8 307.0h0M387.6 303.7h0M382.4 305.4h0M387.8 288.3h0M384.2 315.4h0M386.4 287.7h0M388.9 293.6h0M385.9 305.4h0M392.8 294.9h0M387.4 296.4h0M389.1 300.8h0M383.7 315.9h0M390.3 304.1h0M385.6 310.4h0M391.7 284.5h0M394.1 288.8h0M392.3 288.1h0M388.7 302.1h0M388.6 294.8h0M389.6 295.0h0M388.1 302.7h0M390.1 296.1h0M386.7 294.0h0M383.8 316.1h0M382.9 311.9h0M384.0 316.2h0M385.5 299.4h0M391.0 287.1h0M385.3 312.1h0M384.3 298.7h0M390.5 287.1h0M384.9 292.6h0M390.5 291.6h0M387.0 298.5h0M382.3 314.9h0M392.2 287.5h0M386.2 285.2h0M382.7 315.7h0M388.1 306.5h0M384.0 302.7h0M391.7 300.4h0M389.1 303.1h0M392.2 296.6h0M385.8 300.8h0M389.6 302.1h0M385.3 299.7h0M388.0 294.1h0M386.0 292.4h0M386.8 293.1h0M382.6 313.1h0M391.6 295.9h0M389.0 306.4h0M390.8 295.3h0M382.4 311.6h0M394.5 287.8h0M391.9 284.9h0M386.5 311.6h0M388.4 295.2h0M385.7 316.4h0M386.4 296.1h0M384.3 313.7h0M387.1 286.4h0M393.3 285.3h0M387.9 287.6h0M383.3 312.4h0M384.7 301.2h0M388.9 303.4h0M391.7 297.8h0M384.9 311.1h0M387.0 290.0h0M386.6 315.4h0M392.8 286.8h0M386.9 286.4h0M389.8 295.5h0M383.6 312.5h0M388.0 294.1h0M390.6 291.9h0M391.7 290.5h0M391.9 298.0h0M386.5 308.5h0M385.7 311.7h0M385.5 308.8h0M389.1 287.2h0M386.5 312.3h0M385.1 310.3h0M387.7 289.4h0M383.2 301.1h0M387.4 308.9h0M383.7 302.5h0M384.2 309.1h0M384.2 311.4h0M383.5 311.1h0M386.5 302.7h0M391.4 290.3h0M388.0 307.6h0M385.6 302.3h0M392.7 286.0h0M385.4 299.9h0M386.0 306.1h0M389.8 305.6h0M391.1 301.6h0M383.2 306.3h0M384.8 314.9h0M386.9 299.5h0M387.3 312.1h0M386.5 312.8h0M383.7 301.5h0M388.3 284.6h0M392.4 290.2h0M387.2 295.8h0M391.9 288.8h0M387.3 308.4h0M388.0 308.2h0M388.6 307.7h0M386.7 307.0h0M384.9 312.3h0M384.9 295.2h0M386.6 301.1h0M388.0 303.4h0M386.3 317.8h0M383.3 302.5h0M382.6 313.2h0M386.8 284.8h0M383.9 313.8h0M385.7 300.1h0M384.7 310.6h0M390.9 296.5h0M392.2 294.7h0M385.8 292.2h0M383.2 303.1h0M383.3 309.4h0M386.3 309.9h0M386.5 307.5h0M391.5 292.0h0M388.0 286.3h0M388.8 295.9h0M386.8 304.8h0M385.1 299.5h0M381.9 316.7h0M385.9 307.3h0M394.4 290.6h0M392.9 293.9h0M388.5 297.3h0M391.5 295.5h0M414.6 252.2h0M416.0 249.3h0M416.5 256.0h0M414.3 252.8h0M416.2 248.3h0M415.3 253.6h0M413.7 248.4h0M413.7 247.4h0M414.0 248.2h0M415.7 254.9h0M415.1 252.9h0M415.6 250.2h0M413.1 248.3h0M416.1 256.0h0M416.5 253.7h0M415.2 253.3h0M415.3 249.5h0M415.0 255.7h0M416.5 251.3h0M417.0 255.7h0M412.6 248.8h0M414.6 253.8h0M414.4 251.7h0M414.5 253.1h0M415.5 250.2h0M414.6 246.8h0M414.2 253.4h0M415.3 251.1h0M415.3 248.4h0M413.2 247.6h0M415.1 249.9h0M415.2 255.6h0M415.3 247.6h0M416.4 250.7h0M416.3 254.2h0M415.7 246.5h0M412.7 256.5h0M413.9 255.2h0M415.3 257.4h0M413.2 251.9h0M415.0 251.6h0M413.8 249.3h0M415.3 256.7h0M415.2 250.8h0M417.0 256.6h0M415.8 257.3h0M416.0 249.8h0M416.9 254.9h0M415.6 253.8h0M414.2 254.9h0M415.4 251.8h0M413.9 252.0h0M414.3 257.5h0M414.5 247.3h0M415.2 249.6h0M414.6 248.7h0M416.7 254.1h0M416.7 256.6h0M413.0 249.9h0M413.9 255.4h0M412.6 254.3h0M414.0 252.1h0M413.9 249.4h0M416.9 253.3h0M414.6 250.3h0M414.8 251.6h0M417.1 255.4h0M415.3 246.9h0M415.5 256.7h0M414.2 249.2h0M413.7 255.3h0M412.7 247.3h0M412.8 252.8h0M414.3 253.1h0M416.8 252.1h0M412.8 253.4h0M414.6 248.4h0M415.6 253.5h0M417.0 253.1h0M415.6 251.2h0M416.6 247.4h0M416.5 246.9h0M416.9 252.7h0M417.0 257.3h0M415.3 248.9h0M416.0 255.9h0M414.2 256.6h0M414.5 249.0h0M415.9 251.8h0M414.4 247.2h0M413.3 249.2h0M415.1 251.2h0M413.2 254.0h0M414.8 251.1h0M416.5 247.5h0M413.3 251.9h0M413.8 255.4h0M414.1 250.3h0M413.5 250.2h0M417.1 252.8h0M412.1 249.6h0M414.3 249.2h0M416.4 251.8h0M412.2 247.5h0M413.3 247.4h0M412.7 251.6h0M413.5 251.6h0M415.0 257.8h0M414.8 250.5h0M415.0 256.4h0M414.9 247.2h0M413.6 256.9h0M417.1 254.2h0M415.0 247.5h0M414.2 255.1h0M416.6 249.9h0M413.9 250.7h0M415.9 249.0h0M412.6 257.0h0M413.1 248.8h0M415.6 248.6h0M412.3 248.2h0M416.0 255.0h0M413.3 250.2h0M416.4 248.3h0M416.7 248.5h0M414.9 248.1h0M413.0 247.9h0M416.3 255.6h0M414.2 247.8h0M416.3 250.2h0M413.0 252.6h0M415.0 250.4h0M413.5 248.4h0M415.0 256.6h0M415.1 256.8h0M416.9 254.0h0M417.3 256.0h0M416.6 253.4h0M416.2 253.5h0M416.4 247.2h0M415.0 247.4h0M414.8 252.6h0M414.5 247.2h0M416.4 250.8h0M412.9 246.9h0M412.1 246.8h0M414.4 248.0h0M416.7 254.9h0M416.0 252.3h0M414.5 254.0h0M414.8 248.5h0M414.5 248.6h0M414.0 255.2h0M415.2 250.8h0" stroke="#ed8b65" stroke-width="0.95" stroke-linecap="round" fill="none"/>
<path d="M381.9 316.9h0M382.9 318.2h0M384.4 318.9h0M386.0 318.7h0M383.5 317.1h0M384.7 317.4h0M384.8 317.7h0M386.6 317.9h0M386.0 319.0h0M384.5 317.1h0M385.2 318.6h0M384.5 319.2h0M383.6 317.9h0M384.1 317.7h0M386.2 319.0h0M386.0 317.8h0M382.2 317.8h0M383.3 317.0h0M381.9 318.5h0M385.9 318.3h0M383.2 317.4h0M384.5 318.7h0M385.5 318.1h0M386.6 317.4h0M384.7 318.7h0M382.6 317.8h0M383.2 318.2h0M382.4 318.2h0M387.1 318.9h0M385.5 318.0h0M381.8 318.5h0M386.2 319.3h0M417.8 255.7h0M417.3 250.1h0M417.6 255.6h0M421.0 250.6h0M419.3 251.4h0M418.7 249.0h0M420.9 250.1h0M417.1 247.6h0M419.5 256.4h0M419.8 248.5h0M420.7 247.6h0M418.2 247.1h0M418.5 246.8h0M418.2 253.7h0M417.9 255.8h0M422.1 252.4h0M421.8 256.6h0M416.8 250.6h0M418.9 249.5h0M417.2 249.9h0M420.6 248.5h0M421.5 250.0h0M418.6 254.7h0M420.3 249.9h0M419.4 255.9h0M417.1 252.0h0M418.6 246.9h0M421.7 252.5h0M417.6 247.5h0M418.3 247.2h0M417.2 247.0h0M420.2 253.1h0M420.9 254.6h0M417.9 247.8h0M417.4 254.4h0M419.1 256.9h0M417.4 256.0h0M417.6 248.4h0M417.3 249.7h0M418.5 250.2h0M419.7 253.1h0M421.5 255.2h0M416.9 251.4h0M421.0 250.8h0M418.4 249.7h0M420.7 246.7h0M418.7 252.7h0M419.6 250.9h0M419.6 246.9h0M419.9 250.0h0M420.6 253.1h0M418.1 256.2h0M420.3 254.6h0M420.4 245.8h0M418.9 253.4h0M421.3 246.7h0M421.5 256.3h0M418.2 249.1h0M420.6 248.3h0M421.3 254.1h0M416.9 247.2h0M418.2 257.3h0M421.3 250.1h0M416.8 248.7h0M417.4 254.2h0M419.9 255.1h0M421.6 250.1h0M417.4 253.5h0M421.7 255.7h0M420.4 255.1h0M417.2 247.2h0M418.3 257.0h0M418.2 248.1h0M420.6 254.5h0M417.5 253.6h0M417.4 248.6h0M417.0 249.4h0M419.5 253.7h0M418.1 252.1h0M417.0 252.8h0M421.5 254.0h0M419.5 255.7h0M419.7 255.3h0M418.1 250.8h0M417.2 254.6h0M418.3 256.9h0M417.6 253.0h0M421.1 248.5h0M418.5 249.9h0M419.9 253.2h0M417.3 250.3h0M419.9 251.1h0M417.3 249.4h0M418.0 249.3h0M419.5 250.7h0M418.0 252.4h0M419.9 254.1h0M417.1 249.2h0M420.3 248.9h0M420.1 250.0h0M417.7 256.2h0M417.7 251.8h0M419.8 256.8h0M418.5 248.7h0M420.5 248.3h0M417.4 255.8h0M419.7 253.6h0M418.6 253.1h0M421.0 250.4h0M419.4 249.9h0M421.4 255.2h0M419.1 247.4h0M418.9 248.4h0M419.5 252.1h0M418.2 249.6h0M419.6 252.4h0M418.7 252.5h0M419.4 249.1h0M419.5 254.9h0M417.9 252.6h0M417.4 246.4h0M419.0 253.3h0M421.1 253.1h0M421.2 255.4h0M419.7 257.3h0M419.6 253.1h0M418.3 257.6h0M419.7 248.0h0M420.6 246.3h0M419.1 247.8h0M419.7 248.8h0M416.9 250.9h0M417.2 247.1h0M420.2 252.8h0M418.0 254.3h0M416.7 248.7h0M420.9 251.7h0M417.9 256.2h0M419.1 249.1h0M418.0 254.3h0M418.4 249.5h0M416.4 247.3h0M417.8 250.2h0M417.0 247.7h0M418.7 255.2h0M419.7 248.5h0M417.5 250.7h0M418.5 257.0h0M418.9 248.5h0M421.0 251.0h0M421.2 246.7h0M417.5 249.4h0M419.0 253.6h0M418.2 255.0h0M417.6 247.7h0M417.5 255.7h0M417.0 248.1h0M418.0 247.6h0M419.3 257.5h0M419.7 256.2h0M417.7 250.0h0M421.3 249.9h0M419.1 253.0h0M417.5 247.8h0M419.5 254.3h0M416.9 247.4h0M420.5 246.3h0" stroke="#eb825d" stroke-width="0.95" stroke-linecap="round" fill="none"/>
<path d="M424.2 248.0h0M425.0 256.1h0M425.5 257.7h0M422.5 246.4h0M425.3 250.9h0M422.1 248.5h0M423.7 256.2h0M423.1 251.7h0M426.9 249.3h0M421.3 250.1h0M424.4 251.2h0M422.1 251.8h0M422.9 253.1h0M425.9 246.3h0M421.6 251.4h0M421.4 247.4h0M424.0 256.8h0M422.7 255.0h0M426.4 250.8h0M425.4 248.0h0M423.6 255.3h0M422.0 256.6h0M422.6 254.0h0M425.7 248.5h0M423.4 255.1h0M424.3 253.2h0M427.3 247.2h0M423.1 253.1h0M425.7 253.0h0M423.2 251.3h0M424.7 247.2h0M422.3 249.2h0M422.1 255.6h0M425.6 247.0h0M426.3 250.1h0M422.3 246.4h0M424.6 256.3h0M425.0 248.4h0M422.9 253.8h0M422.4 253.4h0M425.4 257.3h0M422.9 253.8h0M424.0 257.1h0M425.1 252.8h0M422.9 254.1h0M424.3 248.5h0M423.1 254.8h0M426.9 250.8h0M422.4 257.5h0M424.9 254.2h0M424.3 252.4h0M423.0 249.9h0M422.7 255.4h0M425.3 252.8h0M423.1 251.8h0M422.3 250.5h0M425.2 251.0h0M423.7 249.0h0M425.0 247.2h0M421.5 249.8h0M424.5 252.5h0M427.2 249.2h0M426.2 250.1h0M421.7 245.3h0M421.5 247.9h0M425.9 250.4h0M423.6 250.8h0M422.6 255.1h0M425.9 248.2h0M424.4 249.5h0M425.5 255.4h0M426.9 249.2h0M421.5 253.6h0M423.6 250.8h0M423.1 256.6h0M424.4 251.0h0M422.4 257.2h0M425.4 252.2h0M426.2 246.0h0M425.6 252.3h0M425.5 257.0h0M421.8 246.0h0M423.8 248.6h0M423.3 256.4h0M425.7 248.1h0M422.2 250.3h0M423.5 251.1h0M423.0 254.1h0M422.9 250.1h0M422.4 247.3h0M425.5 249.7h0M423.8 247.6h0M426.5 247.8h0M426.0 253.7h0M421.8 246.3h0M425.8 246.3h0M421.0 251.5h0M426.6 250.6h0M424.3 251.6h0M420.8 246.2h0M423.5 255.6h0M422.6 253.6h0M423.1 256.3h0M425.7 246.0h0M426.7 249.2h0M425.2 254.4h0M424.2 253.8h0M423.0 256.9h0M423.4 256.4h0M424.2 247.1h0M425.6 256.9h0M424.3 246.9h0M425.9 255.9h0M424.0 246.2h0M425.3 256.1h0M423.0 255.1h0M421.5 250.2h0M424.5 254.6h0M424.6 254.8h0M426.7 247.1h0M422.0 248.7h0M422.1 250.1h0M422.6 254.9h0M426.1 253.4h0M425.8 251.5h0M425.4 246.6h0M423.7 249.2h0M424.9 253.4h0M424.8 246.8h0M427.0 250.1h0M424.2 251.4h0M423.0 248.8h0M422.0 247.9h0M424.7 246.8h0M423.0 253.8h0M424.8 246.5h0M427.0 247.0h0M423.7 246.8h0M425.4 256.2h0M423.2 256.0h0M424.2 250.9h0M425.8 251.1h0M423.2 251.1h0M422.9 254.7h0M424.7 245.8h0M426.9 249.1h0M425.5 253.7h0M426.4 246.7h0M422.2 250.9h0M421.6 250.5h0M422.6 249.7h0M426.0 251.4h0M425.5 252.1h0M425.0 246.4h0M422.4 255.8h0M425.4 251.6h0M423.1 248.8h0M426.2 251.4h0M424.0 246.0h0M422.5 252.9h0M421.9 249.1h0M426.1 256.2h0M421.6 249.0h0M423.3 255.2h0M426.4 251.6h0M425.7 255.8h0M426.1 249.5h0M425.2 252.6h0M421.9 249.5h0M426.4 253.9h0" stroke="#ea7a56" stroke-width="0.95" stroke-linecap="round" fill="none"/>
<path d="M429.0 254.2h0M426.3 257.1h0M431.0 247.8h0M428.8 251.3h0M431.2 251.5h0M427.3 257.3h0M426.8 255.2h0M427.8 250.0h0M428.7 254.1h0M426.2 253.7h0M430.4 251.3h0M431.4 252.6h0M432.1 248.5h0M430.1 248.5h0M431.0 252.8h0M431.2 253.6h0M427.8 255.9h0M427.3 252.4h0M429.9 252.0h0M428.7 254.1h0M429.7 246.3h0M432.0 254.6h0M430.5 253.7h0M430.9 251.5h0M427.1 249.0h0M431.1 251.8h0M431.6 252.6h0M427.2 254.3h0M428.9 251.5h0M429.4 254.1h0M430.7 247.4h0M427.3 252.8h0M427.5 252.3h0M430.7 250.9h0M429.2 256.8h0M430.3 246.1h0M428.1 251.7h0M426.7 256.2h0M431.5 253.8h0M428.1 248.8h0M431.3 248.1h0M429.3 249.9h0M430.6 258.5h0M429.6 246.7h0M432.2 248.2h0M432.2 250.3h0M429.7 246.4h0M427.5 254.0h0M428.3 248.3h0M431.1 251.8h0M427.8 253.8h0M431.1 256.5h0M427.0 251.6h0M431.1 253.0h0M428.0 255.8h0M430.0 255.2h0M429.7 254.5h0M430.5 256.9h0M430.8 255.6h0M430.5 251.9h0M428.2 248.7h0M426.3 252.7h0M431.2 252.5h0M431.2 250.9h0M430.3 252.3h0M432.0 248.8h0M429.0 253.4h0M427.1 257.7h0M429.8 247.6h0M431.3 248.8h0M432.1 247.0h0M429.0 248.8h0M428.6 256.8h0M428.5 246.8h0M429.6 246.7h0M429.6 250.6h0M428.9 255.7h0M431.4 252.2h0M428.1 246.9h0M429.3 247.8h0M427.3 252.1h0M428.1 254.1h0M430.8 250.1h0M427.4 254.2h0M430.8 254.7h0M430.8 255.8h0M429.3 253.4h0M430.9 249.3h0M431.1 251.0h0M426.8 254.0h0M432.3 250.4h0M430.5 255.3h0M431.1 256.2h0M429.1 248.1h0M427.0 250.6h0M427.4 256.6h0M430.6 252.5h0M428.5 248.2h0M429.2 255.9h0M428.1 250.4h0M428.2 257.1h0M430.1 251.2h0M431.2 249.4h0M427.8 247.0h0M429.5 251.2h0M426.8 249.8h0M431.4 250.6h0M430.8 250.3h0M431.0 246.0h0M427.5 254.9h0M427.1 256.9h0M428.5 249.9h0M428.6 249.2h0M428.7 252.7h0M431.1 252.0h0M427.9 250.2h0M431.6 250.9h0M428.5 251.4h0M431.6 250.6h0M429.0 247.5h0M430.7 251.4h0M428.1 254.5h0M430.0 250.1h0M430.5 248.5h0M431.1 255.1h0M426.6 257.6h0M431.9 253.5h0M427.4 247.4h0M428.0 247.5h0M429.1 256.1h0M429.5 252.3h0M427.9 248.3h0M431.6 254.2h0M429.2 250.9h0M428.4 248.8h0M428.1 249.6h0M431.3 254.2h0M428.6 252.4h0M429.7 246.7h0M428.8 252.5h0M427.9 247.3h0M428.2 257.0h0M430.6 249.2h0M429.4 253.0h0M430.1 248.7h0M430.9 250.2h0M427.6 250.8h0M426.1 254.5h0M431.8 248.2h0" stroke="#e77051" stroke-width="0.95" stroke-linecap="round" fill="none"/>
<path d="M434.8 249.6h0M437.5 248.9h0M433.7 246.7h0M431.5 252.5h0M436.0 258.8h0M433.8 258.6h0M431.7 257.6h0M434.9 252.6h0M435.2 253.0h0M432.0 249.6h0M433.4 257.6h0M432.5 254.8h0M436.1 252.6h0M433.4 254.7h0M432.6 252.9h0M434.5 254.9h0M433.7 249.0h0M433.4 257.1h0M432.5 258.7h0M433.1 256.3h0M432.4 251.7h0M437.1 253.5h0M432.5 258.5h0M436.5 248.5h0M431.9 252.1h0M432.7 254.1h0M434.0 251.2h0M435.0 251.8h0M435.1 249.9h0M434.0 253.3h0M433.4 257.8h0M435.5 256.1h0M431.6 255.8h0M432.9 251.0h0M434.3 256.4h0M436.1 254.1h0M435.6 248.3h0M436.7 250.4h0M435.4 256.4h0M434.1 255.8h0M436.2 258.2h0M436.8 254.7h0M432.4 250.2h0M434.7 253.5h0M434.9 253.5h0M433.8 247.8h0M433.7 247.7h0M436.0 248.6h0M437.2 254.0h0M433.8 247.1h0M436.4 248.9h0M431.9 252.6h0M433.4 247.9h0M431.9 255.0h0M435.8 246.7h0M434.4 249.4h0M433.4 255.0h0M432.9 253.0h0M432.9 258.0h0M436.1 248.9h0M434.6 251.8h0M434.2 251.3h0M435.2 258.2h0M433.4 249.8h0M433.8 255.7h0M437.5 250.5h0M434.5 253.1h0M437.3 258.2h0M435.0 251.8h0M434.6 249.6h0M436.5 249.6h0M436.6 251.3h0M433.1 255.0h0M434.3 250.2h0M431.1 257.3h0M432.8 255.5h0M436.6 250.7h0M433.5 252.2h0M435.2 255.5h0M437.8 248.1h0M435.8 250.3h0M434.8 254.5h0M433.1 255.7h0M434.7 253.9h0M434.5 251.1h0M433.8 247.7h0M433.5 248.8h0M433.3 254.2h0M432.4 257.9h0M434.4 258.1h0M431.2 250.9h0M436.3 251.0h0M434.5 248.0h0M435.8 251.3h0M434.5 258.5h0M432.9 254.2h0M433.2 256.2h0M435.4 258.2h0M434.7 258.5h0M435.5 256.6h0M434.4 252.1h0M431.3 258.2h0M434.1 255.0h0M432.2 251.2h0M434.0 255.0h0M436.3 251.7h0M434.4 255.4h0M437.5 251.0h0M432.6 247.7h0M433.3 256.7h0M434.6 248.8h0M436.6 253.6h0M435.0 258.1h0M435.0 247.6h0M436.3 251.8h0M432.5 249.2h0M436.7 250.6h0M435.3 254.3h0M432.7 250.1h0M431.8 257.9h0M434.2 257.9h0M432.6 251.3h0M436.6 255.3h0M436.9 248.8h0M436.2 253.9h0M432.9 255.1h0M435.1 255.5h0M435.0 252.0h0M431.3 253.2h0M435.7 256.4h0M435.7 250.2h0M436.0 247.3h0M435.3 254.6h0M435.7 255.0h0M435.8 254.8h0M437.1 251.8h0M433.2 246.7h0M436.8 248.9h0M433.8 248.3h0M436.1 247.9h0M435.2 251.5h0M434.5 247.4h0M432.8 256.1h0M438.0 247.9h0M431.8 258.0h0M432.9 257.1h0M436.9 253.0h0M437.8 249.5h0M432.7 255.8h0M431.5 254.5h0M435.4 249.6h0M433.3 249.7h0M433.9 255.3h0M434.0 249.8h0M434.8 251.0h0M432.2 250.9h0M434.6 248.9h0M431.6 249.6h0M433.9 256.2h0M431.3 256.0h0M433.9 255.3h0M432.8 249.5h0M433.3 256.2h0M435.1 258.7h0M433.0 246.7h0M433.0 254.9h0M433.7 249.3h0M434.6 254.5h0M432.6 247.4h0M434.4 258.0h0M433.4 250.9h0M435.7 258.1h0M434.5 253.2h0M432.5 258.5h0M434.3 250.4h0M432.9 257.5h0M435.7 249.0h0M434.8 248.3h0M432.4 254.0h0M431.3 256.0h0" stroke="#e4664c" stroke-width="0.95" stroke-linecap="round" fill="none"/>
<path d="M438.7 257.9h0M440.1 258.5h0M437.6 251.2h0M442.6 254.2h0M441.9 255.9h0M441.1 248.2h0M442.0 255.9h0M440.2 252.6h0M438.5 248.9h0M439.2 255.9h0M438.8 258.6h0M438.7 256.2h0M437.5 253.3h0M438.8 252.7h0M442.6 249.9h0M443.0 250.2h0M440.0 249.8h0M438.8 252.3h0M441.2 254.7h0M438.7 249.6h0M437.2 251.6h0M440.7 248.7h0M438.6 248.0h0M437.3 254.0h0M437.2 258.3h0M442.0 251.5h0M442.3 248.5h0M436.3 257.9h0M442.1 253.3h0M440.7 256.7h0M442.1 255.2h0M440.8 254.8h0M440.0 251.8h0M443.6 249.2h0M440.8 251.2h0M438.8 251.4h0M438.1 253.0h0M443.4 249.9h0M439.3 260.0h0M442.5 252.8h0M440.4 252.2h0M437.5 257.5h0M438.4 247.8h0M439.7 248.6h0M443.3 249.2h0M438.4 247.3h0M437.6 258.5h0M438.6 251.2h0M436.7 257.8h0M441.0 258.5h0M437.7 253.9h0M438.0 248.9h0M438.2 252.2h0M439.3 258.3h0M440.9 253.0h0M441.2 258.8h0M438.0 256.1h0M442.0 255.1h0M442.8 249.8h0M438.1 259.4h0M440.4 251.1h0M438.1 252.4h0M439.6 252.7h0M439.0 251.4h0M440.8 254.1h0M444.0 249.5h0M438.1 248.3h0M438.1 258.1h0M442.1 252.8h0M440.1 254.4h0M441.4 258.0h0M443.3 251.0h0M441.6 250.3h0M441.9 249.7h0M437.9 258.5h0M440.6 259.4h0M438.4 247.6h0M438.0 252.0h0M442.9 248.3h0M437.7 253.5h0M437.3 255.3h0M440.5 255.2h0M438.0 254.1h0M440.0 249.8h0M438.5 254.8h0M439.3 249.1h0M438.0 258.6h0M437.7 255.8h0M440.8 248.5h0M442.4 252.3h0M440.6 256.9h0M438.8 257.7h0M438.4 255.1h0M440.2 254.4h0M441.4 255.4h0M437.4 249.1h0M439.6 251.1h0M437.7 258.5h0M439.9 259.2h0M437.5 257.2h0M438.5 254.7h0M440.5 254.2h0M440.9 250.8h0M439.8 247.5h0M439.4 254.7h0M437.5 249.5h0M440.5 255.3h0M438.2 255.3h0M440.6 252.3h0M439.5 249.0h0M437.4 255.3h0M438.4 250.3h0M438.1 255.6h0M443.6 249.7h0M440.4 256.5h0M440.0 258.4h0M439.1 257.1h0M440.2 259.9h0M436.9 255.8h0M437.0 257.5h0M437.4 257.2h0M440.9 256.1h0M438.1 257.5h0M439.0 257.6h0M441.2 248.8h0M440.2 248.3h0M439.9 256.7h0M437.7 248.1h0M438.9 249.7h0M443.5 249.5h0M441.1 253.8h0M441.1 259.1h0M440.2 248.6h0M438.4 254.2h0M443.2 248.6h0M437.2 250.7h0M440.4 248.1h0M437.4 257.8h0M436.6 253.7h0M436.5 257.1h0M441.9 249.9h0M438.5 247.4h0M440.9 256.2h0M439.5 252.1h0M440.1 252.1h0M438.0 258.3h0M440.0 255.0h0M441.5 251.8h0M441.1 256.3h0M437.9 252.6h0M443.0 252.8h0M440.9 250.0h0M442.2 251.2h0M437.5 257.9h0M438.8 250.8h0M439.4 258.3h0M441.5 252.4h0M440.4 253.6h0M438.0 249.6h0M443.6 248.0h0M440.5 257.2h0M443.0 249.5h0M437.2 257.3h0M442.1 254.1h0M438.2 253.0h0M440.7 255.0h0M439.0 253.5h0M438.6 253.2h0" stroke="#e15d47" stroke-width="0.95" stroke-linecap="round" fill="none"/>
<path d="M444.1 252.1h0M447.3 257.6h0M446.3 250.7h0M444.6 256.5h0M444.4 257.5h0M442.7 256.4h0M442.7 256.1h0M444.8 251.8h0M445.6 258.4h0M443.2 258.2h0M447.2 254.6h0M449.3 253.5h0M444.1 256.9h0M443.6 251.5h0M446.1 257.1h0M445.7 253.2h0M446.2 252.7h0M443.9 251.4h0M444.3 259.1h0M444.0 252.1h0M445.1 259.7h0M443.7 254.3h0M447.6 255.2h0M447.1 260.3h0M448.8 254.1h0M449.6 251.8h0M445.1 251.4h0M449.2 250.5h0M446.1 252.3h0M447.2 255.1h0M447.8 257.4h0M444.2 253.6h0M443.7 255.8h0M443.3 259.1h0M447.9 256.9h0M444.5 249.2h0M444.7 258.0h0M445.1 257.2h0M445.2 250.4h0M441.8 258.4h0M446.1 251.9h0M447.8 253.7h0M444.7 253.0h0M444.3 249.2h0M447.6 256.8h0M448.3 254.7h0M447.1 259.2h0M443.8 256.5h0M449.6 250.8h0M447.3 253.3h0M448.5 250.9h0M444.5 259.0h0M449.2 252.0h0M444.5 258.3h0M444.9 251.4h0M445.0 252.9h0M443.6 254.5h0M448.4 251.2h0M442.6 255.9h0M446.7 255.0h0M447.3 250.7h0M444.1 256.3h0M443.0 255.9h0M447.3 251.5h0M443.0 256.2h0M444.5 252.1h0M441.4 258.3h0M444.5 254.7h0M443.8 257.3h0M445.2 260.3h0M442.7 259.2h0M445.1 255.9h0M444.2 258.7h0M447.2 257.2h0M448.4 252.4h0M447.4 254.3h0M446.1 253.9h0M443.2 252.7h0M448.7 252.1h0M444.6 248.8h0M444.9 259.6h0M447.2 257.7h0M447.5 252.4h0M447.9 253.3h0M447.5 256.0h0M448.9 250.6h0M445.3 259.9h0M444.3 250.0h0M444.7 253.0h0M448.4 255.8h0M446.0 252.3h0M448.1 251.3h0M446.3 257.6h0M448.6 254.7h0M447.0 258.9h0M445.1 253.0h0M443.0 257.3h0M446.5 253.3h0M445.1 256.9h0M448.0 252.2h0M443.9 258.7h0M445.4 250.7h0M446.8 259.3h0M447.8 254.1h0M443.5 251.3h0M445.5 255.0h0M444.9 260.0h0M444.8 253.1h0M447.1 259.6h0M445.7 257.5h0M441.5 258.3h0M448.6 250.9h0M445.8 257.1h0M445.8 258.0h0M446.3 254.5h0M442.4 258.0h0M442.0 260.3h0M445.8 255.5h0M444.4 251.5h0M443.8 256.8h0M444.5 249.4h0M443.2 253.4h0M445.1 259.3h0M446.3 253.1h0M448.4 252.2h0M444.8 257.0h0M444.3 253.3h0M443.8 255.6h0M444.5 252.9h0M447.2 252.1h0M446.5 253.9h0M443.2 253.5h0M447.0 251.9h0M445.8 256.3h0M445.7 254.9h0M444.3 249.0h0M444.7 258.0h0M447.6 252.9h0M447.2 251.5h0M444.8 250.2h0M442.6 259.6h0M446.6 253.7h0M443.8 250.4h0M447.9 252.5h0M442.9 260.0h0M444.4 257.4h0M444.2 252.6h0M446.7 251.8h0M444.1 258.8h0M445.1 257.0h0M448.9 251.2h0M447.5 251.4h0M446.7 257.1h0M447.6 254.1h0M446.3 255.3h0M446.2 250.5h0M442.3 260.5h0M445.5 258.0h0M445.3 257.3h0M445.4 249.1h0M449.6 251.2h0M445.3 256.9h0M448.8 252.7h0M444.6 258.9h0M446.4 254.0h0M445.0 259.6h0M442.1 259.8h0M448.7 250.3h0M446.1 256.6h0M447.0 254.4h0M443.9 251.6h0M441.6 259.4h0M444.0 260.1h0M444.3 251.4h0M446.0 255.4h0M444.9 259.4h0M447.6 256.1h0M444.7 252.8h0M442.3 256.7h0M445.7 257.9h0M446.0 259.1h0M444.8 258.3h0M441.2 260.2h0M445.5 258.9h0M443.7 252.9h0M447.4 256.8h0M442.6 258.6h0" stroke="#de5342" stroke-width="0.95" stroke-linecap="round" fill="none"/>
<path d="M452.4 258.4h0M455.3 255.4h0M449.6 261.6h0M449.9 253.5h0M454.3 254.5h0M449.6 252.5h0M450.6 257.8h0M449.1 259.9h0M452.5 258.2h0M452.4 258.7h0M451.4 260.2h0M451.1 255.3h0M450.8 252.8h0M450.9 251.7h0M449.7 254.5h0M450.4 257.1h0M447.5 260.7h0M450.9 260.4h0M450.4 259.7h0M450.8 251.9h0M450.9 259.7h0M450.9 253.2h0M452.0 260.4h0M451.4 253.6h0M449.5 252.9h0M454.5 256.8h0M450.6 258.9h0M451.4 251.4h0M448.0 258.3h0M455.9 253.8h0M449.0 257.0h0M450.9 261.2h0M452.0 252.3h0M450.9 252.9h0M452.2 260.0h0M449.8 258.7h0M450.2 257.0h0M456.0 253.5h0M452.6 259.2h0M450.4 253.1h0M451.8 259.5h0M450.4 254.5h0M451.6 257.6h0M451.6 253.6h0M450.5 253.1h0M450.9 256.2h0M452.2 255.3h0M450.2 254.2h0M453.9 256.1h0M453.7 255.2h0M455.2 253.4h0M449.1 254.2h0M450.4 253.3h0M452.0 255.3h0M449.3 254.5h0M450.3 254.5h0M454.6 255.5h0M453.5 256.5h0M454.7 255.0h0M450.2 260.6h0M449.6 259.3h0M453.4 252.6h0M450.1 254.7h0M449.4 261.2h0M452.5 259.7h0M451.3 258.2h0M450.1 261.9h0M449.1 255.6h0M447.5 258.7h0M451.4 260.7h0M448.9 260.4h0M449.6 258.8h0M450.9 261.3h0M451.0 261.8h0M451.0 255.8h0M449.1 256.8h0M451.4 260.3h0M451.1 254.9h0M450.9 261.2h0M453.1 254.2h0M450.9 260.8h0M448.8 256.6h0M455.2 256.3h0M451.2 251.7h0M450.4 256.0h0M455.0 255.3h0M450.4 252.6h0M449.3 255.4h0M452.6 259.8h0M450.9 256.1h0M455.0 256.0h0M451.9 260.4h0M450.1 258.0h0M452.8 256.3h0M455.3 254.2h0M450.0 260.9h0M450.2 252.7h0M451.2 257.2h0M450.3 261.8h0M448.1 255.8h0M450.0 255.4h0M451.1 261.9h0M450.5 257.3h0M455.4 253.7h0M452.4 257.5h0M449.6 257.0h0M450.1 253.8h0M450.6 256.8h0M450.9 260.9h0M448.6 257.9h0M451.1 262.1h0M447.9 260.8h0M450.1 258.2h0M454.4 254.4h0M450.1 258.3h0M451.5 254.0h0M452.7 259.1h0M450.9 256.8h0M453.5 257.5h0M448.8 252.1h0M455.3 254.2h0M449.2 260.5h0M449.6 257.9h0M451.8 258.2h0M452.1 252.0h0M449.7 260.5h0M449.1 261.8h0M452.0 259.6h0M452.2 252.8h0M451.8 253.4h0M450.4 253.5h0M453.1 252.3h0M447.7 259.5h0M450.5 257.0h0M449.7 252.0h0M450.3 257.8h0M451.8 260.9h0M450.5 254.4h0M450.3 260.0h0M451.2 256.2h0M451.2 255.7h0M450.6 253.5h0M450.9 254.0h0M449.5 259.8h0M450.8 254.4h0M450.8 257.9h0M455.9 254.2h0M451.2 258.3h0M451.7 260.4h0M450.4 253.9h0M450.3 257.0h0M448.4 258.0h0M448.5 257.3h0M448.8 259.3h0M454.3 255.5h0M452.1 255.4h0M453.6 258.7h0M449.8 254.9h0M451.1 260.8h0M451.4 259.7h0M447.4 259.8h0M450.7 261.3h0M449.0 255.1h0M452.3 261.2h0M451.8 253.7h0M448.1 257.6h0M452.6 259.4h0M452.1 258.6h0M448.7 255.0h0M451.6 261.4h0M451.4 260.8h0M449.2 256.8h0M451.2 255.0h0M451.1 252.6h0M450.1 258.1h0M447.3 259.8h0M450.5 261.6h0M450.5 255.1h0M452.1 256.3h0M452.0 261.1h0M449.9 250.7h0M452.8 254.8h0M449.4 254.6h0M448.8 260.0h0M452.7 254.7h0M449.7 256.2h0M449.7 256.4h0M451.1 259.8h0M451.8 258.0h0M451.0 260.0h0M449.8 258.1h0M452.6 257.6h0M447.6 260.8h0M454.2 255.8h0M450.7 254.8h0M453.5 255.2h0M450.4 260.1h0M449.7 258.3h0M451.3 260.2h0M453.3 258.1h0M451.6 259.2h0M454.5 255.7h0" stroke="#da493d" stroke-width="0.95" stroke-linecap="round" fill="none"/>
<path d="M457.5 261.8h0M456.7 261.8h0M454.1 260.3h0M455.5 260.8h0M453.0 262.0h0M456.2 259.1h0M457.4 257.2h0M458.2 259.1h0M456.5 260.8h0M453.5 261.5h0M457.1 255.5h0M457.5 261.2h0M452.8 258.9h0M458.1 260.9h0M460.7 256.1h0M457.3 257.3h0M457.9 254.8h0M455.9 255.4h0M455.8 258.9h0M457.3 255.5h0M459.4 259.2h0M458.2 261.0h0M456.0 265.1h0M459.6 260.1h0M458.3 259.2h0M461.4 255.9h0M455.1 260.0h0M455.3 260.4h0M457.7 262.2h0M457.0 263.3h0M452.8 261.6h0M456.8 264.5h0M455.3 262.0h0M452.6 263.5h0M455.0 260.7h0M456.6 261.2h0M453.4 259.6h0M458.3 260.8h0M458.9 258.8h0M456.6 256.3h0M454.6 261.9h0M457.8 255.9h0M454.8 262.7h0M456.5 257.9h0M457.1 257.0h0M454.0 261.3h0M459.0 257.0h0M453.2 260.3h0M456.9 264.6h0M455.0 263.9h0M458.4 257.3h0M454.3 258.1h0M454.0 257.3h0M455.7 255.1h0M458.3 258.9h0M456.3 256.1h0M453.7 258.9h0M456.3 262.7h0M456.6 253.8h0M457.9 260.8h0M455.5 260.0h0M455.4 259.9h0M458.4 257.1h0M459.1 257.0h0M458.9 255.9h0M454.1 258.8h0M456.6 263.7h0M457.4 258.6h0M455.0 260.2h0M452.1 261.1h0M456.2 258.2h0M454.8 261.5h0M456.8 254.2h0M455.5 256.4h0M452.2 261.9h0M453.8 258.2h0M452.9 263.4h0M456.0 255.8h0M454.6 258.0h0M457.0 256.3h0M455.1 260.2h0M457.2 260.4h0M453.8 262.1h0M460.1 256.2h0M457.7 257.1h0M457.2 259.1h0M452.4 260.5h0M454.0 261.9h0M454.1 261.1h0M453.8 258.9h0M456.8 262.3h0M455.3 262.6h0M455.2 258.3h0M456.8 262.5h0M454.6 257.5h0M457.4 254.5h0M458.3 256.0h0M458.2 262.9h0M453.3 260.5h0M456.4 255.2h0M452.6 260.4h0M454.6 263.7h0M455.6 259.2h0M456.0 260.5h0M456.8 254.9h0M457.6 260.6h0M455.8 264.4h0M457.0 264.1h0M458.0 262.9h0M458.3 261.6h0M457.3 254.6h0M455.2 257.1h0M452.7 263.1h0M456.1 263.7h0M456.2 263.9h0M459.4 258.0h0M454.8 262.1h0M460.1 255.5h0M455.9 263.9h0M454.3 259.1h0M456.1 263.8h0M456.0 262.8h0M458.8 258.6h0M458.5 255.8h0M458.6 255.8h0M452.6 260.8h0M456.1 263.7h0M455.1 256.8h0M454.9 262.5h0M458.0 263.4h0M454.2 257.1h0M458.8 257.0h0M454.6 256.9h0M460.3 256.6h0M455.6 262.3h0M456.0 261.4h0M455.6 263.2h0M455.4 256.3h0M457.0 256.5h0M454.9 264.3h0M459.1 259.6h0M456.0 256.7h0M452.7 262.2h0M454.5 256.4h0M455.1 263.8h0M456.9 256.7h0M457.3 257.3h0M457.1 259.8h0M457.4 261.2h0M453.5 261.3h0M460.3 259.5h0M459.2 258.6h0M456.6 257.5h0M452.2 261.8h0M459.3 255.9h0M457.4 257.6h0M455.3 258.7h0M457.1 264.9h0M457.1 261.2h0M456.2 260.7h0M456.0 260.1h0M457.8 256.6h0M457.6 261.2h0M454.4 256.4h0M456.3 254.3h0M459.5 255.1h0M458.4 260.2h0M457.9 263.1h0M452.3 260.4h0M458.3 261.1h0M455.9 264.2h0M456.8 253.7h0M460.3 258.3h0M457.0 261.5h0M454.5 261.7h0M456.1 261.9h0M457.5 256.3h0M457.1 255.8h0M455.9 260.2h0M456.5 262.8h0M458.9 258.1h0M454.5 259.1h0M454.2 262.6h0M456.5 258.9h0M458.2 263.3h0M455.1 260.2h0M455.0 257.2h0M457.2 263.1h0M455.6 258.7h0M458.8 255.3h0M456.7 260.2h0M458.6 255.0h0M453.4 260.7h0M457.4 255.1h0M455.4 255.8h0M455.6 256.2h0M456.9 257.1h0M456.7 263.6h0M457.9 258.6h0M454.8 259.8h0M458.1 256.0h0M454.4 259.3h0M455.6 262.4h0M456.4 263.0h0M458.7 257.8h0M456.6 258.1h0M455.7 255.9h0" stroke="#d53e38" stroke-width="0.95" stroke-linecap="round" fill="none"/>
<path d="M463.0 258.9h0M465.6 262.9h0M460.8 266.0h0M459.3 262.8h0M467.6 261.2h0M463.1 265.1h0M464.9 262.6h0M462.1 258.2h0M466.6 262.2h0M463.1 263.8h0M460.0 265.9h0M457.7 265.4h0M460.0 260.8h0M464.9 261.5h0M456.7 264.5h0M464.0 259.1h0M458.0 266.2h0M461.3 267.6h0M459.0 265.7h0M459.7 262.2h0M460.9 265.9h0M463.3 261.8h0M460.1 266.3h0M459.5 262.7h0M458.9 263.4h0M461.1 259.4h0M459.7 264.2h0M461.4 266.0h0M458.2 263.0h0M460.2 267.0h0M466.3 259.9h0M466.4 262.5h0M460.6 260.4h0M460.0 266.6h0M463.8 260.9h0M459.4 264.2h0M462.8 260.3h0M462.5 259.9h0M460.6 266.0h0M463.1 257.4h0M458.0 263.5h0M460.2 260.7h0M462.0 263.9h0M460.5 266.7h0M463.7 259.1h0M461.4 259.4h0M460.9 259.9h0M463.6 260.6h0M461.4 258.8h0M461.9 261.6h0M467.1 260.8h0M462.8 259.1h0M459.5 264.1h0M461.1 259.9h0M460.0 263.1h0M458.0 265.4h0M460.8 261.3h0M460.6 265.3h0M461.7 262.3h0M462.5 265.1h0M461.0 265.0h0M462.2 266.5h0M461.8 261.6h0M463.4 264.0h0M462.0 258.5h0M464.4 260.1h0M464.6 262.7h0M458.7 262.1h0M460.2 264.6h0M460.3 265.9h0M461.2 264.5h0M458.5 262.2h0M464.5 263.4h0M460.8 265.3h0M466.4 262.3h0M463.6 264.6h0M465.2 262.7h0M459.9 265.8h0M465.2 263.9h0M461.3 266.8h0M462.8 263.9h0M462.8 264.0h0M464.0 264.9h0M458.4 264.4h0M466.1 262.9h0M457.4 264.1h0M464.6 262.7h0M461.1 265.3h0M466.1 263.6h0M462.2 258.6h0M467.0 260.5h0M462.0 264.7h0M465.0 262.4h0M466.1 262.2h0M466.0 261.7h0M460.3 260.9h0M463.6 261.9h0M459.7 266.6h0M462.9 262.9h0M461.8 266.1h0M459.8 262.8h0M458.9 261.3h0M462.5 259.3h0M462.4 262.5h0M461.6 266.2h0M464.9 264.3h0M458.4 264.1h0M462.5 263.8h0M462.2 261.4h0M462.2 257.6h0M460.3 265.5h0M459.3 261.7h0M458.8 265.5h0M460.8 260.8h0M462.9 264.8h0M462.3 263.7h0M458.2 264.9h0M465.1 259.8h0M466.1 261.2h0M460.9 259.0h0M462.1 259.4h0M461.6 266.8h0M462.5 263.9h0M458.5 265.1h0M460.0 262.5h0M467.5 260.2h0M466.3 262.5h0M462.2 256.3h0M466.4 262.4h0M461.5 265.1h0M460.0 264.2h0M465.3 261.6h0M462.9 263.1h0M459.5 262.6h0M461.5 257.7h0M461.8 265.3h0M460.9 260.1h0M462.7 258.7h0M458.7 263.2h0M461.2 264.4h0M463.2 261.9h0M460.6 261.7h0M461.3 258.5h0M462.7 257.6h0M465.2 263.4h0M458.5 265.6h0M465.7 261.6h0M460.6 266.0h0M461.0 265.3h0M463.7 263.8h0M459.2 263.3h0M465.3 262.2h0M461.4 265.8h0M463.7 262.9h0M463.4 259.5h0M461.6 261.9h0M462.6 257.3h0M463.1 263.5h0M460.0 262.9h0M464.8 258.8h0M460.4 261.2h0M461.8 265.1h0M457.7 264.8h0M465.6 262.7h0M464.1 263.8h0M461.3 258.9h0M458.3 264.8h0M459.2 261.4h0M459.4 265.6h0M461.7 267.0h0M458.4 262.7h0M458.5 265.5h0M459.8 263.4h0M460.9 265.3h0M463.9 264.6h0M462.4 261.0h0M461.0 265.4h0M462.1 261.0h0M461.2 264.9h0M464.5 262.7h0M462.4 260.4h0M461.9 266.5h0M464.6 258.4h0M459.0 263.8h0M463.8 262.5h0M463.3 259.1h0M460.7 267.4h0M466.9 262.2h0M459.4 266.4h0M459.9 260.7h0M463.2 257.6h0M456.8 265.6h0M466.2 259.8h0M460.4 265.9h0M466.4 262.1h0M460.1 266.1h0M462.1 257.7h0M461.9 257.6h0M461.1 262.2h0M460.8 259.0h0M462.0 266.1h0M460.6 266.2h0M461.7 266.4h0M465.0 262.5h0M466.1 261.7h0M459.3 263.2h0M460.6 263.6h0M461.7 257.1h0M461.3 262.2h0M460.1 261.7h0M462.7 259.5h0M464.5 264.3h0M464.3 259.4h0M464.5 260.0h0M461.2 267.1h0M464.1 263.0h0M463.9 260.6h0M466.6 261.5h0M465.6 261.1h0M461.9 264.3h0M463.7 259.0h0M457.2 264.0h0M460.3 266.1h0M463.2 264.0h0M460.9 264.3h0M462.4 257.6h0M457.3 265.7h0M461.0 261.2h0M463.6 260.2h0M461.9 263.0h0" stroke="#cf3333" stroke-width="0.95" stroke-linecap="round" fill="none"/>
<path d="M470.8 265.7h0M468.5 262.9h0M465.4 271.8h0M465.3 264.3h0M465.5 268.2h0M469.1 266.1h0M468.2 264.1h0M468.2 265.0h0M461.9 268.0h0M464.6 267.4h0M463.8 267.9h0M461.7 267.3h0M469.1 266.3h0M465.0 264.8h0M463.2 266.5h0M469.6 265.9h0M468.3 269.1h0M468.3 261.4h0M463.7 269.2h0M468.9 262.9h0M467.3 262.4h0M466.1 271.2h0M466.2 266.3h0M468.4 267.8h0M461.7 267.9h0M471.0 265.4h0M463.7 267.2h0M467.0 263.4h0M462.7 266.5h0M463.4 268.7h0M467.7 269.7h0M464.2 265.7h0M466.0 265.8h0M467.9 262.5h0M468.2 261.9h0M470.4 267.2h0M467.5 267.2h0M463.4 268.6h0M465.8 271.6h0M464.8 265.1h0M461.8 268.8h0M465.6 269.3h0M463.3 268.4h0M470.3 266.6h0M461.4 267.8h0M467.8 266.9h0M466.5 264.0h0M465.5 264.5h0M467.6 267.8h0M467.7 269.6h0M466.9 266.3h0M464.7 271.4h0M468.3 268.0h0M465.2 270.1h0M469.7 267.4h0M463.5 269.4h0M466.1 264.6h0M469.2 267.7h0M463.7 265.9h0M467.0 270.6h0M466.1 269.5h0M468.3 265.5h0M465.4 271.3h0M466.1 266.8h0M467.2 267.8h0M465.3 266.0h0M465.3 269.0h0M469.7 264.8h0M468.1 266.5h0M467.4 263.1h0M467.5 268.9h0M470.0 264.9h0M467.4 263.7h0M468.9 262.7h0M467.5 265.4h0M467.3 264.6h0M468.8 264.1h0M464.1 271.0h0M468.9 263.1h0M464.3 270.5h0M468.4 268.4h0M462.5 266.7h0M468.4 263.3h0M462.3 268.7h0M467.8 267.1h0M465.2 270.8h0M465.0 267.7h0M465.4 269.1h0M465.9 270.1h0M465.4 265.7h0M462.5 269.4h0M464.6 270.1h0M469.3 263.4h0M466.9 270.2h0M465.1 266.9h0M462.6 270.2h0M466.6 268.5h0M467.6 264.4h0M465.9 267.3h0M468.1 265.3h0M463.3 268.8h0M470.3 267.4h0M463.8 270.7h0M463.6 269.4h0M465.9 265.7h0M468.1 261.3h0M467.7 267.7h0M467.5 265.5h0M470.4 268.0h0M466.2 265.1h0M467.9 267.1h0M469.9 267.9h0M464.0 269.0h0M466.3 266.3h0M467.6 268.8h0M468.4 265.6h0M464.5 271.1h0M466.1 269.6h0M464.4 268.0h0M467.1 270.6h0M464.2 271.4h0M467.2 262.7h0M465.5 271.2h0M463.3 267.4h0M467.4 263.4h0M465.2 265.6h0M469.2 266.5h0M463.5 265.8h0M471.0 266.8h0M469.7 263.8h0M465.2 270.0h0M466.4 268.9h0M462.2 268.6h0M464.1 268.3h0M466.5 270.6h0M463.6 267.9h0M468.0 269.0h0M463.4 270.5h0M467.8 263.0h0M470.2 266.1h0M466.4 269.3h0M467.4 262.8h0M462.7 267.0h0M465.1 266.0h0M470.5 266.0h0M461.7 266.6h0M469.3 268.8h0M462.9 267.9h0M467.2 267.0h0M467.0 270.8h0M469.0 267.9h0M467.2 268.2h0M467.2 264.4h0M465.6 265.3h0M465.4 271.0h0M468.4 268.0h0M467.4 267.5h0M468.7 264.9h0M467.5 267.1h0M469.9 263.4h0M469.4 265.5h0M465.6 266.5h0M463.9 270.8h0M465.5 269.9h0M470.2 266.1h0M469.2 267.7h0M467.8 268.3h0M468.0 268.1h0M465.5 264.6h0M467.2 264.8h0M468.1 268.8h0M463.2 270.0h0M460.9 267.5h0M468.9 264.5h0M465.2 266.7h0M467.2 266.5h0M463.7 268.2h0M466.9 269.4h0M469.5 266.5h0M463.0 268.2h0M466.3 268.5h0M463.0 268.6h0M469.0 265.9h0M468.2 264.5h0M469.3 263.4h0M468.4 269.4h0M466.7 268.6h0M467.9 261.9h0M463.4 269.1h0M467.6 262.0h0M469.4 265.9h0M464.4 266.5h0M469.4 267.4h0M470.0 267.9h0M467.3 270.1h0M469.9 263.9h0M467.1 264.0h0M470.1 265.4h0M465.7 268.4h0M466.0 269.2h0M465.6 265.8h0M466.8 271.2h0M464.0 270.6h0" stroke="#ca282e" stroke-width="0.95" stroke-linecap="round" fill="none"/>
<path d="M469.2 275.8h0M473.0 273.8h0M468.1 275.8h0M467.3 271.7h0M473.7 274.2h0M467.2 275.4h0M469.3 275.5h0M473.7 272.7h0M468.0 275.5h0M473.4 272.2h0M473.2 269.9h0M472.8 270.0h0M470.7 270.2h0M465.9 274.0h0M468.3 272.8h0M469.6 275.1h0M473.3 269.9h0M471.1 274.9h0M467.7 271.2h0M473.4 271.6h0M470.9 271.2h0M465.1 272.5h0M470.2 272.1h0M467.6 273.8h0M469.6 274.2h0M467.8 273.3h0M466.1 274.0h0M465.4 273.8h0M472.4 272.8h0M469.5 268.6h0M465.0 272.7h0M471.1 272.5h0M469.1 273.1h0M470.2 272.1h0M466.1 273.3h0M467.5 270.7h0M466.3 274.1h0M468.1 274.2h0M469.7 274.7h0M465.6 271.4h0M473.3 269.3h0M471.2 274.7h0M472.6 273.3h0M473.3 273.1h0M468.7 273.1h0M470.6 269.8h0M473.6 273.6h0M465.6 273.6h0M469.8 275.1h0M465.6 272.6h0M467.3 272.4h0M466.3 275.9h0M468.2 272.1h0M466.9 274.6h0M467.2 271.9h0M465.0 272.4h0M471.6 271.3h0M473.0 271.9h0M470.4 272.1h0M472.5 269.5h0M467.1 270.9h0M467.3 275.4h0M464.6 272.1h0M471.8 274.8h0M467.5 276.4h0M467.5 272.2h0M468.4 273.6h0M468.2 275.5h0M465.7 276.1h0M471.6 274.3h0M472.5 272.5h0M469.8 268.7h0M471.3 271.7h0M469.5 269.1h0M465.0 274.0h0M465.8 274.1h0M466.2 274.2h0M472.5 272.4h0M469.3 268.5h0M467.6 273.8h0M469.7 272.3h0M467.6 273.0h0M472.9 273.6h0M471.0 268.1h0M472.5 270.7h0M465.0 271.6h0M469.6 270.7h0M466.4 273.8h0M468.5 271.8h0M467.0 274.4h0M468.6 272.2h0M474.1 270.4h0M469.3 275.1h0M467.2 270.3h0M469.4 269.4h0M469.1 274.4h0M469.2 274.6h0M469.0 271.0h0M469.6 272.1h0M466.1 274.0h0M470.2 270.7h0M469.2 274.4h0M465.7 272.0h0M474.2 275.4h0M471.3 274.3h0M471.0 273.4h0M473.5 274.4h0M467.7 274.3h0M465.2 272.3h0M471.4 270.3h0M467.4 276.0h0M474.4 273.7h0M469.1 270.6h0M465.9 272.7h0M468.0 271.1h0M468.3 274.0h0M473.4 271.6h0M472.2 269.5h0M472.2 273.5h0M472.6 275.0h0M469.2 274.3h0M473.0 274.3h0M474.1 273.5h0M469.4 272.3h0M471.4 271.1h0M468.8 270.7h0M472.2 272.6h0M465.9 273.9h0M470.3 271.2h0M469.2 269.9h0M467.9 274.3h0M470.9 271.0h0M469.6 271.7h0M466.4 271.3h0M470.8 274.6h0M473.7 274.8h0M469.8 269.2h0M470.5 275.5h0M468.2 273.9h0M472.4 270.3h0M467.0 271.7h0M473.3 269.3h0M470.2 274.0h0M470.3 275.0h0M471.3 275.1h0M465.4 272.5h0M472.1 274.2h0M472.1 271.2h0M469.3 275.4h0M469.7 273.3h0M472.8 271.9h0M471.9 273.5h0M468.3 272.7h0M467.5 270.8h0M469.1 271.9h0M467.7 273.2h0M469.2 270.4h0M472.9 270.3h0M471.2 270.0h0M472.9 271.6h0M468.0 270.7h0M468.5 276.0h0M469.4 269.9h0M470.9 274.5h0M469.8 273.4h0M470.6 267.6h0M472.6 271.9h0M472.0 274.4h0M470.6 270.5h0M470.1 270.5h0M471.9 270.6h0M471.8 274.9h0M471.3 268.1h0M465.0 271.6h0M469.8 271.0h0M465.3 272.2h0M466.1 274.2h0M468.8 273.0h0M472.1 273.1h0M467.1 273.0h0M468.7 272.8h0M467.8 270.6h0M470.2 274.8h0M473.3 273.2h0M469.1 269.3h0M467.0 274.3h0M468.5 275.3h0M465.4 274.7h0M465.4 271.1h0M471.5 270.3h0M470.0 268.6h0M474.0 272.3h0M471.6 274.7h0M467.6 271.1h0M469.3 274.3h0M467.9 271.4h0M472.9 270.4h0M469.2 271.0h0M466.7 271.2h0M465.2 272.2h0M470.3 274.7h0M468.8 274.8h0M471.3 270.8h0M471.0 272.9h0M474.2 273.4h0M471.0 273.6h0M474.1 272.7h0M473.3 272.9h0M464.8 271.8h0M469.8 273.0h0M473.7 274.4h0M472.3 271.4h0M467.4 272.2h0M468.3 275.6h0M468.9 271.3h0M465.7 273.1h0M466.2 271.8h0M469.7 274.0h0M467.8 273.4h0M471.3 267.3h0M470.4 271.1h0M472.0 266.6h0M467.9 272.0h0M468.7 270.8h0M468.4 270.8h0M466.5 271.6h0M469.9 268.1h0M474.7 274.9h0M472.5 271.3h0M466.8 271.6h0M471.0 273.4h0M465.2 272.3h0M469.2 269.3h0M469.0 272.9h0M473.6 271.0h0M473.2 275.2h0" stroke="#c42029" stroke-width="0.95" stroke-linecap="round" fill="none"/>
<path d="M474.4 279.4h0M473.3 281.9h0M467.6 277.1h0M468.3 279.2h0M471.6 282.5h0M470.3 282.5h0M469.8 277.6h0M468.3 280.6h0M471.8 275.3h0M470.0 277.2h0M473.8 276.9h0M473.9 281.7h0M470.1 280.1h0M466.3 277.6h0M471.6 276.3h0M467.6 277.0h0M471.8 276.4h0M467.4 277.1h0M470.4 280.8h0M473.4 281.1h0M467.0 279.3h0M470.9 279.9h0M470.5 278.6h0M470.4 280.2h0M467.1 276.8h0M468.4 282.6h0M473.2 278.7h0M470.1 277.7h0M467.2 278.2h0M470.8 281.5h0M468.6 278.7h0M469.5 276.4h0M471.7 277.5h0M467.2 278.1h0M470.0 279.6h0M468.6 278.2h0M466.1 276.6h0M470.9 276.9h0M471.7 277.6h0M473.7 276.5h0M468.7 277.0h0M467.4 282.5h0M473.6 280.7h0M474.0 279.9h0M466.4 276.8h0M467.5 282.2h0M471.8 280.3h0M470.7 277.1h0M473.6 275.3h0M469.1 281.3h0M473.9 275.3h0M471.5 281.5h0M472.9 277.5h0M468.2 280.6h0M466.6 276.5h0M472.3 281.8h0M471.4 282.4h0M474.8 278.3h0M469.4 282.1h0M473.4 277.3h0M467.8 282.4h0M471.9 278.7h0M467.4 277.6h0M474.0 275.8h0M469.9 278.5h0M471.4 277.6h0M468.9 277.5h0M472.5 275.7h0M470.1 280.4h0M470.6 279.1h0M471.7 279.7h0M467.1 282.1h0M474.7 277.4h0M475.1 280.1h0M474.9 281.0h0M472.5 281.4h0M474.1 282.2h0M475.1 281.5h0M473.6 276.1h0M468.5 280.5h0M473.3 276.3h0M467.2 282.1h0M472.3 278.7h0M473.0 281.3h0M470.3 281.6h0M471.4 280.0h0M473.9 280.2h0M469.9 282.4h0M473.0 278.6h0M472.2 277.9h0M470.2 281.3h0M470.9 276.2h0M470.9 277.3h0M467.7 281.7h0M468.1 278.3h0M473.0 279.1h0M468.9 277.4h0M470.5 280.1h0M467.3 281.2h0M473.9 276.6h0M467.5 275.9h0M467.6 282.6h0M470.5 280.9h0M473.6 278.0h0M473.5 281.4h0M474.2 281.5h0M473.6 276.8h0M468.0 280.6h0M472.3 279.2h0M469.7 279.6h0M466.7 276.8h0M467.0 277.8h0M469.3 279.2h0M469.2 279.6h0M471.6 281.3h0M473.0 282.1h0M471.0 282.2h0M470.8 279.5h0M473.4 275.2h0M468.3 279.4h0M467.9 280.4h0M474.3 279.0h0M473.2 278.7h0M472.3 275.6h0M469.6 277.6h0M469.4 279.5h0M474.8 281.8h0M470.5 282.8h0M470.2 278.0h0M468.2 282.4h0M469.7 282.2h0M471.6 279.4h0M468.0 279.4h0M473.7 280.0h0M467.5 282.5h0M471.2 282.6h0M471.9 280.5h0M468.7 281.5h0M470.2 282.9h0M468.2 281.7h0M472.7 275.6h0M470.8 281.3h0M475.4 281.7h0M470.2 277.8h0M471.2 280.7h0M472.1 276.7h0M471.1 280.2h0M472.1 282.2h0M469.5 281.5h0M470.2 280.7h0M467.9 278.9h0M470.5 276.0h0M475.3 281.5h0M470.5 276.0h0M472.8 281.2h0M475.0 280.4h0M473.5 278.5h0M469.7 276.4h0M470.8 279.0h0M473.1 281.0h0M470.1 281.4h0M473.7 279.7h0M472.0 282.2h0M474.0 276.0h0M472.4 277.8h0M469.2 278.2h0M470.3 279.9h0M470.6 280.2h0M470.2 276.0h0M474.6 277.6h0M469.4 279.1h0M471.9 278.2h0M472.5 275.0h0M471.9 276.7h0M473.3 279.3h0M474.8 281.9h0M472.1 275.9h0M469.6 280.1h0M473.0 277.5h0M467.4 279.6h0M470.4 276.4h0M473.9 274.4h0M467.1 280.7h0M468.8 278.1h0M470.7 281.1h0M468.3 277.2h0M467.0 278.0h0M467.6 280.9h0M467.0 277.0h0M473.8 275.7h0M468.7 278.7h0M467.7 276.3h0M469.8 281.4h0M472.2 276.2h0M475.6 278.9h0M470.1 278.2h0M472.1 275.8h0M474.6 274.9h0M466.9 278.2h0M471.9 281.4h0M470.8 279.5h0M470.9 279.0h0M473.6 275.3h0M467.1 277.3h0M467.9 281.6h0M472.4 282.4h0M471.3 280.3h0M469.9 279.5h0M472.1 279.9h0M468.8 277.0h0M469.7 276.6h0M467.7 280.3h0M471.6 281.9h0" stroke="#bd1b25" stroke-width="0.95" stroke-linecap="round" fill="none"/>
<path d="M474.1 286.8h0M471.4 288.3h0M468.5 287.4h0M473.6 283.9h0M470.2 283.8h0M470.3 287.6h0M471.7 287.7h0M469.0 288.5h0M470.7 285.9h0M469.5 286.2h0M470.4 283.2h0M469.1 284.4h0M474.3 284.6h0M471.7 284.0h0M472.7 288.0h0M474.6 283.5h0M470.8 287.3h0M473.5 284.7h0M467.6 288.7h0M474.7 283.0h0M473.8 288.9h0M469.4 285.4h0M468.5 285.2h0M469.4 286.6h0M471.3 288.7h0M469.5 286.2h0M473.2 287.2h0M471.7 287.8h0M471.5 288.7h0M467.8 285.8h0M468.9 284.4h0M469.9 286.1h0M473.3 286.4h0M467.3 289.6h0M468.2 289.5h0M472.6 289.0h0M471.6 284.4h0M470.1 286.6h0M468.9 287.9h0M472.6 287.0h0M474.3 286.7h0M472.6 286.0h0M473.6 285.8h0M467.4 286.0h0M470.3 288.1h0M472.6 285.0h0M473.5 288.9h0M467.8 284.1h0M466.9 287.5h0M474.7 285.4h0M469.3 288.1h0M470.5 283.4h0M475.0 287.1h0M470.4 286.3h0M470.2 284.4h0M470.8 287.0h0M467.7 285.1h0M470.9 284.3h0M471.7 288.1h0M470.1 285.7h0M475.2 286.0h0M471.4 289.5h0M470.3 285.2h0M469.5 289.3h0M472.5 282.5h0M467.4 288.8h0M468.1 282.8h0M473.5 284.6h0M472.3 282.9h0M475.3 286.6h0M473.9 283.5h0M474.4 288.6h0M471.3 287.6h0M469.5 285.6h0M468.1 285.9h0M470.1 286.2h0M472.6 288.6h0M473.5 289.2h0M473.4 286.1h0M472.3 286.7h0M468.5 282.9h0M469.0 287.9h0M474.8 286.1h0M467.2 285.9h0M469.9 288.5h0M471.9 286.0h0M466.8 284.5h0M469.5 289.9h0M473.6 282.6h0M468.7 283.6h0M470.6 289.0h0M473.4 285.5h0M474.2 284.1h0M471.2 285.3h0M472.9 287.7h0M474.6 285.3h0M474.8 287.2h0M471.0 285.0h0M469.6 286.5h0M472.0 287.0h0M472.5 289.7h0M468.8 283.8h0M472.5 287.2h0M467.7 289.1h0M470.8 289.3h0M472.6 282.1h0M470.8 284.6h0M473.1 286.2h0M469.1 283.9h0M474.1 288.1h0M472.4 288.9h0M468.5 285.8h0M470.6 284.7h0M470.5 288.2h0M469.4 285.2h0M468.8 283.0h0M468.6 283.6h0M475.0 285.9h0M470.2 285.7h0M469.0 285.0h0M471.8 283.1h0M473.9 289.5h0M475.6 282.8h0M475.7 289.2h0M473.5 287.7h0M466.9 288.6h0M475.1 283.4h0M474.0 283.7h0M473.6 287.4h0M474.4 285.8h0M466.9 288.9h0M471.8 287.3h0M475.2 285.0h0M472.0 288.2h0M472.1 288.5h0M468.5 288.5h0M468.9 284.9h0M473.3 288.5h0M473.7 283.0h0M467.8 287.7h0M466.7 283.2h0M467.0 282.7h0M468.5 285.9h0M474.5 284.0h0M475.7 284.3h0M472.5 285.0h0M469.2 288.3h0M468.0 282.9h0M471.3 286.9h0M472.6 284.0h0M474.6 288.4h0M467.5 285.1h0M472.9 286.0h0M475.0 286.1h0M469.3 285.2h0M472.8 286.9h0M467.6 284.2h0M471.1 288.6h0M470.1 286.7h0M474.9 288.2h0M469.9 289.3h0M469.9 284.9h0M475.5 285.3h0M472.7 285.5h0M474.6 286.0h0M473.8 286.6h0M473.9 288.2h0M473.7 288.7h0M468.4 286.0h0M473.1 286.7h0M470.9 287.6h0M467.4 283.3h0M471.9 282.5h0M468.3 286.9h0M473.5 288.5h0M474.9 287.6h0M467.3 282.6h0M469.0 288.6h0M469.5 286.8h0M474.0 287.4h0M470.6 283.8h0M472.6 286.6h0M472.8 285.4h0M469.0 286.9h0M469.5 287.6h0M469.6 285.3h0M473.3 282.7h0M472.7 288.1h0M470.8 288.2h0M468.7 287.2h0M467.4 288.1h0M471.3 287.9h0M472.1 284.3h0M469.3 283.2h0M472.4 285.6h0M471.3 286.3h0M467.7 289.3h0M472.5 284.5h0M472.2 286.3h0M474.1 287.0h0M467.1 284.0h0M473.4 286.6h0M471.7 289.1h0M475.3 284.5h0M467.8 289.0h0M472.9 289.4h0M468.2 285.5h0M472.5 286.4h0M472.8 288.8h0M474.7 284.5h0M469.0 283.0h0M473.9 285.8h0M467.7 286.3h0M470.7 285.6h0M473.4 288.5h0M474.3 288.9h0M473.3 288.0h0M473.0 286.6h0M474.5 284.2h0M472.3 285.6h0M471.6 285.1h0M473.1 285.0h0M474.1 287.3h0M470.4 284.2h0M468.4 287.8h0M474.5 288.2h0M470.6 285.6h0M473.2 286.1h0M474.8 285.1h0M467.4 284.7h0M471.1 284.3h0M472.6 285.3h0M470.1 285.0h0M467.4 289.3h0M474.7 287.0h0M468.8 288.6h0M469.9 288.0h0M473.5 285.4h0M474.8 283.9h0M468.9 286.5h0" stroke="#b61521" stroke-width="0.95" stroke-linecap="round" fill="none"/>
<path d="M469.1 292.4h0M473.6 291.8h0M475.1 290.8h0M473.0 291.1h0M469.1 290.9h0M471.2 290.7h0M473.8 290.2h0M474.2 292.2h0M474.3 290.9h0M474.2 292.6h0M474.7 291.9h0M472.6 290.2h0M471.6 291.7h0M474.5 290.0h0M470.8 290.6h0M475.4 292.4h0M469.3 291.8h0M475.2 292.0h0M471.2 290.7h0M475.3 291.0h0M469.9 292.7h0M475.7 289.8h0M473.6 291.2h0M475.9 290.3h0M468.3 289.8h0M473.7 290.6h0M467.6 292.1h0M471.3 293.1h0M470.5 291.1h0M470.4 291.2h0M472.2 289.4h0M474.7 291.5h0M468.3 292.0h0M470.4 292.6h0M473.5 290.5h0M468.1 291.1h0M471.0 290.4h0M473.3 290.5h0M469.3 292.0h0M470.5 292.8h0M471.8 292.2h0M471.5 291.7h0M470.3 292.2h0M471.3 292.8h0M470.4 292.5h0M470.2 292.1h0M472.9 291.7h0M471.0 292.3h0M472.8 291.3h0M471.5 290.6h0M468.2 292.3h0M473.0 290.4h0M471.6 289.5h0M471.4 293.0h0M470.1 290.9h0M475.1 292.3h0M468.2 291.0h0M474.8 289.8h0M472.4 289.9h0M467.8 291.4h0M470.8 292.5h0M470.7 291.7h0M467.6 290.7h0M473.0 293.0h0M472.8 292.1h0M470.8 292.5h0M475.1 291.5h0M475.2 289.8h0M475.3 292.2h0M475.9 291.0h0M474.2 291.9h0M474.3 292.3h0M471.4 291.2h0M474.4 290.4h0M468.9 292.2h0M466.7 292.7h0M473.6 291.5h0M472.3 291.8h0M469.1 292.4h0M472.4 291.5h0M473.8 289.9h0M470.9 292.8h0M471.1 292.3h0M474.9 291.9h0M469.6 291.7h0M468.4 290.1h0M474.5 291.9h0M470.3 290.9h0M470.1 290.9h0M468.7 292.4h0M469.9 290.4h0M469.6 292.1h0M467.8 290.5h0M474.5 291.9h0M475.0 291.5h0M474.5 292.6h0M466.9 292.2h0M474.4 289.2h0M468.2 289.4h0M473.2 293.2h0M470.4 291.3h0M467.4 291.9h0M467.9 290.4h0M473.3 290.0h0M474.5 292.3h0M473.4 289.7h0M467.8 291.4h0M470.2 288.9h0M474.2 289.3h0M467.6 289.7h0M473.2 291.3h0M468.1 290.8h0M475.3 291.1h0M471.3 291.2h0M472.9 292.3h0M474.1 291.7h0M472.6 290.5h0M474.0 292.4h0M470.0 293.5h0" stroke="#b0101e" stroke-width="0.95" stroke-linecap="round" fill="none"/>
<path d="M435.1 259.7h0M459.1 263.7h0M428.7 266.4h0M448.3 268.5h0M427.6 262.5h0M450.0 262.7h0M446.0 261.8h0M432.7 266.1h0M458.9 263.0h0M457.6 263.0h0M421.9 267.2h0M426.2 264.1h0M426.3 269.2h0M427.5 261.7h0M433.9 261.6h0M430.9 259.5h0M424.8 265.1h0M445.7 269.7h0M448.4 264.6h0M454.0 267.1h0M440.1 265.1h0M434.3 262.4h0M441.2 268.0h0M438.9 262.9h0M444.6 261.5h0M447.0 259.9h0M438.8 268.1h0M444.8 259.7h0M437.3 260.7h0M457.3 264.3h0M447.4 261.4h0M459.0 261.4h0M450.7 265.7h0M443.5 267.3h0M422.4 269.2h0M424.5 268.3h0M433.7 262.9h0M433.0 264.5h0M429.4 261.5h0M443.7 263.6h0M425.6 264.2h0M446.4 269.8h0M452.2 269.3h0M424.4 263.8h0M432.6 268.7h0M449.7 266.6h0M454.9 263.0h0M439.5 261.4h0M430.8 267.1h0M428.6 259.7h0M451.6 264.5h0M431.6 261.9h0M435.4 268.9h0M458.9 262.8h0M425.4 268.1h0M438.7 262.3h0M449.7 264.3h0M450.1 267.1h0M420.6 266.7h0M453.3 260.2h0" stroke="#e27252" stroke-width="0.8" stroke-linecap="round" fill="none"/>
<path d="M443.8 247.7h0M443.7 246.8h0M454.0 247.8h0M457.2 246.4h0M441.5 247.8h0M450.0 245.0h0M456.2 247.8h0M457.0 244.9h0M451.3 246.8h0M459.8 247.8h0M444.6 246.9h0M454.1 245.4h0M458.4 244.5h0M458.3 247.8h0M448.2 246.5h0M441.2 246.1h0M442.8 247.0h0M440.4 246.9h0" stroke="#d85040" stroke-width="0.8" stroke-linecap="round" fill="none"/>
<path d="M461.3 286.1h0M466.2 291.6h0M463.6 283.2h0M455.4 284.8h0M460.4 289.0h0M460.4 283.6h0M466.3 286.0h0M466.8 288.5h0M455.8 283.6h0M466.4 292.4h0M458.1 276.2h0M459.5 293.9h0M466.9 295.4h0M467.0 289.6h0M456.5 280.2h0M466.1 296.0h0M461.6 278.4h0M461.8 286.7h0M466.9 280.9h0M461.0 281.1h0M466.0 289.3h0M457.8 279.5h0M459.1 292.5h0M460.2 276.8h0M462.9 278.3h0" stroke="#c82a30" stroke-width="0.8" stroke-linecap="round" fill="none"/>
<defs><marker id="ah" markerWidth="6" markerHeight="6" refX="5" refY="3" orient="auto" markerUnits="userSpaceOnUse"><path d="M0 0.8L5.2 3L0 5.2z" fill="#231f20"/></marker></defs>
<line x1="394.3" y1="216.2" x2="401.2" y2="243.9" stroke="#231f20" stroke-width="0.9" marker-end="url(#ah)"/>
<line x1="410.1" y1="263.5" x2="458.1" y2="293.5" stroke="#231f20" stroke-width="0.9" marker-end="url(#ah)"/>
<line x1="403.4" y1="267.4" x2="392.3" y2="320" stroke="#231f20" stroke-width="0.9" marker-end="url(#ah)"/>
<line x1="117" y1="388" x2="117" y2="501.5" stroke="#231f20" stroke-width="1" />
<line x1="116.5" y1="501" x2="217.5" y2="501" stroke="#231f20" stroke-width="1" />
<line x1="114" y1="391.5" x2="117" y2="391.5" stroke="#231f20" stroke-width="0.8" />
<text x="111.2" y="393.7" font-size="6.3" text-anchor="end" fill="#231f20" font-weight="normal" font-style="normal" stroke="#231f20" stroke-width="0.2" >5</text>
<line x1="114" y1="442.3" x2="117" y2="442.3" stroke="#231f20" stroke-width="0.8" />
<text x="111.2" y="444.5" font-size="6.3" text-anchor="end" fill="#231f20" font-weight="normal" font-style="normal" stroke="#231f20" stroke-width="0.2" >0</text>
<line x1="114" y1="496.5" x2="117" y2="496.5" stroke="#231f20" stroke-width="0.8" />
<text x="111.2" y="498.7" font-size="6.3" text-anchor="end" fill="#231f20" font-weight="normal" font-style="normal" stroke="#231f20" stroke-width="0.2" >−5</text>
<line x1="118.8" y1="501" x2="118.8" y2="503.8" stroke="#231f20" stroke-width="0.8" />
<text x="118.8" y="512.4" font-size="6.3" text-anchor="middle" fill="#231f20" font-weight="normal" font-style="normal" stroke="#231f20" stroke-width="0.2" >−20</text>
<line x1="167.1" y1="501" x2="167.1" y2="503.8" stroke="#231f20" stroke-width="0.8" />
<text x="167.1" y="512.4" font-size="6.3" text-anchor="middle" fill="#231f20" font-weight="normal" font-style="normal" stroke="#231f20" stroke-width="0.2" >0</text>
<line x1="215.8" y1="501" x2="215.8" y2="503.8" stroke="#231f20" stroke-width="0.8" />
<text x="215.8" y="512.4" font-size="6.3" text-anchor="middle" fill="#231f20" font-weight="normal" font-style="normal" stroke="#231f20" stroke-width="0.2" >20</text>
<text x="147.5" y="524.6" font-size="8.8" text-anchor="start" fill="#231f20" font-weight="normal" font-style="normal" stroke="#231f20" stroke-width="0.2" textLength="40" lengthAdjust="spacingAndGlyphs" >Component 1</text>
<text x="0" y="0" font-size="8.8" text-anchor="middle" fill="#231f20" stroke="#231f20" stroke-width="0.2" textLength="38" lengthAdjust="spacingAndGlyphs" transform="translate(98.2,444.8) rotate(-90)">Component 2</text>
<rect x="225.1" y="393.70" width="6" height="5.6" fill="#3a8dcc"/>
<text x="234.8" y="398.9" font-size="6.4" text-anchor="start" fill="#231f20" font-weight="normal" font-style="normal" stroke="#231f20" stroke-width="0.2" >0</text>
<rect x="225.1" y="405.65" width="6" height="5.6" fill="#45bab4"/>
<text x="234.8" y="410.84999999999997" font-size="6.4" text-anchor="start" fill="#231f20" font-weight="normal" font-style="normal" stroke="#231f20" stroke-width="0.2" >1</text>
<rect x="225.1" y="417.60" width="6" height="5.6" fill="#62b472"/>
<text x="234.8" y="422.79999999999995" font-size="6.4" text-anchor="start" fill="#231f20" font-weight="normal" font-style="normal" stroke="#231f20" stroke-width="0.2" >2</text>
<rect x="225.1" y="429.55" width="6" height="5.6" fill="#86c05e"/>
<text x="234.8" y="434.74999999999994" font-size="6.4" text-anchor="start" fill="#231f20" font-weight="normal" font-style="normal" stroke="#231f20" stroke-width="0.2" >3</text>
<rect x="225.1" y="441.50" width="6" height="5.6" fill="#d8b046"/>
<text x="234.8" y="446.7" font-size="6.4" text-anchor="start" fill="#231f20" font-weight="normal" font-style="normal" stroke="#231f20" stroke-width="0.2" >4</text>
<rect x="225.1" y="453.45" width="6" height="5.6" fill="#e27060"/>
<text x="234.8" y="458.65" font-size="6.4" text-anchor="start" fill="#231f20" font-weight="normal" font-style="normal" stroke="#231f20" stroke-width="0.2" >5</text>
<rect x="225.1" y="465.40" width="6" height="5.6" fill="#e2487a"/>
<text x="234.8" y="470.59999999999997" font-size="6.4" text-anchor="start" fill="#231f20" font-weight="normal" font-style="normal" stroke="#231f20" stroke-width="0.2" >6</text>
<rect x="225.1" y="477.35" width="6" height="5.6" fill="#a83a94"/>
<text x="234.8" y="482.54999999999995" font-size="6.4" text-anchor="start" fill="#231f20" font-weight="normal" font-style="normal" stroke="#231f20" stroke-width="0.2" >7</text>
<rect x="225.1" y="489.30" width="6" height="5.6" fill="#5056aa"/>
<text x="234.8" y="494.49999999999994" font-size="6.4" text-anchor="start" fill="#231f20" font-weight="normal" font-style="normal" stroke="#231f20" stroke-width="0.2" >8</text>
<path d="M140.1 426.2h0M128.6 411.1h0M126.2 396.7h0M127.0 406.5h0M130.0 410.7h0M132.9 414.4h0" stroke="#e27060" stroke-width="1.0" stroke-linecap="round" fill="none"/>
<path d="M165.8 422.1h0M166.5 426.9h0M198.2 427.0h0M203.9 430.1h0M187.7 423.0h0M152.6 421.3h0M203.5 429.3h0M174.6 420.5h0M135.6 435.7h0M162.2 426.6h0M161.3 424.9h0M198.5 426.1h0M185.0 421.4h0M158.9 422.6h0M161.5 420.7h0M168.9 424.1h0M156.0 426.0h0M148.6 432.0h0M200.4 427.3h0M134.6 437.1h0M158.1 424.4h0M197.2 426.4h0M129.8 410.8h0M150.8 431.2h0M159.5 420.1h0M194.9 425.0h0M159.9 427.6h0M129.6 452.5h0M156.2 427.7h0M169.2 420.0h0M148.5 423.6h0M185.7 421.8h0M165.7 423.8h0M132.4 447.0h0M131.8 406.1h0M203.6 428.9h0M129.2 452.0h0M158.3 426.1h0M186.3 423.8h0M133.0 443.0h0M177.7 421.0h0M132.6 437.7h0M193.3 425.8h0M151.8 426.4h0M131.9 439.2h0M156.5 423.7h0M126.9 392.4h0M184.1 420.8h0M178.9 419.5h0M185.2 421.3h0M166.9 427.9h0M148.1 425.8h0M178.2 419.6h0M129.0 447.3h0M157.3 422.5h0M127.5 401.2h0M153.1 421.6h0M136.7 438.2h0M153.0 422.7h0M133.2 438.8h0M160.5 419.3h0M153.5 423.1h0M152.4 426.7h0M210.4 436.9h0M201.2 427.4h0M144.8 425.9h0M196.2 426.9h0M177.3 421.1h0M131.9 456.2h0M196.8 426.4h0M159.6 426.6h0M153.9 427.9h0M132.2 451.2h0M129.0 446.9h0M177.9 420.1h0M146.2 426.0h0M128.5 451.0h0M185.7 421.0h0M131.7 444.3h0M197.7 427.9h0M173.1 420.5h0M156.2 427.2h0M154.8 430.1h0M196.9 424.9h0M182.8 421.3h0M146.0 426.7h0M143.7 426.1h0M192.0 422.6h0M203.9 430.8h0M189.0 422.7h0M130.1 451.6h0M146.8 427.9h0M154.5 426.4h0M169.7 422.2h0M186.6 421.9h0M160.0 425.2h0M149.5 423.1h0M129.7 410.1h0M171.9 427.9h0M208.6 433.5h0M159.1 427.8h0M201.2 429.6h0M180.7 421.2h0M191.0 423.4h0M200.6 428.9h0M128.6 453.0h0M136.6 419.9h0M159.1 427.0h0M194.9 425.1h0M171.3 420.8h0M204.5 430.6h0M157.0 428.6h0M161.4 419.8h0M195.1 425.3h0M175.1 420.7h0M126.8 399.1h0M132.7 436.2h0M194.3 423.9h0M126.0 399.1h0M180.5 420.1h0M153.9 430.3h0M160.0 421.1h0M195.3 425.9h0M127.9 447.5h0M183.9 422.6h0M152.4 424.0h0M197.2 427.6h0M206.6 433.1h0M130.3 444.3h0M159.3 427.1h0M127.0 450.7h0M131.0 450.7h0M132.3 439.8h0M136.0 418.9h0M189.9 423.3h0M169.2 422.8h0M161.1 423.5h0M135.6 442.4h0M169.5 425.4h0M168.2 421.3h0M189.2 424.1h0M130.8 449.6h0M129.1 447.2h0M129.5 450.9h0M179.2 421.5h0M170.0 428.3h0M192.6 423.6h0M167.5 424.2h0M205.3 429.6h0M169.5 420.8h0M128.3 451.7h0M191.1 425.1h0M170.7 426.3h0M127.3 453.7h0M151.6 430.3h0M189.6 422.0h0M177.0 420.8h0M147.5 426.8h0M144.6 426.9h0M183.7 420.6h0M155.1 423.0h0M164.0 427.2h0M186.7 421.0h0M158.5 426.7h0M172.1 421.3h0M174.0 419.5h0M133.1 437.3h0M155.4 428.6h0M176.9 421.0h0M203.8 428.6h0M150.6 428.8h0M126.5 396.5h0M175.5 420.4h0M171.1 425.5h0M160.9 426.0h0M139.2 425.5h0M143.8 427.6h0M136.2 436.4h0M150.3 426.2h0M171.3 421.5h0M158.5 422.4h0M126.1 453.2h0M133.9 437.6h0M175.5 422.1h0M145.2 425.8h0M151.1 425.6h0M162.2 423.1h0M132.3 447.3h0M135.3 442.4h0M156.7 423.3h0M165.8 420.8h0M150.3 425.7h0" stroke="#a83a94" stroke-width="1.0" stroke-linecap="round" fill="none"/>
<path d="M158.2 420.0h0M157.1 428.7h0M161.5 422.5h0M153.7 429.2h0M152.5 424.5h0M154.5 422.8h0M156.6 423.8h0M189.5 422.6h0M168.3 421.2h0M152.0 424.2h0M188.1 423.2h0M160.3 422.8h0M177.1 419.0h0M170.4 427.6h0M166.2 420.7h0M185.7 422.1h0M162.8 427.3h0M147.2 424.7h0M158.7 427.6h0M171.5 422.5h0M170.8 420.0h0M153.7 423.9h0M145.7 426.5h0M158.2 422.3h0M146.4 429.4h0M154.2 423.9h0M166.8 418.9h0M165.5 424.3h0M149.2 427.6h0M165.5 422.9h0M166.5 419.4h0M163.3 421.0h0M156.0 430.2h0M178.2 420.0h0M200.4 427.5h0M163.1 427.3h0M201.3 427.9h0M147.7 429.0h0M159.6 423.3h0M146.0 432.5h0M201.8 428.8h0M164.7 427.7h0M160.5 427.7h0M149.8 425.6h0M159.5 426.5h0M163.6 421.7h0M145.0 429.6h0M159.0 421.9h0M169.0 419.2h0M148.7 433.7h0M155.7 422.8h0M156.3 423.1h0M150.0 427.0h0M203.3 430.7h0M158.5 419.9h0M166.6 427.2h0M172.0 422.6h0M154.2 425.8h0M160.7 420.5h0M164.6 419.4h0M161.9 422.3h0M150.9 428.1h0M169.6 423.2h0M194.7 425.4h0M153.6 427.4h0M159.7 420.8h0M148.2 426.6h0M159.2 427.0h0M206.6 431.9h0M146.4 425.0h0M171.5 422.9h0M167.1 419.8h0M191.9 423.7h0M161.5 421.3h0M146.9 425.9h0M158.7 429.1h0M151.1 431.4h0M181.4 421.0h0M162.8 423.6h0M149.9 423.4h0M166.7 421.0h0M158.5 424.0h0M166.4 427.6h0M163.6 422.9h0M147.9 424.6h0M171.7 423.0h0M161.8 423.5h0M168.4 419.9h0M168.3 423.2h0M156.7 426.1h0M154.4 420.3h0M148.7 424.7h0M145.2 426.6h0M157.3 420.2h0M153.0 427.2h0M194.3 425.8h0M162.6 423.0h0M209.5 433.9h0M167.0 427.7h0M165.9 419.9h0M162.8 428.4h0M166.4 420.7h0M149.6 423.6h0M166.0 421.9h0M197.6 427.5h0M167.1 419.9h0M142.6 427.3h0M163.0 419.4h0M165.6 422.0h0M152.6 422.3h0" stroke="#5056aa" stroke-width="1.0" stroke-linecap="round" fill="none"/>
<path d="M181.0 420.0h0M163.8 427.9h0M129.1 452.5h0M131.8 455.3h0M178.3 422.2h0M158.4 424.4h0M132.3 441.3h0M122.7 472.0h0M187.0 426.8h0M136.1 441.2h0M132.2 444.9h0M133.5 446.4h0M173.5 419.6h0M134.6 439.0h0M121.9 469.2h0M126.4 393.3h0M126.5 454.4h0M166.0 423.6h0M203.6 429.6h0M136.3 420.8h0M160.5 424.4h0M135.4 434.9h0M121.6 482.8h0M181.7 419.7h0M170.1 420.2h0M131.7 441.1h0M131.0 411.2h0M132.5 441.2h0M148.0 427.8h0M122.6 488.0h0M199.6 428.5h0M133.6 437.7h0M194.8 424.9h0M170.6 426.5h0M164.2 426.1h0M122.5 469.2h0M171.1 425.3h0M194.5 431.1h0M157.4 425.2h0M135.6 418.2h0M156.4 425.5h0M179.1 421.3h0M210.6 435.9h0M150.7 427.9h0M136.2 417.8h0M133.4 438.9h0M170.8 425.6h0M132.5 439.3h0M180.8 422.1h0M126.4 394.8h0M131.3 446.9h0M130.2 399.8h0M129.0 401.7h0M169.3 419.8h0M131.5 446.4h0M132.6 439.0h0M136.1 441.5h0M130.0 452.4h0M168.1 426.8h0M134.1 439.7h0M197.1 429.4h0M141.8 428.8h0M131.2 450.1h0M153.9 429.7h0M160.6 425.6h0M179.7 438.3h0M132.7 413.1h0M156.7 428.2h0M148.0 427.2h0M146.6 427.1h0M130.0 397.5h0M208.3 434.6h0M131.8 451.3h0M160.2 425.5h0M134.9 441.0h0M203.9 428.8h0M158.1 421.4h0M170.3 427.1h0M121.8 481.2h0M169.9 428.5h0M122.0 493.6h0M161.0 435.7h0M122.5 468.0h0M176.9 422.7h0M132.1 441.6h0M129.0 409.7h0M122.5 488.2h0M132.1 416.2h0M187.1 423.0h0M136.9 437.5h0M122.8 471.9h0M187.5 424.7h0M160.5 428.1h0M129.9 410.1h0M209.8 436.5h0M164.5 444.3h0M127.7 401.4h0M153.2 422.1h0M165.0 425.7h0M133.8 437.9h0M136.0 436.1h0M128.1 455.9h0M126.3 451.5h0M204.8 431.1h0M134.7 442.5h0M202.5 430.9h0M200.1 427.4h0M185.7 430.9h0M165.9 423.9h0M187.4 424.2h0M125.0 454.6h0M161.4 424.2h0M121.5 476.5h0M193.7 435.1h0M180.0 420.5h0M167.2 424.4h0M130.9 409.0h0M126.8 392.9h0M141.8 426.3h0M130.1 450.1h0M124.1 466.1h0M135.5 439.6h0M146.8 433.0h0M134.0 440.2h0M128.1 449.8h0M136.1 439.7h0M178.1 420.5h0M121.5 476.4h0M181.8 432.5h0M202.9 430.1h0M121.2 482.2h0M122.9 489.4h0M126.8 396.4h0M163.6 421.9h0M129.2 460.2h0M128.1 451.5h0M130.6 448.7h0M209.3 437.5h0M129.7 444.4h0M127.3 453.7h0M133.0 449.3h0M132.9 452.3h0M193.3 427.8h0M152.3 428.3h0M141.5 426.3h0M127.1 454.0h0M134.5 438.0h0M146.9 426.4h0M148.6 429.5h0M129.9 454.6h0M212.2 436.2h0M155.5 425.5h0M131.0 445.6h0M168.9 438.9h0M188.6 423.3h0M134.3 441.7h0M157.5 427.5h0M133.7 450.6h0M131.3 451.4h0M187.0 422.6h0M190.9 442.8h0M166.5 421.4h0M133.2 436.6h0M127.6 399.5h0M131.3 450.1h0M132.9 447.9h0M134.0 435.4h0M198.4 430.3h0M125.1 464.8h0M142.0 427.1h0M145.9 432.2h0M135.0 443.0h0M192.6 426.3h0M130.6 441.2h0M169.4 427.8h0M127.4 452.5h0M134.6 438.9h0M133.4 437.4h0M134.3 416.1h0M152.7 423.5h0M154.3 429.8h0M141.3 428.1h0M187.0 423.2h0M185.2 421.0h0M171.9 421.9h0M180.7 432.2h0M188.0 422.8h0M130.2 463.1h0M182.6 441.1h0M131.3 410.2h0M134.4 418.1h0M128.8 455.0h0M130.7 451.4h0M128.2 454.4h0M164.1 428.1h0M142.5 428.0h0M138.7 422.6h0M185.8 424.9h0M193.2 427.4h0M158.2 427.5h0M121.8 491.1h0M137.3 420.5h0M197.9 428.1h0M129.0 394.6h0M135.4 438.6h0M121.9 486.3h0M168.1 424.7h0M159.6 422.7h0M136.9 439.5h0M134.4 436.0h0M153.7 423.6h0M194.1 429.3h0M123.2 468.1h0M122.3 481.3h0M171.6 423.9h0M126.6 400.0h0M132.8 416.4h0M130.9 404.2h0M131.8 440.1h0M132.4 439.3h0M136.8 438.2h0M131.0 456.4h0M128.9 448.1h0M132.4 438.3h0M175.9 438.1h0M153.5 421.3h0M131.0 400.9h0M134.3 439.4h0M130.6 442.9h0M162.9 424.4h0M130.4 445.1h0M130.7 443.8h0M158.9 424.9h0M153.3 430.1h0M133.1 446.8h0M128.7 454.8h0M136.5 418.9h0M201.6 431.0h0M132.8 443.3h0M209.6 436.4h0M135.5 421.1h0M162.9 421.4h0M155.4 428.8h0M194.3 425.6h0M167.8 427.9h0M180.9 420.8h0M136.1 437.7h0M158.7 428.2h0M166.8 424.4h0M197.3 425.1h0M136.7 420.9h0M127.8 403.3h0M130.5 467.5h0M133.1 437.3h0M131.1 440.7h0M175.9 432.9h0M127.0 465.5h0M128.5 466.5h0M180.9 420.3h0M157.0 427.4h0M123.1 471.2h0M135.4 440.5h0M130.0 449.2h0M156.8 426.0h0M203.0 430.8h0M132.0 443.4h0M156.2 428.1h0M193.7 434.4h0M192.2 422.8h0M130.5 453.8h0M138.0 424.1h0M133.8 436.5h0M136.0 440.8h0M126.5 393.0h0M130.7 412.3h0M161.0 424.8h0" stroke="#e2487a" stroke-width="1.0" stroke-linecap="round" fill="none"/>
<path d="M125.1 469.3h0M212.3 442.1h0M172.3 425.9h0M127.7 493.4h0M216.4 459.1h0M215.4 463.8h0M125.2 490.5h0M180.1 428.3h0M127.6 488.8h0M215.6 454.2h0M210.5 463.6h0M121.7 479.0h0M129.2 481.8h0M187.4 427.8h0M216.0 451.4h0M215.7 454.8h0M216.3 464.0h0M215.5 460.7h0M201.3 436.8h0M215.0 455.2h0M125.6 488.0h0M214.4 466.9h0M217.0 455.0h0M200.9 435.1h0M126.8 488.5h0M130.5 472.2h0M128.0 479.5h0M209.9 458.2h0M126.6 468.7h0M128.5 492.5h0M126.5 476.3h0M178.6 428.5h0M216.7 459.2h0M211.5 463.4h0M191.3 429.2h0M213.3 465.3h0M214.8 453.2h0M216.3 458.5h0M201.8 436.4h0M124.7 494.6h0M127.2 456.9h0M210.7 458.2h0M214.5 441.8h0M121.3 481.2h0M129.0 457.9h0M212.0 446.9h0M122.6 484.6h0M130.0 466.0h0M124.9 477.7h0M127.5 483.7h0M128.9 481.6h0M130.0 469.3h0M126.7 465.0h0M214.2 451.6h0M124.0 467.6h0M123.4 486.8h0M122.8 493.2h0M127.7 460.6h0M217.1 451.3h0M183.1 427.7h0M210.5 443.2h0M120.8 484.2h0M123.2 475.3h0M126.6 470.8h0M126.4 491.6h0M211.9 438.7h0M214.1 462.8h0M129.5 480.8h0M216.6 452.9h0M125.8 468.3h0M214.4 464.3h0M122.1 482.5h0M214.7 464.1h0M123.9 491.6h0M213.3 441.4h0M213.5 441.5h0M214.9 450.5h0M197.2 433.2h0M212.0 453.8h0M122.5 490.1h0M123.6 477.1h0M210.9 448.3h0M209.6 441.3h0M131.0 475.3h0M124.7 461.6h0M125.9 476.7h0M126.5 474.9h0M129.8 471.4h0M123.6 479.7h0M122.4 488.2h0M127.5 472.2h0M122.6 494.5h0M128.9 485.1h0M213.9 440.9h0M128.3 490.2h0M128.8 485.9h0M123.6 473.1h0M125.7 471.5h0M127.3 489.1h0M211.1 440.2h0M128.5 480.9h0M122.1 493.7h0M124.1 472.4h0M124.5 485.4h0M214.4 460.7h0M211.4 449.7h0M127.9 488.8h0M124.9 484.5h0M125.6 471.7h0M215.6 444.7h0M129.7 482.9h0M129.6 466.2h0M124.2 468.7h0M215.1 442.4h0M206.2 441.2h0M214.6 447.8h0M126.4 490.6h0M124.7 483.8h0M214.7 460.3h0M213.9 461.4h0M209.0 444.9h0M216.3 454.8h0M128.1 478.0h0M214.0 448.3h0M216.1 447.6h0M129.2 484.2h0M126.0 456.4h0M125.1 468.9h0M193.7 432.9h0M216.6 459.5h0M214.3 465.5h0M213.6 459.0h0M124.7 488.7h0M210.8 465.6h0M215.1 463.5h0M214.8 460.0h0M215.8 444.9h0M128.0 494.6h0M129.0 469.5h0M213.1 458.2h0M123.3 494.3h0M128.3 483.4h0M128.4 481.8h0M210.2 441.0h0M127.0 482.2h0M213.7 462.3h0M124.0 475.2h0M129.5 479.9h0M126.6 469.5h0M210.5 440.1h0M215.8 466.5h0M126.3 492.8h0M124.6 486.1h0M214.1 442.1h0M125.6 486.2h0M126.3 485.0h0M122.6 482.8h0M213.3 463.0h0M128.3 467.3h0M214.7 459.9h0M123.3 489.6h0M214.6 451.4h0M210.1 452.4h0M123.9 469.3h0M128.4 487.7h0M127.5 493.7h0M121.8 473.5h0M125.5 470.3h0M215.3 465.7h0M129.8 458.3h0M126.5 486.1h0M213.3 441.7h0M123.5 494.6h0M214.5 453.0h0M214.2 440.9h0M131.1 461.9h0M128.9 488.8h0M123.2 486.1h0M125.1 488.2h0M129.3 476.1h0M126.3 481.1h0M121.6 492.5h0M216.5 454.0h0M126.6 469.2h0M124.8 476.1h0M207.5 440.7h0M125.8 456.1h0M214.4 447.9h0M214.5 465.5h0M126.7 476.9h0M214.6 449.0h0M125.1 486.4h0M178.6 427.9h0M124.9 480.2h0M125.3 492.3h0M215.8 458.1h0M123.6 486.8h0M127.5 486.2h0M127.8 461.6h0M214.6 456.3h0M128.3 475.6h0M215.6 452.9h0M211.2 442.9h0M213.7 445.4h0M215.5 464.9h0M181.1 427.4h0M129.6 474.9h0M211.0 461.4h0M210.3 444.8h0M215.9 451.9h0M215.3 465.3h0M215.8 448.5h0M123.4 467.3h0M123.2 478.3h0M125.2 493.8h0M127.3 485.3h0M130.8 469.7h0M125.6 482.8h0M122.4 480.7h0M214.3 456.6h0M215.3 462.4h0M124.6 485.8h0M212.4 444.8h0M129.4 471.7h0M216.2 452.5h0M216.6 448.6h0M125.4 493.4h0M128.4 474.9h0M124.5 484.6h0M216.0 451.8h0M214.2 456.6h0M127.7 463.4h0M216.8 460.4h0M212.7 444.8h0M122.3 477.0h0M185.3 428.7h0M215.6 451.2h0M122.5 473.1h0M126.0 490.5h0M129.5 470.7h0M214.5 449.6h0M129.7 472.3h0M127.9 481.2h0M212.5 453.7h0M126.3 481.7h0M125.6 493.6h0M212.8 444.1h0M213.9 449.3h0M207.7 444.8h0M123.0 476.3h0M213.8 444.2h0M214.5 442.4h0M124.0 477.5h0M129.7 478.4h0M211.9 438.6h0M125.9 467.6h0M125.4 477.2h0M122.3 488.7h0M128.8 487.6h0M206.6 442.8h0M122.0 486.3h0M198.1 435.2h0M211.2 456.8h0M126.8 481.5h0M122.2 470.8h0M123.1 490.7h0M124.9 492.9h0M129.9 470.6h0M197.0 432.0h0M121.9 474.9h0M214.5 464.1h0M212.6 437.8h0M121.7 475.3h0M179.0 427.5h0M123.8 469.6h0M126.4 476.4h0M123.5 479.4h0M122.8 485.4h0M216.5 457.6h0M123.7 483.0h0M126.6 492.1h0M128.1 493.9h0M126.3 481.3h0M216.1 449.9h0M127.8 473.3h0M215.5 457.0h0M216.2 458.1h0M131.3 460.9h0M121.8 486.5h0M127.3 494.9h0M127.3 477.6h0M212.6 439.2h0M215.7 449.7h0M122.9 493.1h0M215.2 464.4h0M210.2 446.4h0M211.9 455.5h0M126.6 492.2h0M214.9 464.7h0M215.8 449.6h0M215.4 451.2h0M213.6 459.4h0M213.6 463.4h0M128.1 472.5h0M204.5 438.3h0M213.5 458.8h0M127.8 477.0h0M122.5 482.1h0M210.6 439.7h0M123.3 482.2h0M213.6 454.8h0M216.0 455.3h0M181.4 427.7h0M125.9 463.4h0M123.4 483.8h0M214.0 456.9h0M125.8 478.7h0M130.1 473.0h0M126.8 464.9h0M121.9 479.0h0M126.9 481.3h0M125.2 483.2h0M177.0 426.2h0M128.0 489.0h0" stroke="#3a8dcc" stroke-width="1.0" stroke-linecap="round" fill="none"/>
<path d="M197.9 429.4h0M197.3 428.5h0M202.7 434.8h0M184.4 426.2h0M177.7 425.3h0M187.8 426.9h0M196.1 429.1h0M184.7 426.2h0M183.3 424.6h0M199.8 430.7h0M198.2 431.8h0M186.4 426.9h0M177.2 425.0h0M183.4 425.8h0M186.6 424.8h0M189.0 425.5h0M198.7 437.9h0M192.5 428.4h0M200.6 430.6h0M201.8 434.4h0M204.4 435.0h0M201.5 433.5h0M186.9 424.1h0M177.3 423.2h0M208.9 438.9h0M185.2 425.9h0M178.9 425.9h0M177.2 425.4h0M203.2 432.0h0M184.6 425.5h0M182.5 426.3h0M179.3 423.4h0M194.2 443.7h0M204.1 434.1h0M196.3 428.8h0M181.9 424.1h0M203.5 432.7h0M181.9 426.1h0M184.8 423.0h0M199.1 438.7h0M194.8 430.0h0M191.3 426.7h0M198.8 431.6h0M205.6 435.0h0M182.4 425.0h0M199.1 431.5h0M182.2 423.0h0M177.4 424.9h0M200.1 433.2h0M202.8 433.2h0M209.5 439.6h0M185.9 424.5h0M173.9 424.2h0M172.7 423.1h0" stroke="#86c05e" stroke-width="1.0" stroke-linecap="round" fill="none"/>
<path d="M208.3 436.3h0M208.2 435.2h0M198.4 429.8h0M178.2 424.8h0M205.4 432.6h0M194.2 427.2h0M176.4 425.0h0M187.8 424.6h0M200.8 429.8h0M174.2 424.8h0M188.8 424.3h0M192.0 426.2h0M174.0 423.2h0M201.0 431.5h0M205.4 435.3h0M180.4 423.4h0M194.2 429.6h0M181.5 422.1h0M183.5 424.4h0M193.1 429.4h0M183.2 425.8h0M178.9 423.8h0M198.3 431.5h0M198.8 432.2h0M207.5 434.4h0M187.1 426.0h0M190.1 427.4h0M178.7 423.8h0M188.7 427.2h0M178.4 424.1h0M184.4 423.3h0M184.8 423.2h0M188.0 425.7h0M181.3 422.7h0M209.1 437.7h0M188.2 426.4h0M205.5 433.4h0" stroke="#d8b046" stroke-width="1.0" stroke-linecap="round" fill="none"/>
<path d="M206.9 432.2h0M130.8 453.8h0M127.2 465.1h0M131.0 454.7h0M207.9 437.7h0M131.1 439.6h0M130.1 394.1h0M151.5 429.0h0M189.2 427.7h0M196.7 427.1h0M130.1 445.4h0M148.8 424.3h0M128.1 465.2h0M205.7 434.4h0M131.2 442.4h0M127.6 465.3h0M190.7 424.3h0M129.4 455.6h0M122.9 467.6h0M130.8 451.3h0M195.0 425.1h0M132.3 415.4h0M130.5 399.9h0M134.2 449.3h0M126.3 452.9h0M121.7 486.7h0M146.9 434.3h0M129.8 449.7h0M199.4 427.7h0M136.7 420.8h0M122.0 472.0h0M130.6 411.3h0M127.6 453.8h0M191.9 442.8h0M131.1 453.3h0M129.6 447.5h0M127.5 452.4h0M130.2 409.1h0M129.6 407.7h0M122.9 474.7h0M132.5 416.3h0M134.0 446.9h0M122.4 471.1h0M128.4 447.7h0M190.9 425.4h0M129.8 456.0h0M169.7 426.5h0M159.8 422.8h0M140.3 426.5h0M132.8 437.1h0M141.4 429.1h0M132.6 445.2h0M135.9 439.0h0M161.3 428.1h0M158.1 428.5h0M133.4 442.6h0M144.5 426.4h0M132.1 449.9h0M127.8 460.7h0M198.4 428.1h0M135.7 418.5h0M122.9 477.3h0M137.4 421.1h0M130.3 404.0h0M122.7 488.8h0M134.9 435.5h0M135.6 436.1h0M126.7 453.1h0M126.7 451.6h0M126.9 405.9h0M128.2 404.4h0M198.4 426.1h0M132.5 440.8h0M137.2 420.0h0M181.8 421.2h0M129.0 447.3h0M131.9 451.2h0M122.5 491.8h0M135.1 418.9h0M130.9 441.7h0M153.1 423.4h0M203.4 432.1h0M206.9 431.1h0M126.5 452.6h0M121.9 485.0h0M168.2 427.9h0M129.8 451.3h0M121.4 482.2h0M163.8 421.8h0M165.0 423.3h0M120.9 482.7h0M197.5 426.7h0M166.6 426.1h0M147.9 429.0h0M129.1 450.2h0M128.3 399.6h0M127.8 407.6h0M132.1 440.8h0M128.8 448.6h0M134.4 442.2h0M152.0 427.3h0M121.2 482.9h0M121.7 487.2h0M200.7 430.3h0M198.4 430.0h0M157.9 425.4h0M128.5 447.7h0M197.8 426.1h0M150.8 430.6h0M131.1 455.9h0M131.0 441.9h0M165.4 426.2h0M134.0 442.5h0M134.2 434.9h0M130.7 442.9h0M132.6 452.3h0M152.4 428.4h0M172.9 420.7h0M136.9 422.5h0M177.9 420.7h0M131.2 399.8h0M159.5 425.0h0M129.6 410.1h0M132.3 449.8h0M128.0 408.7h0M129.6 453.9h0M137.5 437.9h0M137.8 421.5h0M133.9 441.5h0M129.9 410.7h0M127.1 403.3h0M130.6 398.7h0M127.1 454.5h0M170.5 431.8h0M127.8 453.2h0M179.1 420.4h0M131.0 443.2h0M156.5 426.0h0M141.8 427.1h0M198.3 426.1h0M136.0 435.3h0M130.7 449.7h0M195.9 425.9h0M122.9 473.6h0M132.7 416.0h0M127.4 453.0h0M163.8 424.1h0M130.7 413.1h0M131.7 412.2h0M130.2 449.5h0M150.0 425.4h0M131.7 456.1h0M165.0 426.3h0M205.8 433.1h0M129.8 445.9h0M122.9 492.4h0M127.0 455.1h0M192.8 423.9h0M195.6 426.4h0M122.8 470.2h0M132.7 456.3h0M122.8 492.8h0M131.3 410.0h0M120.9 478.6h0M161.5 427.2h0M131.0 395.1h0M148.2 432.1h0M131.5 454.1h0M131.3 448.2h0M153.8 426.6h0M148.7 430.9h0M132.1 455.7h0M153.7 422.1h0M153.4 429.0h0M122.3 473.3h0M130.3 394.2h0M134.8 444.1h0M180.4 421.3h0M131.8 453.4h0M151.6 428.8h0M200.3 427.5h0M185.2 424.6h0M134.8 440.0h0M130.7 445.0h0M193.3 423.0h0M202.7 427.6h0M122.2 491.1h0M128.7 454.4h0M143.3 427.1h0M154.0 427.8h0M134.6 446.2h0M136.5 439.4h0M133.8 438.6h0M192.3 423.4h0M134.6 438.1h0M154.9 420.9h0M152.2 426.6h0M122.5 494.0h0M164.8 420.7h0M135.2 439.7h0M128.2 447.7h0M146.9 424.7h0M208.6 436.9h0M130.5 445.3h0M133.5 437.0h0M192.2 444.7h0M133.1 449.2h0M134.7 444.8h0M122.7 478.2h0M129.7 447.7h0M135.6 436.7h0M166.7 428.4h0M131.0 449.9h0M159.4 427.8h0M133.3 415.7h0M152.6 431.2h0M130.4 449.6h0M129.8 467.5h0M128.7 455.3h0M128.9 399.3h0M154.2 428.1h0M134.0 446.5h0M133.3 437.6h0M154.6 429.0h0M128.5 449.5h0M131.9 441.1h0M156.8 424.8h0M130.0 398.0h0M133.8 434.7h0M150.5 430.0h0M122.8 467.8h0M132.3 443.2h0M133.0 439.4h0M127.1 407.2h0M181.0 425.0h0M167.4 422.2h0M127.1 403.5h0M132.9 439.3h0M130.1 444.0h0M137.5 421.9h0M134.5 416.7h0M129.3 409.3h0M197.8 437.6h0M127.5 403.1h0M127.8 451.7h0M160.6 428.0h0M200.3 431.5h0M137.5 439.1h0M169.3 428.1h0M153.9 428.4h0M202.8 434.2h0M161.3 421.5h0M167.2 423.7h0M170.6 422.5h0M152.4 431.0h0M121.9 484.3h0M134.3 441.1h0M128.2 453.1h0M161.5 423.2h0M194.4 424.7h0M126.2 404.1h0M147.0 430.7h0M129.8 409.1h0M190.2 425.9h0M134.0 437.4h0M127.1 401.9h0M130.5 456.7h0M122.4 487.0h0M199.5 426.0h0M129.5 395.5h0M136.9 436.3h0M132.5 446.7h0M121.9 483.7h0" stroke="#e2487a" stroke-width="1.0" stroke-linecap="round" fill="none"/>
<path d="M142.5 428.4h0M127.4 399.6h0M135.5 417.6h0" stroke="#e27060" stroke-width="1.0" stroke-linecap="round" fill="none"/>
<path d="M212.6 457.9h0M135.1 441.1h0M125.0 481.2h0M209.9 449.0h0M212.8 446.4h0M210.0 460.1h0M128.7 482.5h0M209.2 445.9h0M212.5 448.5h0M209.1 442.4h0M125.3 493.3h0M207.9 444.9h0M210.9 454.3h0M209.4 462.0h0M207.1 442.5h0M208.8 453.1h0M214.5 458.3h0M205.0 437.0h0M215.4 463.3h0M196.2 431.7h0M128.5 457.5h0M130.8 467.4h0M202.5 436.5h0M212.6 451.5h0M125.2 461.5h0M210.2 458.6h0M206.7 442.4h0M209.2 458.3h0M125.3 463.3h0M205.4 442.2h0M203.5 437.6h0M173.0 427.4h0M209.4 457.5h0M209.9 460.6h0M127.7 465.5h0M149.8 428.5h0M211.3 459.6h0M126.7 488.8h0M126.3 455.3h0M212.6 452.0h0M184.3 444.5h0M183.2 428.1h0M199.0 436.3h0M127.4 458.7h0M206.0 440.1h0M209.1 449.9h0M157.1 425.7h0M211.8 453.3h0M176.1 426.3h0M127.8 490.7h0M203.2 436.3h0M123.3 476.3h0M212.1 462.6h0M210.3 449.1h0M208.7 444.2h0M201.3 436.0h0M192.3 429.2h0M211.9 460.1h0M210.3 449.7h0M178.5 426.2h0M211.6 453.0h0M131.3 460.9h0M214.2 460.5h0M208.0 443.5h0M123.5 466.9h0M202.4 436.1h0M212.1 465.5h0M212.9 452.3h0M212.4 466.6h0M210.2 453.1h0M209.7 465.9h0M158.0 428.3h0M204.8 438.5h0M127.1 473.8h0M212.9 458.6h0M181.2 428.4h0M211.1 439.3h0M209.8 462.0h0M211.5 457.1h0M212.5 456.7h0M177.8 425.9h0M209.5 454.3h0M209.5 458.9h0M124.9 457.1h0M130.3 461.7h0M188.6 429.1h0M129.6 484.1h0M125.4 476.1h0M186.5 429.6h0M211.2 446.8h0M131.1 449.3h0M211.4 458.0h0M207.4 443.3h0M213.7 448.1h0M132.5 448.8h0M206.8 441.6h0M149.6 430.6h0M124.5 491.1h0M170.2 426.1h0M207.0 455.3h0M198.6 435.4h0M167.0 427.2h0M214.3 445.3h0M169.7 424.4h0M130.0 401.3h0M187.2 430.6h0M214.6 448.9h0M127.2 483.4h0M213.7 451.1h0M212.8 448.9h0M209.0 465.7h0M211.5 456.3h0M126.9 463.6h0M128.4 477.1h0M211.6 453.8h0M210.6 450.6h0M215.3 459.7h0M210.8 450.2h0M209.3 450.5h0M211.8 464.5h0M209.5 452.9h0M211.5 449.2h0M211.9 462.6h0M125.1 468.6h0M129.4 403.6h0M209.7 453.4h0M201.8 435.4h0M207.7 443.4h0M212.7 456.6h0M202.5 436.4h0M209.0 465.5h0M125.4 465.9h0M188.1 440.0h0M129.0 482.2h0M123.7 493.0h0M127.6 470.5h0M187.0 428.8h0M172.8 428.2h0M153.5 431.1h0M181.8 426.6h0M126.5 488.1h0M211.2 463.4h0M212.2 445.0h0M131.3 460.1h0M175.4 427.2h0M129.8 474.0h0M205.3 463.8h0M126.8 463.4h0M209.6 456.7h0M173.6 426.9h0M194.5 442.3h0M123.5 470.2h0M130.8 472.0h0M179.0 426.9h0M129.8 463.6h0M126.4 488.2h0M177.6 426.6h0M137.8 435.9h0M211.5 462.2h0M179.3 425.9h0M151.0 429.0h0M129.1 463.3h0M188.8 428.6h0M207.9 443.7h0M126.0 457.7h0M191.7 430.4h0M194.6 433.4h0M204.4 465.9h0M211.0 453.1h0M127.5 475.2h0M207.9 442.8h0M216.4 454.4h0M204.5 439.6h0M134.5 439.0h0M213.0 438.0h0M137.0 437.1h0M211.3 448.1h0M182.8 428.7h0M212.1 465.2h0M129.2 481.0h0M124.9 480.0h0M124.0 478.4h0M212.3 445.2h0M136.8 436.2h0M169.4 442.2h0M128.0 493.4h0M126.0 460.1h0M180.6 427.8h0M216.0 448.5h0M135.8 438.1h0M207.4 442.4h0M124.5 467.1h0M211.5 447.2h0M203.8 437.5h0M202.5 436.7h0M127.9 485.2h0M126.6 463.6h0M210.6 458.3h0M173.1 426.5h0M213.4 461.8h0M173.2 427.9h0M209.4 460.4h0M172.0 433.5h0M188.9 428.6h0M212.2 455.7h0M209.5 443.4h0M125.7 475.7h0M188.9 430.2h0M178.3 425.9h0M203.9 437.2h0M215.2 456.3h0M132.5 447.5h0M194.7 432.6h0M210.0 460.8h0M213.5 464.3h0M127.6 486.9h0M202.3 437.2h0M125.6 455.5h0M125.8 475.0h0M210.8 456.5h0M212.8 454.3h0M211.9 460.1h0M201.9 434.7h0M196.0 434.7h0M213.3 450.2h0M202.2 435.1h0M179.9 427.1h0M199.0 432.4h0M213.4 456.8h0M128.0 489.0h0M124.7 467.6h0M162.3 424.3h0M130.1 457.4h0M199.1 434.0h0M205.9 439.2h0M210.9 452.4h0M131.1 462.1h0M125.5 461.0h0M127.6 470.9h0M188.6 429.9h0M125.7 460.5h0M211.3 442.4h0M130.0 463.4h0M189.9 431.3h0M210.2 465.3h0M125.7 484.8h0M213.9 455.8h0M206.3 438.8h0M210.2 450.0h0M210.0 452.5h0M135.4 441.1h0M213.0 455.9h0M211.8 444.0h0M210.4 464.3h0M189.4 430.2h0M155.2 428.5h0M215.4 451.3h0M127.1 474.9h0M191.3 429.3h0M127.6 398.9h0M210.9 450.2h0M174.4 426.1h0M129.0 393.4h0M210.8 457.3h0M123.6 490.3h0M211.1 461.0h0M126.4 492.7h0M205.9 437.5h0M126.8 493.8h0M198.1 434.0h0M209.4 453.0h0M184.6 429.4h0M210.4 467.2h0M207.1 443.4h0M173.9 425.0h0M210.2 447.7h0M213.6 458.9h0M124.3 487.7h0M209.2 447.1h0M213.0 437.9h0M157.5 428.5h0M208.1 443.4h0M207.5 442.2h0M189.0 430.4h0M211.7 441.6h0M198.8 433.4h0M205.1 440.9h0M162.5 425.5h0M165.9 425.3h0M178.5 425.4h0M212.5 453.8h0M200.4 434.9h0M209.8 440.8h0M183.1 427.0h0M213.9 457.1h0M125.1 480.5h0M212.5 464.6h0M181.2 426.2h0M198.0 432.7h0M131.8 455.6h0M195.0 434.4h0M183.7 428.0h0M211.9 464.2h0M210.7 466.1h0M196.0 434.4h0M205.4 454.3h0M208.3 450.0h0M206.9 443.4h0M191.7 437.2h0M193.1 430.7h0M200.0 435.8h0M204.0 436.0h0M193.0 430.9h0M124.5 474.2h0M209.8 455.2h0M211.9 460.6h0M173.8 428.2h0M197.4 434.2h0M131.1 445.7h0M185.6 429.3h0M208.6 441.2h0M197.3 444.8h0M175.8 426.7h0M183.8 428.9h0M126.4 477.2h0M209.3 464.5h0M126.5 484.5h0M211.5 464.1h0M123.5 469.9h0M189.2 429.7h0M210.3 449.4h0M170.1 426.9h0M211.0 443.0h0M208.5 444.7h0M191.9 431.7h0M171.6 426.5h0M193.9 433.5h0M126.5 492.5h0M186.3 429.1h0M208.9 455.3h0M125.7 464.9h0M211.0 453.4h0M212.7 453.1h0M211.3 442.6h0M126.9 478.1h0M211.1 452.1h0M153.7 429.5h0M211.8 450.0h0M209.6 446.9h0M135.7 437.2h0M126.0 464.1h0M126.5 460.6h0M215.9 451.4h0M213.2 445.3h0M167.8 439.8h0M210.6 446.4h0M214.4 457.5h0M123.5 490.2h0M211.6 439.3h0M200.5 435.8h0M210.8 446.9h0M210.9 448.3h0M129.0 406.8h0M125.3 462.7h0M180.5 426.4h0M127.4 476.7h0M176.4 426.7h0M216.7 453.8h0M183.8 428.6h0M129.3 475.0h0M205.2 437.7h0M129.7 464.0h0M209.1 455.7h0M159.6 426.9h0M190.2 430.6h0M210.8 452.5h0M160.1 426.9h0M204.3 436.7h0M212.0 463.2h0M198.1 433.0h0M174.2 426.4h0M209.3 465.1h0M129.3 463.6h0M191.1 431.2h0M208.2 445.2h0M179.1 426.8h0M169.6 427.0h0M123.9 478.1h0M182.8 427.0h0M128.9 395.8h0M130.1 464.1h0M136.3 437.5h0M161.2 434.7h0M151.3 431.6h0M208.6 459.4h0M161.3 427.5h0M190.9 431.8h0M191.8 428.8h0M180.7 428.6h0M185.2 429.6h0M127.7 476.2h0M163.1 423.8h0M198.5 433.3h0M203.3 436.1h0M184.2 429.6h0M183.8 427.9h0M125.3 461.2h0M125.0 463.2h0M209.8 450.1h0M124.0 491.9h0M125.0 470.8h0M210.1 465.3h0M130.2 471.2h0M198.9 434.9h0M135.1 442.1h0M157.8 427.6h0M196.6 444.1h0M128.8 484.1h0M205.0 464.2h0M199.3 433.4h0" stroke="#45bab4" stroke-width="1.0" stroke-linecap="round" fill="none"/>
<path d="M160.7 427.4h0M210.9 465.2h0M211.9 445.1h0M210.9 460.9h0M192.6 432.9h0M213.6 460.0h0M214.8 466.8h0M174.5 427.1h0M187.6 430.1h0M207.0 439.2h0M124.9 461.8h0M122.5 494.2h0M211.1 450.7h0M127.1 474.7h0M160.2 444.2h0M207.1 439.8h0M209.1 440.9h0M175.3 427.9h0M126.4 491.1h0M188.1 429.4h0M124.6 484.2h0M209.9 452.3h0M210.0 465.3h0M194.8 430.4h0M196.0 434.4h0M185.3 430.0h0M192.5 430.3h0M177.3 428.5h0M136.5 436.3h0M185.9 442.7h0M180.3 426.0h0M130.3 468.9h0M128.7 456.8h0M199.2 434.5h0M216.6 450.3h0M212.7 454.4h0M135.0 438.1h0M123.7 471.8h0M127.1 485.7h0M202.9 436.5h0M186.9 429.2h0M132.0 460.8h0M212.3 450.6h0M127.7 472.9h0M194.0 433.9h0M191.5 430.3h0M202.7 437.4h0M129.6 463.0h0M200.9 435.2h0M126.2 490.9h0M194.7 432.4h0M132.5 444.8h0M209.8 441.3h0M178.6 426.2h0M209.6 448.3h0M125.2 471.6h0M211.3 455.8h0M177.2 428.1h0M151.1 429.2h0M187.3 428.1h0M210.4 455.8h0M200.0 436.2h0M202.3 435.5h0M127.4 486.1h0M210.1 444.7h0M126.9 468.4h0M134.8 438.2h0M212.6 464.8h0M134.4 444.2h0M130.2 448.6h0M213.3 461.5h0M136.3 439.5h0M193.2 432.1h0M209.5 465.8h0M208.7 448.9h0M211.7 465.2h0M209.7 442.3h0M210.8 456.1h0M191.9 432.4h0M144.3 430.7h0M212.8 455.9h0M124.7 476.1h0M191.3 431.3h0M178.2 426.8h0M173.9 427.4h0M124.7 488.2h0M180.2 425.8h0M207.5 442.4h0M204.5 437.3h0M209.9 444.2h0M215.2 455.0h0M176.6 427.9h0M128.9 400.0h0M125.1 469.7h0M128.8 397.0h0M207.8 443.8h0M186.6 430.1h0M122.7 478.8h0M209.6 462.2h0M137.0 436.1h0M215.2 458.1h0M128.5 479.3h0M208.6 460.5h0M173.8 427.7h0M123.7 493.8h0M210.6 455.4h0M214.9 463.6h0M186.6 437.3h0M175.7 425.8h0M135.8 437.4h0M207.6 442.5h0M212.9 452.3h0M212.6 455.3h0M208.9 441.5h0M209.5 456.2h0M217.1 448.2h0M204.7 436.8h0M209.7 446.7h0M127.6 473.3h0M131.3 449.7h0M197.6 432.4h0M174.5 428.6h0M127.9 456.6h0M126.2 487.9h0M126.9 483.2h0M205.4 439.2h0M127.4 475.2h0M208.9 447.1h0M209.3 443.2h0M209.8 456.8h0M214.2 442.0h0M213.5 457.8h0M134.2 445.4h0M173.8 426.9h0M213.8 443.0h0M129.4 465.3h0M184.1 433.7h0M125.5 489.8h0M177.6 426.6h0M190.0 428.9h0M181.0 428.3h0M199.0 433.8h0M130.4 458.6h0M129.6 481.4h0M129.4 483.5h0M125.9 476.6h0M173.6 427.0h0M204.1 439.0h0M128.1 461.4h0M128.2 487.7h0M198.1 432.4h0M200.0 465.9h0M127.8 473.9h0M203.4 435.1h0M128.1 491.1h0M199.1 433.5h0M164.9 426.3h0M169.6 426.9h0M134.6 444.0h0M198.0 434.8h0M210.6 460.1h0M210.5 440.1h0M211.5 447.0h0M213.6 459.3h0M189.6 428.7h0M129.7 483.9h0M211.7 465.4h0M124.8 465.7h0M212.0 446.5h0M126.1 490.8h0M212.8 448.3h0M212.1 447.4h0M128.2 489.4h0M212.6 455.7h0M211.3 456.7h0M209.4 448.1h0M212.0 447.2h0M212.6 457.6h0M208.6 461.9h0M212.2 454.8h0M157.1 425.3h0M206.7 457.3h0M207.8 442.9h0M130.5 449.6h0M198.7 435.5h0M127.9 483.9h0M211.2 453.5h0M208.9 455.5h0M214.9 464.3h0M123.5 493.4h0M130.6 463.5h0M211.0 448.3h0M128.7 406.3h0M206.3 441.6h0M211.6 448.4h0M161.3 427.1h0M190.2 428.4h0M136.8 439.1h0M204.3 448.7h0M129.5 395.4h0M211.2 441.2h0M209.9 448.9h0M210.4 445.2h0M151.2 430.3h0M123.1 475.2h0M207.7 443.9h0M199.9 434.8h0M208.4 439.6h0M126.5 473.5h0M212.1 449.2h0M133.6 447.6h0M209.9 440.5h0M190.2 430.3h0M129.6 472.0h0M215.7 449.2h0M125.7 457.2h0M209.1 465.8h0M126.2 467.7h0M199.4 436.1h0M207.6 444.2h0M198.8 434.6h0M145.2 432.3h0M194.7 433.1h0M149.9 432.1h0M136.7 437.6h0M212.4 447.8h0M152.8 430.6h0M126.7 492.3h0M205.9 437.7h0M212.3 456.9h0M210.1 450.5h0M127.9 465.0h0M125.8 463.8h0M123.3 480.0h0M122.9 474.5h0M127.1 457.2h0M129.9 451.3h0M190.7 444.6h0M210.1 455.4h0M216.5 457.8h0M154.5 428.1h0M198.3 433.9h0M127.2 461.1h0M185.5 426.4h0M214.7 443.7h0M124.6 476.1h0M182.1 429.1h0M209.9 440.6h0M210.3 448.7h0M209.7 457.2h0M213.5 462.4h0M126.1 491.9h0M200.0 435.5h0M124.4 484.8h0M208.1 441.5h0M124.4 488.6h0M215.2 459.0h0M192.1 432.1h0M213.0 453.0h0M147.7 431.1h0M204.5 437.4h0M194.6 432.8h0M210.6 449.9h0M210.3 463.6h0M127.6 482.0h0M137.7 437.2h0M203.2 435.0h0M125.6 486.4h0M167.2 444.3h0M188.2 428.8h0M129.7 403.0h0M208.8 442.6h0M127.0 457.1h0M124.2 477.5h0M213.7 466.3h0M127.6 491.3h0M190.7 431.2h0M138.0 436.3h0M201.7 437.2h0M201.5 437.0h0M133.0 449.0h0M211.8 459.3h0M147.2 432.5h0M176.8 426.8h0M125.7 489.2h0M124.4 490.2h0M130.6 467.4h0M214.7 455.2h0M165.7 427.4h0M199.3 465.4h0M192.7 431.0h0M196.4 433.4h0M196.8 434.3h0M198.9 433.1h0M129.1 463.3h0M211.4 453.6h0M212.9 456.1h0M124.9 470.3h0M211.8 466.1h0M191.8 431.7h0M129.3 394.7h0M175.5 427.9h0M211.0 447.8h0M136.9 437.8h0M212.2 443.0h0M215.5 448.7h0M129.4 462.6h0M170.9 427.4h0M198.7 434.7h0M154.1 426.4h0M127.5 468.0h0M208.1 448.0h0M130.8 451.0h0M212.1 443.7h0M214.7 446.7h0M188.4 444.9h0M213.9 456.0h0M189.3 429.7h0M122.8 482.5h0M207.9 440.9h0M207.1 444.4h0M207.0 451.6h0M216.5 464.4h0M216.1 460.1h0M213.9 458.6h0M123.9 486.9h0M124.6 466.7h0M212.4 457.6h0M211.8 452.7h0M194.8 433.9h0M186.3 430.1h0M131.8 460.3h0M210.0 443.4h0M209.7 463.3h0M210.7 444.5h0M192.0 429.4h0M196.2 431.9h0M212.0 447.2h0M126.4 488.0h0M187.8 428.6h0M137.3 438.8h0M213.4 457.1h0M207.7 441.8h0M210.4 447.0h0M209.6 448.0h0M128.6 489.5h0M213.8 445.4h0M126.9 482.8h0M124.4 472.8h0M187.3 428.7h0M210.1 450.2h0M212.5 461.3h0M212.4 462.6h0M181.9 427.2h0M211.7 454.6h0M212.3 463.3h0M152.8 429.1h0M124.4 472.1h0M210.7 458.5h0M209.5 456.1h0M188.4 428.6h0M204.6 436.8h0M190.6 430.5h0M196.5 434.8h0M155.7 429.4h0M182.1 426.9h0M213.1 459.0h0M181.6 426.6h0M207.7 441.1h0M181.6 428.1h0M136.1 436.8h0M127.3 487.4h0M129.4 452.1h0M129.2 480.1h0M190.4 430.7h0M125.1 494.2h0M122.9 466.3h0M125.7 472.1h0M124.1 492.5h0M177.6 425.1h0M127.8 480.9h0M124.2 492.7h0M155.1 425.9h0M124.4 459.8h0M210.5 454.6h0M210.4 454.4h0M170.5 424.8h0M129.5 456.4h0M211.7 457.4h0M210.6 448.3h0M193.0 431.6h0M128.2 455.0h0M126.9 482.9h0M129.6 460.8h0M215.8 458.7h0M128.1 470.6h0M212.8 442.3h0M198.4 433.1h0M215.8 453.5h0M129.6 452.5h0M209.5 464.3h0M210.1 462.9h0M131.1 448.4h0M131.6 460.4h0M209.3 441.7h0M168.3 426.4h0M213.6 452.7h0M206.6 439.5h0M209.7 452.9h0M213.1 456.1h0M125.6 467.4h0M193.9 442.7h0M125.2 472.4h0M211.3 445.7h0M195.7 433.6h0M191.4 430.6h0M127.9 399.5h0M212.7 446.6h0M215.1 461.9h0M209.5 460.1h0" stroke="#45bab4" stroke-width="1.0" stroke-linecap="round" fill="none"/>
<path d="M212.8 441.1h0M126.8 492.9h0M127.9 474.8h0M126.1 481.2h0M127.8 485.7h0M216.5 448.8h0M127.0 460.7h0M125.2 473.9h0M128.9 478.2h0M184.0 428.0h0M130.2 474.4h0M213.8 464.8h0M213.4 443.6h0M123.3 492.2h0M129.0 473.6h0M122.7 471.0h0M215.6 445.1h0M127.2 487.6h0M121.9 485.1h0M214.4 444.1h0M128.2 478.9h0M127.7 490.0h0M123.1 473.5h0M121.4 479.6h0M130.6 456.5h0M127.6 481.6h0M215.9 451.7h0M214.3 449.0h0M213.6 440.4h0M211.0 440.9h0M215.8 452.2h0M216.5 455.0h0M123.4 493.5h0M214.0 466.7h0M180.9 429.2h0M213.6 466.9h0M123.4 490.6h0M211.8 441.2h0M215.2 442.6h0M126.6 483.0h0M124.7 488.5h0M216.3 463.8h0M210.9 466.3h0M124.9 491.6h0M198.6 434.4h0M188.1 431.0h0M214.0 456.3h0M124.1 494.8h0M215.1 441.2h0M215.0 459.7h0M125.8 487.3h0M126.7 485.5h0M126.5 491.4h0M126.4 483.4h0M123.1 486.6h0M215.0 451.5h0M122.8 486.7h0M180.2 428.1h0M213.5 464.1h0M125.8 460.9h0M191.0 428.9h0M126.8 492.9h0M207.5 444.5h0M214.5 452.3h0M215.4 446.4h0M124.3 473.6h0M215.9 454.6h0M126.4 487.0h0M124.7 479.7h0M127.0 491.5h0M128.7 480.0h0M130.7 471.3h0M213.5 445.4h0M122.4 469.5h0M214.4 460.9h0M126.6 491.6h0M123.3 492.2h0M211.5 449.9h0M128.4 475.4h0M126.9 482.0h0M210.7 452.1h0M213.1 446.9h0M211.7 439.5h0M215.5 461.0h0M215.5 463.5h0M213.6 460.6h0M214.1 460.2h0M122.1 490.5h0M129.2 475.3h0M123.5 491.2h0M127.8 473.1h0M210.5 454.3h0M122.8 486.1h0M123.3 483.7h0M214.8 459.6h0M208.9 440.2h0M128.5 481.3h0M214.5 457.4h0M215.9 449.7h0M196.4 435.2h0M121.3 481.1h0M216.3 450.9h0M210.2 445.5h0M212.1 439.4h0M125.8 485.5h0M124.7 476.2h0M123.9 470.8h0M125.2 494.5h0M211.9 443.3h0M128.3 490.6h0M208.5 465.0h0M125.5 485.8h0M209.1 446.6h0M128.8 475.3h0M125.9 469.6h0M126.5 469.2h0M213.7 445.4h0M211.8 456.6h0M213.2 443.1h0M209.4 455.0h0M124.3 491.2h0M213.1 447.5h0M125.5 481.8h0M124.0 469.1h0M125.4 456.9h0M128.3 458.5h0M130.3 480.3h0M216.2 459.2h0M210.1 441.1h0M212.7 448.4h0M124.7 473.9h0M214.9 441.3h0M123.6 472.7h0M213.7 452.3h0M127.7 490.6h0M126.0 477.5h0M215.7 449.3h0M131.0 466.6h0M125.0 469.2h0M125.0 478.8h0M130.0 472.8h0M126.5 462.6h0M212.9 452.1h0M122.4 476.7h0M129.1 477.5h0M122.5 474.4h0M184.4 428.8h0M206.9 442.7h0M128.0 457.4h0M127.2 458.6h0M215.6 454.2h0M123.6 473.0h0M215.7 458.0h0M128.1 477.5h0M213.7 458.2h0M122.5 477.8h0M210.9 451.1h0M216.1 450.3h0M216.7 457.7h0M213.9 460.5h0M122.5 482.9h0M129.6 460.0h0M213.8 462.8h0M217.0 458.3h0M125.3 487.0h0M216.7 461.4h0M127.4 489.8h0M128.3 490.3h0M127.1 488.8h0M128.9 470.0h0M211.5 461.7h0M185.6 428.7h0M126.1 491.9h0M130.2 475.4h0M130.9 461.8h0M214.5 443.6h0M127.3 474.8h0M129.5 480.5h0M214.5 442.2h0M213.7 455.4h0M129.6 483.2h0M127.3 472.9h0M215.9 452.9h0M128.2 484.4h0M126.0 494.1h0M123.7 494.5h0M215.4 465.9h0M130.7 463.1h0M129.9 481.5h0M213.2 440.1h0M214.5 456.1h0M127.8 465.0h0M213.2 442.9h0M125.1 491.6h0M125.9 467.5h0M212.9 449.5h0M214.7 447.5h0M215.0 456.3h0M128.4 473.3h0M176.1 427.7h0M127.6 473.6h0M126.5 492.8h0M128.7 492.2h0M128.1 479.0h0M128.4 487.1h0M215.4 455.2h0M190.8 430.2h0M200.6 433.8h0M122.8 470.9h0M213.4 441.9h0M126.2 483.1h0M125.0 462.2h0M211.3 439.7h0M124.7 479.3h0M123.0 485.7h0M214.7 455.3h0M208.6 460.9h0M213.8 440.5h0M130.2 469.7h0M126.2 460.4h0M128.4 471.2h0M215.8 449.0h0M122.2 481.4h0M124.8 480.4h0M214.9 463.7h0M213.1 466.0h0M214.0 446.0h0M213.8 449.5h0M193.6 431.5h0M128.6 457.4h0M214.2 452.2h0M212.7 463.3h0M128.9 458.0h0M212.9 439.1h0M127.4 477.0h0M215.1 455.2h0M125.0 480.0h0M182.3 427.7h0M123.7 482.6h0M216.4 451.3h0M212.3 452.9h0M172.4 425.7h0M128.7 470.2h0M124.8 492.9h0M127.8 471.3h0M125.1 490.3h0M125.1 493.6h0M125.2 472.3h0M213.3 448.6h0M213.8 457.8h0M203.5 438.2h0M131.7 466.0h0M125.8 482.5h0M123.1 493.8h0M121.9 475.0h0M212.0 442.0h0M215.2 457.0h0M126.0 472.1h0M122.5 471.0h0M125.3 461.7h0M125.5 492.1h0M121.1 483.7h0M210.6 439.3h0M207.7 441.3h0M127.2 473.7h0M128.4 470.7h0M122.7 479.9h0M127.4 492.5h0M125.0 490.6h0M125.1 473.5h0M215.9 459.0h0M212.5 442.2h0M215.0 454.8h0M210.5 463.6h0M124.0 487.5h0M203.9 438.5h0M214.5 458.6h0M202.3 437.6h0M125.5 475.8h0M125.5 485.9h0M125.4 492.0h0M125.3 488.6h0M128.5 474.7h0M128.5 468.8h0M214.4 457.2h0M214.3 445.5h0M124.6 487.5h0M129.7 472.9h0M122.2 477.6h0M211.5 442.1h0M130.9 466.4h0M216.0 445.5h0M127.7 486.5h0M213.1 455.6h0M215.4 443.6h0M214.4 456.5h0M211.9 456.3h0M204.4 438.7h0M212.8 450.4h0M127.9 487.6h0M207.3 443.0h0M214.4 439.8h0M213.8 445.1h0M211.0 439.5h0M127.9 478.7h0M122.4 479.8h0M127.1 486.9h0M129.8 480.5h0M127.6 468.5h0M124.1 472.4h0M215.6 448.8h0M213.7 445.6h0M216.2 465.0h0M185.2 429.5h0M124.9 469.1h0M206.7 442.5h0M200.4 433.9h0M211.9 440.7h0M126.3 456.6h0M178.9 428.1h0M209.8 464.2h0M121.7 471.2h0M210.0 463.1h0M129.6 476.6h0" stroke="#3a8dcc" stroke-width="1.0" stroke-linecap="round" fill="none"/>
<path d="M188.1 425.6h0M204.6 434.2h0M190.1 425.9h0M174.0 423.5h0M181.8 424.0h0M180.8 422.8h0M200.6 429.8h0M195.5 430.0h0M198.1 429.5h0M195.2 427.9h0M192.5 429.4h0M188.5 426.6h0M202.1 432.2h0M200.1 428.8h0M176.6 425.7h0M201.0 431.1h0M178.4 423.0h0M182.8 423.5h0M194.7 430.3h0M176.0 424.1h0M195.8 427.8h0M210.4 439.0h0M182.5 423.4h0M181.6 424.3h0M190.8 428.0h0M196.2 430.4h0M207.0 433.2h0M190.4 427.6h0M191.9 428.3h0M208.6 438.5h0M194.1 425.6h0M180.4 423.9h0M201.8 431.7h0M186.8 426.6h0M195.1 428.5h0M192.2 428.4h0M203.1 431.2h0" stroke="#d8b046" stroke-width="1.0" stroke-linecap="round" fill="none"/>
<path d="M124.4 474.8h0M211.4 451.2h0M213.4 460.6h0M187.2 430.0h0M210.5 464.7h0M131.2 461.2h0M211.9 466.1h0M199.1 432.7h0M211.2 449.6h0M209.1 465.4h0M210.5 445.0h0M131.3 457.1h0M212.1 466.8h0M199.1 434.6h0M148.5 431.3h0M129.5 467.3h0M127.7 485.9h0M213.2 464.7h0M127.6 459.1h0M210.3 458.3h0M215.0 464.4h0M128.8 459.0h0M127.7 462.7h0M136.3 437.6h0M128.4 491.3h0M134.9 437.8h0M209.5 445.8h0M166.2 427.4h0M123.6 488.7h0M136.5 439.8h0M186.2 429.2h0M178.1 427.9h0M209.7 440.1h0M188.5 430.0h0M174.9 426.5h0M178.9 427.5h0M209.8 440.2h0M127.2 485.2h0M165.8 427.1h0M123.3 473.2h0M169.8 425.2h0M211.6 454.8h0M128.1 397.3h0M158.4 424.6h0M125.6 463.4h0M134.0 440.8h0M210.2 443.5h0M200.2 434.7h0M181.7 426.2h0M205.0 437.0h0M206.8 441.4h0M209.4 447.8h0M209.9 461.4h0M209.5 440.5h0M126.9 489.5h0M208.3 448.4h0M210.0 462.8h0M210.7 461.1h0M212.1 461.0h0M209.7 459.6h0M208.9 449.8h0M211.5 448.2h0M212.9 447.0h0M128.4 490.3h0M163.0 434.5h0M211.5 448.8h0M212.2 455.7h0M195.5 431.9h0M201.4 435.4h0M204.0 438.9h0M180.5 427.2h0M210.9 462.4h0M176.0 427.0h0M212.8 450.5h0M179.1 427.6h0M170.1 427.8h0M210.7 443.5h0M124.5 487.9h0M134.9 443.6h0M129.9 463.3h0M128.2 406.4h0M128.6 462.4h0M156.0 425.7h0M211.8 464.4h0M126.4 477.9h0M207.3 440.3h0M192.5 431.3h0M122.6 482.8h0M133.6 450.5h0M126.7 474.2h0M209.0 462.9h0M203.4 437.6h0M182.5 427.6h0M130.2 464.6h0M211.1 445.9h0M210.3 464.9h0M211.4 463.2h0M174.6 427.6h0M211.4 457.9h0M126.1 468.2h0M186.0 428.3h0M203.3 438.0h0M131.4 466.5h0M213.3 464.9h0M210.4 463.5h0M212.2 449.7h0M209.9 456.7h0M133.1 447.0h0M158.1 424.9h0M199.0 433.5h0M125.1 457.4h0M172.3 427.7h0M132.0 446.5h0M213.0 449.2h0M210.3 456.9h0M211.2 444.4h0M182.5 432.3h0M124.6 493.1h0M122.8 483.0h0M128.3 455.7h0M211.0 454.7h0M211.8 444.9h0M127.2 471.4h0M175.8 427.2h0M196.9 431.9h0M127.1 479.9h0M128.2 472.9h0M181.6 428.2h0M214.7 453.0h0M190.6 430.6h0M131.7 456.7h0M211.3 458.2h0M124.6 465.7h0M128.4 455.1h0M208.7 457.3h0M214.5 456.2h0M206.3 438.4h0M211.4 448.6h0M126.5 458.2h0M212.1 457.3h0M213.2 466.7h0M129.7 485.1h0M202.8 438.8h0M130.9 446.9h0M192.8 433.1h0M212.7 443.4h0M192.7 430.4h0M209.0 462.2h0M213.1 452.0h0M212.3 452.5h0M129.5 458.8h0M134.1 446.6h0M185.8 430.1h0M204.5 455.3h0M179.5 425.5h0M204.9 465.5h0M214.9 464.2h0M199.3 433.9h0M210.5 459.2h0M128.3 458.6h0M204.3 438.9h0M203.8 437.2h0M215.7 466.8h0M199.8 433.5h0M127.6 461.2h0M125.5 467.5h0M190.7 437.0h0M135.4 435.9h0M211.5 447.9h0M123.8 479.2h0M124.2 481.0h0M124.7 482.2h0M206.4 441.9h0M209.2 466.6h0M208.4 447.8h0M177.6 426.2h0M215.8 454.6h0M209.3 446.3h0M192.4 431.8h0M128.5 494.5h0M129.0 458.5h0M210.9 451.1h0M128.0 465.8h0M215.3 454.1h0M212.1 464.6h0M210.3 442.9h0M134.4 439.2h0M210.2 451.2h0M203.7 461.3h0M124.3 484.6h0M149.7 432.0h0M130.2 469.7h0M211.8 461.5h0M208.2 445.9h0M128.3 470.0h0M210.7 462.0h0M126.0 487.6h0M152.2 431.3h0M126.5 464.7h0M205.8 439.9h0M162.1 425.5h0M133.1 450.0h0M194.2 433.6h0M180.6 428.2h0M126.0 469.4h0M212.0 457.0h0M203.2 438.5h0M205.7 438.1h0M130.4 465.6h0M129.0 453.7h0M124.5 490.7h0M124.2 493.6h0M207.3 441.1h0M214.3 450.0h0M125.7 478.2h0M212.5 457.8h0M210.0 440.9h0M212.2 457.3h0M206.4 440.5h0M210.3 451.2h0M209.2 463.1h0M212.7 454.0h0M212.4 450.3h0M178.0 427.4h0M127.9 478.6h0M200.9 435.0h0M175.1 443.8h0M209.8 447.3h0M208.6 445.8h0M210.4 459.7h0M127.8 486.8h0M147.0 430.2h0M199.3 435.1h0M125.4 455.4h0M128.5 486.9h0M123.7 465.4h0M213.5 453.8h0M122.4 483.8h0M126.2 474.3h0M211.0 449.0h0M210.6 447.7h0M127.7 472.3h0M201.6 436.7h0M205.6 439.8h0M212.2 444.4h0M215.1 450.4h0M213.2 460.9h0M124.7 465.0h0M200.0 434.9h0M201.9 438.2h0M126.1 478.5h0M130.6 463.4h0M129.9 467.8h0M125.2 480.1h0M199.2 435.6h0M211.1 448.3h0M177.4 428.3h0M216.5 466.9h0M128.9 402.4h0M217.0 462.2h0M201.1 435.8h0M213.0 456.6h0M209.5 464.2h0M212.1 448.0h0M212.1 465.9h0M123.8 484.4h0M179.2 428.9h0M181.6 431.5h0M206.2 438.4h0M213.5 455.5h0M130.4 459.6h0M190.8 428.8h0M209.7 443.3h0M216.1 456.4h0M205.8 438.0h0M216.0 447.4h0M209.0 441.9h0M123.8 463.4h0M177.4 426.7h0M171.8 427.3h0M211.4 447.7h0M210.8 463.2h0M125.3 465.1h0M129.6 467.1h0M203.8 437.5h0M130.8 451.4h0M127.4 456.9h0M201.2 437.1h0M123.3 492.8h0M127.2 481.7h0M175.7 425.8h0M172.8 426.9h0M212.3 443.9h0M215.0 448.5h0M177.6 427.2h0M127.7 485.6h0M173.7 441.2h0M211.0 455.8h0M126.9 484.7h0M214.2 461.1h0M128.6 475.9h0M209.2 448.0h0M130.7 461.3h0M170.2 444.0h0M165.6 425.0h0M129.8 481.2h0M211.8 462.0h0M185.1 427.0h0M212.1 450.5h0M211.6 457.3h0M132.4 457.6h0M166.8 425.6h0M204.0 439.3h0M183.1 426.6h0M158.8 424.2h0M129.7 453.9h0M203.2 438.7h0M181.9 427.0h0M209.9 449.9h0M129.4 462.5h0M182.6 428.9h0M210.1 464.2h0M211.7 456.7h0M131.3 469.7h0M178.2 427.6h0M213.9 447.8h0M137.0 439.5h0M183.3 430.1h0M172.3 425.6h0M210.0 447.0h0M203.9 439.5h0M211.7 460.5h0M208.9 456.2h0M124.9 465.5h0M126.4 458.7h0M209.6 441.5h0M124.8 478.2h0M129.1 480.3h0M189.7 430.4h0M210.8 465.8h0M125.3 470.4h0M129.1 455.3h0M216.4 461.1h0M211.0 453.4h0M211.2 453.0h0M214.8 440.5h0M125.6 466.4h0M128.4 458.9h0M131.7 461.5h0M210.6 453.3h0M206.8 448.7h0M180.3 443.5h0M200.8 436.1h0M123.7 493.2h0M209.6 465.7h0M210.3 454.0h0M211.7 454.3h0M211.4 459.6h0M196.2 434.3h0M129.5 471.9h0M168.6 427.9h0M124.7 487.8h0M179.1 428.7h0M212.2 449.6h0M131.6 465.1h0M198.6 434.3h0M212.4 447.0h0M212.0 456.4h0M192.8 429.5h0M129.6 459.5h0M197.8 432.5h0M201.5 437.5h0M199.3 433.4h0M212.5 449.0h0M174.6 426.8h0M152.1 427.2h0M171.1 435.2h0M211.8 445.0h0M188.1 428.8h0M124.6 486.7h0M216.5 462.4h0M136.7 438.6h0M210.7 448.8h0M126.4 487.0h0M210.9 464.5h0M205.7 439.7h0M212.5 459.6h0M197.5 431.6h0M204.7 439.8h0M180.2 426.5h0M212.2 451.8h0M208.1 447.6h0M211.6 466.8h0M126.5 465.7h0M209.8 462.5h0M125.1 489.5h0M126.6 483.4h0M213.4 460.3h0M205.2 437.1h0M125.8 490.4h0M167.9 438.7h0M209.1 442.5h0M198.9 433.7h0M207.2 440.9h0M210.1 444.9h0M124.9 470.3h0M185.4 427.4h0M125.3 479.9h0M210.6 443.5h0M208.1 446.2h0M189.1 429.9h0M181.9 426.5h0M184.3 426.8h0M210.9 441.3h0M198.8 452.1h0M174.6 426.7h0M193.2 438.9h0M210.2 444.3h0M209.8 455.0h0" stroke="#45bab4" stroke-width="1.0" stroke-linecap="round" fill="none"/>
<path d="M170.6 424.6h0M152.8 425.3h0M146.1 426.2h0M163.2 420.7h0M154.2 425.0h0M150.2 425.9h0M150.5 424.5h0M167.4 422.5h0M147.8 427.9h0M171.1 426.1h0M146.2 432.1h0M147.8 427.2h0M168.2 422.2h0M161.3 420.5h0M151.7 426.2h0M149.1 426.3h0M151.0 423.2h0M149.0 423.7h0M155.3 425.3h0M191.4 422.9h0M149.5 424.6h0M151.3 424.8h0M153.5 422.3h0M159.6 419.9h0M201.2 429.3h0M168.1 424.9h0M152.1 430.2h0M183.8 421.3h0M159.2 419.4h0M156.6 422.8h0M160.7 422.6h0M164.8 420.4h0M158.9 420.4h0M158.0 423.2h0M168.8 421.0h0M149.9 422.4h0M154.6 424.4h0M209.9 436.0h0M162.9 423.5h0M171.3 421.3h0M171.6 423.1h0M153.0 422.1h0M169.4 421.8h0M153.4 421.8h0M146.2 427.8h0M150.3 426.3h0M180.8 422.0h0M170.5 423.5h0M159.0 419.9h0M144.8 425.4h0M151.9 425.8h0M151.2 426.8h0M167.6 424.9h0M148.0 426.6h0M152.2 423.1h0M146.8 425.3h0M165.3 424.1h0M163.6 423.4h0M164.5 419.1h0M170.5 422.0h0M145.1 425.1h0M153.7 426.1h0M163.6 423.2h0M155.9 422.0h0M162.3 421.5h0M167.4 420.5h0M152.1 424.7h0M147.4 429.5h0M197.3 426.7h0M157.3 429.0h0M148.9 431.2h0M168.0 419.7h0M144.2 429.7h0M172.7 419.3h0M147.4 433.5h0M151.0 426.6h0M161.0 420.0h0M144.4 427.4h0M165.4 419.6h0M153.1 424.3h0M161.1 422.7h0M149.5 426.0h0M142.2 427.0h0M156.4 420.3h0M157.1 423.4h0M170.5 426.7h0M156.2 428.6h0M149.5 429.2h0M147.6 425.6h0M163.2 421.8h0M148.0 423.3h0M166.5 422.9h0M155.2 420.2h0M203.0 429.7h0M171.8 423.1h0M162.7 419.8h0M202.3 429.7h0M195.3 425.2h0M161.7 422.6h0M145.6 427.2h0M154.7 423.0h0M149.0 432.5h0M145.0 427.0h0M206.2 430.5h0M151.1 431.0h0M169.7 420.5h0M144.7 429.1h0" stroke="#5056aa" stroke-width="1.0" stroke-linecap="round" fill="none"/>
<path d="M149.4 430.7h0M206.8 437.5h0M129.9 455.2h0M130.5 465.8h0M198.0 429.2h0M133.4 443.9h0M182.1 437.9h0M201.8 433.2h0M128.1 459.9h0M163.0 425.9h0M127.4 466.3h0M194.0 428.9h0M157.6 425.2h0M194.6 438.9h0M206.9 441.3h0M200.6 432.9h0M130.9 443.7h0M125.9 463.9h0M128.8 444.5h0M198.8 428.4h0M185.6 425.7h0M153.0 429.7h0M178.7 422.9h0M129.6 406.3h0M157.5 424.9h0M197.7 430.0h0M190.7 428.8h0M134.3 444.1h0M134.5 446.4h0M178.2 424.8h0M198.7 429.3h0M176.7 423.3h0M124.1 465.8h0M198.4 434.3h0M189.7 425.3h0M132.0 441.3h0M182.6 435.2h0M128.5 400.0h0M130.5 448.0h0M169.9 424.6h0M125.8 464.6h0M186.0 426.8h0M130.7 459.9h0M194.9 429.6h0M134.2 439.0h0M127.4 463.2h0M175.9 423.3h0M194.4 433.0h0M201.3 430.1h0M170.1 427.7h0M178.3 424.8h0M169.8 426.1h0M166.6 424.8h0M131.4 447.3h0M188.5 427.4h0M207.4 438.5h0M127.0 460.4h0M171.6 424.4h0M168.3 426.7h0M128.2 457.6h0M174.6 422.5h0M168.0 443.6h0M131.0 456.5h0M205.0 464.3h0M130.2 460.0h0M148.7 429.3h0M183.8 424.2h0M181.0 427.7h0M168.8 426.9h0M167.4 428.1h0M130.0 401.6h0M199.7 435.7h0M197.1 433.0h0M133.0 438.9h0M131.0 457.5h0M172.9 423.5h0M181.6 428.5h0M176.1 424.8h0M135.1 440.3h0M176.6 425.7h0M131.9 459.5h0M182.4 423.4h0M132.3 450.5h0M127.6 456.4h0M178.8 425.3h0M135.1 441.7h0M160.7 425.6h0M206.1 436.0h0M157.0 428.2h0M129.1 462.7h0M203.8 432.2h0M136.3 436.1h0M130.3 441.6h0M130.7 467.6h0M156.3 426.3h0M185.3 423.2h0M125.1 457.6h0M198.4 432.9h0M185.7 426.1h0M131.7 459.3h0M194.8 427.1h0M136.6 437.9h0M130.4 457.9h0M164.3 424.1h0M128.3 459.3h0M185.9 424.3h0M195.4 429.5h0M194.6 429.9h0M203.5 435.2h0M175.7 422.6h0M167.2 424.4h0M173.2 425.0h0M132.4 444.1h0M178.3 422.6h0M171.0 425.9h0M133.5 447.7h0M173.4 422.7h0M204.8 438.1h0M131.5 458.9h0M179.1 425.5h0M194.2 427.4h0M201.3 434.4h0M175.1 425.2h0M154.4 428.8h0M128.1 453.6h0M200.6 430.8h0M193.3 443.5h0M200.1 431.1h0M206.7 438.1h0M130.6 460.8h0M196.2 432.3h0M133.0 448.8h0M131.0 448.6h0M128.0 458.9h0M129.9 406.4h0M204.2 440.4h0M152.0 431.2h0M170.9 426.3h0M130.7 467.7h0M163.9 425.6h0M134.9 446.4h0M131.4 455.7h0M201.8 433.3h0M185.3 428.2h0M128.5 408.2h0M191.8 428.1h0M162.7 442.3h0M201.8 433.2h0M153.3 429.6h0M130.9 453.3h0M130.3 401.9h0M132.7 456.2h0M181.5 426.3h0M201.7 430.6h0M129.1 451.0h0M128.1 407.2h0M131.2 460.9h0M187.5 435.6h0M158.6 425.3h0M184.7 424.0h0M187.5 424.6h0M128.5 463.1h0M204.4 438.9h0M201.1 433.8h0M133.1 444.6h0M180.1 425.2h0M153.9 430.6h0M127.1 455.3h0M127.1 456.1h0M125.0 461.3h0M129.3 408.5h0M160.5 427.6h0M200.8 451.2h0M133.5 448.5h0M189.5 427.2h0M187.5 431.3h0M190.5 426.2h0M130.6 450.6h0M182.0 424.8h0M208.4 434.9h0M206.1 436.1h0M125.6 465.8h0M188.6 426.7h0M131.8 451.5h0M128.6 403.9h0M194.9 444.5h0M154.5 426.9h0M165.8 445.0h0M208.2 435.8h0M126.8 455.1h0M193.3 425.7h0M129.2 393.5h0M183.7 425.4h0M131.0 449.4h0M206.7 438.1h0M169.2 423.8h0M132.5 451.5h0M167.0 427.0h0M157.5 425.1h0M126.4 464.7h0M129.2 459.3h0M202.7 432.9h0M169.0 424.9h0M203.8 435.9h0M133.2 447.5h0M135.9 439.7h0M127.2 393.5h0M175.6 423.4h0M173.6 422.9h0" stroke="#62b472" stroke-width="1.0" stroke-linecap="round" fill="none"/>
<path d="M208.8 456.5h0M212.3 443.3h0M124.9 474.5h0M129.4 468.9h0M213.3 452.9h0M215.5 444.0h0M213.9 462.8h0M128.5 467.8h0M127.0 470.1h0M122.9 472.3h0M216.8 453.2h0M126.3 463.1h0M213.3 453.9h0M123.2 491.8h0M206.7 440.4h0M126.1 474.7h0M126.3 479.4h0M215.7 449.8h0M214.0 456.2h0M122.4 491.9h0M213.6 462.8h0M204.9 439.4h0M123.1 486.2h0M128.5 456.3h0M213.6 463.7h0M126.7 469.6h0M129.3 459.9h0M124.1 468.5h0M123.8 493.4h0M129.5 483.4h0M129.7 470.7h0M215.2 441.4h0M126.4 481.4h0M129.3 466.5h0M216.6 450.4h0M214.2 464.3h0M127.6 487.4h0M126.5 486.6h0M126.2 478.8h0M214.4 451.1h0M128.5 485.2h0M176.5 428.5h0M124.1 467.1h0M126.4 457.1h0M129.0 471.6h0M126.4 488.7h0M124.6 478.7h0M122.5 491.5h0M212.4 438.7h0M130.3 482.3h0M127.6 476.9h0M216.7 448.0h0M130.4 480.3h0M121.1 481.2h0M122.3 476.1h0M127.6 473.1h0M125.3 467.1h0M204.3 438.7h0M127.3 482.5h0M124.1 480.0h0M213.6 449.4h0M212.3 439.6h0M124.1 484.1h0M216.3 448.4h0M126.3 473.2h0M121.1 480.8h0M125.1 481.0h0M213.7 458.2h0M128.4 479.4h0M122.6 477.0h0M125.1 486.4h0M215.4 443.7h0M131.1 465.5h0M126.4 475.7h0M214.4 454.2h0M127.6 487.4h0M123.7 494.1h0M128.2 494.0h0M128.9 480.9h0M123.1 485.0h0M172.3 426.1h0M125.6 481.4h0M123.3 487.6h0M213.5 451.7h0M214.7 449.4h0M125.3 458.1h0M210.6 452.8h0M215.4 453.6h0M129.7 473.0h0M123.3 481.2h0M122.3 481.6h0M122.2 492.4h0M128.8 485.1h0M213.1 460.6h0M214.8 464.8h0M129.8 481.3h0M214.0 462.2h0M216.2 459.9h0M184.3 428.1h0M122.4 486.3h0M127.2 482.2h0M124.4 491.2h0M130.2 472.6h0M213.7 441.4h0M123.5 469.0h0M210.9 460.7h0M216.6 460.2h0M127.1 474.5h0M215.5 467.1h0M216.7 453.8h0M214.6 445.2h0M128.7 476.4h0M210.8 440.3h0M211.5 440.8h0M127.8 470.8h0M126.5 471.5h0M127.3 486.2h0M186.7 427.4h0M124.5 473.5h0M122.9 486.9h0M126.4 490.8h0M124.3 469.5h0M124.3 486.4h0M213.5 440.7h0M214.0 460.2h0M125.3 494.6h0M202.9 438.8h0M125.8 476.4h0M129.7 463.1h0M210.4 465.9h0M122.9 489.0h0M213.6 450.5h0M127.8 487.8h0M179.0 427.2h0M214.7 454.7h0M209.4 460.0h0M214.2 449.0h0M128.9 484.5h0M215.8 443.5h0M214.4 458.0h0M121.8 475.3h0M216.8 452.1h0M125.1 491.0h0M124.6 482.0h0M124.6 485.1h0M124.3 486.0h0M125.3 463.2h0M185.6 427.3h0M215.7 449.4h0M215.7 464.9h0M215.5 441.5h0M215.5 457.2h0M123.4 474.5h0M127.5 495.1h0M212.3 453.7h0M126.9 481.1h0M125.2 494.4h0M215.3 467.1h0M122.6 488.6h0M214.8 460.3h0M215.5 445.4h0M215.6 466.8h0M124.9 468.8h0M126.3 486.8h0M213.7 465.8h0M129.9 472.6h0M212.4 442.0h0M125.2 492.6h0M123.9 489.5h0M211.4 440.3h0M210.7 455.3h0M126.0 486.0h0M125.5 478.7h0M127.3 474.4h0M129.9 483.4h0M128.5 485.2h0M126.1 480.7h0M214.1 456.5h0M129.5 472.1h0M123.6 486.9h0M212.8 442.6h0M126.1 491.9h0M125.1 485.8h0M216.4 449.5h0M124.0 464.8h0M128.6 481.9h0M127.7 494.4h0M214.8 443.1h0M211.4 466.8h0M183.7 428.4h0M215.3 464.3h0M129.2 475.2h0M128.6 486.4h0M130.4 460.5h0M210.6 456.6h0M125.7 468.2h0M124.1 492.5h0M124.5 483.6h0M129.8 479.4h0M213.5 445.1h0M123.7 473.4h0M122.9 494.2h0M126.4 487.9h0M123.6 479.3h0M125.2 468.8h0M213.9 457.1h0M213.8 454.9h0M214.3 451.7h0M124.8 493.2h0M200.2 437.4h0M214.7 444.2h0M216.4 454.0h0M124.9 488.5h0M125.7 479.1h0M129.8 483.6h0M122.8 483.9h0M191.0 431.3h0M124.2 491.3h0M211.9 441.5h0M123.8 482.9h0M217.4 458.4h0M121.5 490.7h0M125.3 487.2h0M121.4 485.4h0M126.9 493.2h0M127.8 482.6h0M126.7 490.6h0M128.9 475.8h0M212.0 447.1h0M124.5 467.4h0M124.3 460.9h0M124.3 480.2h0M127.6 456.9h0M215.4 462.4h0M126.0 464.6h0M123.6 469.9h0M123.9 493.1h0M128.0 494.4h0M124.6 471.2h0M125.9 490.2h0M124.1 489.9h0M127.2 484.8h0M125.5 454.9h0M215.1 449.0h0M211.5 450.1h0M126.5 475.6h0M197.7 432.6h0M198.1 432.1h0M126.2 467.7h0M122.6 473.0h0M126.0 486.8h0M126.7 485.9h0M126.4 488.5h0M211.6 443.3h0M126.1 469.2h0M123.3 478.2h0M129.9 462.0h0M124.7 494.8h0M126.0 487.9h0M124.6 494.7h0M214.9 457.7h0M215.0 457.8h0M126.3 487.8h0M128.4 485.6h0M181.3 427.2h0M209.4 466.7h0M214.9 464.5h0M210.1 454.4h0M125.5 483.1h0M124.0 488.3h0M216.4 458.1h0M122.1 476.7h0M124.5 492.2h0M129.6 456.4h0M125.3 482.4h0M131.1 457.6h0M216.3 467.0h0M127.4 476.4h0M131.7 467.5h0M209.8 448.7h0M123.2 488.3h0M125.6 493.7h0M123.6 482.0h0M125.6 462.2h0M128.8 477.0h0M124.9 480.9h0M199.7 433.9h0M128.9 463.6h0M192.3 430.1h0M124.6 477.5h0M125.8 454.9h0M122.6 477.7h0M212.0 437.7h0M201.0 435.3h0M214.8 460.9h0M126.9 492.2h0M126.5 493.1h0M123.1 490.3h0M176.0 428.6h0M212.3 439.1h0M212.6 462.4h0M127.5 487.5h0M128.0 483.3h0M127.2 479.3h0M210.0 441.9h0M216.4 465.9h0M123.9 477.2h0M214.2 459.3h0M125.3 489.7h0M130.7 467.0h0M214.8 466.9h0M216.8 443.9h0M216.1 465.7h0M175.9 427.7h0M127.6 465.1h0M214.3 460.6h0M130.1 465.2h0M127.7 492.6h0M212.2 444.5h0M214.2 466.5h0M126.3 484.5h0" stroke="#3a8dcc" stroke-width="1.0" stroke-linecap="round" fill="none"/>
<path d="M122.1 475.7h0M154.7 424.2h0M138.6 424.6h0M171.7 420.6h0M168.4 424.8h0M203.2 428.7h0M127.9 448.0h0M132.5 440.2h0M125.0 456.0h0M130.1 449.5h0M210.0 437.7h0M133.3 447.7h0M126.7 463.6h0M168.6 420.8h0M121.9 469.6h0M131.0 440.3h0M140.0 426.1h0M134.3 439.0h0M130.5 408.4h0M191.0 424.0h0M134.8 443.3h0M199.4 425.9h0M132.9 440.5h0M177.0 419.6h0M171.8 424.1h0M129.3 453.7h0M140.7 426.6h0M142.1 427.1h0M187.7 424.8h0M163.1 425.5h0M132.5 454.3h0M135.2 437.6h0M182.3 421.8h0M127.3 466.7h0M198.2 425.4h0M129.7 449.9h0M134.5 446.7h0M170.5 423.4h0M165.9 424.4h0M133.9 448.5h0M131.9 455.5h0M127.1 407.9h0M155.8 424.7h0M121.1 480.7h0M128.7 448.0h0M121.5 484.4h0M132.8 450.6h0M132.2 413.2h0M155.6 420.6h0M208.1 436.7h0M184.8 424.0h0M132.6 414.3h0M131.1 444.7h0M191.9 424.4h0M127.5 456.2h0M136.0 440.1h0M131.0 441.6h0M165.0 427.9h0M170.0 426.5h0M165.1 426.0h0M135.2 420.1h0M127.6 397.2h0M130.7 394.1h0M123.0 469.3h0M207.7 435.0h0M198.8 432.0h0M128.3 397.3h0M160.4 427.2h0M128.6 452.6h0M210.7 436.2h0M130.9 445.7h0M193.2 424.9h0M126.6 395.7h0M150.0 425.0h0M130.8 459.4h0M169.2 426.5h0M150.2 430.4h0M160.8 425.7h0M156.8 428.3h0M136.7 438.9h0M130.8 447.0h0M137.1 419.7h0M122.6 484.9h0M130.7 397.5h0M192.8 429.0h0M131.1 401.8h0M136.8 436.8h0M131.1 403.7h0M171.2 425.6h0M121.7 481.3h0M122.9 473.7h0M130.8 408.3h0M132.2 447.6h0M132.0 402.8h0M162.7 420.0h0M121.7 487.3h0M134.7 437.7h0M128.6 450.7h0M131.4 448.9h0M129.1 447.3h0M126.5 456.1h0M130.6 443.4h0M157.8 426.2h0M211.8 437.5h0M153.6 429.0h0M129.3 408.7h0M158.8 428.4h0M125.8 465.3h0M158.4 422.6h0M199.6 429.0h0M132.7 414.9h0M188.9 431.8h0M163.8 427.5h0M138.7 422.4h0M133.8 447.9h0M132.1 441.4h0M133.6 444.2h0M122.3 485.8h0M184.5 421.2h0M181.8 435.2h0M122.3 470.5h0M207.0 432.1h0M134.4 439.9h0M132.3 452.6h0M185.7 422.8h0M153.3 428.5h0M130.9 443.7h0M135.3 443.0h0M192.1 423.9h0M133.5 446.0h0M131.1 445.3h0M127.3 455.4h0M127.3 453.4h0M149.5 426.8h0M127.0 454.9h0M179.8 421.2h0M192.6 440.9h0M170.2 424.7h0M132.6 440.4h0M130.1 467.7h0M154.0 430.3h0M199.6 426.9h0M171.2 420.2h0M132.3 438.9h0M127.5 403.1h0M130.5 398.4h0M135.0 437.4h0M129.3 451.7h0M137.7 438.3h0M182.2 421.6h0M175.6 420.8h0M123.2 476.7h0M132.1 444.2h0M133.8 435.6h0M181.4 419.9h0M123.4 467.4h0M134.6 436.8h0M132.0 444.8h0M157.1 424.4h0M169.8 425.4h0M133.5 444.2h0M131.6 450.0h0M122.2 474.9h0M151.7 430.4h0M207.4 437.1h0M132.8 437.0h0M127.9 451.9h0M131.4 440.8h0M176.5 430.2h0M133.6 417.7h0M134.7 416.5h0M128.1 392.7h0M136.1 442.4h0M134.5 436.1h0M128.8 405.3h0M121.6 477.5h0M133.1 446.7h0M132.4 438.0h0M196.6 429.2h0M127.0 393.7h0M206.6 435.6h0M135.2 440.3h0M211.7 434.0h0M203.4 430.5h0M180.5 421.1h0M132.4 443.1h0M125.3 457.9h0M132.5 436.9h0M161.1 427.0h0M170.0 420.5h0M164.2 424.5h0M122.6 486.7h0M132.1 415.5h0M124.5 463.0h0M130.9 448.5h0M122.4 487.4h0M177.6 423.7h0M153.1 427.6h0M127.8 453.0h0M126.4 400.1h0M165.8 426.5h0M122.0 492.6h0M136.4 439.2h0M127.9 459.7h0M206.6 436.1h0M127.6 453.2h0M120.8 482.7h0M132.1 443.2h0M141.8 426.7h0M129.2 449.2h0M121.7 492.7h0M132.3 438.2h0M129.3 454.1h0M130.2 451.8h0M162.0 427.2h0M160.2 426.3h0M159.5 424.7h0M122.2 492.6h0M154.4 428.8h0M121.1 476.5h0M122.2 485.5h0M201.8 428.8h0M190.0 422.3h0M132.3 448.6h0M130.4 448.0h0M180.8 439.0h0M133.9 437.4h0M210.6 437.9h0M188.7 440.8h0M198.2 427.7h0M201.3 433.4h0M134.2 446.4h0M131.3 443.2h0M177.1 421.8h0M134.8 417.3h0M169.6 426.4h0M133.4 451.7h0M152.6 426.5h0M128.2 452.2h0M200.3 430.0h0M128.0 407.4h0M128.1 459.2h0M158.8 427.3h0M161.2 421.2h0M135.0 435.7h0M129.6 449.7h0M152.2 422.1h0M179.7 421.7h0M133.9 435.3h0M168.9 418.5h0M125.2 463.3h0M132.9 414.7h0M127.8 447.8h0M128.2 449.8h0M156.3 426.9h0M197.9 426.1h0M128.6 465.0h0M130.4 448.1h0M129.8 454.5h0M180.5 419.3h0M130.5 442.3h0M131.5 443.5h0M135.7 419.5h0M134.8 437.0h0M134.0 439.2h0M128.9 448.5h0M135.7 441.2h0M130.3 445.3h0M127.6 466.9h0M131.2 410.9h0M129.9 408.0h0M121.0 484.1h0M138.7 421.9h0M120.7 482.2h0M133.5 441.1h0M155.7 427.0h0" stroke="#e2487a" stroke-width="1.0" stroke-linecap="round" fill="none"/>
<path d="M191.4 428.8h0M133.3 450.9h0M131.0 465.3h0M174.5 423.1h0M208.1 438.1h0M127.3 459.7h0M164.1 424.7h0M204.7 433.4h0M128.8 452.1h0M135.3 442.7h0M147.4 428.9h0M134.8 444.2h0M128.2 399.4h0M177.8 422.0h0M176.8 442.1h0M184.2 423.0h0M195.8 430.4h0M184.4 423.0h0M169.8 426.1h0M195.7 430.7h0M181.3 424.1h0M131.1 457.7h0M150.8 432.3h0M202.0 432.8h0M200.8 431.8h0M135.6 442.3h0M206.3 441.2h0M176.6 424.5h0M128.6 394.3h0M169.7 427.9h0M130.9 442.1h0M127.2 456.5h0M162.8 424.3h0M200.6 433.6h0M158.9 428.0h0M176.4 424.0h0M133.0 448.9h0M131.5 457.5h0M197.5 429.2h0M192.4 429.4h0M127.3 465.2h0M133.0 453.7h0M204.3 433.3h0M130.4 452.6h0M129.5 456.3h0M174.2 422.7h0M125.7 459.4h0M133.9 434.9h0M157.3 424.2h0M137.0 437.0h0M181.1 421.6h0M131.7 451.6h0M132.0 445.4h0M202.6 438.9h0M178.7 427.4h0M176.7 423.7h0M163.3 442.5h0M128.0 457.3h0M191.5 429.2h0M200.8 431.4h0M135.5 441.6h0M172.7 421.3h0M204.8 458.2h0M171.7 425.9h0M130.9 447.1h0M159.2 427.9h0M204.9 432.0h0M134.2 442.1h0M146.4 432.4h0M195.3 429.5h0M152.8 429.6h0M137.1 435.4h0M131.4 442.4h0M135.8 437.3h0M127.5 453.2h0M127.3 456.7h0M131.1 451.2h0M182.3 429.3h0M132.0 451.9h0M128.9 464.6h0M203.7 448.2h0M129.9 462.3h0M151.5 427.9h0M148.7 430.3h0M174.0 427.7h0M185.5 424.9h0M162.9 425.3h0M128.5 456.4h0M128.7 461.5h0M135.0 443.5h0M132.8 440.7h0M189.2 425.0h0M195.0 429.3h0M165.8 426.5h0M128.1 458.7h0M155.8 425.2h0M128.8 401.8h0M209.7 438.1h0M205.2 431.9h0M129.8 456.2h0M205.0 434.2h0M205.1 435.5h0M157.0 428.0h0M169.0 425.5h0M187.4 424.8h0M184.4 423.3h0M203.1 438.3h0M184.0 423.6h0M135.2 444.4h0M135.1 445.9h0M193.7 428.9h0M134.1 441.2h0M199.2 432.7h0M184.1 423.2h0M159.1 427.2h0M129.8 444.2h0M132.5 452.6h0M194.3 427.0h0M166.7 427.4h0M154.7 429.6h0M129.0 461.5h0M198.3 433.5h0M167.5 426.0h0M178.5 422.9h0M191.3 426.9h0M191.8 428.7h0M132.6 453.1h0M179.9 424.7h0M183.4 434.5h0M134.4 440.9h0M183.6 430.1h0M134.0 448.7h0M131.3 442.9h0M201.0 430.4h0M151.0 428.7h0M129.2 456.4h0M200.8 431.9h0M127.4 453.8h0M185.0 424.7h0M192.8 427.0h0M130.6 452.0h0M165.5 424.1h0M151.8 431.1h0M126.8 454.0h0M204.1 439.9h0M131.3 459.6h0M187.1 425.3h0M197.9 429.1h0M177.4 424.1h0M156.8 426.1h0M189.6 441.4h0M130.9 407.5h0M176.3 425.1h0M174.7 440.2h0M127.5 456.1h0M132.8 448.7h0M129.6 404.5h0M191.8 426.6h0M136.4 436.5h0M169.1 424.6h0M123.7 464.7h0M192.2 428.8h0M179.4 424.3h0M126.8 455.8h0M202.1 435.6h0M137.6 437.2h0M162.3 425.9h0M130.5 449.9h0M127.4 457.0h0M194.3 430.4h0M160.8 434.2h0M126.1 461.2h0M178.0 423.3h0M187.9 424.4h0M165.7 434.1h0M130.0 397.1h0M198.6 431.4h0M197.7 428.9h0M129.2 463.9h0M130.1 406.7h0M197.3 428.6h0M128.3 460.6h0M131.3 448.4h0M129.8 404.2h0M128.2 405.3h0M192.0 428.8h0M206.6 433.9h0M198.9 432.3h0M194.6 430.9h0M128.0 399.1h0M208.2 435.1h0M205.7 436.5h0M129.6 463.1h0M125.4 457.9h0M125.5 466.3h0M131.6 449.9h0M172.7 426.5h0M202.7 432.0h0M190.1 428.0h0M207.0 438.6h0M194.9 427.1h0M201.9 434.3h0M129.4 444.9h0M136.3 438.6h0M156.2 425.0h0M203.9 433.0h0M181.1 423.9h0M129.3 392.7h0M197.5 428.5h0M128.9 446.9h0M132.0 448.7h0M133.8 440.0h0" stroke="#62b472" stroke-width="1.0" stroke-linecap="round" fill="none"/>
<path d="M174.7 422.6h0M184.0 423.3h0M198.4 429.2h0M198.4 429.2h0M177.3 424.8h0M177.8 423.8h0M190.2 428.0h0M193.5 428.0h0M204.3 433.8h0M172.5 422.3h0M185.2 423.8h0M206.4 438.0h0M204.3 434.6h0M190.4 427.4h0M177.7 440.7h0M178.1 424.8h0M177.4 423.9h0M186.8 426.1h0M182.6 424.3h0M194.5 426.0h0M178.7 422.8h0M206.3 433.8h0M188.1 425.4h0M196.8 429.2h0M205.4 432.5h0M192.4 427.3h0M191.7 426.8h0M202.7 430.5h0M206.9 438.2h0M208.8 435.6h0M197.9 429.2h0M188.5 427.8h0M204.7 434.2h0M207.3 436.1h0M179.9 424.4h0M185.8 425.6h0M182.8 422.2h0M199.5 429.5h0M199.0 431.2h0M191.1 427.1h0M187.6 425.0h0M200.5 431.0h0M178.7 421.7h0M173.6 423.6h0M207.6 439.2h0M184.5 423.4h0M207.2 438.8h0M180.4 422.0h0M202.4 431.5h0M205.4 437.1h0M193.4 429.6h0M179.6 424.8h0M205.4 433.1h0" stroke="#86c05e" stroke-width="1.0" stroke-linecap="round" fill="none"/>
<path d="M187.2 420.9h0M155.0 421.9h0M166.6 422.0h0M155.9 429.1h0M155.1 426.8h0M135.9 436.1h0M128.5 450.3h0M162.6 426.8h0M134.4 438.4h0M160.0 423.3h0M163.2 428.3h0M127.9 452.5h0M197.0 427.4h0M134.6 439.8h0M165.6 419.5h0M195.8 425.7h0M161.3 420.4h0M180.8 421.7h0M127.6 408.4h0M175.8 420.8h0M154.7 421.5h0M192.2 424.4h0M172.2 422.8h0M164.0 426.1h0M207.5 432.4h0M155.2 422.9h0M191.7 424.2h0M211.1 436.9h0M195.5 424.9h0M156.4 427.8h0M157.5 427.8h0M147.1 433.0h0M198.4 426.9h0M173.5 421.6h0M149.6 433.1h0M170.4 419.3h0M152.7 424.7h0M127.0 450.0h0M178.5 421.2h0M148.4 429.0h0M209.4 433.0h0M155.1 423.8h0M130.0 447.5h0M156.8 423.1h0M170.2 422.7h0M181.3 420.2h0M162.9 421.0h0M160.7 423.7h0M131.2 408.0h0M211.3 436.8h0M202.5 429.5h0M129.4 453.8h0M147.1 432.2h0M152.1 424.7h0M129.6 412.1h0M147.6 426.6h0M195.1 424.0h0M197.2 424.7h0M202.5 430.3h0M161.8 419.9h0M127.9 454.8h0M189.2 423.5h0M177.2 421.9h0M132.4 412.3h0M205.2 430.5h0M130.4 400.4h0M153.3 427.3h0M150.8 431.2h0M128.7 447.1h0M195.5 426.3h0M163.7 424.4h0M157.1 424.0h0M150.4 429.9h0M148.8 431.9h0M134.9 419.2h0M126.6 396.4h0M133.5 444.9h0M196.9 426.6h0M209.6 432.9h0M192.3 424.1h0M131.5 442.8h0M130.4 448.9h0M182.4 421.9h0M168.0 423.1h0M191.6 423.8h0M128.1 452.6h0M136.9 422.5h0M195.4 425.4h0M136.6 436.7h0M171.2 421.3h0M153.9 430.3h0M130.6 443.9h0M128.6 448.6h0M189.3 422.8h0M128.4 450.2h0M191.5 422.9h0M127.1 451.4h0M181.0 421.7h0M191.8 425.1h0M171.8 420.8h0M186.7 421.6h0M134.7 444.7h0M187.4 422.4h0M131.3 442.6h0M171.3 423.2h0M169.6 421.6h0M195.2 425.6h0M175.8 420.7h0M140.4 426.9h0M167.9 427.1h0M168.8 421.0h0M195.2 426.3h0M209.8 434.1h0M130.4 399.9h0M146.5 432.5h0M132.8 439.6h0M172.9 421.1h0M154.9 423.6h0M126.5 452.7h0M191.1 424.0h0M132.4 413.5h0M130.9 404.7h0M145.8 430.0h0M131.6 452.4h0M140.0 424.5h0M158.9 426.7h0M151.9 431.1h0M170.1 423.2h0M133.9 434.5h0M190.6 422.9h0M166.8 424.9h0M136.3 437.4h0M127.5 453.1h0M165.7 424.8h0M150.5 432.4h0M171.7 427.7h0M164.8 422.4h0M148.5 429.9h0M157.6 426.0h0M151.7 428.9h0M129.7 445.2h0M186.6 422.3h0M149.8 429.3h0M134.8 437.0h0M131.2 445.5h0M134.2 437.2h0M163.7 422.8h0M193.4 425.3h0M203.7 430.3h0M134.7 442.2h0M192.7 424.4h0M156.9 428.5h0M183.1 421.6h0M209.2 435.6h0M133.2 452.4h0M148.6 425.3h0M135.0 417.6h0M163.6 427.5h0M169.8 427.2h0M132.9 439.3h0M145.7 427.9h0M204.0 430.5h0M203.7 430.9h0M168.9 421.7h0M146.7 426.1h0M132.7 414.9h0M188.5 422.6h0M210.6 434.4h0M169.9 424.9h0M131.7 414.7h0M131.4 411.2h0M127.0 398.8h0M188.9 422.5h0M144.4 428.3h0M203.7 429.1h0M149.5 432.9h0M135.6 417.2h0M131.1 444.4h0M202.2 430.2h0M149.0 429.5h0M188.8 422.2h0M166.4 425.3h0M211.9 435.2h0M148.9 427.6h0M150.9 426.7h0M162.7 422.1h0M151.1 426.5h0M166.4 424.3h0M149.3 427.5h0" stroke="#a83a94" stroke-width="1.0" stroke-linecap="round" fill="none"/>
<path d="M202.6 431.9h0M183.6 426.3h0M174.7 422.5h0M194.9 426.4h0M176.1 423.7h0M193.0 426.1h0M199.3 432.0h0M199.4 430.4h0M196.6 428.3h0M185.3 433.0h0M189.2 427.9h0M181.3 425.3h0M196.9 428.7h0M185.0 424.0h0M195.0 427.4h0M183.0 425.9h0M177.1 421.9h0M162.2 433.2h0M203.6 431.9h0M173.1 421.9h0M188.4 427.1h0M206.2 433.7h0M209.8 437.4h0M192.6 428.6h0M172.3 444.0h0M203.5 433.6h0M195.6 426.7h0M206.3 435.5h0M192.8 429.3h0M179.8 425.5h0M184.2 425.7h0M175.6 423.9h0M209.1 439.6h0M180.3 422.3h0M197.3 427.8h0M208.4 437.4h0M193.4 428.2h0M193.9 426.7h0M172.9 423.6h0M175.7 423.4h0M202.5 434.1h0M167.7 434.7h0M204.3 433.6h0M190.8 425.0h0M199.8 431.7h0M192.5 427.9h0M204.4 432.8h0M197.8 428.1h0M196.4 427.9h0M202.5 432.0h0M193.9 428.8h0M175.5 423.2h0M204.4 431.1h0M200.4 429.7h0" stroke="#86c05e" stroke-width="1.0" stroke-linecap="round" fill="none"/>
<path d="M149.1 429.2h0M183.3 421.3h0M198.9 428.7h0M139.3 422.0h0M163.6 421.8h0M127.2 401.9h0M179.8 421.8h0M132.7 439.2h0M133.1 451.7h0M126.3 453.1h0M195.8 425.0h0M158.9 423.9h0M163.4 422.8h0M168.7 420.0h0M172.2 419.1h0M199.3 427.7h0M209.1 435.1h0M165.6 426.1h0M153.5 422.8h0M129.4 442.0h0M186.2 421.2h0M200.7 428.0h0M155.2 420.7h0M162.6 422.0h0M147.6 428.4h0M183.4 421.4h0M164.5 426.5h0M204.0 428.7h0M197.8 426.4h0M189.1 422.0h0M169.3 419.2h0M163.9 420.0h0M202.0 430.1h0M135.6 442.7h0M141.0 427.7h0M151.6 424.4h0M160.2 426.9h0M187.4 423.8h0M202.8 429.7h0M128.0 449.8h0M149.6 423.4h0M165.7 420.6h0M210.9 436.4h0M131.4 446.6h0M134.3 435.9h0M151.8 422.5h0M129.4 444.4h0M133.9 437.2h0M206.3 432.7h0M171.0 423.2h0M156.9 427.9h0M191.8 423.1h0M130.2 446.8h0M156.4 424.9h0M157.0 429.0h0M152.5 424.7h0M194.4 424.8h0M175.9 419.2h0M212.0 437.4h0M152.8 427.4h0M162.1 426.5h0M131.6 411.6h0M154.9 430.3h0M156.7 421.6h0M204.1 429.9h0M139.0 422.2h0M167.9 419.5h0M201.8 429.4h0M148.4 427.8h0M167.1 421.2h0M127.0 453.7h0M152.3 429.1h0M151.7 428.6h0M172.4 421.6h0M196.1 425.0h0M133.9 437.9h0M206.1 430.5h0M209.0 433.0h0M170.2 424.1h0M152.4 425.1h0M181.8 421.6h0M174.8 420.5h0M173.0 419.7h0M130.9 452.2h0M167.0 427.0h0M171.4 426.1h0M169.9 425.0h0M184.9 421.6h0M179.9 419.6h0M128.2 452.8h0M209.9 432.7h0M170.7 423.8h0M192.5 423.7h0M168.1 423.2h0M136.1 436.6h0M146.4 426.7h0M171.5 419.9h0M197.1 426.4h0M170.3 425.3h0M205.4 430.9h0M134.1 444.2h0M161.7 423.0h0M126.9 404.7h0M196.5 426.2h0M185.7 420.9h0M211.0 435.0h0M134.0 445.9h0M128.1 448.5h0M135.1 435.8h0M156.7 427.2h0M132.9 449.1h0M165.5 424.8h0M147.9 429.5h0M203.8 428.3h0M166.9 424.3h0M163.2 424.2h0M159.8 419.6h0M211.0 436.0h0M166.8 424.0h0M152.2 423.6h0M162.1 419.8h0M167.5 420.5h0M134.7 439.1h0M133.9 448.5h0M152.9 430.2h0M190.2 424.6h0M186.7 423.3h0M162.9 425.3h0M195.9 425.2h0M150.4 427.0h0M168.4 420.9h0M190.5 422.4h0M159.2 420.7h0M176.1 420.5h0M130.2 455.6h0M181.9 420.5h0M197.7 427.7h0M175.1 420.7h0M130.6 404.8h0M188.2 421.8h0M175.1 419.8h0M190.0 422.7h0M156.5 422.4h0M165.4 421.5h0M146.6 429.0h0M164.4 422.5h0M134.5 446.8h0M195.4 424.2h0M165.1 428.1h0M130.9 409.7h0M130.1 445.0h0M140.1 424.8h0M158.9 422.0h0M154.0 430.0h0M151.1 423.3h0M157.6 425.2h0M192.3 424.3h0M166.7 424.4h0M154.4 422.3h0M164.8 422.1h0M167.4 426.0h0M172.0 419.1h0M149.5 429.6h0M154.3 428.0h0M170.0 427.2h0M130.5 409.3h0M146.0 424.4h0M128.2 450.8h0M197.5 426.5h0M176.8 420.7h0M159.8 427.6h0M150.1 431.3h0M130.6 397.2h0M131.6 441.9h0M132.9 446.8h0M157.0 424.6h0M166.0 426.1h0M163.4 426.4h0M177.6 422.1h0M163.4 423.9h0M169.9 425.4h0M128.5 452.8h0M153.0 423.8h0M180.4 422.1h0M187.9 423.8h0M199.3 427.2h0M177.0 421.8h0M166.7 419.7h0M133.6 445.5h0M205.0 430.8h0M168.1 425.7h0M178.6 421.0h0" stroke="#a83a94" stroke-width="1.0" stroke-linecap="round" fill="none"/>
<path d="M136.0 441.6h0M124.3 462.5h0M172.3 424.2h0M194.5 428.7h0M200.9 452.5h0M131.4 450.1h0M131.9 442.8h0M131.1 459.5h0M132.0 447.6h0M130.6 459.7h0M129.7 460.2h0M197.3 429.6h0M128.5 461.3h0M172.7 422.6h0M133.5 442.6h0M179.8 423.5h0M204.8 440.3h0M194.0 426.2h0M204.5 436.5h0M133.8 445.3h0M174.4 423.0h0M209.2 438.7h0M132.3 446.4h0M186.1 424.0h0M129.0 394.6h0M206.2 439.5h0M187.4 444.4h0M203.9 434.3h0M126.7 454.5h0M126.3 457.3h0M200.9 449.5h0M131.3 465.1h0M136.3 437.5h0M126.6 454.1h0M135.9 441.3h0M181.7 428.8h0M203.4 432.4h0M129.1 460.4h0M204.4 461.3h0M134.6 435.8h0M206.9 439.0h0M125.6 461.5h0M168.3 423.9h0M129.0 447.3h0M192.4 430.2h0M150.8 430.4h0M201.6 432.3h0M132.0 447.0h0M130.9 449.2h0M128.0 463.8h0M197.5 428.0h0M130.3 448.9h0M134.9 443.6h0M128.3 405.5h0M205.3 439.4h0M134.7 437.5h0M184.3 429.0h0M172.9 421.3h0M131.4 447.9h0M203.9 434.1h0M189.6 424.9h0M131.6 445.5h0M185.2 444.1h0M129.9 457.5h0M174.2 432.7h0M203.7 438.1h0M127.8 398.1h0M203.8 435.6h0M126.7 457.3h0M161.6 425.6h0M170.6 428.4h0M182.7 425.7h0M130.9 462.3h0M165.1 427.6h0M199.2 465.3h0M134.3 440.5h0M124.3 467.2h0M201.1 430.4h0M131.0 467.1h0M125.8 466.8h0M134.1 436.1h0M208.2 440.7h0M190.2 427.3h0M125.1 457.5h0M192.3 429.6h0M191.9 430.4h0M205.8 437.2h0M147.8 434.0h0M132.8 436.3h0M127.5 467.5h0M155.2 427.6h0M124.8 463.7h0M200.1 431.0h0M179.5 422.6h0M208.7 439.5h0M123.7 465.2h0M164.5 436.6h0M198.9 432.1h0M201.4 437.4h0M127.1 394.0h0M128.7 461.8h0M201.2 434.0h0M180.4 424.3h0M168.7 424.0h0M136.3 441.0h0M126.7 464.2h0M127.8 456.1h0M198.3 433.3h0M172.8 425.9h0M189.8 428.9h0M129.9 459.0h0M174.6 421.8h0M162.8 428.1h0M187.1 443.4h0M170.0 427.2h0M193.6 440.1h0M204.4 432.0h0M203.6 431.3h0M131.0 466.4h0M200.5 431.0h0M171.1 425.4h0M210.0 437.1h0M133.5 451.4h0M209.7 436.7h0M196.5 429.5h0M157.0 425.8h0M209.8 437.5h0M169.8 424.8h0M195.3 431.1h0M198.5 434.7h0M134.8 443.2h0M172.3 424.1h0M127.1 454.3h0M132.4 453.2h0M193.6 432.8h0M129.8 455.1h0M208.1 439.3h0M180.6 424.7h0M149.8 428.5h0M197.5 434.1h0M182.7 429.0h0M204.0 433.8h0M205.8 441.3h0M167.7 426.5h0M210.3 438.2h0M177.0 427.0h0M177.8 425.5h0M198.9 431.5h0M174.2 422.8h0M135.9 437.4h0M130.9 451.5h0M135.8 440.9h0M193.8 428.0h0M192.3 429.5h0M130.7 442.5h0M202.1 432.2h0M134.1 435.7h0M190.1 427.6h0M192.9 425.6h0M125.9 458.0h0M130.8 449.0h0M209.2 438.4h0M208.3 435.9h0M202.8 432.6h0M205.1 436.6h0M200.9 433.7h0M185.5 437.4h0M167.4 428.5h0M187.8 425.5h0M129.6 459.3h0M173.3 424.7h0M158.6 428.6h0M196.4 432.8h0M171.8 423.5h0M181.1 426.5h0M207.4 434.9h0M131.5 466.0h0M169.1 445.0h0M127.0 452.0h0M124.3 459.1h0M173.2 425.3h0M128.6 399.9h0M131.3 444.8h0M127.5 394.0h0M196.3 433.4h0M132.1 442.3h0M178.5 425.6h0M207.2 437.9h0M127.2 396.9h0M132.2 440.4h0M189.1 426.3h0M199.2 431.0h0M129.2 396.7h0M193.5 425.8h0M161.7 424.1h0M132.0 440.1h0M192.9 427.4h0M127.4 467.3h0M128.5 463.1h0M149.3 428.2h0M125.8 457.2h0M127.9 466.6h0M159.9 426.3h0M149.6 433.2h0M131.5 444.0h0M125.4 465.0h0M206.6 436.4h0M148.1 432.7h0M160.5 427.6h0M188.4 431.1h0M135.0 441.9h0M129.5 401.3h0" stroke="#62b472" stroke-width="1.0" stroke-linecap="round" fill="none"/>
<path d="M151.1 426.6h0M161.6 423.6h0M160.3 423.8h0M143.5 428.9h0M156.5 424.2h0M158.9 423.0h0M165.4 424.2h0M145.4 426.1h0M153.6 425.6h0M163.2 422.5h0M172.7 420.1h0M185.7 422.6h0M166.4 419.9h0M169.4 421.4h0M154.2 423.6h0M154.6 421.2h0M152.9 421.5h0M164.0 420.4h0M163.3 422.8h0M160.3 423.9h0M165.7 419.5h0M155.1 420.6h0M201.7 427.9h0M170.5 421.1h0M171.3 423.0h0M151.1 422.5h0M142.4 427.0h0M165.7 419.9h0M169.6 419.8h0M154.6 425.0h0M149.9 425.4h0M162.8 427.4h0M148.6 423.1h0M147.7 423.7h0M167.9 420.0h0M149.8 423.3h0M150.2 423.5h0M171.5 420.2h0M164.8 426.2h0M154.3 423.3h0M204.5 429.8h0M183.1 420.1h0M161.2 420.9h0M168.1 422.9h0M201.0 427.4h0M168.2 426.1h0M174.6 421.5h0M169.3 420.6h0M172.6 419.9h0M164.9 420.8h0M170.8 427.6h0M160.2 422.9h0M157.0 422.2h0M163.7 422.0h0M166.5 420.2h0M155.7 425.4h0M201.0 427.7h0M159.5 422.8h0M171.9 421.0h0M151.2 428.1h0M153.1 423.9h0M165.9 420.8h0M153.5 425.2h0M175.1 420.4h0M146.9 424.0h0M171.6 418.7h0M147.5 426.7h0M146.5 429.0h0M159.1 427.0h0M164.6 428.2h0M162.0 422.7h0M167.4 419.3h0M159.9 426.8h0M185.4 421.3h0M155.0 420.7h0M165.2 420.5h0M211.7 436.8h0M147.5 430.1h0M167.8 422.6h0M155.8 429.0h0M147.2 427.2h0M156.8 423.5h0M146.8 423.5h0M173.9 421.1h0M156.9 423.3h0M144.4 428.4h0M159.2 426.5h0M148.1 427.5h0M159.3 428.4h0M155.7 427.9h0M159.9 421.9h0M147.2 428.0h0M155.0 422.6h0M147.0 426.6h0M171.7 425.3h0M151.0 424.8h0M148.8 423.3h0M155.4 425.7h0M157.8 420.5h0M146.7 426.6h0M169.7 426.6h0M146.0 428.5h0M203.9 430.5h0M156.3 421.2h0M160.2 423.7h0M164.5 423.2h0M164.4 422.0h0M171.4 427.7h0M147.7 424.0h0M155.5 420.1h0" stroke="#5056aa" stroke-width="1.0" stroke-linecap="round" fill="none"/>
<path d="M176.5 424.3h0M176.3 422.8h0M189.5 426.8h0M179.2 422.1h0M172.4 424.1h0M193.5 429.0h0M176.5 424.0h0M181.7 422.8h0M181.0 424.7h0M206.4 434.1h0M201.2 430.8h0M198.1 431.1h0M181.2 424.2h0M187.4 427.4h0M175.3 424.8h0M183.2 423.3h0M195.2 429.8h0M187.1 426.7h0M182.5 425.6h0M185.8 426.0h0M183.3 425.2h0M173.1 424.4h0M187.7 426.7h0M208.3 438.4h0M184.4 425.3h0M175.8 423.5h0M192.5 428.6h0M200.9 431.1h0M187.6 426.9h0M183.7 424.4h0M197.0 430.9h0M189.1 425.3h0M179.5 425.0h0M192.2 427.9h0M210.0 438.4h0" stroke="#d8b046" stroke-width="1.0" stroke-linecap="round" fill="none"/>
<path d="M134.1 418.6h0M137.1 422.5h0M135.2 417.2h0M137.1 422.8h0M130.1 408.2h0M131.4 404.3h0" stroke="#e27060" stroke-width="1.0" stroke-linecap="round" fill="none"/>
<text x="160.2" y="459.9" font-size="6.6" fill="#2aa8b0" font-weight="bold" stroke="#2aa8b0" stroke-width="0.2" textLength="21.3" lengthAdjust="spacingAndGlyphs">cluster</text>
<text x="170.9" y="467.6" font-size="6.6" text-anchor="middle" fill="#2aa8b0" font-weight="bold" font-style="normal" >1</text>
<line x1="183.5" y1="457.3" x2="201.9" y2="458.4" stroke="#414042" stroke-width="0.7" />
<text x="146.2" y="487.5" font-size="6.6" fill="#2f7fc0" font-weight="bold" stroke="#2f7fc0" stroke-width="0.2" textLength="21.3" lengthAdjust="spacingAndGlyphs">cluster</text>
<text x="156.9" y="495.2" font-size="6.6" text-anchor="middle" fill="#2f7fc0" font-weight="bold" font-style="normal" >0</text>
<line x1="132.7" y1="481.8" x2="144.5" y2="485" stroke="#414042" stroke-width="0.7" />
<rect x="295.6" y="385.3" width="22.2" height="14.70" fill="#481a6c"/>
<rect x="295.6" y="400" width="22.2" height="12.10" fill="#4b58a8"/>
<rect x="295.6" y="412.1" width="22.2" height="11.00" fill="#2f7f9c"/>
<rect x="295.6" y="423.1" width="22.2" height="9.30" fill="#20a38a"/>
<rect x="295.6" y="432.4" width="22.2" height="7.40" fill="#7dbb5a"/>
<rect x="295.6" y="439.8" width="22.2" height="56.50" fill="#f6e41e"/>
<rect x="326.3" y="385.3" width="22" height="1.60" fill="#481a6c"/>
<rect x="326.3" y="386.9" width="22" height="69.30" fill="#2f7f9c"/>
<rect x="326.3" y="456.2" width="22" height="33.20" fill="#20a38a"/>
<rect x="326.3" y="489.4" width="22" height="3.40" fill="#7dbb5a"/>
<rect x="326.3" y="492.8" width="22" height="3.50" fill="#f6e41e"/>
<line x1="294.6" y1="500.8" x2="349.7" y2="500.8" stroke="#9b93c4" stroke-width="1.2" />
<text x="295.4" y="510" font-size="6.6" fill="#2f6fb5" font-weight="bold" stroke="#2f6fb5" stroke-width="0.2" textLength="22.3" lengthAdjust="spacingAndGlyphs">Cluster</text>
<text x="306.6" y="518" font-size="6.6" text-anchor="middle" fill="#2f6fb5" font-weight="bold" font-style="normal" >0</text>
<text x="326.3" y="510" font-size="6.6" fill="#27a4b0" font-weight="bold" stroke="#27a4b0" stroke-width="0.2" textLength="22.3" lengthAdjust="spacingAndGlyphs">Cluster</text>
<text x="337.4" y="518" font-size="6.6" text-anchor="middle" fill="#27a4b0" font-weight="bold" font-style="normal" >1</text>
<text x="356.2" y="389.4" font-size="6.5" text-anchor="start" fill="#231f20" font-weight="normal" font-style="normal" stroke="#231f20" stroke-width="0.2" >19/28</text>
<text x="356.2" y="397.2" font-size="6.5" text-anchor="start" fill="#231f20" font-weight="normal" font-style="normal" stroke="#231f20" stroke-width="0.2" >day 6</text>
<text x="356.2" y="405.0" font-size="6.5" text-anchor="start" fill="#231f20" font-weight="normal" font-style="normal" stroke="#231f20" stroke-width="0.2" >(61%)</text>
<text x="359.6" y="480.4" font-size="6.5" text-anchor="start" fill="#231f20" font-weight="normal" font-style="normal" stroke="#231f20" stroke-width="0.2" >19/BB</text>
<text x="359.6" y="488.2" font-size="6.5" text-anchor="start" fill="#231f20" font-weight="normal" font-style="normal" stroke="#231f20" stroke-width="0.2" >day 6</text>
<text x="359.6" y="496.0" font-size="6.5" text-anchor="start" fill="#231f20" font-weight="normal" font-style="normal" stroke="#231f20" stroke-width="0.2" >(31%)</text>
<text x="263.8" y="477.1" font-size="6.5" text-anchor="start" fill="#231f20" font-weight="normal" font-style="normal" stroke="#231f20" stroke-width="0.2" >19/BB</text>
<text x="263.8" y="485.20000000000005" font-size="6.5" text-anchor="start" fill="#231f20" font-weight="normal" font-style="normal" stroke="#231f20" stroke-width="0.2" >day 15</text>
<text x="263.8" y="493.3" font-size="6.5" text-anchor="start" fill="#231f20" font-weight="normal" font-style="normal" stroke="#231f20" stroke-width="0.2" >(59%)</text>
<line x1="363.7" y1="419" x2="351.6" y2="438.8" stroke="#414042" stroke-width="0.7" />
<line x1="352.5" y1="462.7" x2="363.7" y2="471" stroke="#414042" stroke-width="0.7" />
<line x1="274.7" y1="465.6" x2="291.6" y2="451.7" stroke="#414042" stroke-width="0.7" />
<rect x="389.6" y="405.8" width="5.8" height="5.8" fill="#481a6c"/>
<text x="399.6" y="411.3" font-size="6.9" text-anchor="start" fill="#231f20" font-weight="normal" font-style="normal" stroke="#231f20" stroke-width="0.2" textLength="32.3" lengthAdjust="spacingAndGlyphs" >19/28 day 0</text>
<rect x="389.6" y="417.8" width="5.8" height="5.8" fill="#4b58a8"/>
<text x="399.6" y="423.3" font-size="6.9" text-anchor="start" fill="#231f20" font-weight="normal" font-style="normal" stroke="#231f20" stroke-width="0.2" textLength="32.7" lengthAdjust="spacingAndGlyphs" >19/BB day 0</text>
<rect x="389.6" y="429.8" width="5.8" height="5.8" fill="#2f7f9c"/>
<text x="399.6" y="435.3" font-size="6.9" text-anchor="start" fill="#231f20" font-weight="normal" font-style="normal" stroke="#231f20" stroke-width="0.2" textLength="31.9" lengthAdjust="spacingAndGlyphs" >19/28 day 6</text>
<rect x="389.6" y="441.8" width="5.8" height="5.8" fill="#20a38a"/>
<text x="399.6" y="447.3" font-size="6.9" text-anchor="start" fill="#231f20" font-weight="normal" font-style="normal" stroke="#231f20" stroke-width="0.2" textLength="32.7" lengthAdjust="spacingAndGlyphs" >19/BB day 6</text>
<rect x="389.6" y="453.8" width="5.8" height="5.8" fill="#7dbb5a"/>
<text x="399.6" y="459.3" font-size="6.9" text-anchor="start" fill="#231f20" font-weight="normal" font-style="normal" stroke="#231f20" stroke-width="0.2" textLength="35.2" lengthAdjust="spacingAndGlyphs" >19/28 day 15</text>
<rect x="389.6" y="465.8" width="5.8" height="5.8" fill="#f6e41e"/>
<text x="399.6" y="471.3" font-size="6.9" text-anchor="start" fill="#231f20" font-weight="normal" font-style="normal" stroke="#231f20" stroke-width="0.2" textLength="36.2" lengthAdjust="spacingAndGlyphs" >19/BB day 15</text>
<rect x="0.5" y="0.5" width="519" height="533" fill="none" stroke="#555555" stroke-width="1"/>
</svg></body></html>
